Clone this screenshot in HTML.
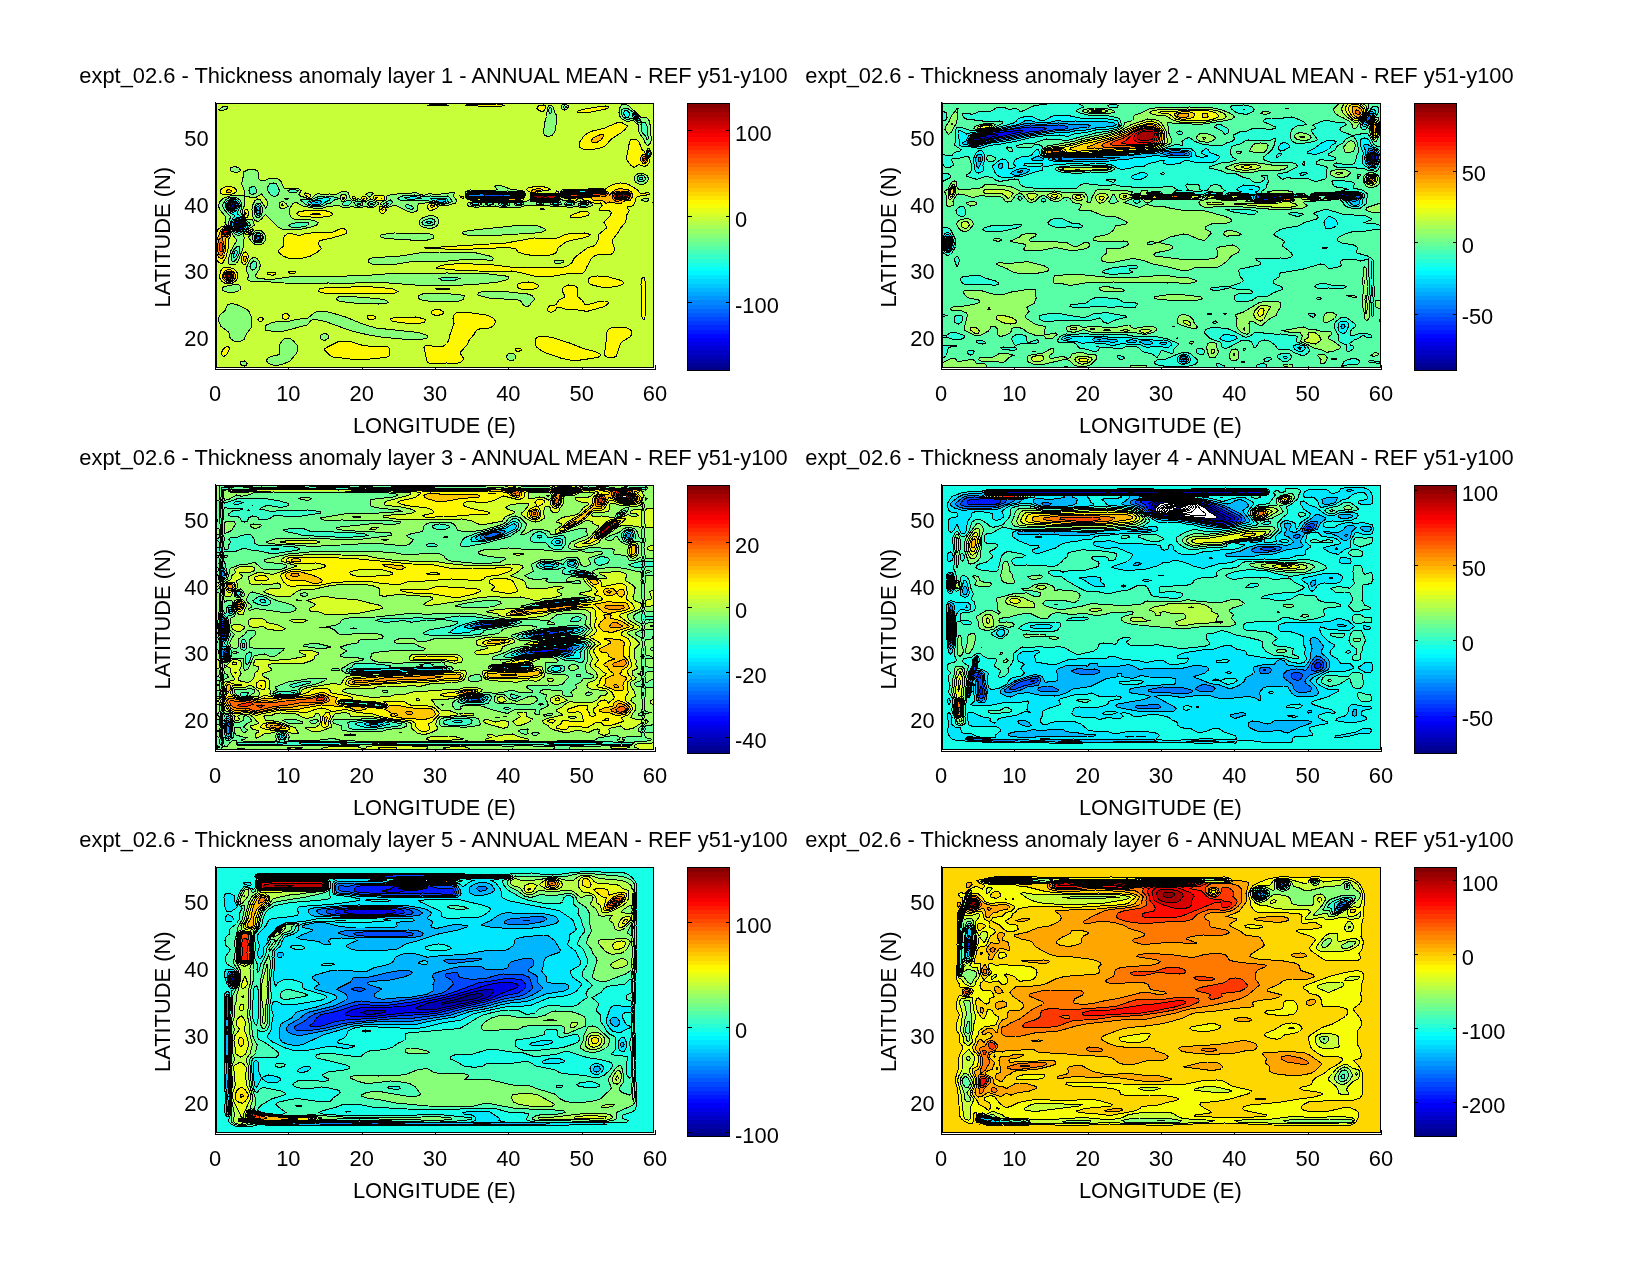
<!DOCTYPE html><html><head><meta charset="utf-8"><title>Thickness anomaly</title>
<style>html,body{margin:0;padding:0;background:#fff;overflow:hidden}svg{display:block;will-change:transform}text{font-family:"Liberation Sans",sans-serif;font-size:21.87px;fill:#000}</style></head><body>
<svg width="1650" height="1275" viewBox="0 0 1650 1275">
<defs><clipPath id="cp1"><rect x="-0.5" y="-0.5" width="438" height="265.5"/></clipPath><clipPath id="cp2"><rect x="-0.5" y="-0.5" width="438" height="266.5"/></clipPath><clipPath id="cp3"><rect x="-0.5" y="-0.5" width="439" height="265.5"/></clipPath><clipPath id="cp4"><rect x="-0.5" y="-0.5" width="439" height="266.5"/></clipPath></defs>
<rect width="1650" height="1275" fill="#fff"/>
<g shape-rendering="crispEdges">
<path d="M215.5 102V369.5H655.5" fill="none" stroke="#000" stroke-width="1"/>
<line x1="215.5" y1="369.5" x2="215.5" y2="364.5" stroke="#000"/>
<line x1="288.833" y1="369.5" x2="288.833" y2="364.5" stroke="#000"/>
<line x1="362.167" y1="369.5" x2="362.167" y2="364.5" stroke="#000"/>
<line x1="435.5" y1="369.5" x2="435.5" y2="364.5" stroke="#000"/>
<line x1="508.833" y1="369.5" x2="508.833" y2="364.5" stroke="#000"/>
<line x1="582.167" y1="369.5" x2="582.167" y2="364.5" stroke="#000"/>
<line x1="655.5" y1="369.5" x2="655.5" y2="364.5" stroke="#000"/>
</g>
<g transform="translate(216.5,103)" clip-path="url(#cp1)" stroke="#000" stroke-width="1" fill-rule="evenodd" shape-rendering="crispEdges"><rect x="0" y="0" width="437" height="264.5" fill="#000087"/><path fill="#000087" d="M0 0l437 0 0 264.5 -437 0 0 -264.5zM22.5 120.5l-0.5 2 0.5 0 0.5 0 -0.5 -2z"/><path fill="#0000c7" d="M0 0l437 0 0 264.5 -437 0 0 -264.5zM22.5 119.5l-2 1.5 0 1.5 2 1.5 2 -1.5 0 -1.5 -2 -1.5z"/><path fill="#0008ff" d="M0 0l437 0 0 264.5 -437 0 0 -264.5zM16 101l-1.5 1.5 0.5 1 1 1 1 -1 0.5 -1 -1.5 -1.5zM21.5 119l-2 2 0 1.5 1 1 2 1.5 2.5 -1.5 0.5 -1 0 -1.5 -1.5 -2 -1.5 -0.5 -1 0.5z"/><path fill="#0048ff" d="M0 0l437 0 0 264.5 -437 0 0 -264.5zM16 99.5l-1.5 0.5 -1.5 2.5 1.5 2.5 1.5 0.5 1.5 -0.5 1 -1.5 0.5 -1 -1.5 -2.5 -1.5 -0.5zM21.5 118l-2.5 1.5 -0.5 3 1.5 2 2.5 1.5 1.5 -0.5 2 -2 0.5 -1 0 -1.5 -2.5 -3 -1.5 -0.5 -1 0.5z"/><path fill="#0087ff" d="M0 0l437 0 0 264.5 -437 0 0 -264.5zM14.5 99l-2 2 -0.5 1.5 1 2.5 3 1.5 2.5 -1 1.5 -3 -1.5 -2.5 -1 -1 -1.5 -0.5 -1.5 0.5zM21.5 117l-3.5 2.5 -0.5 3 2.5 3 2.5 1.5 3.5 -2 1.5 -2.5 0 -1.5 -2.5 -3 -2.5 -1.5 -1 0.5zM267 91.5l1.5 1.5 6.5 0.5 11.5 -0.5 1 -1.5 -15 -0.5 -5.5 0.5z"/><path fill="#00c7ff" d="M0 0l437 0 0 264.5 -437 0 0 -264.5zM14.5 98l-2 1.5 -1.5 3 0 1 2 3 3 1.5 3 -1.5 2 -3 0 -1 -1 -2.5 -1.5 -1.5 -2.5 -1 -1.5 0.5zM22.5 115.5l-2.5 0.5 -1.5 1.5 -2 3.5 0 1.5 1.5 2.5 2 2 2.5 1 4 -2 2 -3.5 0 -1.5 -2 -2.5 -1.5 -1.5 -2.5 -1.5zM40 134l-0.5 1.5 1.5 1 1.5 0 0.5 -1 0 -1.5 -0.5 -0.5 -1.5 -0.5 -1 1zM41 107l0 0.5 0.5 0 -0.5 -0.5zM99.5 99.5l-1 0 1 0.5 2 -0.5 -2 0zM252.5 91l-1 0.5 0 1.5 1 0.5 12 -0.5 9 1 9.5 0 10.5 -1 2.5 -1 8 1 1.5 -0.5 0.5 -1 -2 -0.5 -8 0.5 -23.5 -1 -9.5 0.5 -10.5 0zM418.5 13l0 0.5 0.5 0 -0.5 -0.5zM419.5 14l-0.5 0.5 0.5 1 0.5 -1 -0.5 -0.5z"/><path fill="#08fff7" d="M0 0l437 0 0 264.5 -437 0 0 -264.5zM14.5 96.5l-3.5 3 -1.5 3 0.5 1 1.5 3 2 1.5 2.5 1.5 1.5 -0.5 1 -0.5 2.5 -2 1.5 -4 -1.5 -3 -2.5 -2.5 -2.5 -0.5 -1.5 0zM41 103.5l-1 1.5 -0.5 2.5 0.5 1.5 1 2 1.5 -0.5 1 -3 -0.5 -2.5 -0.5 -1 -1.5 -0.5zM98.5 98l-4 1.5 1 1.5 4 1 4 -1 1.5 -1.5 -0.5 -1 -1 -1 -2.5 0 -2.5 0.5zM220.5 97l-1 0 1.5 1.5 3.5 1 2.5 -0.5 2 -0.5 0 -1.5 -2 -0.5 -6.5 0.5zM252.5 90l-2 1.5 0.5 2 1.5 1 12 -1 12 1 19.5 -1 8 0 2 -0.5 0.5 -1.5 -1 -1 -1.5 -0.5 -51.5 0zM417 12l1 2.5 1.5 2 1.5 0.5 0.5 -1 -1.5 -2.5 -1.5 -2 -1.5 0.5zM21.5 114l-4.5 3 -1.5 2.5 -0.5 3 1.5 2.5 2 2.5 4 1.5 2.5 -0.5 2.5 -2 2.5 -4 -1.5 -3 -3.5 -4 -2.5 -1.5 -1 0zM40 132l-1.5 2 1 3 1.5 1 3 -1 0.5 -1.5 -0.5 -2.5 -1.5 -1 -2.5 0zM259 101l-0.5 0 1 0 -0.5 0zM287 101l-0.5 0 2.5 0 -1 -0.5 -1 0.5z"/><path fill="#48ffb7" d="M0 0l437 0 0 264.5 -437 0 0 -264.5zM14.5 95.5l-4.5 3 -1.5 2.5 0 2.5 2.5 4 3.5 3 2.5 1 1 1.5 -3.5 5.5 -1 2.5 0.5 1.5 2 3.5 2.5 3 4 1.5 2.5 -1 3 -2 2.5 -2.5 1 -2.5 -0.5 -1.5 -6 -7 -2.5 -2 -2 -0.5 0 -1 3 -7 0.5 -1 -1 -3 -2.5 -2.5 -2 -1.5 -2.5 -0.5 -1.5 0.5zM41 101.5l-2 2 -0.5 4 1.5 4 1 1 1.5 0 1.5 -1.5 0.5 -3.5 -0.5 -4 -1.5 -1.5 -1.5 -0.5zM110 94.5l-9 1.5 -4 1.5 -5 1 -1 1 1 1.5 3.5 1.5 4 0.5 4.5 -0.5 2.5 -1.5 2.5 -2 4 -2 0.5 -1.5 -2 -1 -1.5 0zM142 100.5l-1 0.5 1 0.5 2 -0.5 -2 -0.5zM154 101l2 0 -0.5 -0.5 -1.5 0.5zM170 100.5l-0.5 0.5 0.5 0.5 1.5 -0.5 0 -0.5 -1.5 0zM188.5 94.5l0.5 1 3.5 1 13 -1 -2.5 -1 -5 -1 -9.5 1zM211 118l-1.5 1.5 3 1 3 -1 -0.5 -1 -1 -0.5 -3 0zM215 95.5l-1 0 1.5 1.5 7.5 3 5.5 0 3 -1.5 -0.5 -2 -2.5 -1.5 -13.5 0.5zM251 90l-1 1.5 0 1.5 1 1.5 1.5 0.5 4 -0.5 8 -0.5 12 1 19.5 -1 9.5 0 1.5 -1 0 -1.5 -0.5 -1 -1 -1 -1.5 0 -51.5 0 -1.5 0.5zM323 101l-0.5 0 2.5 0 -1 -0.5 -1 0.5zM338.5 99.5l-1 0.5 -1.5 1 2.5 1 3.5 -1 -2 -1.5 -1.5 0zM366.5 87.5l-2.5 0.5 -18 1 0.5 0.5 22.5 -0.5 4 -0.5 11.5 -1 -6 -0.5 -12 0.5zM408 8l-1 2.5 1 2 1 1.5 1.5 0.5 1.5 -0.5 1.5 -2 -1 -2.5 -2 -2 -1.5 0 -1 0.5zM417 10.5l-1 0 -0.5 1.5 1.5 2.5 2.5 3 1.5 0.5 1.5 -0.5 0 -1.5 -1.5 -2.5 -1.5 -1.5 -2.5 -1.5zM423.5 74.5l-0.5 1.5 0.5 0.5 1.5 0 1 -0.5 -0.5 -1.5 -2 0zM431.5 48.5l-0.5 2 0.5 1.5 1 0 0.5 -1.5 -1.5 -2zM20 147.5l-1.5 0.5 -1 2.5 -1 2.5 1 1.5 1 -0.5 2 -2.5 0.5 -2.5 -1 -1.5zM40 131l-2.5 2 0 2.5 0.5 1.5 1 1 2 1 3 -0.5 1.5 -3 0 -2.5 -1.5 -1.5 -1.5 -1 -2.5 0.5zM257.5 99.5l-2 1.5 3.5 1 3.5 -1 -1.5 -1.5 -3.5 0zM272.5 101l1 0 0.5 0 -0.5 0 -1 0zM287 99.5l-2.5 1.5 1 1 2.5 0.5 3.5 -1.5 -2 -1.5 -2.5 0zM301.5 99.5l-2 1.5 3.5 1 2 -1 -1.5 -1.5 -2 0zM352 99.5l-1 0 -1 1.5 3.5 1 2 -1 -1 -1.5 -2.5 0zM365.5 100l-1.5 1 2.5 1 3.5 -1 -2 -1 -2.5 0z"/><path fill="#87ff78" d="M0 0l437 0 0 264.5 -437 0 0 -264.5zM14.5 94l-2.5 1 -3 2 -2.5 4 -0.5 2.5 2.5 4 5 5.5 0 2.5 -1.5 4 0.5 3 5 7.5 2.5 2 2.5 0.5 2.5 -1 7 -6.5 1.5 -2.5 0 -1.5 -1 -1.5 -4.5 -3 -3 -5 -1 -2.5 1.5 -6.5 -0.5 -3 -1.5 -2.5 -4 -2.5 -2 -0.5 -3 0zM36 83.5l-3 1.5 -0.5 2.5 1 3 2.5 1 1 -0.5 2 -0.5 1 -1.5 0 -2.5 -1.5 -2.5 -2.5 -0.5zM53 81l-1.5 2.5 -0.5 3 1 2.5 2.5 3 2.5 1.5 3 -0.5 1.5 -1.5 1 -2.5 0 -2.5 -1.5 -4 -1 -1.5 -3 -1 -4 1zM69 95.5l-0.5 0 0.5 1 1.5 0.5 1.5 -1.5 -3 0zM71.5 87.5l1 1.5 3 1 4 -0.5 1 -0.5 1 -1.5 -4.5 -1 -2.5 0 -3 1zM109 93l-8 1 -5.5 2.5 -2.5 0.5 -6.5 -1 -2.5 1 4.5 4 2.5 1.5 4.5 1 5.5 0.5 5.5 -1 3.5 -2 4 -1 4 -3 3 -0.5 0.5 -1 -0.5 -0.5 -7 -2 -5 0zM133 97l-1.5 0 -4.5 2.5 -1 1.5 1 1.5 2 0.5 3 -0.5 3 -3 0 -1 -2 -1.5zM141 98l-4 1.5 2.5 3 1.5 0.5 2.5 0 2 -0.5 1 -1.5 -0.5 -1.5 -1 -0.5 -4 -1zM153 99l-2 2 2 2 3.5 0 2 -2 0 -1.5 -2 -0.5 -2.5 -0.5 -1 0.5zM171.5 98l-4 2.5 -0.5 0.5 1 1.5 2 0.5 1.5 0 1.5 -0.5 3 -3 -0.5 -1 -1.5 -1.5 -2.5 1zM186 93l-4 1.5 -0.5 1 1.5 1.5 8.5 1 6.5 -0.5 6.5 0.5 5.5 -0.5 6.5 1.5 9.5 2.5 5 -1 4.5 -2 -0.5 -1.5 -2 -2.5 -2 -1.5 -9 1 -8 -1 -7 0.5 -9 -1.5 -12 1zM251 89l-1 1.5 -0.5 2.5 1.5 2.5 1.5 0 4 -0.5 20 0 19.5 -0.5 9.5 0 2 -1.5 0.5 -1.5 -0.5 -1 -2 -2 -14.5 -0.5 -12 0.5 -26.5 0 -1.5 0.5zM321.5 99.5l-1 0 -1 1.5 4.5 1 3.5 -1 -1 -1.5 -5 0zM333.5 4.5l-1.5 2 0 1.5 1.5 2.5 1 -0.5 1 -2 -0.5 -2.5 -1.5 -1zM336 99.5l-1.5 0 -1 1.5 4 1.5 4 0 3.5 -1.5 -1 -2 -8 0.5zM346.5 3.5l0 1 1.5 1 2 -1.5 -2 -1.5 -1.5 1zM377 86.5l-30.5 1.5 -2 1 1 1.5 1 0 28.5 -1.5 11.5 -1.5 -0.5 -1 -1 -0.5 -8 0.5zM408 5l-2.5 1.5 -0.5 3 0.5 2.5 1.5 2.5 3.5 2 2.5 -0.5 1.5 -1 1 0 5.5 4 2.5 1 1 -1.5 -1 -2.5 -4 -5 -9 -6 -2.5 0zM426.5 19.5l-1.5 0.5 -0.5 1.5 0.5 6.5 1.5 2.5 2.5 2.5 1.5 3.5 1 -0.5 0.5 -1.5 -1 -4 -0.5 -8 -1.5 -2.5 -1.5 -0.5 -1 0zM21.5 143l-1.5 1 -2.5 2.5 -2.5 5 -0.5 5.5 1.5 1.5 1.5 0 2.5 -2.5 3 -6 0.5 -5 -1 -1.5 -1 -0.5zM40 100.5l-2 3 -0.5 5.5 0.5 2.5 2 2.5 1 0.5 1.5 0 2 -1.5 1 -2.5 0.5 -5.5 -2 -4 -1.5 -1 -1.5 0 -1 0.5zM81 119.5l-6.5 1.5 -2 1.5 2 1.5 6.5 0.5 6.5 -1 3.5 -1 1.5 -1.5 -0.5 -1.5 -1.5 -0.5 -9.5 0.5zM190 101.5l-1 1 0 1 1.5 1.5 5 1.5 1.5 -1.5 -1 -1.5 -2 -1 -2.5 -1 -1.5 0zM212.5 115.5l-5.5 2 -1 1 -0.5 1 0.5 1.5 2.5 1.5 4 0.5 2.5 -0.5 3 -1.5 0.5 -2.5 -0.5 -1.5 -3 -1.5 -2.5 0zM228.5 174l-6 1.5 2.5 1.5 7.5 0 6.5 0 4 -1.5 -4 -1.5 -10.5 0zM256.5 99.5l-3 1.5 1.5 1.5 4 0.5 4 -0.5 2 -1.5 -1.5 -1.5 -2 -0.5 -2.5 0 -2.5 0.5zM272.5 99.5l-3.5 1.5 2 1 2.5 0.5 3.5 -1.5 -2.5 -1.5 -2 0zM284 99.5l-2 1.5 1 1.5 2.5 1 5.5 -0.5 1.5 -0.5 1 -1.5 -1.5 -1.5 -2.5 -0.5 -5.5 0.5zM300 99.5l-2.5 1.5 1.5 1.5 1 0 4 0 3 -1.5 -0.5 -1.5 -1 0 -2.5 -0.5 -3 0.5zM349.5 99l-1.5 2 1.5 1.5 2.5 0.5 4 -0.5 2 -1.5 -1.5 -1.5 -3 -1 -3 0 -1 0.5zM364 99.5l-2.5 1.5 1 1.5 3 1 4 -0.5 3 -2 -1.5 -1.5 -1.5 0 -5.5 0zM422.5 72.5l-2 2 0 1.5 0.5 1 1.5 1.5 1 0.5 3 -0.5 2 -1.5 0 -2.5 -1 -1.5 -2.5 -1 -2.5 0.5zM431.5 47.5l-1 1.5 0 1.5 1 2.5 1.5 0 0.5 -1 0 -3 -0.5 -1 -1.5 -0.5zM38.5 130l-2 1.5 -1 2.5 1 3 0.5 1 1.5 1.5 2.5 0.5 3 -0.5 1 -0.5 2 -3.5 0 -1.5 -1 -2.5 -3.5 -2 -2.5 0 -1.5 0.5zM36 159l-2 2 -0.5 2.5 1 2.5 1.5 1 2.5 -1 1.5 -2 0.5 -2 -0.5 -2.5 -1.5 -1 -1.5 -0.5 -1 1z"/><path fill="#c7ff38" d="M0 0l437 0 0 264.5 -437 0 0 -264.5zM6.5 3.5l-2.5 2 -1.5 1 1.5 1.5 2.5 -0.5 2.5 -1 2 -1 0.5 -1.5 -2 -1 -3 0.5zM17.5 63.5l-3.5 1.5 0 1.5 0.5 1.5 3 1 2.5 0.5 2.5 -1 1 -0.5 0 -1.5 -1 -1.5 -2.5 -1 -2.5 -0.5zM33 66l-6 3 -0.5 1.5 0 4 -1.5 6.5 2.5 5.5 0.5 6.5 5 1 5.5 0 1.5 0 4 -2.5 1 -0.5 5 6 1 2.5 0 3 -2 2.5 -5 -8 -3 -1 -1 0.5 -1.5 1 -2.5 5 -0.5 4 0.5 6.5 1 2.5 1 1.5 2 1 2.5 0 2.5 -2 4 -4.5 12 12 4 2.5 13.5 1 5 -0.5 11 -2.5 5 -1.5 1.5 -1.5 0.5 -1.5 -1.5 -1 -3 -1 -5.5 -1 -12 0 -2.5 -0.5 -2 -1.5 -2 -3 0.5 -6.5 2.5 -4 2 -1.5 2 0 6.5 3.5 13 2.5 5.5 0 6.5 -2 9.5 -1 2.5 0.5 2.5 1.5 3 0.5 6.5 -1.5 5.5 1.5 8 -1.5 4 1 2.5 0 3.5 -1 3 -2.5 0 -1.5 -8 -3.5 -5 3 -3 -1 -4 -2.5 -4 2 -2.5 -0.5 -2.5 -2.5 -0.5 -3 -1 -2 -2.5 -1 -4 0 -4 2.5 -3 0.5 -5 -0.5 -6.5 0.5 -5.5 -1 -2.5 1.5 -3 3 -1 0.5 -3 0 -7.5 -2.5 -1.5 -1.5 2 -4 -2 -1.5 -4 -0.5 -9.5 0 -1.5 -0.5 -3 -6.5 -2 -2 -2.5 -1.5 -5.5 0 -8 3 -2.5 -0.5 -1.5 -1.5 -0.5 -5.5 -1 -2.5 -4 -2 -4 0zM154 89l-3.5 1.5 -1 1 3.5 2.5 1 -0.5 2.5 -3 -1 -1.5 -1.5 0zM216.5 1.5l-2.5 0 -3 1 8 0.5 13.5 -0.5 -4 -1 -12 0zM235 89l-3.5 1.5 -5.5 0 -5.5 1.5 -8 -1.5 -4 1.5 -2.5 0 -2 -0.5 -3.5 -1.5 -2.5 -0.5 -5.5 1 -6.5 0 -10.5 1 -5 1.5 -1 4 -4.5 2.5 -1.5 1.5 5 3 3 0.5 5 -2 3 0 12 6 4 1 2.5 -0.5 3 -1.5 0.5 -1 -0.5 -4 1 -1.5 1 -0.5 12 -1 9.5 3 4 0.5 2.5 -0.5 8 -2.5 1 -1.5 0 -1.5 -3.5 -4 0 -1.5 1.5 -1 0.5 -1.5 -3.5 0zM279 83l-1 0.5 2.5 3 -1.5 1 -25.5 -0.5 -2.5 0.5 -1.5 1 -0.5 2 0 4 2 2 1.5 0 4 -1 21 0 18.5 -0.5 9.5 0 2 -0.5 1.5 -3 0 -1 -1 -1.5 -2.5 -1.5 -10.5 -1 -9.5 -3.5 -4 -0.5 -2.5 0.5zM333.5 2l-1.5 1 -1 2.5 -1 8 -1.5 5 -1.5 10.5 0 1.5 1 1.5 2 1 2 0.5 4 -1.5 2 -3 1 -2.5 1.5 -12 -0.5 -2.5 -1.5 -2 -2 -6 -2 -2 -1 0zM348 1l-2.5 1 -1 2 1 2 2.5 1 2.5 -1 1.5 -2 -0.5 -1.5 -1 -0.5 -2.5 -1zM357.5 86.5l-12 0.5 -2 2 0 1.5 3 0.5 33.5 -2 6.5 -1 1 -0.5 0 -1 -1 -1 -1.5 0 -27.5 1zM408 1l-3 1 -2 3.5 -0.5 4 1 4 2 2.5 3.5 2 3 0.5 3.5 -1.5 1.5 0.5 4.5 4 0.5 1 0 5.5 1 2.5 4 5.5 2 4.5 1.5 1.5 1 0.5 2.5 -2.5 1 -4 -1.5 -8 0 -6.5 -1 -4 -2 -2.5 -1.5 -0.5 -4 0.5 -5.5 -5.5 -6.5 -6 -2.5 -1.5 -2.5 -1zM14.5 92.5l-8 3 -3 3 -1.5 4 1 4 5.5 6.5 0.5 2.5 -0.5 4 0.5 1.5 4.5 4.5 3.5 7.5 3.5 4 -6 10.5 -3 9.5 0 2.5 1 1.5 3.5 1 2.5 -0.5 1.5 -1 2.5 -4.5 4 -11 0 -7 1.5 -2.5 -1 -2.5 0.5 -2.5 3 -3.5 5.5 -3.5 1.5 -1 0 -1.5 -0.5 -2.5 -1 -1.5 -1.5 -1 -1.5 0 -2.5 0.5 -1.5 0 -1.5 -2 -1 -3 -0.5 -4 2.5 -6.5 -0.5 -8 -5.5 -1 -8 0.5zM40 127l-5.5 4.5 -2.5 2.5 2.5 4 2.5 2.5 3 1.5 4 -0.5 2.5 -1 2 -2.5 1 -2.5 -0.5 -2.5 -1.5 -2.5 -2.5 -2.5 -2.5 -1 -2.5 0zM178 130l-12 1.5 -1 0 -1 1.5 0.5 1 4 1.5 25.5 1.5 17 0 5.5 -1.5 1 -1.5 -0.5 -1 -1 -1.5 -5 -1 -33 -0.5zM212.5 112.5l-6.5 2.5 -2.5 2 -1 2.5 0 1.5 2 2 2.5 1.5 7 1 4 -1 2.5 -2 1 -1.5 0.5 -2.5 -0.5 -3 -1 -1 -1.5 -1 -2.5 -1 -4 0zM223 149l-20 1 -22.5 3.5 -24 1 -3.5 1.5 -1.5 1 0 1 1 1.5 3 1.5 5 0.5 8 0 12 -0.5 15 -2.5 25 0.5 28 -2.5 22.5 0.5 5 0 1 -1.5 -1.5 -1.5 -2.5 -1 -13 -3 -23.5 -1 -13.5 0zM344 95.5l-0.5 1.5 -2 1.5 -5.5 0 -5.5 1.5 -6.5 -1.5 -8 0.5 -1.5 -0.5 -1 -2.5 -2.5 2 -4 0.5 -5.5 0 -5.5 1.5 -8 -1.5 -2.5 0 -5 1.5 -7 -1 -6.5 0.5 -8 -1 -6.5 1 -2 1.5 0 1.5 3 1 7 1 6.5 -1.5 6.5 0.5 5.5 -0.5 6.5 2 17.5 -0.5 6.5 -2 8 0 6.5 0.5 5.5 -1 8 2 9 -0.5 7 1 6.5 -1 6.5 1.5 3 -0.5 5 -1.5 1 -0.5 0 -1.5 -2 -1.5 -3 -0.5 -6.5 -1 -5.5 1.5 -6.5 -2.5 -5.5 0.5 -2.5 -2zM423.5 70l-2.5 1 -2.5 2 -0.5 1.5 0 2.5 1.5 2.5 3 1.5 2.5 0.5 2.5 -0.5 3.5 -2.5 0.5 -1.5 0 -2.5 -0.5 -1.5 -2 -1.5 -2.5 -1 -3 -0.5zM431.5 45.5l-1.5 2.5 0 2.5 1.5 3.5 1.5 0.5 1.5 -2.5 0 -3 -1.5 -3.5 -1.5 0zM16 182l-8.5 1.5 -1.5 1.5 0 1 0.5 1.5 2.5 1 5.5 1.5 6 -1.5 2.5 -1 1 -1.5 0 -2.5 -1.5 -1.5 -2.5 -0.5 -4 0.5zM36 155l-3 2.5 -2.5 6 -0.5 2.5 0.5 3 2 4 -1.5 2.5 0.5 1.5 2 1 3.5 1 11 -0.5 19.5 1.5 28 0.5 16 -0.5 18.5 0.5 17.5 -1 18.5 0 38.5 3 33.5 0 25 -1.5 18.5 -2 8 -2 2.5 -1.5 0 -1.5 -3 -1 -20.5 -2.5 -38.5 -0.5 -20 1 -17.5 -0.5 -24 0.5 -19.5 1.5 -36 1 -28 0 -12.5 0.5 -14 2 -10.5 0 -7 -1 -2.5 -2 4.5 -7 0.5 -2.5 0 -2.5 -1 -3 -2 -2.5 -2 -1 -2.5 0.5zM305.5 122l-53 5.5 -6 1.5 -0.5 1.5 2 1 4.5 1 16 0.5 50.5 -3 6.5 -1 3.5 -1.5 0 -1 -2.5 -1.5 -5 -2 -8 -1 -8 0zM341.5 157l-4 1 0 1.5 2.5 1 2.5 0 4 -1 0.5 -1.5 -2.5 -1 -3 0zM427.5 95.5l-2.5 1.5 4 1.5 1.5 0 1 -1 0 -2 -1 -0.5 -3 0.5zM14.5 200.5l-3.5 1.5 -2.5 5.5 -5.5 5 -1 3 0 2.5 2.5 5.5 7.5 5.5 0.5 1 0.5 4 2 2.5 3.5 2 5.5 0 3.5 -2 3 -6.5 4.5 -5.5 0.5 -1 -0.5 -9.5 -2.5 -5.5 -2 -2 -10.5 -5 -5.5 -1zM101 208.5l-3.5 1.5 -6 5 -12.5 1.5 -8.5 2.5 -9.5 -0.5 -6.5 1.5 -4.5 2 -1.5 1.5 0 2.5 1 1.5 5 0.5 13 0 23 -6 1.5 -1.5 2.5 -3 2.5 -1 2.5 0 9.5 2 24.5 9 16.5 4 14 2.5 32.5 3 10.5 -1 3 -0.5 1.5 -1.5 -1 -1.5 -2 -1 -6.5 -2 -42.5 -4.5 -12 -3.5 -18.5 -7.5 -15 -4.5 -7.5 -1.5 -5.5 0.5zM122 194l-1 0 -1 1.5 0.5 1 2 1.5 9 1.5 12 1 18.5 0.5 7 -0.5 2.5 -1 -1 -1.5 -3 -1.5 -7.5 -1 -26 -2 -12 0.5zM206 191l-4 1.5 -0.5 1.5 0.5 1.5 2 1 3 1 9.5 1 16 0 10.5 -0.5 4 -1.5 0.5 -2.5 0.5 -1.5 -7 -1 -12.5 -1 -14.5 0 -8 0.5zM265.5 188.5l-3.5 1.5 -1 1.5 1.5 1 10 2.5 29 2 2.5 1 3 4 2.5 1.5 2 0 2 -1.5 1.5 -2.5 3 -3 0 -1 -2.5 -3 -4.5 -1.5 -28 -3 -10.5 0 -7 0.5zM25 258.5l-1 0.5 0 1.5 1 2 3 0.5 2 -1 0.5 -1.5 -1.5 -2 -1 -0.5 -3 0.5zM69 235l-2.5 2 -4 5 0 2.5 1 5.5 -0.5 1 -2 1 -6.5 1.5 -3 1.5 -1 1.5 -0.5 1.5 2 2.5 2.5 1 4 1 4 -0.5 5.5 -1.5 5.5 -2.5 6 -7 1.5 -2.5 0 -2.5 -0.5 -4 -3.5 -4 -2.5 -2 -3 -1 -2.5 0zM106.5 231l-2.5 1.5 -0.5 1.5 1.5 2.5 1.5 0.5 2.5 0 2.5 -1.5 0.5 -3 -1 -1 -2 -1 -2.5 0.5zM292 250.5l-1.5 2 -0.5 1.5 0.5 1 1 1.5 2 1 2.5 0 2 -1 1 -1.5 0.5 -1 -0.5 -1.5 -1.5 -1.5 -2.5 -0.5 -3 0zM124 93l1 -1 1 -0.5 3 0.5 1 1 0 1.5 0 1 -2.5 2.5 -2.5 0 -1.5 -2.5 0.5 -2.5zM63.5 99.5l1.5 -1 2.5 0.5 2.5 2 1 1.5 0.5 1 -4 2 -2.5 0 -1 -0.5 -1.5 -1.5 0 -1 1 -3z"/><path fill="#fff700" d="M250.5 1.5l30 -0.5 5 0.5 2 1 -4.5 1 -8 0 -26.5 -1 2 -1zM322.5 2.5l4.5 -0.5 2 0.5 0.5 1.5 -1.5 3.5 -1 0.5 -3 0 -3 -1.5 -0.5 -1 0.5 -1.5 1.5 -1.5zM380.5 4l8.5 -1 3 1 -1 1.5 -4 1 -15 3 -8 0.5 -3 -0.5 0.5 -1.5 4.5 -1.5 14.5 -2.5zM400 20l4 -0.5 2 0.5 4.5 2.5 0 1.5 -1.5 2 -4 3.5 -10 6.5 -7 7.5 -5.5 2 -8 1 -8 -0.5 -3.5 -2 -0.5 -3 1 -2.5 4 -5.5 3 -2.5 5.5 -2.5 11 -2.5 13 -5.5zM414 37l1.5 -1 3 0 2 1 2 2 2.5 6 0.5 1.5 2 1.5 3 5 2.5 4 -0.5 3 -2 2.5 -3 1 -5 -2 -4 2.5 -1.5 0 -2.5 -1.5 -2.5 -3.5 -1.5 -2 -0.5 -2.5 3 -15.5 1 -2zM398.5 81l5.5 -1 5 0.5 4 1.5 7.5 4.5 3 3.5 3 0.5 5 -1 1.5 1 0 1 -12 2 -2 2 -0.5 4 -1.5 2.5 -1.5 1 -4.5 0.5 -0.5 1.5 2.5 2.5 -2.5 4 -1.5 8 -5 5.5 -2 4 -6 8 0 2.5 2 6.5 -1 3.5 -2.5 2 -2.5 0.5 -9.5 -0.5 -4 1 -3.5 3 -4.5 8 -1.5 4 -2.5 2.5 -4 0.5 -13 0.5 -15 2.5 -10.5 0.5 -6.5 -1 -14.5 -3.5 -8 -1.5 -14.5 0.5 -37.5 -1 -23.5 -2.5 2.5 -1.5 5.5 -1.5 10 -1 8 -0.5 32 1.5 16 2 22.5 1 13.5 -1 14.5 0.5 4 -0.5 4 -1.5 3.5 -3 2 -4 2.5 -2.5 10.5 -8 6.5 -2 3 -2.5 1.5 -3.5 0.5 -5.5 8 -6.5 0 -1.5 -2.5 -4 0.5 -1 5.5 -5.5 1 -2.5 0 -1.5 -1.5 -1 -2.5 -0.5 -5.5 0.5 -2.5 -0.5 0 -1 2.5 -3 0.5 -1 -0.5 -1.5 -1 -1 -5.5 0.5 -6.5 -2.5 -5 -1 -1.5 -1.5 -1.5 0 -2.5 0 -1.5 1.5 -1.5 1 -1 0 -5.5 -2 -6.5 -1.5 -1.5 -1.5 0.5 -1.5 40.5 -2.5 3.5 -1.5 0.5 -1.5 3 -2.5 6.5 -2.5zM10 83.5l3.5 0 4 1 2 2 0.5 1 -0.5 1.5 -2 1.5 -7 1.5 -3.5 -0.5 -3 -1 -0.5 -1.5 0 -1.5 1 -1 2 -1.5 3.5 -1.5zM318.5 83.5l9.5 0.5 3.5 1 2 1.5 -3 1 -9 1 -1 0.5 1 1.5 16 0 1 0 1.5 -2.5 1.5 0.5 2.5 4.5 -1.5 4 -1 1 -1.5 0 -9.5 1 -14.5 -1 -1 -1 -1 -1.5 -0.5 -6.5 -2.5 -1.5 -1 -1 1.5 -1.5 2 -0.5 5 -1zM87.5 90.5l1.5 -0.5 2.5 0.5 2 1 1 1.5 -1.5 1.5 -1.5 -0.5 -4 -2.5 0 -1zM136.5 93l1.5 0.5 1 1 -0.5 1 -1.5 0.5 -1.5 -1 0 -1.5 1 -0.5zM157.5 93l2 -1 6.5 0 1.5 1 0.5 2.5 -0.5 1.5 -1.5 0.5 -6.5 -0.5 -3 -1.5 0 -1 1 -1.5zM243.5 93l3.5 0.5 0 2 -3 -1 -0.5 -1.5zM125.5 94.5l0.5 -0.5 1.5 0 0.5 1.5 -2 1 -0.5 -1 0 -1zM145 94.5l1 -1 3 0 1 1 0.5 1 -0.5 1.5 -2.5 0.5 -2.5 -2 0 -1zM263 95.5l14.5 0.5 18.5 -0.5 8 0 2.5 0 0.5 1.5 -11 2 -8 -1 -7.5 1 -7 -0.5 -6.5 0 -6.5 -1 -5.5 0.5 -1.5 -1 3 -1 4 0.5 2.5 -1zM437 98.5l0 -0.5 0 3.5 -0.5 -2 0.5 -1zM66 101l1 1.5 -0.5 0.5 -1.5 -0.5 0 -1 1 -0.5zM212.5 101l2.5 -0.5 3 0.5 2.5 1.5 1 1 -1 1.5 -2.5 1.5 -4 1 -1.5 -0.5 -1.5 -2 0 -2.5 1.5 -1.5zM163.5 103.5l2.5 0 2.5 1.5 1 1.5 0 1 -2 2.5 -3 0 -2 -2.5 0 -2.5 1 -1.5zM324 105l3 0 0.5 1.5 -2 0.5 -1 -0.5 -0.5 -1.5zM29 106.5l1.5 -0.5 1.5 3 0 2.5 -1.5 3 -1.5 0.5 -1.5 -3.5 0 -2.5 1.5 -2.5zM89.5 107.5l20.5 0.5 3.5 1 2 1.5 0.5 1 -2 1.5 -2.5 0.5 -9 1 -16 -1 -3.5 -0.5 -2 -1.5 -0.5 -1 1.5 -1.5 7.5 -1.5zM363 109l2.5 -0.5 4 0 2 0.5 1.5 1.5 -1 1.5 -4 1.5 -8 1.5 -6 -0.5 0 -1.5 2 -1.5 7 -2.5zM5.5 123.5l2.5 -0.5 2.5 1 3 2.5 1 4 -0.5 2.5 -2.5 4 0 9 -2 8 -3 5.5 -1 1 -1.5 0 -2.5 -2 -1.5 -1.5 0 -27.5 1.5 -3 4 -3zM34 126.5l2 -0.5 0.5 0.5 0 1 -3.5 3.5 -2.5 1 -1.5 -0.5 0 -1 1 -1.5 4 -2.5zM122 126.5l3 -1 2.5 0 2.5 2 0.5 1.5 -1 1.5 -2 1 -12 3.5 -9.5 2 -3 1 -1 1.5 0 1.5 2.5 4 0 1 -3.5 3 -8 4.5 -6.5 1.5 -15 0 -5 -2 -2.5 -2 -2 -2 0 -1.5 4.5 -4 0.5 -1.5 0.5 -8 0.5 -1 2.5 -2 4 -0.5 8 2 6.5 -2 5.5 -0.5 22.5 -1 5 -2.5zM355.5 130.5l12.5 -0.5 6 1.5 -1.5 1.5 -6 2 -13 2.5 -4 1.5 -8 6 -1.5 4 -1 1 -3 1.5 -5.5 1 -13 0 -9 -1 -7 -2.5 -2 -3 -7.5 -1.5 -47.5 2 -32 -1 -4.5 -0.5 81.5 -5 28 -5 21 0.5 4 -1 6 -3 7 -1zM27 150l1 -0.5 1 -0.5 1.5 1 1.5 3 -0.5 2.5 -1 3.5 -1.5 2 -1 0.5 -1.5 -0.5 -1 -1.5 -0.5 -2.5 0.5 -4 1.5 -3zM6.5 165l3 -1 4 0.5 4 1.5 1.5 1.5 2 2.5 0.5 3 -0.5 2.5 -2 2.5 -3 2 -4 1 -4 -1 -3 -2 -1.5 -2.5 -0.5 -2.5 1.5 -5.5 2 -2.5zM54 169l3 0 2.5 1 -1 1.5 -1.5 0.5 -2.5 0 -3.5 -0.5 -0.5 -1.5 3.5 -1zM71.5 169l4 -1 4 1 -1 1 -3 0.5 -2.5 -0.5 -1.5 -1zM374.5 174l6.5 -1 9.5 0.5 12.5 3.5 2.5 1 1.5 1.5 -0.5 1.5 -2 1 -4.5 1.5 -8 1 -8 -0.5 -8 -2 -2.5 -1 -1.5 -1.5 0 -2.5 0.5 -1.5 2 -1.5zM425.5 175.5l1 -1 1 0 1.5 5 0 22.5 -0.5 12 -1 2.5 -1 -0.5 -1 -2 -0.5 -9.5 -0.5 -23.5 1 -5.5zM306 179.5l6 -0.5 5.5 1 4 2 0.5 1.5 -1.5 1.5 -3 1 -6.5 0.5 -7 -0.5 -2 -1 -1.5 -1.5 0 -1.5 1 -1 4.5 -1.5zM352 182l5.5 0.5 2 1 1.5 1.5 0.5 2.5 -0.5 5 0.5 1.5 4 3 2.5 4 1.5 0.5 2.5 0 10.5 -3 5.5 -0.5 2.5 0 1.5 1.5 -0.5 1 -1.5 1.5 -3.5 2 -14.5 4 -4 0 -6.5 -1 -11 -0.5 -9 -2.5 -1.5 1 -1.5 2.5 -1.5 1 -2.5 1 -2.5 -1 -1 -1 0 -1.5 1.5 -2.5 2 -1.5 4 0 1.5 -1 2.5 -4 5.5 -3 0 -1.5 -2 -4 -0.5 -2.5 2.5 -2.5 4 -1.5zM141 183.5l9.5 0 18 1.5 8 1 3.5 1.5 1.5 1 -3 1.5 -3 0.5 -12 0 -16 0.5 -22.5 -1 -17.5 0 -5.5 -1.5 0 -1 1 -1.5 4.5 -1 20 -0.5 13.5 -1zM219 186l7 -0.5 7.5 0.5 -7.5 1 -7 -1zM216 207.5l3 -1 4 0 3.5 2 0.5 1.5 -1.5 1.5 -2.5 0.5 -5 0 -2 -0.5 -1 -1.5 0 -1.5 1 -1zM239.5 210l3.5 -1 5.5 0 21 3 4 1.5 3.5 2 2 2.5 0 1.5 -1.5 2.5 -2.5 2 -2.5 1 -9.5 1 -2.5 1 -1.5 1.5 -1.5 3 -4.5 5 -2.5 5.5 -6 6.5 -0.5 1.5 0 1 3 4 0 1.5 -2.5 2.5 -3 1 -3.5 0.5 -8 -0.5 -12 1 -5.5 -1 -1.5 -1 -1 -2.5 -2.5 -12 1 -1.5 2.5 -0.5 12 1.5 4 -1 3 -2.5 2 -2.5 1.5 -6.5 4 -11 -1 -5 0.5 -3 2.5 -2.5zM66.5 211.5l2.5 -1 1.5 0 2 2 0 1.5 -1 1.5 -1 0.5 -3 0 -1 -0.5 -1 -1.5 1 -2.5zM151.5 212.5l2.5 -0.5 2.5 0 2.5 2 0 1.5 -2.5 1 -3.5 0 -2 -1 -0.5 -1.5 1 -1.5zM43.5 214l1.5 0 1.5 1.5 0 1 -1.5 2 -2.5 -0.5 -1 -1.5 0.5 -1 1.5 -1.5zM174 215.5l5.5 -1 19.5 -0.5 7.5 1.5 2 1 0 1.5 -1 1.5 -3 0.5 -10.5 0.5 -10.5 -1 -8 -1.5 -1.5 -1.5 0 -1zM395.5 224.5l7 -0.5 6.5 0.5 3.5 1.5 2 1.5 1 2.5 -1 2.5 -1 1.5 -7 4 -2.5 2.5 -4 12.5 -3 1.5 -2.5 0.5 -4 -1 -2 -1.5 -0.5 -1.5 1.5 -12 0.5 -9 2 -3.5 3.5 -2zM321.5 234l6.5 -0.5 8 1 18.5 6 12 5 12 3 5 2.5 0.5 1.5 -2 1.5 -4 1 -14 2 -10.5 0 -8 -1.5 -16 -5.5 -5.5 -3 -3.5 -2.5 -1.5 -2.5 0 -5.5 0.5 -1 2 -1.5zM125 238l4 0 5 0.5 11 3.5 6 1 16.5 0.5 4 0.5 2 2 -0.5 6.5 -2 1.5 -10.5 1.5 -13 1 -9.5 0 -21.5 -2.5 -3.5 -2 -5 -5 0 -1 2 -1.5 11 -5.5 4 -1zM8.5 244.5l2 -1 1.5 0 0.5 1 0 2.5 -2 4 -2.5 2 -1.5 0 -1 -1 -0.5 -2 1 -3 2.5 -2.5zM298.5 246l1.5 -0.5 3 0 1.5 0.5 0.5 1 -2 1 -3 0 -1.5 -1 0 -1z"/><path fill="#ffb700" d="M383 32l3.5 -0.5 0.5 0.5 0.5 1 -3 4 -3.5 2 -2.5 1 -2.5 -0.5 -1 -1 0 -1.5 2 -2.5 6 -2.5zM426 52l1.5 -1 1.5 1 2 4 0 2.5 -2 2 -2.5 0 -2.5 -3.5 0 -2.5 2 -2.5zM316.5 86.5l6.5 -1 3.5 1 -6.5 1.5 -1 1 1 1.5 1.5 0.5 16 0 4 -1 1 1.5 0 4 -1 2 -1.5 0 -10.5 0.5 -13.5 -0.5 -1.5 -2 0 -2.5 1 -5.5 1 -1zM399.5 86.5l4.5 -1 8 1.5 2.5 1.5 1 2 0 4 -0.5 1 -2 2.5 -4 -0.5 -2 1 -1 1 -1 0.5 -4 0.5 -8 -1.5 -2.5 1 -1.5 0 -1.5 -1.5 -2.5 -1 -8 0 -0.5 -0.5 -2 -2.5 -1.5 -0.5 -10.5 0.5 -6.5 1 -9.5 -1.5 -1.5 -1 1.5 -1.5 38.5 -2 4 -1.5 2.5 1 1.5 3 3 -3 3.5 -2.5zM10 87.5l2 -1 1.5 0.5 1.5 0.5 -0.5 1.5 -2.5 0.5 -2 -0.5 0 -1.5zM159 94.5l0.5 -0.5 1 0.5 -1 1 -0.5 -1zM147 95.5l0.5 0 0.5 0 -0.5 0.5 -0.5 -0.5zM164.5 95.5l0.5 0 -0.5 0zM263.5 97l5 -0.5 18.5 0.5 9 -1.5 8.5 1.5 -8.5 1 -8 -1 -19.5 0.5 -5 -0.5zM214 102.5l1 -0.5 2.5 0.5 0 1 -2.5 1 -1 -1 0 -1zM164.5 106.5l1.5 -1.5 1 1.5 -1 1 -1.5 -1zM29 110.5l0 -0.5 0.5 0.5 -0.5 1.5 0 -1.5zM96 110.5l7 0 1 1 -4.5 0.5 -5 -0.5 1.5 -1zM6.5 125l3 -0.5 2.5 1.5 1 1.5 0.5 3 -1 2.5 -3.5 2.5 0 1.5 0.5 8 -1.5 6.5 -1.5 3 -1 1 -1.5 0 -2 -1.5 -2 -4 0 -11.5 4 -11 2.5 -2.5zM33 127.5l0.5 0 0.5 1.5 -2 1 -1 -1 2 -1.5zM27 154l1 -1 1 0 1 1 -1 4 -1 0.5 -1 -1.5 0 -3zM9 167.5l3 -1 2.5 0.5 2.5 2 2 2.5 0.5 1.5 -1 2.5 -1 1.5 -3 2 -2.5 0.5 -1.5 0 -2.5 -2 -2 -2 -0.5 -2.5 0.5 -1.5 3 -4z"/><path fill="#ff7800" d="M427 53l0.5 0 1.5 0.5 1 2.5 0.5 1 -1.5 2 -1.5 0 -1.5 -2 0 -2.5 1 -1.5zM388.5 89l1 0 1.5 1.5 -0.5 1.5 -1.5 1 -5 0 -5.5 0.5 -8 -0.5 -14.5 1.5 -9.5 -1.5 4 -1.5 20 -0.5 14.5 -1 3.5 -1zM398.5 89l5.5 -1 5 0 3 0.5 2 2 -0.5 4 -1.5 1.5 -7 1 -4 1.5 -1.5 0 -2.5 -2 -1.5 -2 0 -1.5 1 -2.5 2 -1.5zM315.5 90.5l0.5 -1 1.5 0 4 2 16 0 2.5 -0.5 1.5 0 0.5 2 0 2.5 -0.5 1 -1.5 0.5 -12 0.5 -12 -0.5 -1 -2.5 0.5 -4zM295.5 97l0.5 0 1.5 0 -1.5 0 -0.5 0zM6.5 126.5l1.5 -1 2.5 0.5 1.5 1.5 0.5 3 -2 2.5 -4.5 1 0 1.5 1.5 6.5 0 4 -1 4.5 -1 1.5 -1.5 0.5 -1.5 -1 -1 -2.5 -0.5 -7 1.5 -5.5 3 -2.5 -0.5 -5 1.5 -2.5zM10 169l2 -1 1.5 0 3 2 1 3 -0.5 2.5 -3.5 3 -1.5 0 -2.5 -1.5 -2.5 -3 0.5 -2.5 2.5 -2.5z"/><path fill="#ff3800" d="M427 56l0.5 -1 1.5 0.5 0 1 -1.5 1 -0.5 -1.5zM401.5 89l6.5 0 4 1 0.5 0.5 0.5 1 -0.5 3 -3.5 1 -6.5 1.5 -2.5 -0.5 -2 -1 -1 -2.5 1.5 -2.5 3 -1.5zM317.5 90.5l5.5 1.5 14.5 0 2.5 -0.5 1.5 0.5 0.5 2.5 -0.5 1.5 -1.5 1 -5.5 -0.5 -6.5 0.5 -10.5 -0.5 -2 -1 -0.5 -2.5 1 -2.5 1.5 0zM381.5 90.5l7.5 -0.5 1 0.5 -1.5 1 -10 1 -8 -0.5 -5 0.5 -4 0 -0.5 0.5 -5 0.5 -6 -0.5 4.5 -1 17.5 -0.5 9.5 -1zM6.5 127.5l1.5 -1 1.5 0 1 0.5 1.5 2 -0.5 1.5 -0.5 1 -3 1 -1.5 -1 -0.5 -1 0.5 -3zM4 139.5l1.5 0.5 1 3.5 -1 4 0 1 -1.5 0 -1.5 -2 0 -1.5 0 -3 1.5 -2.5zM10 170l2 -1 1.5 0.5 1 0.5 2 3 -1 2.5 -2 1.5 -1.5 0.5 -1.5 -1 -2 -2.5 0 -1 1.5 -3z"/><path fill="#f70000" d="M399.5 90.5l4.5 -1 5 0 2 1 1 1 -0.5 1.5 -0.5 1.5 -2 0.5 -8 1 -2.5 -1.5 0 -3 1 -1zM316 91.5l1.5 -0.5 5.5 1 13 0.5 4 -0.5 1.5 1 0 1.5 -1.5 1.5 -5.5 0 -6.5 0.5 -10.5 -0.5 -1.5 -0.5 -0.5 -1 0.5 -3zM8 127.5l1.5 -0.5 1 1 0.5 1 -0.5 1.5 -1 0.5 -1.5 0 -0.5 -0.5 -0.5 -1.5 1 -1.5zM10 171.5l2 -1 1.5 0 2 2.5 -0.5 1 -1.5 2 -1.5 0 -2.5 -2 0 -1 0.5 -1.5z"/><path fill="#b70000" d="M401.5 90.5l3.5 -0.5 4 0 1.5 1.5 0 1.5 -1 1.5 -1.5 0.5 -7 0 -1.5 -0.5 0 -1.5 0 -1.5 2 -1zM317 91.5l6 1 11.5 0.5 5.5 -0.5 0.5 0.5 0.5 1.5 -1 1 -5.5 -0.5 -6.5 1 -8.5 -0.5 -3.5 -0.5 0 -2 0 -1 1 -0.5zM9 129l0.5 0 0 0.5 -0.5 -0.5zM12 171.5l1.5 0 0.5 1.5 -0.5 1.5 -1.5 0.5 -1 -1 -0.5 -1 1.5 -1.5z"/><path fill="#870000" d="M401 91.5l4 -1 3 0.5 1.5 0.5 -0.5 1.5 -1 1 -4 0.5 -3 0 -0.5 -1.5 0.5 -1.5zM316.5 93l1 -0.5 9.5 0.5 5.5 1.5 -4.5 1 -8 -0.5 -3.5 -0.5 0 -1.5zM338 94.5l2 -1 0.5 1 -0.5 0 -2 0z"/><path fill="#870000" d="M404 91.5l2 0 0.5 1.5 -2.5 0.5 -1.5 -0.5 1.5 -1.5zM324.5 94.5l2.5 0 0.5 0 -0.5 0 -2.5 0z"/></g>
<text x="215" y="400.7" text-anchor="middle">0</text>
<text x="288.333" y="400.7" text-anchor="middle">10</text>
<text x="361.667" y="400.7" text-anchor="middle">20</text>
<text x="435" y="400.7" text-anchor="middle">30</text>
<text x="508.333" y="400.7" text-anchor="middle">40</text>
<text x="581.667" y="400.7" text-anchor="middle">50</text>
<text x="655" y="400.7" text-anchor="middle">60</text>
<text x="208.7" y="345.988" text-anchor="end">20</text>
<text x="208.7" y="279.363" text-anchor="end">30</text>
<text x="208.7" y="212.738" text-anchor="end">40</text>
<text x="208.7" y="146.113" text-anchor="end">50</text>
<text x="434.3" y="433" text-anchor="middle">LONGITUDE (E)</text>
<text transform="translate(169.7,237.25) rotate(-90)" text-anchor="middle">LATITUDE (N)</text>
<text x="433.5" y="82.6" text-anchor="middle">expt_02.6 - Thickness anomaly layer 1 - ANNUAL MEAN - REF y51-y100</text>
<g shape-rendering="crispEdges">
<rect x="687.5" y="366.52" width="42.4" height="4.77" fill="#000087"/>
<rect x="687.5" y="362.35" width="42.4" height="4.77" fill="#000097"/>
<rect x="687.5" y="358.18" width="42.4" height="4.77" fill="#0000a7"/>
<rect x="687.5" y="354.00" width="42.4" height="4.77" fill="#0000b7"/>
<rect x="687.5" y="349.82" width="42.4" height="4.77" fill="#0000c7"/>
<rect x="687.5" y="345.65" width="42.4" height="4.77" fill="#0000d7"/>
<rect x="687.5" y="341.47" width="42.4" height="4.77" fill="#0000e7"/>
<rect x="687.5" y="337.30" width="42.4" height="4.77" fill="#0000f7"/>
<rect x="687.5" y="333.12" width="42.4" height="4.77" fill="#0008ff"/>
<rect x="687.5" y="328.95" width="42.4" height="4.77" fill="#0018ff"/>
<rect x="687.5" y="324.77" width="42.4" height="4.77" fill="#0028ff"/>
<rect x="687.5" y="320.60" width="42.4" height="4.77" fill="#0038ff"/>
<rect x="687.5" y="316.43" width="42.4" height="4.77" fill="#0048ff"/>
<rect x="687.5" y="312.25" width="42.4" height="4.77" fill="#0058ff"/>
<rect x="687.5" y="308.07" width="42.4" height="4.77" fill="#0068ff"/>
<rect x="687.5" y="303.90" width="42.4" height="4.77" fill="#0078ff"/>
<rect x="687.5" y="299.73" width="42.4" height="4.77" fill="#0087ff"/>
<rect x="687.5" y="295.55" width="42.4" height="4.77" fill="#0097ff"/>
<rect x="687.5" y="291.38" width="42.4" height="4.77" fill="#00a7ff"/>
<rect x="687.5" y="287.20" width="42.4" height="4.77" fill="#00b7ff"/>
<rect x="687.5" y="283.02" width="42.4" height="4.77" fill="#00c7ff"/>
<rect x="687.5" y="278.85" width="42.4" height="4.77" fill="#00d7ff"/>
<rect x="687.5" y="274.68" width="42.4" height="4.77" fill="#00e7ff"/>
<rect x="687.5" y="270.50" width="42.4" height="4.77" fill="#00f7ff"/>
<rect x="687.5" y="266.32" width="42.4" height="4.77" fill="#08fff7"/>
<rect x="687.5" y="262.15" width="42.4" height="4.77" fill="#18ffe7"/>
<rect x="687.5" y="257.98" width="42.4" height="4.77" fill="#28ffd7"/>
<rect x="687.5" y="253.80" width="42.4" height="4.77" fill="#38ffc7"/>
<rect x="687.5" y="249.62" width="42.4" height="4.77" fill="#48ffb7"/>
<rect x="687.5" y="245.45" width="42.4" height="4.77" fill="#58ffa7"/>
<rect x="687.5" y="241.28" width="42.4" height="4.77" fill="#68ff97"/>
<rect x="687.5" y="237.10" width="42.4" height="4.77" fill="#78ff87"/>
<rect x="687.5" y="232.92" width="42.4" height="4.77" fill="#87ff78"/>
<rect x="687.5" y="228.75" width="42.4" height="4.77" fill="#97ff68"/>
<rect x="687.5" y="224.57" width="42.4" height="4.77" fill="#a7ff58"/>
<rect x="687.5" y="220.40" width="42.4" height="4.77" fill="#b7ff48"/>
<rect x="687.5" y="216.22" width="42.4" height="4.77" fill="#c7ff38"/>
<rect x="687.5" y="212.05" width="42.4" height="4.77" fill="#d7ff28"/>
<rect x="687.5" y="207.88" width="42.4" height="4.77" fill="#e7ff18"/>
<rect x="687.5" y="203.70" width="42.4" height="4.77" fill="#f7ff08"/>
<rect x="687.5" y="199.53" width="42.4" height="4.77" fill="#fff700"/>
<rect x="687.5" y="195.35" width="42.4" height="4.77" fill="#ffe700"/>
<rect x="687.5" y="191.17" width="42.4" height="4.77" fill="#ffd700"/>
<rect x="687.5" y="187.00" width="42.4" height="4.77" fill="#ffc700"/>
<rect x="687.5" y="182.82" width="42.4" height="4.77" fill="#ffb700"/>
<rect x="687.5" y="178.65" width="42.4" height="4.77" fill="#ffa700"/>
<rect x="687.5" y="174.47" width="42.4" height="4.77" fill="#ff9700"/>
<rect x="687.5" y="170.30" width="42.4" height="4.77" fill="#ff8700"/>
<rect x="687.5" y="166.12" width="42.4" height="4.77" fill="#ff7800"/>
<rect x="687.5" y="161.95" width="42.4" height="4.77" fill="#ff6800"/>
<rect x="687.5" y="157.78" width="42.4" height="4.77" fill="#ff5800"/>
<rect x="687.5" y="153.60" width="42.4" height="4.77" fill="#ff4800"/>
<rect x="687.5" y="149.43" width="42.4" height="4.77" fill="#ff3800"/>
<rect x="687.5" y="145.25" width="42.4" height="4.77" fill="#ff2800"/>
<rect x="687.5" y="141.07" width="42.4" height="4.77" fill="#ff1800"/>
<rect x="687.5" y="136.90" width="42.4" height="4.77" fill="#ff0800"/>
<rect x="687.5" y="132.72" width="42.4" height="4.77" fill="#f70000"/>
<rect x="687.5" y="128.55" width="42.4" height="4.77" fill="#e70000"/>
<rect x="687.5" y="124.38" width="42.4" height="4.77" fill="#d70000"/>
<rect x="687.5" y="120.20" width="42.4" height="4.77" fill="#c70000"/>
<rect x="687.5" y="116.03" width="42.4" height="4.77" fill="#b70000"/>
<rect x="687.5" y="111.85" width="42.4" height="4.77" fill="#a70000"/>
<rect x="687.5" y="107.68" width="42.4" height="4.77" fill="#970000"/>
<rect x="687.5" y="103.50" width="42.4" height="4.77" fill="#870000"/>
<rect x="687.5" y="103.5" width="42.4" height="267.2" fill="none" stroke="#000" stroke-width="1"/>
<line x1="687.5" y1="130.5" x2="691.5" y2="130.5" stroke="#000"/>
<line x1="725.9" y1="130.5" x2="729.9" y2="130.5" stroke="#000"/>
<line x1="687.5" y1="216.5" x2="691.5" y2="216.5" stroke="#000"/>
<line x1="725.9" y1="216.5" x2="729.9" y2="216.5" stroke="#000"/>
<line x1="687.5" y1="302.5" x2="691.5" y2="302.5" stroke="#000"/>
<line x1="725.9" y1="302.5" x2="729.9" y2="302.5" stroke="#000"/>
</g>
<text x="735.1" y="140.967">100</text>
<text x="735.1" y="226.939">0</text>
<text x="735.1" y="312.91">-100</text>
<g shape-rendering="crispEdges">
<path d="M941.5 102V369.5H1381.5" fill="none" stroke="#000" stroke-width="1"/>
<line x1="941.5" y1="369.5" x2="941.5" y2="364.5" stroke="#000"/>
<line x1="1014.83" y1="369.5" x2="1014.83" y2="364.5" stroke="#000"/>
<line x1="1088.17" y1="369.5" x2="1088.17" y2="364.5" stroke="#000"/>
<line x1="1161.5" y1="369.5" x2="1161.5" y2="364.5" stroke="#000"/>
<line x1="1234.83" y1="369.5" x2="1234.83" y2="364.5" stroke="#000"/>
<line x1="1308.17" y1="369.5" x2="1308.17" y2="364.5" stroke="#000"/>
<line x1="1381.5" y1="369.5" x2="1381.5" y2="364.5" stroke="#000"/>
</g>
<g transform="translate(942.5,103)" clip-path="url(#cp3)" stroke="#000" stroke-width="1" fill-rule="evenodd" shape-rendering="crispEdges"><rect x="0" y="0" width="438" height="264.5" fill="#000087"/><path fill="#000087" d="M0 0l438 0 0 264.5 -438 0 0 -264.5zM32 37l0 0.5 2 -0.5 -0.5 0 -1.5 0zM408.5 90.5l-1.5 1 3.5 0 0.5 -1 -2.5 0z"/><path fill="#000097" d="M0 0l438 0 0 264.5 -438 0 0 -264.5zM32 35.5l-1.5 1.5 0 1.5 1.5 0.5 4.5 -2 2 -1 -2.5 -1 -4 0.5zM407.5 90.5l-2.5 1 2.5 1 4.5 -1 0 -1 -4.5 0z"/><path fill="#0000c7" d="M0 0l438 0 0 264.5 -438 0 0 -264.5zM5.5 138l-1.5 1.5 0 1.5 1.5 1 0.5 -1 0 -1.5 -0.5 -1.5zM34.5 34.5l-4 1 -1 1.5 0 1.5 1 1 3 0 5.5 -2.5 4.5 -2.5 -1 -1.5 -8 1.5zM325 94l-1.5 0.5 5 0 -2.5 -0.5 -1 0zM406 90.5l-2 1 2 1.5 1.5 1.5 1 0 -1 -1.5 5.5 -1.5 -0.5 -1 -1 -0.5 -5.5 0.5zM430 52.5l-1.5 2 0 2 1.5 0.5 1.5 -1 0 -1.5 0 -1 -1.5 -1z"/><path fill="#0000f7" d="M0 0l438 0 0 264.5 -438 0 0 -264.5zM4 137.5l-1 2 0 1.5 1 2 1.5 0.5 1 -1.5 0.5 -2.5 -0.5 -1.5 -1 -1 -1.5 0.5zM44 32l-12.5 2.5 -2 1.5 -1 2.5 2 1.5 3 0 21.5 -8 -3 -0.5 -8 0.5zM321 94.5l1 0.5 5.5 0 4 -0.5 -6.5 -1 -4 1zM404.5 90l-1 0.5 -1 1 2.5 3 2.5 0.5 2.5 -0.5 0.5 0 -1 -1.5 4.5 -1.5 -0.5 -1 -2 -0.5 -7 0zM428.5 52l-1 1 0 3 1 2 1.5 0.5 2 -1.5 0.5 -1 0 -2.5 -1 -2 -1.5 0 -1.5 0.5z"/><path fill="#0028ff" d="M0 0l438 0 0 264.5 -438 0 0 -264.5zM4 136.5l-1.5 1.5 0 3 1 2.5 2 1 1 -1 1 -1.5 0.5 -2.5 -1.5 -3 -1 -0.5 -1.5 0.5zM70.5 28l-26.5 3 -12 2.5 -3.5 2.5 -1 2.5 2 2 4 0 12 -4 27.5 -6.5 5.5 -1 2 -1 -3.5 -1 -6.5 1zM323.5 93l-5 1.5 -1 1 2 0.5 5.5 -0.5 5 0.5 4 -1.5 -2.5 -1 -8 -0.5zM388.5 91.5l4.5 0 -3 0 -1.5 0zM400.5 90.5l-0.5 0 1 1 2 1.5 0 1.5 5.5 1.5 3 -0.5 0.5 -1 -1.5 -1.5 4.5 -1.5 -1 -1 -2.5 -1 -11 1zM428.5 50.5l-2 2.5 0 3 1 2.5 1 1 1.5 0.5 1.5 -0.5 1 -2 1 -3 -0.5 -2.5 -1.5 -1.5 -1.5 -0.5 -1.5 0.5z"/><path fill="#0058ff" d="M0 0l438 0 0 264.5 -438 0 0 -264.5zM4 135.5l-2 2.5 0 3 0.5 2.5 1.5 1.5 1.5 0.5 2 -2 1 -4 -0.5 -2 -1.5 -2 -1 -0.5 -1.5 0.5zM78.5 25l-34.5 5 -12 3 -3 1.5 -2 2.5 0 1.5 0.5 1.5 2 1 4 0.5 13 -4.5 34 -6.5 7.5 -2 9 -0.5 5.5 -1.5 1.5 -1 -4 -1 -12 -0.5 -9.5 1zM242.5 90.5l-1 0 5 0 -1.5 -0.5 -2.5 0.5zM302 91.5l-0.5 0 2 0 -1.5 0zM321 93l-4 1 -1 1.5 5.5 1.5 4.5 0 5.5 -1 5.5 -1.5 -2.5 -1.5 -13.5 0zM398 90.5l-1.5 1 -6.5 0 -3 0 12.5 0.5 2 1 0.5 1.5 1.5 0.5 6.5 1.5 3.5 -1 0.5 -1 -2 -1.5 3.5 -0.5 0.5 -1 -1 -1 -3.5 -1 -13.5 1zM428.5 49l-2.5 3 -0.5 4 2 4 2.5 1 1.5 -0.5 1.5 -2 1.5 -2.5 0 -3 -2 -3 -2.5 -1 -1.5 0z"/><path fill="#0097ff" d="M0 0l438 0 0 264.5 -438 0 0 -264.5zM5.5 134l-1.5 0.5 -1.5 1 -1.5 4 0.5 2.5 1 3 1.5 1 1.5 0 1 -0.5 1.5 -1.5 1 -4.5 -1 -3.5 -1.5 -1.5 -1 -0.5zM84 22.5l-16 3.5 -25.5 3.5 -12 3 -2.5 2 -1 1.5 -1 2.5 0 1.5 3.5 1.5 4 0.5 14.5 -4 40 -7.5 10.5 -1.5 12 -2 12 -1 2 -0.5 0.5 -1.5 -3.5 -1.5 -5.5 -0.5 -19 1 -9 -1 -4 0.5zM209 90.5l-0.5 0 7 0 -2.5 -0.5 -4 0.5zM229 49l-3.5 1.5 5 1.5 5 0 6 0 2 -1.5 -2.5 -1 -5.5 -0.5 -6.5 0zM299.5 91.5l-0.5 0 4.5 0.5 2 -0.5 -3.5 -0.5 -2.5 0.5zM313 91.5l1 1.5 0.5 2.5 3.5 1.5 4 0.5 8 -0.5 9.5 -3.5 5 -0.5 -21 -0.5 -5.5 0 -5 -1zM375.5 91.5l-1.5 0 3 0 -1.5 0zM396.5 90.5l-11 1 14 1 1.5 0.5 0 1.5 1 0.5 4 1.5 4 0.5 4 -0.5 3.5 -2 0.5 -1.5 -2.5 -2.5 -3 -1 -5 -0.5 -11 1.5zM427.5 12l-1.5 1 -2 3 -0.5 1.5 1 1 1.5 -0.5 1.5 -2 1 -2.5 -1 -1.5zM428.5 47.5l-1 0.5 -1.5 2 -1 3 -0.5 3 0.5 2.5 2 2.5 1.5 1 1.5 0.5 1.5 -0.5 2 -2 1.5 -4 0.5 -3 -1.5 -2.5 -1.5 -1.5 -2.5 -1.5 -1.5 0zM116 56l1 0 2.5 0 -2.5 -0.5 -1 0.5zM237 90.5l8 0.5 3 -0.5 -3 -0.5 -8 0.5zM241 255l-1 0 -0.5 1.5 1.5 0.5 1.5 -0.5 0 -1.5 -1.5 0z"/><path fill="#00c7ff" d="M0 0l438 0 0 264.5 -438 0 0 -264.5zM5.5 133l-1.5 0 -1.5 1 -1.5 3 -0.5 2.5 0 2.5 1.5 3 2 2 1.5 0 1 0 2 -2 1 -3 0.5 -2.5 -1 -2.5 -1 -2.5 -2.5 -1.5zM81 21l-13 3.5 -17.5 3 -20 4 -2.5 1.5 -1 1.5 -2 4 -0.5 1.5 3.5 2 5.5 0.5 5 -1 9.5 -2.5 13 -2 25.5 -5 26.5 -4 12 -0.5 8 -2 12 -1.5 1.5 0 1.5 -1.5 -4 -1 -19 -0.5 -9 -1 -17.5 1.5 -12 -1 -5.5 0.5zM207.5 90l-0.5 0.5 6 0.5 3.5 -0.5 -3.5 -0.5 -5.5 0zM229 48l-7.5 1 -2.5 1.5 6 2 14.5 0.5 5.5 -0.5 1.5 -0.5 0.5 -1.5 -1.5 -1.5 -3 -0.5 -9.5 -1 -4 0.5zM293 91.5l-1 0 11.5 1 3.5 -1 -5 -0.5 -9 0.5zM311.5 91.5l-1 0 2 1.5 0.5 2.5 2.5 1.5 6.5 1 9.5 -1 5.5 -2 9.5 -2 -35 -1.5zM357 93l1 0 2.5 0 -2.5 -0.5 -1 0.5zM373 91.5l-0.5 0 3 0.5 3.5 -0.5 -3.5 -0.5 -2.5 0.5zM406 89l-18.5 2 -3 0.5 13.5 1 2 0.5 0 1.5 2 1.5 9.5 2.5 2.5 -0.5 4.5 -3.5 0.5 -1.5 -1 -1.5 -2.5 -1.5 -5.5 -1 -4 0zM427.5 10.5l-3 2.5 -2.5 4.5 0 1 1.5 1.5 2.5 -1 3 -4.5 1 -2.5 -0.5 -1.5 -1 -0.5 -1 0.5zM37.5 54.5l-1.5 0 -0.5 1.5 0.5 2 1.5 0 0 -1 0 -2.5zM78.5 67.5l-0.5 0.5 -3 1 2 0.5 2.5 -0.5 0.5 -1 -1.5 -0.5zM113 54.5l-3 1.5 3 1 4 0.5 13.5 -0.5 6.5 -0.5 15 0 13 -0.5 12 -1.5 -24 -0.5 -16 1 -17 -1 -7 0.5zM234.5 90l-1 0.5 11.5 0.5 4 -0.5 -4 -1 -10.5 0.5zM426 46l-2.5 8.5 0.5 4 1.5 2.5 2 2 2.5 0.5 1.5 -0.5 2 -2 2 -4 1 -2.5 -0.5 -2.5 -1.5 -3 -3 -2.5 -4 -1 -1.5 0.5zM156 236.5l-1 0 2 0.5 1.5 -0.5 -2.5 0zM239.5 253.5l-1.5 1.5 0 1.5 1 1.5 2 0.5 2.5 -0.5 1 -1.5 -1 -2 -1 -1 -3 0z"/><path fill="#00f7ff" d="M0 0l438 0 0 264.5 -438 0 0 -122 1 2.5 1.5 2.5 3 1 1 -0.5 2 -2 1.5 -2.5 0.5 -4 -0.5 -2.5 -1 -3 -2.5 -2 -1 -0.5 -1.5 0 -1.5 1.5 -2 2.5 -0.5 2.5 0 -138zM84 17l-8.5 4.5 -4.5 1 -41.5 8.5 -3.5 2 -2 4.5 -4 2.5 0 1 5.5 1 5 1.5 4 0 4 -0.5 9.5 -3 13 -1.5 27 -5.5 28 -3.5 9 0 7 -1.5 12 -1 9 -2 16 -1.5 4 -1 0.5 -1 -2 -1.5 -9 -1.5 -17.5 0 -12 -0.5 -10.5 0.5 -8 -1 -8 2 -8 0.5 -4 -0.5 -8 -2.5 -2.5 0zM222.5 47.5l-9.5 3 -11 0 -10.5 1.5 -6.5 0 -49 2 -17.5 -0.5 -10 1 -3 1.5 1 1 1.5 0.5 8 1.5 51.5 -1 7 -1 10.5 -0.5 9.5 -2.5 9 0 9.5 -1.5 12 1.5 12 0.5 9.5 0 2.5 -1 0.5 -1.5 -1 -3 -3.5 -1.5 -13.5 -1 -9 1zM266.5 90.5l-1 0 3 0 -1 0 -1 0zM274 90.5l1.5 1 1.5 0 0.5 -1 -3.5 0zM294 90.5l-6.5 0.5 -0.5 0.5 18 1.5 4 -0.5 1.5 0.5 0.5 2.5 2 1.5 10.5 1 9.5 -0.5 5 -2.5 10.5 -2 -3.5 -0.5 -22.5 -1 -8.5 -0.5 -5 0.5 -5.5 -1 -9.5 0zM307.5 86l-0.5 0.5 3.5 0 -1.5 -0.5 -1.5 0zM357 91.5l-2 1.5 3 0.5 4 -0.5 -2.5 -1 -2.5 -0.5zM371.5 91.5l-0.5 0 3 1 7 -1 -4 -0.5 -5.5 0.5zM403.5 89l-17.5 1.5 -3.5 1 15.5 1 1.5 0.5 0 1.5 1 1.5 6 2.5 3.5 3.5 4 0.5 2.5 -1.5 1 -4 2.5 -2.5 0.5 -1.5 -0.5 -1.5 -3.5 -1.5 -4 -1.5 -4 0 -5 0.5zM427.5 9l-3 3 -3 5.5 -0.5 2.5 1 1.5 1.5 0 2.5 -1 2.5 -3 2 -4 1 -3 -0.5 -1 -1 -1 -2.5 0.5zM36 51l-2 2 -1 3 1.5 7.5 1.5 1.5 3.5 -6.5 0.5 -2.5 -0.5 -3 -1 -1.5 -1 -0.5 -1.5 0zM57 61l-1.5 1.5 0 1.5 1.5 1.5 1.5 0 1.5 -1.5 0 -3 -1.5 -0.5 -1.5 0.5zM74.5 66.5l-5 2.5 -1 1.5 3 1.5 5.5 0 5.5 -1.5 4 -2.5 0 -1.5 -4 -1 -4 0 -4 1zM96 53l-3 1 -4 2 1 1 7 0.5 4 -0.5 0.5 -1 -5.5 -3zM124 234.5l-1.5 1 2.5 1 1.5 0 2 -1 -2 -1 -2.5 0zM152 235l-1 0.5 -1 1 1.5 1.5 3 1 9.5 -0.5 6.5 1 2 -0.5 2.5 -1 -1 -1.5 -2.5 -0.5 -6.5 0 -8 -1.5 -5 0.5zM185 237.5l-1 0.5 1 1 2.5 1 6 -1 1 -1 -5.5 -1.5 -4 1zM198.5 238l-1 0 -0.5 1 5.5 2.5 4 0.5 3 -1.5 0 -1.5 -3 -1.5 -4 0 -4 0.5zM206.5 90.5l1 0.5 4 0 6 -0.5 -4.5 -1 -6.5 1zM218.5 239l-1 1.5 2 1 3 0.5 1.5 -1.5 -0.5 -1.5 -1 0 -4 0zM233 90l-1 0.5 13 1 2.5 -0.5 2.5 -0.5 -3.5 -1 -13.5 0.5zM355.5 244.5l1.5 1.5 1 0 1 -1.5 -2 -0.5 -1.5 0.5zM399.5 221.5l-1 2 0.5 1 0.5 1 1 0 1.5 -1 0.5 -1 -0.5 -1.5 -1.5 -1 -1 0.5zM422 41l-1 1.5 2.5 6.5 -1.5 5.5 1 5.5 2 2.5 1.5 1.5 2 0.5 3 0 2.5 -2 3.5 -6.5 0 -3 -0.5 -2.5 -1.5 -2.5 -2 -1.5 -9 -5.5 -2.5 0zM239.5 252.5l-2 1.5 -1 1 0.5 3 2.5 2 3 0 1.5 -1 1.5 -1 0.5 -1.5 -1 -2.5 -2.5 -1.5 -3 0z"/><path fill="#28ffd7" d="M0 0l438 0 0 48 -8.5 -5.5 -3 -5.5 -2 -1.5 -2.5 -0.5 -3 1 -1 1 0 4 0.5 3 2.5 6.5 -1.5 4 0 4 1 2.5 1.5 1.5 5.5 3.5 4 0 1 -0.5 2 -1.5 3.5 -6.5 0 207 -438 0 0 -119 2.5 3.5 1.5 0.5 2.5 0 3.5 -3.5 1.5 -4 0 -2.5 -1.5 -5.5 -2 -3 -1.5 -1 -2.5 -0.5 -1.5 1 -2.5 4 0 -134.5zM110.5 13l-2.5 1 -4 2.5 -3 1 -4 -0.5 -8 -3.5 -8 0.5 -5 1.5 -2.5 3 -2.5 1.5 -8.5 2.5 -18.5 5 -14.5 2 -5.5 1.5 -4 -2.5 -2.5 -1 -1.5 0.5 -0.5 2.5 0 2.5 1.5 4 -0.5 4 1 1.5 2.5 1 5.5 -0.5 5 1.5 8 1 8 -3 12 -1.5 16 -3 14.5 -3.5 15 -2 6.5 0 6.5 -0.5 8 1.5 7.5 -3 11.5 -1 9 -2.5 13.5 -1 5 -1 3.5 -1 1.5 -1.5 0 -1 -1 -2.5 -1 -1.5 -9.5 -1.5 -10.5 -0.5 -12 0.5 -14.5 -3 -12 -0.5 -5.5 0.5zM231.5 45l-8 1 -10.5 3 -12 0.5 -9.5 1.5 -26.5 1.5 -33 0.5 -12 -0.5 -16 2 -3 -0.5 -2.5 -1.5 -1.5 -2 -0.5 -2.5 -0.5 -1.5 -1.5 0 -2 1.5 -3.5 4 -1 0.5 -3 1 -6.5 0.5 -5.5 2.5 -0.5 0.5 -1.5 3 0 1 1.5 1.5 0 1.5 -2 1 -4 1 -1 -1 0.5 -4 0 -1 -2.5 -3 -3.5 -1 -1.5 0.5 -2.5 1.5 -5.5 4.5 -0.5 1.5 3 6.5 3 2.5 2.5 1 4 0.5 16 -1 4 -1 8 -3 9.5 -2.5 0.5 -3 0.5 -0.5 5.5 -0.5 5.5 -1.5 24 -1 9 1 8 -1.5 5.5 0 10.5 2 2.5 1 4 2.5 4 1 7 -1 6.5 -2 8 0 5.5 -3 9 -2 4 -1.5 2.5 0 -1.5 3 3 1 4 0.5 9.5 -1 5.5 -3 1 -0.5 9.5 2.5 9.5 0.5 6.5 -0.5 4 -1 4 -4 -0.5 -1.5 -9 -3.5 -2 -3 -2 -1 -1 0.5 -2.5 2 -1 1 0 1.5 6.5 2.5 -6 1.5 -5.5 -1.5 -1 -1 -0.5 -3 -3.5 -3 -17.5 -1zM281 232l-2.5 2 -1 1.5 1 1 3.5 1.5 5.5 0.5 5 -2 2 -1 -0.5 -1.5 -2.5 -1.5 -8 -1 -2.5 0.5zM301 6.5l-0.5 0 2 0 -0.5 0 -1 0zM341 39.5l-3 1.5 -2 3 0.5 2.5 1.5 1.5 4 -1 5 -3 0 -1.5 -2 -2 -3 -1 -1 0zM354 91.5l-1 0 -0.5 1.5 5.5 0.5 5 -0.5 -3.5 -1.5 -5.5 0zM362 69l-4.5 1.5 0.5 1.5 3 0 4 -1.5 -1 -1.5 -2 0zM383.5 38l-4.5 2 -6.5 5 -7.5 4 0 1.5 8 1 6.5 -2 6.5 -3 1.5 -1.5 1.5 -2.5 4 -2.5 1 -1.5 -4 -1 -6.5 0.5zM400.5 88.5l-13 1.5 -5.5 1 -9 -0.5 -3.5 1 3.5 1.5 9 -1 13.5 0.5 2.5 0.5 0.5 0 1 3 4 2.5 3.5 4 3 1 5.5 0 2.5 -1 1.5 -1.5 0.5 -4 2.5 -4 -0.5 -1.5 -1.5 -1 -5 -2 -3 -0.5 -6.5 0 -5.5 0.5zM430 6.5l-1.5 0.5 -2.5 2.5 -5.5 8 -1 4 1 1.5 3 0 2.5 -1.5 6.5 -9.5 0.5 -2.5 0 -1.5 -1.5 -1.5 -1.5 0zM428.5 158l0 18 0.5 -2 -0.5 -16zM36 48l-3 2.5 -2 5.5 1 10.5 1.5 2.5 2.5 1 2.5 -1 2 -1 0.5 -1.5 -0.5 -4 1.5 -5.5 0 -5 -1.5 -3 -2 -2 -1 0 -1.5 1zM121 233.5l-2 2 0.5 1 1.5 1 4 0.5 7 0 6.5 2 2.5 0.5 5.5 -1.5 5.5 1 9 0.5 6.5 1.5 5.5 0 6.5 -1.5 8 1 8 -0.5 8 3 4 0 7 -1 9 1.5 3 -0.5 2.5 -2 0 -1.5 -1.5 -1.5 -2.5 -1.5 -4 -0.5 -8 0.5 -6.5 -1.5 -11 0 -9 -1.5 -7 0.5 -6.5 -1 -8 0 -9 -1 -15 0 -6.5 1 -9.5 -1.5 -4 1zM195.5 70.5l-6 2.5 -0.5 1.5 2.5 1.5 7.5 0 3.5 -1.5 2 -1.5 0.5 -1 -1 -1.5 -3 -1 -2.5 0 -3 1zM206.5 90l-1 0.5 3.5 1 6.5 -0.5 3 -0.5 -1.5 -1 -2.5 -0.5 -8 1zM231.5 90l-0.5 0.5 2 0.5 13.5 0.5 2.5 0 2.5 -1 -1 -1 -4 -0.5 -12 0.5 -3 0.5zM263.5 90l-1 0.5 1 1 1.5 0.5 6.5 -0.5 6.5 0.5 1.5 -0.5 0.5 -1 -3 -1 -13.5 0.5zM301 82l-5.5 3 -1 1.5 1 1 3.5 1.5 -13 1 -1.5 0.5 0.5 1 22.5 2 1.5 1 0 1.5 1 1 13.5 1.5 10.5 -1 1.5 0 1 -2 1.5 -0.5 13 -2 -5 -1 -18.5 -0.5 -13 -1 -1.5 -1.5 2.5 -1 1.5 -1.5 0.5 -1.5 -2 -1.5 -5.5 -1 -9 -0.5zM337 50l-3.5 3 0.5 1.5 3 -1 1.5 -1.5 0 -1.5 -0.5 -0.5 -1 0zM353 242l-2 1 0 1.5 1 1.5 2 1.5 3 1 2.5 0 2 -1.5 1 -1 0 -1.5 -1 -1.5 -2 -0.5 -4 -1 -2.5 0.5zM386 113.5l-3.5 3.5 -1 2.5 1.5 5.5 1.5 1 3 -0.5 4 -1 2.5 -2 1 -1.5 -0.5 -2.5 -2.5 -3 -3.5 -1.5 -2.5 -0.5zM399.5 218l-2.5 1.5 -1 1 -0.5 4 1 3.5 1.5 1.5 2.5 1 1.5 -0.5 1.5 -1 2.5 -5.5 0.5 -1.5 -1.5 -2.5 -1.5 -1 -4 -0.5zM428.5 182.5l0 9 1.5 1.5 0 -8 -1.5 -2.5zM241 251l-4 1.5 -2.5 2.5 0.5 3 0.5 1 1.5 1.5 2.5 1 3 -0.5 2.5 -0.5 2 -1.5 1 -2.5 -1 -2.5 -1 -1.5 -2.5 -1 -2.5 -0.5zM342 253l-1 1 0.5 1 2 0.5 1 -0.5 0 -1 -1 -1 -1.5 0zM86 60l8.5 0 5.5 1 0 1.5 -1.5 0.5 -10.5 0.5 -7 -1 1 -1.5 4 -1z"/><path fill="#58ffa7" d="M0 0l9.5 0.5 104 -0.5 -21.5 2.5 -12 5.5 -3 0 -1 -1.5 -3 -1 -6.5 1 -6 -2.5 -3.5 0 -3.5 1 -5.5 3.5 -9.5 -0.5 -8 3 -2.5 0 -7.5 -0.5 -0.5 1.5 1 2.5 3 1.5 20 2.5 6.5 0 6.5 -0.5 2.5 0.5 0.5 1.5 -2 1.5 -9 4 -11.5 2 -5.5 0.5 -5.5 -1 -9 -3 -3 0.5 -1 1.5 -1 2 0 6.5 0.5 4 -1 2.5 0.5 1.5 6 4 -1 1.5 -5.5 1.5 -2.5 3 -1.5 0.5 -8 -1.5 0 -34.5 2.5 0.5 1.5 -1.5 0.5 -1.5 -1 -2.5 0.5 -2.5 -4 -1 0 -8.5zM133.5 0l304.5 0 0 43 -4 0 -2.5 -1.5 -5.5 -10 -1.5 -1 -1 -0.5 -13.5 2.5 -9.5 -3.5 -2 -1 -1 -1.5 0.5 -1.5 4.5 -2.5 1 -1 -1 -1.5 -3 -1 -7 0 -8 -1.5 -2.5 0 -11 4 -0.5 1 2 1.5 0.5 1.5 -3.5 1 -1 1.5 5 6.5 1 1.5 0 1 -3 1.5 -12 2 -5.5 0 -4 -2 -2.5 -4 0 -2.5 2 -5.5 1 -1 4.5 -3 7 -0.5 1.5 -0.5 -2.5 -3 -9.5 -4 -2.5 -0.5 -8 1 -12 0 -6 1 -2.5 1.5 0 1 12.5 5.5 -0.5 1.5 -5 1 -4 -0.5 -12 -0.5 -2.5 0.5 -5.5 2.5 -5.5 0 -7 3.5 0 1 1 3 -2 2 -2.5 1 -3.5 1 -4.5 2.5 -2.5 0.5 -10.5 -1 -7 -1 -7 -2.5 -5 -3.5 -1 -0.5 -3 1 -4 3 0.5 2.5 -0.5 1.5 -4 -1 -2.5 0 -20 6.5 -45.5 3.5 -13 0 -20 1 -13.5 -0.5 -17 1.5 -3 -0.5 -1.5 -1 -1 -3 1.5 -5 -1.5 -1.5 -1.5 -0.5 -5 -0.5 -2.5 2.5 -3 1 -12 -1 -0.5 -1.5 0.5 0 9.5 -2.5 4 0 4 1 0.5 -1 3 -1.5 8.5 -2.5 6.5 1 6.5 -0.5 5.5 1 4 -0.5 26.5 -7 13.5 -2 6.5 -1.5 3 -1 2.5 -3 0 -2.5 -0.5 -2.5 -1 -1.5 -2.5 -1.5 -10.5 -2 -19 -0.5 -9 -2.5 -2 -1.5 1 -1.5 6 -2.5 -1 -1.5 -6.5 -2.5zM170.5 1.5l-3 0 -2.5 1 1.5 1.5 4 0 4.5 0 1 -1.5 -3 -1 -2.5 0zM234.5 29l-1 0 2 2 3 0.5 1.5 -1 -0.5 -1.5 -1 -0.5 -1.5 -0.5 -2.5 1zM274 22l-1 0.5 -1 1.5 7.5 4 2.5 3 1.5 0 2 -0.5 0.5 -4 -1 -1 -7 -4 -1 0 -3 0.5zM295.5 2.5l-6.5 0.5 -1 1 1.5 2.5 3.5 2.5 4 1.5 4 0.5 4 0 2.5 -1 3.5 -2 0.5 -1.5 -0.5 -1 -1.5 -1.5 -4.5 -1.5 -4 -0.5 -5.5 0.5zM343.5 5l-0.5 0.5 2 0 1.5 0 -3 -0.5zM430 4l-5.5 6 -6 10 -0.5 4 1.5 2 1 0.5 3 -0.5 1 -1.5 11.5 -15 0 -3 -0.5 -2 -1.5 -1.5 -1.5 0 -2.5 1zM406 34.5l2.5 -1 3 0.5 2.5 3.5 1 2.5 1 8 -0.5 2.5 -1.5 2.5 -1 5.5 -1.5 2 -3 1.5 -6.5 -0.5 -8 -1.5 -2.5 1 -0.5 1.5 3 1.5 14.5 0 5.5 1 5.5 0 6.5 2.5 5.5 0.5 2.5 0 1.5 -1 2.5 -5 0 60.5 -6.5 -2 -7 0 -2.5 -1 6.5 -2.5 0 -1.5 -1.5 -1 -3.5 -1.5 -24 -2 -16 -5 -9.5 3 -3 1.5 4 2.5 0.5 1.5 -1.5 1.5 -12 3.5 -6.5 3.5 -12 2 -5.5 1.5 -4.5 2.5 -2 2.5 1.5 1.5 6.5 3.5 2 1.5 0 1.5 -1.5 2.5 0.5 1.5 5.5 4 3 2.5 0.5 1.5 0 1.5 -1 1 -2.5 1 -2.5 0.5 -5.5 -0.5 -9 0.5 -11 -0.5 -4 0 -0.5 0.5 0.5 1.5 4 2.5 0.5 1.5 -2 1 -19 4 -1.5 1.5 1.5 5.5 3 4 0 1 -1.5 1.5 -10 3.5 -18.5 1.5 -2 0.5 -0.5 1 3 1.5 4.5 0 11 -2.5 1 -1.5 2 1.5 6 1.5 12 0.5 2 1.5 0 1.5 -3.5 1 -6.5 -0.5 -4 0.5 -3 1.5 -1 1.5 0 1.5 2 2.5 2 1 11.5 -1 3 -1 5.5 -3.5 10.5 -0.5 4.5 -3 9 -3.5 0.5 -0.5 0 -1 -1.5 -1.5 -5.5 -2 -2.5 -2 0 -1.5 1 -1 5 -3 0 -2.5 0.5 -1.5 1 0 23 -4 17 -5 4 0.5 4 4 2.5 0 9 -2 1.5 -1.5 -1 -2.5 0.5 -1.5 1.5 -1 3.5 -1 8 0 6.5 2 8 -2 0.5 18 1 5.5 -0.5 9 1.5 11 0 12 0.5 1 1 1 1 -1 0.5 -1 -1 -12 2 -11 -1.5 -9 0 -5.5 -0.5 -17 -2 -2 -3.5 -2 -10.5 -3 -0.5 -1 1 -4 -1 -1.5 -3 -1.5 -11.5 -2 -4 -2 -1 -1 0.5 -1.5 1.5 -1.5 5 -2.5 2.5 -1 5 -1.5 14.5 -1 9 -1.5 5.5 -0.5 0 138.5 -114.5 0 1 -1.5 -0.5 -1 -2 -1.5 -1 -0.5 -6.5 2 -1 1 1 1.5 -31.5 0 -1 -1.5 -6.5 -3 -1.5 0.5 1 4 -275 0 0 -10 2 -0.5 2 -1.5 1.5 -6.5 1 -1.5 1.5 -0.5 5.5 -0.5 0.5 -1.5 -3.5 0 -2.5 0.5 -8 -0.5 0 -7.5 4 -0.5 5.5 2 8 0.5 3 -1 1.5 -1.5 0 -1.5 -2.5 -1 -9 -2.5 -2.5 0.5 -4 3 -1.5 0.5 -2.5 -0.5 0 -18.5 4 -1.5 -4 -1.5 0 -62 1.5 1.5 2.5 1.5 2.5 0 1.5 -0.5 1.5 -1.5 1.5 -2.5 2 -4 0.5 -4 -1 -4 -4.5 -9 -2.5 -1.5 -5.5 -1 0 -45.5 8 -4 0.5 -1.5 -3 -2.5 -5.5 -0.5 0 -10 1 2.5 1.5 1.5 3 0.5 2.5 -0.5 2.5 -1.5 0.5 -1.5 -2 -4 0.5 -1 1 -1 7 0 8 -2 1 1.5 2 5.5 0 8 -0.5 1.5 -4.5 2.5 0 1 11 3.5 7 -2.5 2.5 -0.5 5.5 1 3.5 2.5 3 1 4 0 12 -2 2.5 0.5 1.5 0.5 1.5 4 2.5 2 2.5 1 12 1.5 37.5 0 2.5 -0.5 4 -3.5 4 -1 21.5 2.5 7.5 -1.5 5.5 1.5 12 1 13.5 0 10.5 0.5 14.5 -1 2 0 6 3.5 3.5 0.5 -6 0.5 -2.5 2.5 1 0.5 29.5 1 22.5 0 14.5 1 9.5 1 0.5 0.5 0 2.5 2 1 11 1 8 0 6.5 -1 2 -2.5 2 -0.5 10.5 -1.5 9.5 0.5 5.5 -1 -3 -2 -2.5 -0.5 -5.5 0.5 -6.5 1 -12 -0.5 -15.5 -1 -1.5 -1.5 5 -4 0.5 -2.5 1.5 -3 0 -2.5 -0.5 -4 -3 -0.5 -3 0.5 2.5 1.5 1 1.5 -4.5 3.5 -1 0.5 -4 -0.5 -3 -1 -2.5 -2.5 -6.5 -1.5 -7 -3.5 -2.5 -0.5 -8 -0.5 -5.5 -2.5 -11 -2.5 0 -1 12.5 -4.5 8 -0.5 6 -2 0 -1 -3.5 -2 -2 -3.5 0 -2.5 1 -4 2.5 -1.5 6.5 -1.5 5.5 -3.5 2.5 -0.5 20 0.5 2.5 -0.5 3 -1.5 1.5 0 0.5 1.5 -1 1.5 -1 4 -2 4 -3.5 3.5 -5.5 4.5 0 1.5 1.5 1 3.5 1.5 5.5 1.5 12.5 -1 5.5 0.5 4.5 1.5 1 1.5 0 1.5 -2 1 -7.5 4 -9.5 2 -1 1 1 1 4 3 1.5 0 4 -1.5 9 1.5 11 -0.5 6.5 2.5 4 0 7 -2 2 -1.5 -1 -5.5 1.5 -4 -1.5 -1.5 -9.5 -2.5 -0.5 -1 1 -1.5 3.5 -2 1.5 0 6.5 1.5 5.5 -1 1.5 -1 0 -1.5 -7 -2.5 0.5 -1.5 6 -3.5 1.5 -3 1.5 -1.5 5 -2.5 3 -4 2.5 -1.5zM391.5 77l-2 1.5 0.5 2.5 1.5 2 2.5 1 9.5 1.5 2 1 -3.5 0.5 -1 0.5 -8.5 1.5 -21 1 -2 0.5 -1.5 1 0 1.5 27.5 -0.5 2.5 0.5 0 4 2.5 2.5 1.5 3 4 2 5.5 1 4 0 2.5 -0.5 5.5 -4 1 -1.5 -0.5 -2.5 1 -4 -0.5 -2.5 -2.5 -2 -2.5 -1.5 -9 -2 1.5 -4 -1 -1.5 -3.5 -1 -5.5 -0.5 -6.5 -1 -4 0zM415.5 71.5l-0.5 1.5 0.5 3 0 -1.5 3 -2.5 -0.5 -1 -1.5 0 -1 0.5zM269 224.5l-5.5 2 -1.5 2 0.5 2 5 5 10 3.5 1.5 1.5 0 2.5 0.5 1 2.5 1.5 3 -0.5 4 -2 9 -5 4 -1 3 0 4 2 1 1.5 1.5 4 1.5 0 1 -1 2.5 -4.5 3 -1.5 2.5 -0.5 3 0.5 3.5 1.5 4.5 3.5 1 2 1.5 1.5 2.5 0.5 5.5 -0.5 2.5 0 5.5 3.5 6.5 2.5 3 0.5 2.5 -1 2 -1.5 1 -1.5 0 -2.5 -2 -3 -2.5 -1 -7.5 -3 -1 -1 1.5 -4 -2 -1.5 -8 -0.5 -7 -1 -5 0.5 -5.5 -1.5 -6.5 0 -7 -1 -1 0 -5.5 4 -4 1.5 -2.5 -1 -8 -4.5 -7 -3 -14.5 -2 -2.5 0.5zM271.5 218.5l-1 1 1 1.5 1.5 -0.5 1.5 -1 -0.5 -1 -1 -0.5 -1.5 0.5zM366 211l1 1.5 3 1.5 1.5 0 1 -1.5 0 -1 -1 -1 -5.5 0.5zM378 180.5l-4.5 1.5 -1 1.5 1.5 1.5 3 0.5 9 -0.5 8 1 8 -1 1.5 -1.5 -4 -1.5 -11 0 -6.5 -1.5 -4 0zM13.5 154l-1.5 1.5 0 1.5 1.5 4.5 1 2 1.5 -2 1 -4.5 -1 -2.5 -1.5 -1 -1 0.5zM17.5 103.5l-3.5 3 -0.5 1 0.5 3 2 2 1.5 0.5 4 0 1.5 -1.5 0.5 -1 -0.5 -4 -2 -3 -2.5 -0.5 -1 0.5zM30.5 172.5l-10.5 1.5 -2 1.5 -0.5 1.5 2 2.5 1.5 1.5 4.5 0.5 12 0 12 0.5 4 0 2.5 -1 -0.5 -1.5 -2.5 -1.5 -10.5 -3 -5 -2.5 -3 -0.5 -4 0.5zM70.5 122l-5.5 1 -9 -0.5 -8 0.5 -6.5 2 -1 1.5 2 1.5 4 1 14.5 -1 13 -3 3.5 -1.5 1.5 -1 -0.5 -1 -1.5 0 -6.5 0.5zM76 94l-0.5 1.5 1.5 1.5 1.5 0 1 -1.5 -1 -1.5 -1.5 -0.5 -1 0.5zM100 95.5l-1.5 1.5 0.5 1.5 2 0.5 1.5 -0.5 0.5 -1.5 -1 -1.5 -2 0zM112 115.5l-4 1.5 -1.5 1.5 -1 1 0.5 1.5 2 1.5 4 1.5 5 1 9.5 -1.5 9.5 1.5 2.5 -0.5 1.5 -1 -0.5 -1 -2.5 -1.5 -8 -1 -10.5 -5 -6.5 0.5zM124 97l-0.5 0 0.5 0.5 0 -0.5zM152 195l-4 1.5 -4 3.5 -16 2 -1 1.5 5 1 10.5 0.5 8 -1.5 12 0 5 1.5 8 -1.5 13.5 1.5 4 -1 1.5 -2 0 -1.5 -3 -1 -9 0.5 -3 -1.5 -2.5 -2 -4 -1 -16 -1 -5 0.5zM191.5 90.5l0 1 1.5 0.5 2 -0.5 1.5 -1 -2 -0.5 -3 0.5zM209 89l-4.5 1.5 3 1 5.5 0 5.5 -0.5 1 -0.5 -1 -1.5 -3 -0.5 -6.5 0.5zM226.5 228.5l-0.5 0 0.5 0zM239.5 249.5l-6.5 2.5 -9.5 4 -2.5 0.5 -5.5 0 -3.5 2.5 0 1.5 3 1.5 6 1 9.5 0 10.5 1 8 -1.5 4 -1.5 1.5 -1.5 0 -3 -6 -5.5 -5 -2 -4 0.5zM255.5 245.5l-2 1.5 0 1.5 1 1.5 4 2 2.5 -1 1 -2.5 -0.5 -1.5 -3 -2 -3 0.5zM283.5 106.5l2 1 5.5 1.5 16.5 2.5 5.5 -0.5 1 -0.5 1 -1.5 -2.5 -1.5 -8.5 -1 -16.5 -0.5 -4 0.5zM347.5 110l-1 0.5 1 1 5.5 1.5 4 0 3.5 -1.5 -1 -1 -8 -1 -4 0.5zM301 245.5l-0.5 0.5 0.5 1 1 0.5 1.5 -1.5 -2.5 -0.5zM323.5 255l-2 1.5 0.5 2 1.5 0 2.5 -0.5 2.5 -1.5 0 -1.5 -2.5 -0.5 -2.5 0.5zM338 251l-3.5 1.5 0 1.5 5 4 2.5 0.5 3.5 -0.5 2 -1.5 1 -1.5 0 -2.5 -1 -1.5 -4 -1 -5.5 1zM375.5 194l-1.5 1.5 1.5 1 1.5 0 1 0 0.5 -1 -1.5 -1.5 -1.5 0zM398 215l-4 3 -2 2.5 0.5 5.5 3.5 6.5 0 4 0.5 1.5 1.5 1.5 6.5 2.5 -1 4 1 2 3 0 1.5 -1 1.5 -1 0.5 -1.5 -0.5 -1.5 -2.5 -1 -1 -1.5 4.5 -3.5 4.5 -1.5 4.5 -3.5 4 2.5 3 0 2 -0.5 -0.5 -1.5 -1.5 -1 -7 -1.5 -5 1 -4.5 1.5 -2.5 0 -0.5 -1 0.5 -4 1 -1.5 3.5 -2.5 0 -1.5 -1 -1.5 -7.5 -5.5 -4 -0.5 -2.5 0.5zM13.5 212.5l-1.5 1.5 0.5 5.5 2 1 1.5 0.5 2.5 -1.5 2 -3 -0.5 -3 -2.5 -1.5 -4 0.5zM26.5 247l-1.5 1.5 0 1.5 1 1 2 1 2.5 -1 1 -2.5 -1 -1 -1 -0.5 -3 0zM34.5 237.5l-0.5 0.5 -0.5 1 2.5 1.5 4 0.5 3 -0.5 -0.5 -1.5 -2.5 -1.5 -2.5 -0.5 -3 0.5zM58.5 244.5l0.5 1.5 6 0.5 4 1 4 -0.5 1 -1 -1 -1.5 -1 -0.5 -4 0.5 -7 -0.5 -2.5 0.5zM73 232l-3 2 -1 1.5 2 5 2 2 8 -2.5 13.5 0 1.5 -1 0.5 -1 -2 -1.5 -6.5 2.5 -3 0 -1 -1.5 0 -3.5 -1.5 -1.5 -4 -1 -5.5 0.5zM109 210l-11.5 2.5 -1 1.5 0 1.5 1 1 2.5 1.5 6.5 0.5 10.5 -1 9.5 0.5 8 -1 13.5 0.5 9 -2.5 1.5 1 2.5 3 3 1 2.5 0 6.5 -3 11 -3 -1.5 -1.5 -5.5 -0.5 -13 -2.5 -13.5 1.5 -6.5 3 -3 0.5 -14.5 -2 -12 -2.5 -5.5 0zM191.5 97l-0.5 1.5 2 1.5 2.5 0 1.5 -0.5 0.5 -1 -0.5 -1.5 -1.5 -0.5 -4 0.5zM406 256.5l-3.5 1.5 -1.5 1 -1 3 -1 1 0.5 0.5 8 -2.5 8 0 2 -2 -0.5 -1 -1.5 -1.5 -3 -1 -2.5 0 -4 1zM427.5 257.5l-1 0.5 -0.5 1 11 1.5 0 -1.5 -1.5 -0.5 -8 -1zM90.5 248l-1 0.5 3.5 0 -1 -0.5 -1.5 0zM124 231l-3 0.5 -2.5 1.5 -1.5 1 -2.5 4 1.5 1 1 0.5 12 0 3 0.5 1 0.5 4 4.5 8 1.5 5.5 2 4 -0.5 1.5 -1 1 -2 1.5 -0.5 12 0.5 8 1 2.5 -1.5 2.5 -1 9.5 0 3 1 4 4 9.5 2.5 5 3.5 2.5 -3.5 1.5 -3 1 -0.5 9.5 3 1.5 -0.5 1 -4 4 -4 0 -1.5 -1 -0.5 -9.5 -4 -14.5 -3 -15.5 1 -10 -2 -14.5 -0.5 -9.5 0.5 -12 -0.5 -6.5 -1.5 -9.5 1.5 -9 -0.5zM191.5 162l-22 3 -8.5 2.5 -1 1.5 2 1 7 1.5 19 -1.5 2.5 -1 -3.5 -1.5 0 -1.5 6 -0.5 1.5 -0.5 0.5 -1.5 -2 -1.5 -1.5 0zM177 252.5l-1.5 0 -0.5 1.5 0.5 1 1.5 1 2.5 0.5 3 -1.5 -1.5 -1 -4 -1.5zM65 44l4 1 1 1.5 0 1.5 -2 0 -1.5 0 -2.5 -3 1 -1zM45 53l1.5 -0.5 3 0.5 3 1.5 0.5 1.5 -0.5 1 -2 1.5 -4 0.5 -1 -1 -1.5 -2 0 -1.5 1 -1.5zM361.5 58.5l0.5 0 0 1.5 0.5 1 -0.5 1 -1 0 -1 -1 1 -2.5 0.5 0zM116.5 64l16.5 -1.5 29.5 0 6.5 1 2.5 1.5 0 1.5 -2.5 1.5 -5 1.5 -16 -0.5 -12 1.5 -15 -1 -5 -1 -3 -2 0.5 -1.5 3 -1zM218 70.5l3 -1 1 1 -2.5 1.5 -1 -1 -0.5 -0.5zM163.5 77l1.5 -0.5 6.5 0 1.5 0.5 -1.5 2 -1 0.5 -7 -2.5zM245 81l10.5 0.5 1 1 0 2.5 0.5 1.5 3 1 -1.5 1 -3 0 -11 -1 1 -1 -2.5 -4 2 -1.5zM268.5 82.5l4.5 -1 5 1 1.5 3 3 2 -2 1.5 -6.5 0 -4 0 -7 -1.5 2.5 -1 3 -4zM380 145l2 -0.5 3 0.5 -3 0.5 -2 -0.5zM153 243l1.5 0 1.5 0 0 0.5 -3 -0.5z"/><path fill="#97ff68" d="M395.5 1.5l1.5 -1.5 28.5 0 1 4 -3 6.5 -7.5 11 -2 3.5 -2.5 0.5 -1.5 -1 -0.5 -3 -2.5 -3 -5 -3 -6.5 -3 -3.5 -3 -1 -3 0.5 -1 4 -4zM14 5.5l0.5 -0.5 1 0.5 -1 4 0.5 5 -1 5.5 -6 10.5 -1.5 0.5 -1 0 -3 -4.5 0.5 -2.5 3.5 -5.5 3 -6.5 3.5 -4 1 -2.5zM147 5.5l5 -0.5 6.5 0 10 1.5 3 1.5 0 1.5 -2.5 0.5 -14.5 1 -9.5 -1 -3 -0.5 -2 -1.5 1.5 -1.5 5.5 -1zM209.5 5.5l9 -1.5 12 0.5 17 -0.5 23 1 7.5 1.5 8 3 4.5 2.5 1 1.5 0 1 -2 1.5 -6 1.5 -22.5 3.5 -8 0.5 -6.5 -1 -12 0.5 -7 -1.5 -2.5 0 -0.5 0.5 1.5 4 0.5 6.5 2.5 5.5 0 2.5 -0.5 1.5 -1.5 1 -11.5 5.5 -2.5 0.5 -45.5 3.5 -11.5 0 -21.5 1 -12 0 -17.5 1.5 -4 -1 -1 -1.5 -0.5 -1.5 1.5 -3 1.5 -1.5 2.5 -1.5 25.5 -4.5 12 -3.5 25 -5.5 9.5 -3 3.5 -2.5 2 -4.5 7.5 -2 1.5 -1.5 -0.5 -2.5 1.5 -1.5 6 -2 8 -4 3 -0.5zM319 9.5l2 -1 2.5 -0.5 4 1.5 -1 1 -4.5 1 -3.5 -1 0.5 -1zM433.5 14.5l2 0 0.5 1.5 1 4 0.5 4 -1 9 -2.5 5 -1.5 0.5 -1 -0.5 -2.5 -3.5 -2 -6.5 -0.5 -2.5 3.5 -7.5 1.5 -2 2 -1.5zM37.5 21.5l9 -1.5 4 0.5 2 1 -0.5 1 -1.5 1.5 -8 2.5 -8 0.5 -3 -1.5 0.5 -1.5 1.5 -1 4 -1.5zM258 30.5l4.5 -0.5 5 1.5 3.5 1.5 1.5 1.5 0 1.5 -3.5 2.5 -2.5 0.5 -4 0 -5.5 -1 -2.5 -2 -0.5 -1.5 1.5 -2.5 2.5 -1.5zM354 30.5l4 -1 5.5 1 3 1.5 1.5 1 0.5 1.5 -1 1.5 -2.5 1 -4 0.5 -4 -0.5 -3 -1 -1.5 -1.5 -0.5 -1.5 0.5 -1 1.5 -1.5zM406 38.5l2.5 -1 3 1.5 1 2 0 3 -0.5 2.5 -1 1.5 -3.5 1.5 -3 0.5 -1 -0.5 -1.5 -1 -1 -4.5 5 -5.5zM312 41l6 -1 6.5 1 1 1.5 -1 4 -2.5 2.5 -2.5 0.5 -9.5 -0.5 -3 -1 3 -5.5 2 -1.5zM296 48l1.5 0 1.5 1 -1.5 1.5 -2.5 0 -1 -1.5 2 -1zM296.5 60l7 -0.5 12 0.5 13.5 2 12 0 3.5 0.5 0.5 1.5 -3 2 -4 1 -18.5 0 -8 2 -9.5 1 -16 -3.5 -3 -1.5 1 -1 9 -3.5 3.5 -0.5zM149.5 64l14.5 -0.5 2.5 0.5 2.5 1 -1.5 1.5 -3.5 1 -16 0 -11 1 -16 -0.5 -2.5 -0.5 -2.5 -1 0.5 -1.5 4.5 -0.5 28.5 -0.5zM394.5 66.5l5 0 4 0.5 4 2 0 1.5 -2.5 2.5 -4.5 1.5 -8 -0.5 -2 -1 -2 -1 -0.5 -1.5 0 -1.5 1 -1 5.5 -1.5zM424.5 70.5l1.5 -0.5 4 -0.5 5 2.5 2 2.5 0 5 -0.5 1.5 -2.5 2 -4 1.5 -4 0 -2.5 -1.5 -2 -3.5 -1 -3.5 1 -3 3 -2.5zM10 78.5l2 -0.5 1.5 0.5 0.5 1 0.5 4.5 1.5 2 1.5 0.5 6.5 0 13.5 -1.5 2.5 -1 2.5 -2.5 3 -0.5 22.5 2.5 10.5 5 13.5 -0.5 8 1 12 -1 13 2 16 -0.5 1.5 0.5 2 3 0.5 2.5 -0.5 3 0.5 0.5 1.5 0 1.5 0 1 -1.5 0.5 -3 3.5 -6.5 1.5 -1 2.5 -0.5 10.5 0.5 5.5 1 10.5 -0.5 7 1.5 -1.5 1 0.5 1.5 2 0.5 6 -0.5 1.5 -4 3.5 0 2.5 0.5 0.5 1 -2 1 0 0.5 1.5 1 2.5 0 25.5 0 21.5 1 2.5 0 4 2 0.5 -1.5 3.5 -0.5 18.5 -0.5 20 1.5 4 1 0 1 -2.5 2 -2.5 1 17 1 14.5 -0.5 2.5 -0.5 1.5 -3 11 -1 26.5 -1 2.5 1 0 1.5 3 0.5 1 -2 2.5 -1.5 11 -0.5 2 0.5 0 1.5 -1 1.5 -1 0.5 -14.5 1 -7 0.5 -11.5 0.5 -1.5 1 3.5 3 -0.5 1 -4.5 2 -10.5 0.5 -23 0 -38.5 -3 -25 1.5 -4 -2 -1.5 -1.5 -0.5 -1.5 0.5 -1 1.5 -1 6.5 -1 1 -1 -3.5 -0.5 -1.5 -0.5 -1.5 1.5 -2.5 0.5 -44 0 -2.5 0.5 -3 2 -2.5 1 -2.5 -1 -4 -3.5 -7 0 -1.5 0 -8.5 4 14 4.5 3 0 5 -2.5 1.5 0 5.5 1.5 10.5 0.5 8 2 9.5 1.5 24 1 19 5 6 2.5 1.5 1.5 0 1.5 -5.5 2 -13 0 -3 1 -4 2 -1 1.5 1 1.5 4.5 2.5 0.5 1.5 -5 5.5 -1 1 -3 0 -4 -1 -9 -4 -5.5 -1 -13.5 3 -11.5 5.5 11.5 2.5 2.5 1.5 0 1.5 -1.5 1 -3 1.5 -8.5 1.5 -4 1 -1.5 1.5 0.5 1.5 33 4 21.5 -1 5 -0.5 2.5 -1.5 1 -1 0.5 -3 -1.5 -4 0.5 -1 2.5 -1 13 -2 4 1.5 2.5 2.5 0.5 1.5 -1 1.5 -7 4 -4.5 5 -5 4 -4 2 -4 1 -9 -1 -8 0 -8 3 -7 0.5 -16.5 -4 -12.5 -2.5 -9.5 -3.5 -9.5 -2 -4 0.5 -17 3.5 -5.5 0 -5 -1.5 -1.5 -1 0 -1.5 2 -2.5 3.5 -3 0.5 -1 -0.5 -3 2.5 -1 6.5 1 4 -0.5 5.5 -2 2.5 -1.5 1 -1 -1 -2 -4 -1 -9.5 0.5 -15.5 0 -5.5 -1.5 0.5 -1.5 2 -1.5 9.5 -2 4.5 -1.5 3.5 -3 2.5 -4.5 10.5 -2 1 -1.5 -0.5 -1 -12.5 -5.5 -9 0 -4 -1 -5.5 -2.5 -4 -1.5 -12 -0.5 -0.5 -1 2.5 -4 -0.5 -1 -1 -0.5 -7 -1.5 -3 -4 -2.5 -1.5 -2.5 0 -5.5 4 -5 0.5 -4 -1.5 -5.5 -4 -2.5 -0.5 -3 1.5 -4 4 -4 1.5 -2.5 -0.5 -1 -0.5 -5.5 -7 -3 -1.5 -4 2.5 -4 5.5 -4 1 -2.5 -1 -2.5 -3.5 -3 -1 -10.5 0 -8 -1 -8 2 -8 -2.5 -6.5 -1 -1.5 0.5 -1 1.5 -2.5 4 -0.5 1.5 0.5 2.5 -0.5 1.5 -4 1 -3 -1 0 -1.5 1 -4 -0.5 -4 -1.5 -3.5 -1 -0.5 4 -3 3.5 -6.5 1 -1zM170.5 91.5l-4 7 0.5 1 0.5 0.5 4 0.5 2 -1 2 -1 -4 -7 -1 0zM279.5 97l-1 0 10.5 1 5.5 -1 -4.5 -1 -4 0.5 -6.5 0.5zM205 139.5l0 1.5 2.5 0.5 3.5 -0.5 3 -1.5 -5 -1 -4 1zM332 87.5l14 0.5 4 1 1 1.5 -13 0.5 -10 -0.5 -3 -1.5 7 -1.5zM28.5 98.5l3.5 0 1.5 1 0.5 1.5 -2 1.5 -4 0.5 -3.5 -2 -0.5 -1.5 4.5 -1zM435 101l3 -1 0 9 -9.5 0 -4.5 -1.5 -0.5 -1 1 -2 3 -1 7.5 -2.5zM23.5 115.5l3 0.5 2 1 1.5 1.5 1 2.5 -1.5 2.5 -3 3.5 -2.5 1.5 -2.5 0 -3 -1 -2.5 -2.5 -1 -1.5 -1 -2.5 1.5 -2.5 2 -1.5 6 -1.5zM285 127.5l4 0 5.5 1.5 3 1.5 1 1 -3 1 -9.5 0.5 -2.5 0 -2 -1.5 -0.5 -1 1 -1.5 3 -1.5zM85.5 130.5l6.5 0 2 1 -1 1.5 -5 2.5 -1.5 1.5 1 1 1.5 0.5 20 0 13.5 1 2.5 0.5 5.5 3 2.5 0.5 3 -0.5 5 -3 3 -1 1 0 1.5 1.5 0 3 -2.5 2 -11 2 -8 -0.5 -12 -2.5 -12 2.5 -16 1 -2.5 -0.5 -1.5 -1.5 2 -2.5 0 -1.5 -2 -1 -9 -1.5 -4 -1.5 9 -4 2.5 -2.5 6 -1zM52 135.5l4 0 3.5 1.5 -2.5 1 -3 0 -3.5 -1 1.5 -1.5zM79.5 159.5l4.5 -1 17 4 4.5 2.5 0.5 1 0 1.5 -2 1 -8 1.5 -21.5 0 -4 -1 -5.5 -3 -9.5 -4 -1.5 -1 2 -1.5 8 1 15.5 -1zM420.5 165l1.5 -1 1.5 1 0 1 0.5 8 1 5.5 -0.5 4 0 5 2.5 11 -0.5 16 -2 2 -1 -0.5 -1.5 -1.5 -0.5 -7 -1.5 -5 0.5 -3 -0.5 -5 1 -9.5 -1 -8 0.5 -4 0 -9zM128.5 171.5l14 0.5 25 2.5 29.5 -0.5 14 -1 14 -0.5 8 1.5 12 0.5 7.5 2.5 2 1 -3 1.5 -8 1.5 -10.5 -1.5 -8 0.5 -54.5 -1 -28 1 -14.5 2.5 -7 -1.5 -8 -0.5 -2.5 -1 0 -1.5 1 -4 0.5 -1 1 -0.5 15.5 -1zM157 185l4 -1.5 4 0 8 2 6.5 0.5 2 1.5 -0.5 1 -1.5 0.5 -6.5 -0.5 -9 0.5 -5.5 -1.5 -1.5 -1.5 0 -1zM87.5 186l5 0 0.5 1.5 -0.5 2.5 1 4 0 1.5 -2 5 -7.5 4 2 3 0.5 1 -3.5 4 -0.5 1.5 1.5 1.5 9 6 9.5 2 0.5 1 -1.5 5.5 0 1.5 1 0.5 10.5 -2 1.5 1.5 -4 3.5 -5.5 1 -1.5 -0.5 -2.5 -3.5 -9 0 -7 -2.5 -5 -4 -4 -1 -4 0 -3 1 -0.5 0.5 0 2.5 -1 1.5 -4.5 2.5 -3 0.5 -3 0 -2.5 -1.5 0 -1.5 0.5 -2.5 -0.5 -2 -2 -2 -2 -0.5 -2 0.5 -1.5 4 -2 1 -7.5 4 -4 0.5 -11 -5.5 -1 -1.5 3.5 -13.5 -1 -2.5 -5.5 -2.5 -9 0 -2 -1.5 1.5 -1.5 1.5 -0.5 8 -0.5 12 -2 4 -1 2.5 -1 0.5 -1.5 -2 -1.5 -7.5 -1 -3.5 -1.5 -3.5 -4 0 -1.5 1.5 -1 3 0 14.5 0.5 12 3.5 4 0.5 5 -0.5 8 -2.5 18.5 -3zM46.5 204.5l-1 1.5 2 0 -1 -1.5zM226.5 191.5l12 0 17 2 3 0.5 1.5 1.5 -2 1 -2.5 0.5 -16 1 -22.5 -1.5 -5.5 -1 0 -1.5 1.5 -0.5 13.5 -2zM404 192.5l7.5 0 2.5 1.5 -2.5 0.5 -7.5 -2zM329.5 198l6 0.5 2 1 0.5 1 0 4 -3 4 -1.5 4 -7.5 4 -6.5 6 -2.5 0 -5.5 -3.5 -4 -0.5 -1 2 0.5 4 0 4 -0.5 1.5 -1.5 1 -1.5 0 -2.5 -0.5 -3 -2 -2.5 -2.5 -2 -4 1 -6.5 -1.5 -3 0.5 -1 7.5 -2.5 16 -9.5 2.5 -0.5 10 -1zM432.5 198l1.5 -1 4 0 0 9 -4 -1.5 -1.5 -1.5 0 -5zM264.5 210l4.5 0 0 1.5 -4.5 0 0 -1.5zM280.5 210l1.5 0 2 0 -0.5 1 -1.5 0 -1.5 -1zM384 210l3.5 -0.5 2.5 0 3.5 2 0.5 1 -2 3 -3.5 2 -4 2 -2.5 0 -1.5 -1.5 0 -2.5 1.5 -4 2 -1.5zM237 212.5l2.5 -1 3 0 5 2 3 3 1 3 3 4 0.5 1 -2 1 -2.5 0 -8 -2 -5.5 -2 -1.5 -1 -1 -2.5 0.5 -2.5 2 -3zM437 216.5l1 -0.5 0 2.5 -1 -0.5 0 -1.5zM186 222l1.5 0 1.5 2.5 2.5 1 15 -2.5 5 1 1.5 0.5 1 1.5 -0.5 1.5 -2 1.5 -4 1.5 -5 1 -11 -2 -9 0.5 -11 -1 -10.5 1 -10.5 -0.5 -4 -1 -5.5 -2 -8 2.5 -4 0 -2.5 -0.5 -1.5 -0.5 -1 -2 0 -1.5 1.5 -1 5 -1 5.5 0 5 2 8 -1 21.5 1 5 -0.5 10.5 -2zM230 223.5l0.5 -0.5 1.5 0.5 -1.5 0 -0.5 0zM356 224.5l5 -0.5 4.5 2 8.5 1 7 2 6.5 -0.5 1 0.5 1 1 -0.5 1.5 -3.5 2.5 0 1.5 5 2.5 7 5 0.5 1.5 -1.5 1.5 -6.5 2.5 -4 0.5 -2.5 0 -4 -2 -8 -2 -5.5 -3 -7 -3 -1 -1 1.5 -4 0 -1.5 -1.5 -2.5 -1 -1 -11 0 -3.5 -0.5 -2.5 -1 13 -2 3 -1zM234 235.5l0.5 -0.5 0 0.5 -0.5 0zM247.5 239l3 -1 1 1 -2.5 2 -2 -0.5 0.5 -1.5zM268.5 239l3 0.5 2 1 0 2.5 2.5 5.5 -1 2.5 -2 3 -2.5 1 -3 -0.5 -1.5 -2 -2 -8 0.5 -1.5 1 -2.5 3 -1.5zM437.5 239l0.5 -0.5 0 1.5 -0.5 -1zM108 246l2.5 -1 0.5 1 -0.5 4 -3.5 2.5 -0.5 1.5 1 1 1.5 0.5 9.5 -2 3.5 0.5 2 1 2.5 0 1.5 -1 1.5 -3 1 -0.5 6.5 -1 3 0 6.5 2 6.5 0.5 1 0.5 0.5 1.5 -1 2.5 -4.5 4.5 -2.5 1.5 -6.5 1.5 -8 -1.5 -4 -4 -4 -2.5 -21.5 5 -4 0 -8 0 -4.5 -2 -1.5 -1 0 -3 1.5 -2.5 14.5 -2.5 7.5 -4zM289 247l4 -1 2 1 1 1.5 0.5 5.5 -1 2 -1.5 1 -2.5 1 -2.5 -0.5 -2 -2.5 0.5 -5 1.5 -3zM431.5 250l1 -0.5 2 0.5 1.5 1 -0.5 1 -4 1.5 -3 -1 3 -2.5zM56 251l2.5 -0.5 4 -0.5 10 2.5 -3.5 0.5 -3 2 -3.5 3.5 -2.5 1 -9.5 -1.5 -9 1 -3 -1 -2.5 -1.5 1 -1.5 4.5 -1 9 0 5.5 -3zM376.5 251l3 0 2.5 0.5 3 3.5 -2 4 -1.5 1.5 -3.5 0 -0.5 -1.5 1 -2.5 -3.5 -4 1.5 -1.5zM10 255l2.5 0 2 3 1.5 0.5 9.5 -1.5 5 -0.5 2 1.5 1 2 1 1 5.5 -0.5 2.5 0.5 2 2 -0.5 1.5 -44 0 0 -4 1.5 -1.5 8.5 -4zM389 255l3.5 0 1 0 0.5 1.5 -1.5 0.5 -3 -0.5 -0.5 -1.5zM299 258l3 0 0.5 1 -3 0.5 -1 -0.5 0.5 -1zM198 262l4.5 0 1.5 1 -0.5 1.5 -16 0 0 -1.5 1.5 -1 9 0zM340.5 262l5.5 -1 3 0 1 1 0.5 2.5 -3.5 0 -5.5 -1.5 -1 -1zM122 263l2 0 1.5 0 -2 1.5 -2.5 0 1 -1.5zM363.5 264.5l2.5 -0.5 2 0.5 -0.5 0 -4 0z"/><path fill="#c7ff38" d="M401 1.5l1.5 -1.5 17.5 0 3.5 3 1 2.5 -0.5 1 -2 5.5 -4 5 -2.5 2 -3 0.5 -8.5 -6 -4 -4 -1 -4 2 -4zM147 6.5l5 -0.5 5 0 4.5 0.5 3.5 1.5 -3 1.5 -2 0 -9.5 0.5 -3.5 -0.5 -2.5 -1.5 2.5 -1.5zM217 6.5l13.5 0.5 14.5 -1 22.5 0.5 6.5 1 4 1.5 3.5 1.5 1.5 1.5 0.5 1.5 -0.5 1 -2.5 1.5 -17 3 -26.5 0 -6.5 -2 -7 -4 -10.5 -1 -5 -1.5 -0.5 -1 2 -1.5 7.5 -1.5zM201.5 17.5l3.5 -1.5 6.5 0.5 4 1 3 2 3 4.5 2 4 1.5 10.5 -0.5 1.5 -9 5 -4 1.5 -44 3.5 -11.5 -0.5 -20 1.5 -12 -0.5 -8 1 -11 1 -2.5 -0.5 -1.5 -1.5 0.5 -2.5 1 -1.5 2.5 -2 15.5 -2 10 -2 12 -3.5 21.5 -4.5 13.5 -4.5 11.5 -6.5 12.5 -4zM431.5 17.5l1 -1 1.5 0 1.5 2 0.5 4 -0.5 9.5 -1 2.5 -2 1.5 -1 0 -1.5 -2 -2 -7.5 0.5 -4 3 -5zM9.5 20l0.5 0 -0.5 1.5 -0.5 0 0.5 -1.5zM43.5 21.5l4.5 0 2 1 -1.5 1.5 -6 1.5 -4 0.5 -3.5 -0.5 0.5 -1.5 2.5 -1.5 5.5 -1zM357 33l1 0 3 0 1 0 0 1.5 -4 0 -1 -1.5zM260.5 34.5l2 0 0.5 0 -0.5 1.5 -1.5 0 -0.5 -1.5zM300.5 61l4.5 0 9 1 3 0.5 1.5 1.5 -2 1 -5 1.5 -9.5 1 -8 -1.5 -1.5 -1 -0.5 -1 2 -1.5 6.5 -1.5zM121 65l35 -0.5 6.5 0 3.5 0.5 -1.5 1.5 -2 0 -25.5 1 -16 -0.5 -2.5 -0.5 2.5 -1.5zM394.5 69l5 0 0.5 1.5 -4.5 1 -2.5 -1 1.5 -1.5zM425 72l2.5 -1 2.5 0 2.5 1 1.5 1 1 1.5 0 2.5 -1 2.5 -1.5 1.5 -2.5 1 -2.5 0 -2.5 -1 -1.5 -1.5 -1 -1 -0.5 -2.5 1.5 -3 1.5 -1zM9.5 82.5l1 -1.5 1.5 0.5 1.5 6 -0.5 3 -1.5 2.5 -3.5 3.5 -1.5 -0.5 -0.5 -1.5 -0.5 -5.5 1 -2.5 3 -4zM43 86.5l6.5 -0.5 13 1 5.5 1.5 2.5 2 -0.5 1 -2 3 -1.5 0.5 -1.5 0 -2.5 -2.5 -2.5 -1.5 -17.5 -0.5 -1.5 -1.5 0 -1.5 2 -1zM87 90.5l5.5 0 2.5 1 -0.5 1.5 -2.5 2.5 -3 1.5 -2.5 -1.5 -2.5 -4 3 -1zM107.5 90.5l4.5 -1 2.5 0.5 4 1.5 1 1.5 -1.5 1.5 -2.5 1 -2.5 0.5 -2.5 0 -2.5 -1 -2.5 -2 -0.5 -1.5 2.5 -1zM179.5 90.5l4 -0.5 5.5 2.5 13.5 -0.5 17 0 5.5 1 6.5 -1 13.5 0 10.5 1 2.5 1.5 -3.5 1 -5.5 -0.5 -5.5 0.5 -30.5 0 -8 1.5 -6.5 -2 -11 -0.5 -4 1.5 -2.5 0.5 -2.5 -1 -2 -1 0 -1.5 0.5 -1.5 2.5 -1zM131.5 91.5l3 -0.5 4 0 2.5 1.5 1 2 -1 1 -2.5 2 -4 0 -2.5 -1 -2.5 -2 0 -1.5 2 -1.5zM155 91.5l3.5 -1 4 0 2.5 1.5 0.5 1 0 1.5 -4.5 5 -2.5 0.5 -1.5 0 -2 -1.5 -2 -3 0 -1 0.5 -1.5 1.5 -1.5zM263 93l22 -0.5 18.5 1 3.5 1 0 1 -1 1 -6.5 0.5 -4 -0.5 -4 -1.5 -8 1 -9.5 0 -9 -1 -1 -0.5 -1 -1.5zM386.5 93l9 0 1 0 1 1.5 -1 1 -2.5 0.5 -8 0.5 -3 -1 0 -1 0.5 -0.5 3 -1zM358.5 94.5l3 0 3.5 0.5 4 -1 5 0 2 0.5 0.5 1 -0.5 1.5 -0.5 0 -5.5 0.5 -5 -1 -4 0 -1.5 -0.5 -1 -1.5zM338.5 95.5l6.5 -0.5 5 0 2.5 2 -2.5 2 -2.5 0.5 5.5 1.5 2 1.5 -2.5 1 -3.5 0.5 -20 0 -22.5 -1.5 -4.5 -1 -10.5 -0.5 4 -0.5 41.5 -0.5 2 -0.5 -1.5 -2.5 1 -1.5zM264.5 99.5l4.5 -0.5 5 0 5 0.5 2.5 1.5 -12.5 0.5 -4 -0.5 -0.5 -1.5zM19 119.5l2.5 -1 2.5 0 2 1 0.5 1.5 0 1.5 -0.5 1 -1.5 1.5 -3 0 -2.5 -1.5 -0.5 -1 0 -1.5 0.5 -1.5zM422 178l0 -0.5 0.5 2 -0.5 0.5 0 -2zM423 192.5l0.5 -0.5 1.5 11.5 -1 6.5 -0.5 1 -1 -14.5 0.5 -4zM316.5 203.5l3 -1.5 4 0.5 4 1 0.5 1 -3 4 -3 7 -1 1 -3 1.5 -2.5 -1 -2.5 -1.5 -2 -4 1.5 -4 4 -4zM55.5 212.5l3 -0.5 2.5 0.5 8 2 3.5 2 1.5 1.5 0 1.5 -2 1 -4 0.5 -4 -0.5 -4 -1 -5.5 -3 -1 -1 0 -1.5 2 -1.5zM240.5 218l2 -1 2.5 0.5 2.5 2 0.5 1 0 1.5 -2.5 0 -3 -1.5 -2 -1 0 -1.5zM28.5 224.5l2 -0.5 3 0.5 2.5 2 1 2 -1 1.5 -1.5 0.5 -2.5 -0.5 -3.5 -2.5 -0.5 -1.5 0.5 -1.5zM129 224.5l4 0 1 0 0.5 1.5 -2.5 0.5 -3 0 -1 -0.5 1 -1.5zM147.5 226l3 -0.5 2 0.5 -2 1 -3 -1zM163 226l3.5 0 1.5 1.5 -4 0.5 -3 -0.5 2 -1.5zM201 226l5 0 2.5 1.5 -1 1 -4 1.5 -2.5 0 -4 -1.5 0 -1 4 -1.5zM301 226l1 -1 0.5 1 -0.5 1 -1 -1zM179 227.5l3.5 -1.5 4 1.5 -3 1 -4.5 -1zM366 230l3 -0.5 4 0.5 3.5 2.5 1.5 3 0.5 1 -1 1.5 -4.5 3 -4 -0.5 -5.5 -1.5 -1.5 -1 0.5 -1.5 4 -2.5 -1 -2.5 0.5 -1.5zM268.5 247l0.5 -1 1.5 0 1.5 1 0 1.5 -0.5 1 -1 1 -1.5 -0.5 -0.5 -3zM291 251l0.5 -0.5 1 0.5 -0.5 1.5 -0.5 0.5 -0.5 -0.5 0 -1.5zM94.5 252.5l5.5 0.5 1 1 0 2.5 -2 1.5 -4.5 0.5 -4 -0.5 -1.5 -1.5 0 -1.5 1 -1 4.5 -1.5zM135 254l3.5 -1 5.5 0.5 4 1 1 0.5 0.5 1.5 -1.5 2 -3 1.5 -4 1 -2.5 0 -2.5 -1 -3 -2 -0.5 -1.5 0.5 -1.5 2 -1z"/><path fill="#f7ff08" d="M405 1.5l2 -1.5 8.5 0 4 2 2 2 1.5 2.5 -0.5 3 -2 3 -2.5 3 -2.5 2 -3 0 -2.5 -1.5 -4 -4 -2 -2.5 -1 -3 0 -2.5 2 -2.5zM149 8l5.5 -1 4.5 1 -4.5 1 -5.5 -1zM235.5 8l8 -0.5 23 0.5 6 1.5 1.5 1 1.5 1.5 0.5 1.5 -1.5 1 -3.5 1.5 -6 1.5 -25.5 0 -6.5 -1.5 -2 -1.5 -3.5 -3 -1 -0.5 -8 -1 -3 -0.5 4 -1 8 0.5 8 -1zM205 18.5l4 -0.5 5.5 2 4 3 3 5 0.5 2.5 0.5 8.5 -0.5 1 -2 1 -7 4 -13.5 1.5 -32 2.5 -11.5 -0.5 -19 1 -13 -0.5 -7 2 -12 0.5 -3 -1 -0.5 -1.5 1 -1 2.5 -2 7 -1.5 10.5 -0.5 10.5 -2.5 9.5 -3 20 -4 17 -6 13.5 -6 12 -4zM431.5 18.5l1 -1 1.5 1 1 4 0 8 -1 2.5 -1.5 1.5 -1 -0.5 -1.5 -2 -1 -5.5 0 -4 2.5 -4zM41 22.5l4.5 -0.5 2 0.5 -1 1.5 -2.5 0.5 -2.5 1 -3 -0.5 -0.5 -1 3 -1.5zM302.5 62.5l4 0 3 1.5 -3 1 -3 0.5 -2 -0.5 -2.5 -1 3.5 -1.5zM132 66.5l2.5 0 3 0 -3 0 -2.5 0zM428 72l3.5 0.5 2 2 -0.5 4 -1 1 -2 1.5 -4 -0.5 -1.5 -1 -1 -2.5 0 -2.5 1 -1.5 3.5 -1zM10.5 83.5l1.5 1.5 0 4 -1.5 3 -1 1.5 -1.5 0.5 -1.5 -2.5 0 -2.5 1.5 -3 1.5 -1.5 1 -1zM110 91.5l3 0 1 0 1.5 1.5 -2 1.5 -2.5 0 -2 -1.5 1 -1.5zM133.5 93l3.5 -0.5 1 0.5 0.5 1.5 -1.5 1 -2 0 -2 -1 0.5 -1.5zM157.5 93l3.5 0 1 1.5 -1 1.5 -1 1 -1.5 0 -2 -1.5 0 -1 1 -1.5zM180.5 93l2 -1 1.5 1 -1.5 1.5 -1.5 -0.5 -0.5 -1zM189.5 93l15.5 -1 14.5 0.5 4 1 9.5 -1.5 12 0.5 4 0.5 -1.5 1.5 -4 1 -21 -0.5 -11 0.5 -6.5 0.5 -6.5 -2 -5.5 0.5 -3.5 -1.5zM265 93l1.5 0 1 0 -1 1 -1.5 -1zM275 93l13 0 2 1.5 -6.5 1 -8 0 -5 -1 4.5 -1.5zM389.5 93l6 0 1.5 1.5 -1.5 1 -9.5 0.5 -1.5 -0.5 -1 -1 2.5 -1 3.5 -0.5zM251.5 94.5l3 -0.5 1.5 0.5 -1.5 0 -3 0zM293 94.5l5 -1 8.5 1 -0.5 1.5 -1 0.5 -3 0 -5 0 -4 -2zM370 94.5l4.5 0 1.5 1 -2 1.5 -2.5 0 -2.5 0 -3 -1.5 4 -1zM339.5 95.5l9.5 -0.5 1.5 0.5 1 1.5 -2.5 1 -8 0.5 -1.5 -0.5 -1 -1 1 -1.5zM317.5 206l2 -0.5 1.5 0.5 0.5 1.5 -1 4 -2.5 2 -1 0 -1 -1 -1 -2.5 1 -2.5 1.5 -1.5zM138.5 255l4 0 3 1.5 -0.5 1.5 -1 0.5 -4 0.5 -3 -1 -0.5 -1.5 2 -1.5z"/><path fill="#ffd700" d="M409.5 1.5l3 -0.5 3 0.5 2.5 1.5 2.5 2.5 1 2.5 -0.5 2.5 -2 3 -2.5 2 -1 0.5 -3 -0.5 -2.5 -2 -3 -4 -1 -3 0.5 -2.5 1 -1.5 2 -1zM235.5 9.5l5.5 -1 6.5 0.5 4.5 1.5 0 1.5 -1.5 2.5 -7 1.5 -5 0 -4 -1.5 -2.5 -2.5 0.5 -1.5 3 -1zM260 10.5l4.5 0 1 3 -0.5 1 -4.5 0 -1 -2.5 0.5 -1.5zM431.5 20l1 -0.5 1.5 1.5 0.5 1.5 -0.5 6.5 -1.5 3.5 -1.5 -0.5 -1.5 -5.5 0.5 -4 1.5 -2.5zM202 21.5l4.5 -1.5 4 0.5 4 1.5 3.5 3.5 2 2.5 0.5 2.5 0 6.5 -1 3 -8 4 -13 1.5 -12 0.5 -19 1.5 -11.5 -0.5 -17.5 1 -4.5 0 -7 -1.5 1 -1.5 14.5 -4.5 8 -1.5 16 -4 14.5 -5.5 13.5 -6 7.5 -2zM115.5 45l4.5 0.5 2.5 1 0 1.5 -2 1 -4.5 1.5 -11 0.5 -1.5 -0.5 -0.5 -1.5 0.5 -1 1.5 -1 10.5 -2zM426.5 73l3.5 0 2 1.5 0.5 2.5 -1 2 -3 1 -1 -0.5 -2 -1 -1 -2.5 0.5 -1.5 1.5 -1.5zM9 86.5l1.5 -1 1 2 -1 2.5 -1 2 -1.5 -0.5 -0.5 -1 0.5 -2.5 1 -1.5zM191 93l3.5 0 3 0 -3 1 -3.5 -1zM199 93l6 -1 8 1 5.5 0 2 0 2 1.5 1 0 8 -2 12 0 4.5 0.5 -2 1.5 -3.5 0.5 -20 -0.5 -17.5 1 -6 -2.5zM274 94.5l3 -1 8 0 3.5 1 -5 0.5 -9.5 -0.5zM294 94.5l4 -1 8 1 -0.5 1 -2 0.5 -6.5 0 -3 -1.5zM384 94.5l3.5 -1 6.5 -0.5 1.5 0 1 1.5 -2.5 1 -6.5 0 -3 -0.5 -0.5 -0.5zM340.5 95.5l7 -0.5 2 0.5 1 1.5 -3 1 -6.5 -0.5 -1.5 -0.5 1 -1.5zM367.5 95.5l5.5 -1 2 1 -3.5 1 -4 -1z"/><path fill="#ffa700" d="M410 4l1.5 -0.5 2.5 0 2.5 1 2.5 2 1 3 -0.5 1.5 -1.5 2 -2.5 1.5 -1.5 -0.5 -2.5 -2 -2 -4 0 -2.5 0.5 -1.5zM236.5 10.5l6 -0.5 3 0.5 1 1.5 -0.5 1.5 -2.5 1 -4 0.5 -4 -1.5 -0.5 -1.5 1.5 -1.5zM432.5 21.5l0 -0.5 1 1.5 0 3 -1 4.5 -1 -0.5 -1 -4 1 -4 1 0zM201.5 22.5l5 -1 4 0.5 2.5 1 4 3 1.5 2 0.5 2.5 0 6.5 -1.5 3 -6 3 -9 1.5 -31 1.5 -7.5 0.5 -12 -1.5 -5.5 0.5 -1.5 -0.5 -0.5 -1 6 -2 4.5 -2 19.5 -6 9 -4 11 -5.5 7 -2zM111 46.5l6 -0.5 2 0.5 1 1.5 -1 1 -4.5 1 -6.5 0.5 -3 -0.5 -0.5 -1 1 -1 5.5 -1.5zM426 74.5l1.5 -1 2.5 0.5 1.5 1.5 0 1.5 -1.5 1.5 -2.5 0 -2 -1.5 0 -1 0.5 -1.5zM193.5 93l1 0 -1 0zM201 93l4 -0.5 6.5 0.5 -1.5 1.5 -5 0.5 -2 -0.5 -2 -1.5zM229.5 93l9 -0.5 9 0.5 -2.5 1.5 -2.5 0.5 -16 -0.5 3 -1.5zM276 94.5l7.5 -0.5 3.5 0.5 -3.5 0.5 -7.5 -0.5zM295 94.5l3 -0.5 7.5 0.5 -0.5 1 -1.5 0.5 -5.5 -0.5 -3 -1zM384.5 94.5l3 -1 5 0 3 0 0.5 1 -2 0.5 -6.5 0.5 -3 -1zM341.5 95.5l6 0 1 0 0.5 1.5 -4 0.5 -4.5 -0.5 1 -1.5zM368.5 95.5l3 -0.5 2.5 0.5 -2.5 0.5 -3 -0.5z"/><path fill="#ff6800" d="M413 8l1 -1 2.5 1 1 1.5 0 1 -1 1 -1 0.5 -2 -1.5 -0.5 -2.5zM200 24l6.5 -1 2.5 0 4 1.5 2.5 2 1.5 1.5 1 2.5 -1 8 -1.5 1.5 -4 2 -13 1.5 -31 1.5 -6.5 -1 -1.5 -1.5 1 -1.5 5.5 -2.5 16.5 -6 12 -6.5 5.5 -2zM110 48l6 -1 2 1 -2 1.5 -7.5 -0.5 1.5 -1zM427 76l1.5 -1.5 1.5 1.5 -0.5 1 -1 0.5 -1.5 -0.5 0 -1zM202 93l4.5 -0.5 3.5 0.5 -1 1 -2.5 0.5 -3 -0.5 -1.5 -1zM231 93l7.5 -0.5 8 0.5 -4 1.5 -7 -0.5 -2.5 0 -1.5 0 -0.5 -1zM281.5 94.5l2 0 1.5 0 -1.5 0 -2 0zM296 94.5l2 -0.5 7 0.5 -1.5 1 -5.5 0 -2 -1zM385 94.5l6.5 -1 2.5 0.5 1.5 0.5 -1.5 0.5 -6.5 0 -2.5 -0.5zM343 95.5l4.5 0 0 1.5 -5 0 0.5 -1.5zM370.5 95.5l1 0 0.5 0 -0.5 0.5 -1 -0.5z"/><path fill="#ff3800" d="M199 25.5l8.5 -1.5 4 1 2.5 1.5 1.5 2 1 2 -1 6.5 -0.5 1.5 -1.5 1.5 -3 1 -11 1.5 -28 0 -1.5 0 -2 -1.5 1.5 -1 2 -1.5 9.5 -3.5 11.5 -7 6.5 -2.5zM203 93l3.5 -0.5 2.5 0.5 -2.5 1 -3.5 -1zM234.5 93l4 -0.5 7.5 0.5 -5 1 -6.5 -1zM297 94.5l1 -0.5 6 0.5 -4.5 0.5 -2.5 -0.5zM386 94.5l4 -0.5 5 0.5 -7.5 0.5 -1.5 -0.5z"/><path fill="#ff0800" d="M198 26.5l4.5 -1 5 0 3 0.5 2.5 1 2 2 0.5 3 -1.5 5 -1 1.5 -2.5 1.5 -9.5 1.5 -18 -0.5 -4.5 -1 5.5 -3 8.5 -8 5.5 -2.5zM204 93l2.5 0 1.5 0 -1.5 0.5 -2.5 -0.5zM237 93l1.5 0 6.5 0 -4 0.5 -4 -0.5zM298 94.5l3 0 -3 0zM387 94.5l1.5 -0.5 5 0.5 -6 0 -0.5 0z"/><path fill="#d70000" d="M204.5 26.5l4.5 0 2.5 1 1.5 1.5 1 3 -2.5 5.5 -2.5 1.5 -8 1 -5.5 -0.5 -4 -2.5 -1 -1 0.5 -1.5 2.5 -4 5 -2.5 6 -1.5zM205.5 93l1 0 -1 0z"/><path fill="#a70000" d="M205.5 28l3.5 0 2.5 2 0 3 -1.5 3 -3 1 -4.5 1 -4 -0.5 -3 -1.5 -0.5 -3 0 -1 1.5 -1.5 3 -1.5 6 -1z"/></g>
<text x="941" y="400.7" text-anchor="middle">0</text>
<text x="1014.33" y="400.7" text-anchor="middle">10</text>
<text x="1087.67" y="400.7" text-anchor="middle">20</text>
<text x="1161" y="400.7" text-anchor="middle">30</text>
<text x="1234.33" y="400.7" text-anchor="middle">40</text>
<text x="1307.67" y="400.7" text-anchor="middle">50</text>
<text x="1381" y="400.7" text-anchor="middle">60</text>
<text x="934.7" y="345.988" text-anchor="end">20</text>
<text x="934.7" y="279.363" text-anchor="end">30</text>
<text x="934.7" y="212.738" text-anchor="end">40</text>
<text x="934.7" y="146.113" text-anchor="end">50</text>
<text x="1160.3" y="433" text-anchor="middle">LONGITUDE (E)</text>
<text transform="translate(895.7,237.25) rotate(-90)" text-anchor="middle">LATITUDE (N)</text>
<text x="1159.5" y="82.6" text-anchor="middle">expt_02.6 - Thickness anomaly layer 2 - ANNUAL MEAN - REF y51-y100</text>
<g shape-rendering="crispEdges">
<rect x="1414.1" y="366.52" width="42.4" height="4.77" fill="#000087"/>
<rect x="1414.1" y="362.35" width="42.4" height="4.77" fill="#000097"/>
<rect x="1414.1" y="358.18" width="42.4" height="4.77" fill="#0000a7"/>
<rect x="1414.1" y="354.00" width="42.4" height="4.77" fill="#0000b7"/>
<rect x="1414.1" y="349.82" width="42.4" height="4.77" fill="#0000c7"/>
<rect x="1414.1" y="345.65" width="42.4" height="4.77" fill="#0000d7"/>
<rect x="1414.1" y="341.47" width="42.4" height="4.77" fill="#0000e7"/>
<rect x="1414.1" y="337.30" width="42.4" height="4.77" fill="#0000f7"/>
<rect x="1414.1" y="333.12" width="42.4" height="4.77" fill="#0008ff"/>
<rect x="1414.1" y="328.95" width="42.4" height="4.77" fill="#0018ff"/>
<rect x="1414.1" y="324.77" width="42.4" height="4.77" fill="#0028ff"/>
<rect x="1414.1" y="320.60" width="42.4" height="4.77" fill="#0038ff"/>
<rect x="1414.1" y="316.43" width="42.4" height="4.77" fill="#0048ff"/>
<rect x="1414.1" y="312.25" width="42.4" height="4.77" fill="#0058ff"/>
<rect x="1414.1" y="308.07" width="42.4" height="4.77" fill="#0068ff"/>
<rect x="1414.1" y="303.90" width="42.4" height="4.77" fill="#0078ff"/>
<rect x="1414.1" y="299.73" width="42.4" height="4.77" fill="#0087ff"/>
<rect x="1414.1" y="295.55" width="42.4" height="4.77" fill="#0097ff"/>
<rect x="1414.1" y="291.38" width="42.4" height="4.77" fill="#00a7ff"/>
<rect x="1414.1" y="287.20" width="42.4" height="4.77" fill="#00b7ff"/>
<rect x="1414.1" y="283.02" width="42.4" height="4.77" fill="#00c7ff"/>
<rect x="1414.1" y="278.85" width="42.4" height="4.77" fill="#00d7ff"/>
<rect x="1414.1" y="274.68" width="42.4" height="4.77" fill="#00e7ff"/>
<rect x="1414.1" y="270.50" width="42.4" height="4.77" fill="#00f7ff"/>
<rect x="1414.1" y="266.32" width="42.4" height="4.77" fill="#08fff7"/>
<rect x="1414.1" y="262.15" width="42.4" height="4.77" fill="#18ffe7"/>
<rect x="1414.1" y="257.98" width="42.4" height="4.77" fill="#28ffd7"/>
<rect x="1414.1" y="253.80" width="42.4" height="4.77" fill="#38ffc7"/>
<rect x="1414.1" y="249.62" width="42.4" height="4.77" fill="#48ffb7"/>
<rect x="1414.1" y="245.45" width="42.4" height="4.77" fill="#58ffa7"/>
<rect x="1414.1" y="241.28" width="42.4" height="4.77" fill="#68ff97"/>
<rect x="1414.1" y="237.10" width="42.4" height="4.77" fill="#78ff87"/>
<rect x="1414.1" y="232.92" width="42.4" height="4.77" fill="#87ff78"/>
<rect x="1414.1" y="228.75" width="42.4" height="4.77" fill="#97ff68"/>
<rect x="1414.1" y="224.57" width="42.4" height="4.77" fill="#a7ff58"/>
<rect x="1414.1" y="220.40" width="42.4" height="4.77" fill="#b7ff48"/>
<rect x="1414.1" y="216.22" width="42.4" height="4.77" fill="#c7ff38"/>
<rect x="1414.1" y="212.05" width="42.4" height="4.77" fill="#d7ff28"/>
<rect x="1414.1" y="207.88" width="42.4" height="4.77" fill="#e7ff18"/>
<rect x="1414.1" y="203.70" width="42.4" height="4.77" fill="#f7ff08"/>
<rect x="1414.1" y="199.53" width="42.4" height="4.77" fill="#fff700"/>
<rect x="1414.1" y="195.35" width="42.4" height="4.77" fill="#ffe700"/>
<rect x="1414.1" y="191.17" width="42.4" height="4.77" fill="#ffd700"/>
<rect x="1414.1" y="187.00" width="42.4" height="4.77" fill="#ffc700"/>
<rect x="1414.1" y="182.82" width="42.4" height="4.77" fill="#ffb700"/>
<rect x="1414.1" y="178.65" width="42.4" height="4.77" fill="#ffa700"/>
<rect x="1414.1" y="174.47" width="42.4" height="4.77" fill="#ff9700"/>
<rect x="1414.1" y="170.30" width="42.4" height="4.77" fill="#ff8700"/>
<rect x="1414.1" y="166.12" width="42.4" height="4.77" fill="#ff7800"/>
<rect x="1414.1" y="161.95" width="42.4" height="4.77" fill="#ff6800"/>
<rect x="1414.1" y="157.78" width="42.4" height="4.77" fill="#ff5800"/>
<rect x="1414.1" y="153.60" width="42.4" height="4.77" fill="#ff4800"/>
<rect x="1414.1" y="149.43" width="42.4" height="4.77" fill="#ff3800"/>
<rect x="1414.1" y="145.25" width="42.4" height="4.77" fill="#ff2800"/>
<rect x="1414.1" y="141.07" width="42.4" height="4.77" fill="#ff1800"/>
<rect x="1414.1" y="136.90" width="42.4" height="4.77" fill="#ff0800"/>
<rect x="1414.1" y="132.72" width="42.4" height="4.77" fill="#f70000"/>
<rect x="1414.1" y="128.55" width="42.4" height="4.77" fill="#e70000"/>
<rect x="1414.1" y="124.38" width="42.4" height="4.77" fill="#d70000"/>
<rect x="1414.1" y="120.20" width="42.4" height="4.77" fill="#c70000"/>
<rect x="1414.1" y="116.03" width="42.4" height="4.77" fill="#b70000"/>
<rect x="1414.1" y="111.85" width="42.4" height="4.77" fill="#a70000"/>
<rect x="1414.1" y="107.68" width="42.4" height="4.77" fill="#970000"/>
<rect x="1414.1" y="103.50" width="42.4" height="4.77" fill="#870000"/>
<rect x="1414.1" y="103.5" width="42.4" height="267.2" fill="none" stroke="#000" stroke-width="1"/>
<line x1="1414.1" y1="171.5" x2="1418.1" y2="171.5" stroke="#000"/>
<line x1="1452.5" y1="171.5" x2="1456.5" y2="171.5" stroke="#000"/>
<line x1="1414.1" y1="242.5" x2="1418.1" y2="242.5" stroke="#000"/>
<line x1="1452.5" y1="242.5" x2="1456.5" y2="242.5" stroke="#000"/>
<line x1="1414.1" y1="314.5" x2="1418.1" y2="314.5" stroke="#000"/>
<line x1="1452.5" y1="314.5" x2="1456.5" y2="314.5" stroke="#000"/>
</g>
<text x="1461.7" y="181.422">50</text>
<text x="1461.7" y="252.904">0</text>
<text x="1461.7" y="324.386">-50</text>
<g shape-rendering="crispEdges">
<path d="M215.5 484V751.5H655.5" fill="none" stroke="#000" stroke-width="1"/>
<line x1="215.5" y1="751.5" x2="215.5" y2="746.5" stroke="#000"/>
<line x1="288.833" y1="751.5" x2="288.833" y2="746.5" stroke="#000"/>
<line x1="362.167" y1="751.5" x2="362.167" y2="746.5" stroke="#000"/>
<line x1="435.5" y1="751.5" x2="435.5" y2="746.5" stroke="#000"/>
<line x1="508.833" y1="751.5" x2="508.833" y2="746.5" stroke="#000"/>
<line x1="582.167" y1="751.5" x2="582.167" y2="746.5" stroke="#000"/>
<line x1="655.5" y1="751.5" x2="655.5" y2="746.5" stroke="#000"/>
</g>
<g transform="translate(216.5,485)" clip-path="url(#cp1)" stroke="#000" stroke-width="1" fill-rule="evenodd" shape-rendering="crispEdges"><rect x="0" y="0" width="437" height="264.5" fill="#000097"/><path fill="#0000d7" d="M0 0l437 0 0 264.5 -437 0 0 -264.5zM6.5 143.5l-1 2.5 0 1.5 0 0.5 1 1 1 -3 -1 -2.5z"/><path fill="#0008ff" d="M0 0l437 0 0 264.5 -437 0 0 -264.5zM6.5 140.5l-1 0.5 -0.5 6.5 0.5 3 1 0 1.5 -1 0.5 -2 -0.5 -5 -1.5 -2z"/><path fill="#0038ff" d="M0 0l437 0 0 264.5 -437 0 0 -264.5zM5.5 138l-1 9.5 1 4.5 2.5 -1 1 -3.5 -1 -7.5 -1.5 -2 -1 0zM9.5 168l-0.5 1 0.5 1.5 0.5 -1.5 -0.5 -1zM327 149l-0.5 0 5.5 0 0 -1 -1.5 0 -3.5 1zM333.5 147.5l-0.5 0 0.5 0zM344 163.5l-4 1 -15 0.5 -6 1 -0.5 1.5 9.5 0 8.5 -1.5 2 -0.5 9.5 0 2 -0.5 -0.5 -1.5 -5.5 0z"/><path fill="#0068ff" d="M0 0l437 0 0 264.5 -437 0 0 -264.5zM5.5 136l-1.5 11.5 1.5 6 3 -2 1 -1.5 0 -2.5 -1.5 -9.5 -1.5 -1.5 -1 -0.5zM271 138l-6.5 1.5 1 1 4 0 11 -1 4 -1.5 -5.5 0 -8 0zM327 147.5l-5.5 1.5 1 1 5 0 9.5 -1 5 -1.5 -0.5 -1 -1.5 0 -13 1zM346.5 162l-25 2.5 -6.5 1.5 -2 1.5 7 1 10.5 -0.5 9.5 -1.5 9.5 0.5 2.5 -1 1 -1 0 -1.5 -1 -1 -5.5 -0.5zM9.5 166l-1.5 1.5 -0.5 1.5 0.5 1.5 1.5 1.5 1 -1 0.5 -2 -0.5 -2 -1 -1z"/><path fill="#0097ff" d="M0 0l437 0 0 264.5 -437 0 0 -264.5zM5.5 89zM256.5 213.5l-1.5 0.5 0.5 1.5 4.5 0 3 -1.5 -2.5 -1 -4 0.5zM265.5 138l-5 1.5 -2 1.5 4.5 0.5 9.5 -0.5 10.5 -1.5 5.5 -1.5 -3 -0.5 -5 -0.5 -15 1zM277.5 47.5l-5.5 1.5 -3 1.5 -1.5 1.5 3.5 0.5 4.5 -0.5 4.5 -1.5 3 -1.5 1 -1 -2.5 -0.5 -4 0zM330.5 146l-8 1.5 -4 1.5 -2 1 5 1 10.5 -0.5 14.5 -3 3.5 -1.5 -7.5 -0.5 -12 0.5zM5.5 134l-1 4 -0.5 9.5 0 4 1.5 3.5 3 -2 1 -1.5 0.5 -2.5 -1 -11 -1 -2 -2.5 -2zM340 162l-21 2.5 -8 1.5 -2.5 1.5 1.5 1.5 5 0 12 0 14.5 -1.5 9 1 3 -1.5 2.5 -3.5 -0.5 -1.5 -3.5 -0.5 -12 0.5zM9.5 164.5l-2 1.5 -0.5 3 0.5 2.5 2 1.5 1 -0.5 1 -2.5 -0.5 -4 -1.5 -1.5zM10.5 237.5l0 2 1.5 1.5 1 -2 -0.5 -1 -0.5 -1 -1.5 0.5z"/><path fill="#00d7ff" d="M0 0l437 0 0 264.5 -437 0 0 -264.5zM5.5 85.5l-0.5 3.5 0.5 3.5 2.5 -3.5 -0.5 -1.5 -2 -2zM139.5 186l-0.5 0 8.5 0 -6.5 -0.5 -1.5 0.5zM155.5 238l-3 1 4 1 5 -1 -1 -1 -5 0zM279 46.5l-6 1.5 -7.5 2.5 -2 1.5 0 1 2 1 3 0 9 -1.5 8.5 -3.5 3 -2.5 -1 -0.5 -2.5 -0.5 -6.5 1zM338.5 117l-1 0.5 -6 1 8 0 8 -1.5 -3.5 -0.5 -5.5 0.5zM361.5 87.5l-1 0 2 1.5 4 0.5 3 -0.5 -4 -1.5 -4 0zM410.5 49l-0.5 1.5 0.5 1.5 1.5 1 1 0 1 -2.5 -0.5 -1.5 -1.5 -0.5 -1.5 0.5zM5.5 131.5l-1.5 6.5 -0.5 11 2 8 4 -4 1 -4 -1 -12 -1.5 -2.5 -2.5 -3zM269.5 137l-8 1 -8 3 1.5 1 10.5 0.5 16 -2 10.5 -2.5 -0.5 -1 -2 0 -20 0zM337.5 145l-14.5 2 -7.5 2 -2.5 1 2 1.5 2.5 0 16 -1 18 -3 4.5 -1.5 1 -1 -7.5 -0.5 -12 0.5zM9.5 163l-3 2 -1 -1.5 -0.5 5.5 0.5 2 4 3 1.5 -1 1.5 -3 -1 -5 -2 -2zM256.5 212.5l-4.5 1.5 -1.5 1.5 3 1 5.5 0 5 -1 2 -1.5 -1 -1.5 -2 -0.5 -6.5 0.5zM346.5 160.5l-22.5 2.5 -9 1.5 -7 1.5 -3 1.5 -1 1.5 4 0.5 7 0.5 26.5 -1.5 8 1.5 2.5 0 2.5 -1 3 -4 5 -3 0 -1 -1 -0.5 -15 0zM10.5 235.5l-1 2.5 1 4 -0.5 4 0.5 2.5 1.5 1 1.5 -2.5 -0.5 -4 1 -4 -1 -2.5 -1 -1 -1.5 0z"/><path fill="#08fff7" d="M0 0l437 0 0 264.5 -437 0 0 -264.5zM5.5 17l-0.5 3 0.5 3.5 0 -3.5 0 -3zM13.5 124l-0.5 1 0 1.5 1.5 0.5 1 -2 -1 -1 -1 0zM65 250l-0.5 1 0.5 1.5 1.5 -0.5 0.5 -1 -0.5 -0.5 -1.5 -0.5zM210 183.5l-9.5 0.5 -25 1.5 -34.5 -1.5 -5 1 -1 1 6 1 45.5 -1 2 -0.5 26.5 0 11.5 -0.5 -0.5 -1.5 -1.5 -0.5 -14.5 0.5zM295 39.5l-5.5 3.5 -13 3 -10.5 3 -3.5 1.5 -2.5 1.5 -1 1 1 1.5 1.5 0.5 5.5 0.5 9.5 -2 7.5 -2.5 12 -5.5 2.5 -1.5 1.5 -3 -0.5 -1 -2 -1.5 -2.5 1zM332 78.5l-2.5 0 -3 1 1 1.5 4.5 1 5 -1 0.5 -1.5 -5.5 -1zM340 55.5l-1.5 1.5 1.5 1.5 2.5 0 1.5 -1.5 -1.5 -1.5 -2.5 0zM346.5 115.5l-11 1.5 -7.5 1.5 0 0.5 1.5 0.5 12 -1 14 -3 -9 0zM353.5 76.5l-1.5 2 1 1 3 1 2 -1 0.5 -1 -1 -1.5 -1.5 -1 -2.5 0.5zM412 46.5l-2.5 1.5 -1 2.5 0.5 3 1.5 1 1.5 0.5 1.5 -0.5 1.5 -1.5 1 -2.5 -1.5 -3.5 -2.5 -0.5zM5.5 51.5l-0.5 3 0.5 3.5 0 -3.5 0 -3zM150 237.5l-2 1.5 2 1.5 4 0.5 6.5 0 6 -2 0 -1 -6 -1 -5 0 -5.5 0.5zM263 137l-11 2.5 -3 1.5 -1 1 3 1 4 0.5 14.5 -1 20 -3 5.5 -1.5 1 -1 -19.5 -1 -13.5 1zM348 143.5l-10.5 0.5 -13.5 2 -11.5 3 -3 1 0 1.5 4 1 5.5 0 14.5 -1 23 -4 5 -1.5 1.5 -1 -3 -1.5 -12 0zM357.5 87l-0.5 0.5 3 1.5 5.5 1 4 0.5 2 -1.5 -6 -2 -5.5 -0.5 -2.5 0.5zM5.5 62.5l-1 2.5 1 3 0.5 -3 -0.5 -2.5zM261.5 211.5l-9 1 -3.5 1.5 -1.5 1.5 1.5 1 2 0.5 8 0.5 6.5 -1.5 3 -2 0 -1.5 -1.5 -0.5 -5.5 -0.5zM354.5 159.5l-30.5 3 -10.5 1.5 -8 2 -5.5 3 1 1 6 0.5 33 -1.5 2.5 0.5 7 2 2.5 0 5 -1.5 2.5 -4 4.5 -2 3 -3 -0.5 -1.5 -2.5 -1 -9.5 1zM5.5 76l-1.5 13 1.5 5.5 2.5 -3 1 -2.5 -1 -2.5 -2 -3 -0.5 -7.5zM307 180.5l-8 1.5 -20 -0.5 -2 0.5 2 1 9 -1 23 0.5 1.5 -0.5 0 -1 -5.5 -0.5zM5.5 128l-2 9 -0.5 12 2 9 -0.5 12 1 3.5 1 -0.5 3 1.5 1.5 -0.5 1.5 -2.5 0 -5.5 -2 -3.5 -1 -1 -3 0 -0.5 -3.5 0.5 -1 3 -3 2 -5 -1.5 -13.5 -1 -1.5 -2.5 -2.5 -1 -3.5zM5.5 208.5l0 0.5 0 -0.5zM10.5 233.5l-2 3 1 5.5 -0.5 4 1.5 5 1.5 1 1.5 -0.5 0.5 -1.5 0 -7 1 -4 -1.5 -4 -1.5 -1.5 -1.5 0zM5.5 235l-0.5 1.5 0.5 1.5 0 -1.5 0 -1.5z"/><path fill="#38ffc7" d="M0 0l437 0 0 264.5 -437 0 0 -264.5zM5.5 14l-1.5 3.5 -0.5 2.5 2 26.5 -0.5 2.5 -1.5 4 1 7 -1.5 5 2 5.5 -1 6.5 0 6.5 -0.5 5.5 0.5 4 1.5 3.5 3.5 -5 1 -2.5 -0.5 -3 -3 -3.5 -1 -10.5 1 -7 -0.5 -4 0.5 -8 -1 -6.5 1 -26.5 -1 -6zM13.5 122l-2 1.5 0 3 2 2 1 0.5 1.5 -1.5 0.5 -2.5 -2 -3 -1 0zM18.5 17l-1.5 1.5 1.5 1 1.5 0 4.5 -1 2 -1 -4 -1 -4 0.5zM26.5 158.5l-1 2.5 1 1.5 1.5 -0.5 0 -1 0 -2.5 -1.5 0zM36 20l-0.5 0 1 0 -0.5 0zM44 2.5l-0.5 0 5 0 -2 0 -2.5 0zM54.5 64l4 0.5 4 -0.5 -4 -0.5 -4 0.5zM62.5 208.5l-0.5 0 2 0 -1.5 0zM65 248.5l-2 1.5 -0.5 1.5 1.5 2.5 2.5 0.5 2 -2 0 -1.5 -1 -1.5 -2.5 -1zM75.5 207l-0.5 0.5 2 0.5 1.5 -0.5 -3 -0.5zM82.5 258l2 1 8.5 0.5 30.5 -0.5 7 -1 -15 -0.5 -33 0.5zM101 2.5l-1.5 0 18.5 0.5 15 -0.5 -32 0zM138 183.5l-5 1.5 -0.5 1 3 1.5 5.5 0.5 74 -1.5 12 -1 2.5 -0.5 0.5 -1.5 -4 -1 -5.5 -0.5 -45 2 -37.5 -0.5zM296 36.5l-9 6 -18.5 5 -9.5 3 -4 2.5 -0.5 1.5 0.5 1.5 4 1 9.5 -0.5 12 -3 10.5 -3.5 9 -5 2 -2.5 0.5 -2.5 -1 -2 -2.5 -1.5 -3 0zM321.5 50l-1 0.5 0 1.5 1 0.5 1.5 0.5 2 -1 0 -1.5 -1 -0.5 -2.5 0zM325.5 78l-2.5 1.5 0.5 1.5 4.5 2 8 0 2.5 -0.5 3 -1.5 0 -1.5 -1.5 -0.5 -4 -1.5 -5.5 0 -5 0.5zM341.5 53l-4 1 -2 2 -0.5 1 0.5 1.5 3 2 4 0.5 2.5 -1 1 -1.5 0.5 -2.5 -1 -1.5 -1.5 -1 -2.5 -0.5zM353.5 75l-2.5 2 -0.5 1.5 0 1.5 1.5 1 2.5 1 3 0 1.5 -1 1 -1.5 0 -1 -1.5 -2.5 -2.5 -1 -2.5 0zM405 27.5l-2 1.5 1 1 1.5 -1 1.5 -1 -0.5 -0.5 -1.5 0zM412 45l-3.5 1.5 -1 1.5 -0.5 2.5 1 4 2.5 1.5 2.5 0 2.5 -1.5 1.5 -2.5 0 -3 -1 -2.5 -1.5 -1 -2.5 -0.5zM426.5 75.5l-1 4 1 3.5 1 -1.5 0.5 -2 0 -2.5 -1.5 -1.5zM5.5 104l-0.5 2.5 0.5 1.5 0 -1.5 0 -2.5zM20 107.5l0 1.5 1.5 1.5 1 -0.5 1.5 -1 0 -1.5 -1.5 -1 -1 0 -1.5 1zM44 115l-1 0.5 1 1.5 2.5 0.5 2.5 -0.5 0 -1.5 -1 -0.5 -3 -0.5 -1 0.5zM61 258l-0.5 0 0.5 1 3 0 2.5 0 3.5 -1 -5 -0.5 -4 0.5zM149 236.5l-8.5 1.5 -1.5 1 2.5 1.5 5.5 1.5 8.5 0.5 6.5 -0.5 11.5 -3 -1 -1 -6.5 -1.5 -9.5 -0.5 -7.5 0.5zM151.5 219l-1 0.5 5 0 3 0 -7 -0.5zM163.5 220.5l-1.5 0 1.5 0zM263 135.5l-5.5 1 -10.5 3 -6.5 2.5 -8 5.5 5.5 1 15 -1 1.5 -1.5 3.5 -1 31.5 -4.5 9 -2.5 2 -1 -4.5 -1 -18.5 -1 -14.5 0.5zM352 86.5l1 1 11 3 5.5 0.5 4.5 -0.5 0 -1.5 -6 -2 -12 -1.5 -4 1zM426.5 134l0 0.5 0 -0.5zM5.5 116l-0.5 7.5 -2 13.5 -1 13 2 7 0 13 1 4 0.5 1.5 1 -1 3 1 2.5 -1.5 1.5 -2.5 0 -1.5 -1 -6.5 -3.5 -4 -1 -1.5 2.5 -4 2 -5 -2 -13.5 -1 -3.5 -3 -3 -1 -4 0 -9zM240.5 235l-4 1.5 2.5 1 5.5 0 1.5 -1 -2 -1 -3.5 -0.5zM256.5 211l-6.5 1.5 -3.5 1.5 -2 1.5 0.5 1 3.5 1 4 0.5 12 -0.5 2.5 -0.5 2.5 -1.5 1.5 -1.5 0.5 -1.5 -1 -1 -3.5 -1 -10.5 0.5zM358.5 114l-22.5 2.5 -16 3 8 0.5 14.5 -1.5 18 -3 1 -0.5 2 -0.5 -5 -0.5zM426.5 243.5l-0.5 1 0.5 0.5 0.5 -0.5 -0.5 -1zM5.5 187l-1 5.5 1 3.5 0.5 -3.5 -0.5 -5.5zM353.5 142l-15 1 -15.5 2.5 -14 3.5 -3 1 -1 1.5 3.5 1.5 5 0 18.5 -1 29.5 -4 4 -1.5 1.5 -1.5 -1 -1.5 -3.5 -1 -9 -0.5zM5.5 205l-1.5 3.5 1.5 3 0.5 -3 -0.5 -3.5zM357.5 158l-34.5 3.5 -13.5 2 -11.5 4 -2.5 1.5 -1 1 3 1 6.5 0.5 34.5 -1.5 3 0.5 8 2.5 14 0 1 -1.5 -1 -4 5 -5.5 1 -1 0 -1.5 -1.5 -1.5 -2.5 -1 -8 1zM5.5 227.5l-1 2.5 0.5 2.5 -1 4 0 1.5 1.5 1.5 1 -1.5 1.5 1 0.5 3 -0.5 4 0.5 4 1 2.5 1 1 1.5 0.5 2.5 -1.5 0.5 -1.5 0 -8 1 -4 -0.5 -1 -2 -5.5 -1.5 -1 -1.5 0 -2.5 3.5 -1.5 0.5 -0.5 -3 0 -2.5 -0.5 -2.5zM296 180.5l-17 0.5 -3.5 1 1 1.5 2.5 0 12 -0.5 20 0 3 -1 0.5 -1 -3.5 -1 -15 0.5zM337.5 182l-2.5 1.5 0 1.5 2 1 4.5 0 2.5 -1 0.5 -1.5 -1 -1.5 -3.5 -0.5 -2.5 0.5zM5.5 244l-0.5 2 0 5 -0.5 5.5 0 2.5 1 0.5 0.5 -1.5 -0.5 -7 0.5 -5 -0.5 -2zM337.5 258l-6.5 1 38.5 0.5 10 -0.5 6.5 -1 -16.5 -0.5 -32 0.5z"/><path fill="#68ff97" d="M0 0l437 0 0 76.5 -8 0 -2 -3.5 -0.5 -2 -1.5 5 -12.5 3.5 2 1.5 2.5 1 6.5 0.5 1.5 0.5 1 3.5 0.5 6 0.5 -3.5 0 -2.5 2 -4.5 8 -0.5 0 50 -5.5 -0.5 -2.5 1.5 -1 -5 -1.5 -2 -1 3.5 -0.5 5 1.5 5 1 -1 1.5 -3.5 4 0.5 4 -0.5 0 130 -437 0 0 -113.5 3 4.5 0.5 14.5 2 8.5 1 -2.5 3 0.5 1 0 4.5 -5 -0.5 -6.5 -4 -7 3.5 -8 0 -1 -2 -5 0 -7 -1 -5.5 1 -1 4 -0.5 1.5 -1.5 0 -2 -1.5 -4.5 -1.5 -1.5 -1 -0.5 -1.5 0.5 -1.5 2 -1 5.5 -1.5 0 -1.5 -3 -1 -14.5 0.5 -5.5 -0.5 -5.5 1 -3.5 3 -3 1.5 -4 -2.5 -10.5 -2 -4 0 -5.5 1.5 -2.5 2.5 -0.5 7 1 7.5 -3 4 -0.5 7 2 6.5 0.5 9.5 2 4 0 6.5 0 16 -2.5 2.5 -0.5 2 -1 -2.5 -1.5 -5 -1 -19.5 -1 -9.5 0.5 -4 -0.5 -4 -2 -1 -1.5 0.5 -2.5 -1 -1.5 -3.5 -4 -1.5 0 -7 1.5 -5 2 -6.5 0.5 -1 1.5 2 2.5 -3 4 0 3 -1 1 -2.5 -1 -1 -4 1 -7 -1.5 -3 -0.5 -3.5 0.5 -11.5 1 -6 -0.5 -3.5 1 -3 6.5 1.5 7 -0.5 4.5 0.5 -4 1.5 -6 0.5 -4 3 0 1.5 2.5 1 7.5 0.5 1.5 1 1.5 3 3 1 3 -1 1 -3 4 -2 4 0.5 2 1.5 0.5 1.5 2.5 0.5 5.5 -0.5 3.5 -1.5 3 -2 3 -0.5 19.5 1.5 25 -4 -1 -1.5 -12 -1.5 -26.5 0.5 -10.5 1 -10.5 -2.5 -0.5 0 1.5 -1.5 4 -1.5 4 -0.5 11 2 5 -1 3.5 -1.5 -0.5 -1.5 -8.5 -2.5 -14.5 -2.5 -10.5 -0.5 -18.5 1 -2.5 1 -7 2.5 -2.5 0.5 -1.5 -2 -0.5 -2.5 0 -8 0.5 -1 5.5 -0.5 1.5 -1 4 -0.5 -12 -0.5 -1 0.5 0 9.5 -2 8 0.5 5.5 0.5 13 0.5 9.5 -1.5 4.5 -2.5 2 2.5 2.5 0.5 4 -0.5 1.5 -2.5 0 0 -62.5zM26.5 2.5l18.5 1.5 21.5 -0.5 53 0.5 12 0 17.5 -1 50 0 19.5 -0.5 -69.5 0 -31 -1 -50.5 1 -22.5 -0.5 -18.5 0.5zM219 39.5l-3 1.5 0 1.5 3 1.5 5.5 0.5 5.5 -0.5 2.5 -1.5 0 -1.5 -4 -1.5 -5.5 -0.5 -4 0.5zM238 131.5l-12 2 -5.5 -0.5 -8 0.5 -12 -1 -13 1.5 -6 -1 -6 0 -12 1 -4 1.5 9 2 19 -2 6.5 1.5 2.5 0 13.5 -2 9 0 7 -0.5 13 2 2 0.5 0.5 1 -2.5 1.5 -5 1.5 -21.5 4 -5 2.5 -0.5 1.5 5.5 1 25.5 1 18.5 -1 5 -0.5 2.5 -0.5 2.5 -1.5 0.5 -1.5 2.5 -1 28 -5 6 -2 2 -1 -2.5 -1.5 -33.5 -2 -13 -2 -13.5 -0.5 -5 0.5zM296 34l-6.5 5.5 -4 2 -26.5 7 -9 3.5 -3 1.5 -3.5 6.5 1 1 1 0.5 5.5 0 18.5 -3.5 24 -6.5 9.5 -6.5 2 -4 0 -2.5 -3.5 -4 -2.5 -1 -3 0.5zM319 47.5l-2 1.5 -3 4 0 1.5 0.5 1.5 3 1.5 2.5 0.5 8 -0.5 1.5 0.5 4 4.5 3 1.5 5 0.5 4 -0.5 3 -4 1 -3 -0.5 -4 -2 -2.5 -3.5 0 -11.5 2.5 -3 -4 -2 -1.5 -4 -1 -4 1zM352 74l-2.5 2 -3 3.5 -9 -3 -9.5 -0.5 -4 1 -3 1.5 -1.5 1 0 1.5 3.5 2.5 6.5 1.5 10.5 -0.5 4 -1 2.5 -1.5 1.5 0 0.5 1.5 -2 1.5 -0.5 1.5 0.5 2 1.5 0.5 17.5 2.5 7.5 -0.5 4 -0.5 -1 -1.5 -4 -2 -4 -1.5 -4.5 -0.5 -4 -1.5 2 -2 0.5 -2 -1.5 -3.5 -3 -2 -5.5 0zM364 2.5l-0.5 0 7 1.5 18.5 -1.5 -17 -0.5 -8 0.5zM408 25l-5 3 -1.5 1 -0.5 2 1.5 0.5 1.5 -0.5 3 -2 2 -2.5 0 -1.5 -1 0zM412 44l-4 1.5 -2.5 2.5 -0.5 2.5 1 4 1 1.5 3.5 1.5 5 -1.5 2.5 -1.5 1 -1.5 -0.5 -4 -0.5 -2.5 -2.5 -2 -3.5 -0.5zM413 2.5l-0.5 0 10 0.5 2.5 1 4 0 0.5 -1.5 -0.5 -0.5 -16 0.5zM426.5 94.5l-0.5 2.5 0.5 1.5 0 -1.5 0 -2.5zM426.5 144.5l-1 3 1 6.5 1 -2 1 -4.5 -1 -2 -1 -1zM5.5 182l-1 3 -1 7.5 1.5 7 0 2.5 -2 6.5 0.5 3 2 1.5 1 -4.5 -1 -8 1.5 -8 -1.5 -10.5zM20 106l-1.5 1.5 0 1.5 1.5 2 2.5 0.5 2.5 -1 0.5 -1.5 0 -1.5 -1 -1 -2 -1 -2.5 0.5zM26.5 154l-1.5 1.5 -1.5 6.5 0.5 1.5 2.5 1.5 2 0 1.5 -1.5 0.5 -4 -1.5 -4 -1 -1.5 -1.5 0zM32 167.5l-2 1.5 -1 2.5 0 6.5 1.5 1.5 1.5 -1 1 -2 2 -6.5 0.5 -1 -1 -1.5 -1.5 -0.5 -1 0.5zM42.5 111.5l-2.5 1.5 -3.5 2.5 0.5 1.5 4 2 5.5 1.5 5.5 -0.5 2 -1.5 0 -1.5 -0.5 -1.5 -3.5 -2.5 -3.5 -1.5 -4 0zM71.5 44l-4.5 1 2 1.5 10.5 2 7 2 42.5 2 16 -1 6.5 -1 -3 -1.5 -9.5 -1 -43.5 -2 -2.5 0 -5 -2 -3 -0.5 -13.5 0.5zM212.5 58.5l-3 1.5 1 1 4.5 1 5.5 -1 0 -1 -2.5 -1.5 -5.5 0zM228.5 51.5l-0.5 0.5 3 0 -1 -0.5 -1.5 0zM234 234l-6 1.5 -1.5 1 0 1.5 1.5 1 3 1 17.5 0.5 5 -1.5 1.5 -1 0.5 -2.5 -2 -1.5 -5 -0.5 -7 -0.5 -7.5 1zM260.5 210l-13.5 2.5 -5 3 -0.5 1 1.5 1.5 5.5 1 20 0 3.5 -1 2.5 -4 0 -2.5 -2 -2 -4 0 -8 0.5zM350.5 114l-20 2.5 -14.5 3 -2.5 1.5 9 0 20 -2 22.5 -3.5 4.5 -1 -1.5 -1 -2.5 -0.5 -15 1zM385 71.5l-4 1 -3 2 0 2.5 2 2.5 2.5 1 2.5 -0.5 5.5 -1.5 1.5 -1.5 1 -2.5 -1.5 -1.5 -3.5 -1 -3 -0.5zM426.5 53l-0.5 3 0.5 2 0.5 -2 -0.5 -3zM426.5 163l0 2 0 1 0 -1 0 -2zM5.5 219.5l-1 2.5 0 4 -1 4 0.5 2.5 -1 4 0 1.5 2 2.5 0 1.5 -1 4 0 5 -1 7 0.5 1 2 1.5 1 -1.5 0 -7 1.5 0 1.5 3 1 1 3 -1 3 -2.5 0.5 -1.5 -1 -8 1 -4 -3.5 -8.5 -3 -1 -2 0.5 -0.5 1 -2 -5 -0.5 -6.5zM26.5 207l-3 1.5 0 1.5 1.5 1.5 4.5 0 1.5 -1.5 0.5 -1.5 0 -1 -1 -0.5 -4 0zM86.5 196.5l-12 3 -1.5 1 2.5 1.5 3 0 15 -4 0.5 -1.5 -3.5 0 -4 0zM126 216.5l2.5 1.5 13.5 1 11.5 1.5 10 1 3 -1 -2.5 -1 -7.5 -1 -26.5 -2 -4 0zM134 143.5l6 0 -3 -0.5 -3 0.5zM350.5 141l-26.5 3 -18.5 4.5 -3.5 1.5 -1.5 1.5 2 1.5 4.5 1 17 -0.5 29.5 -3.5 9 0 4 -2 3 -3 0 -1.5 -4 -2 -5.5 -1 -9.5 0.5zM356 133l-2 2.5 0.5 1 7 0 2 -1 1 -1.5 0 -1 -3 -1.5 -3 0.5 -2.5 1zM426.5 169l-0.5 2.5 0.5 2.5 1 -2.5 -1 -2.5zM74.5 206l-13.5 1 -3 1.5 3 1.5 17.5 -1 2.5 -1.5 -0.5 -1.5 -2 -0.5 -4 0.5zM147.5 235l-14.5 2 -2 1 1 2.5 0.5 2.5 3 1 25 0 21.5 -3 2 -0.5 1 -1.5 -4.5 -1 -13 -2.5 -12 -0.5 -8 0zM138 179l-1 0.5 -1.5 2.5 -5.5 2.5 -0.5 1.5 3.5 2 6.5 0.5 75.5 -1.5 13.5 -1 4 -1 0.5 -1.5 -6 -2 -11 -0.5 0.5 -1.5 -4 -1 -10 1 4 1.5 -7 1 -11 0.5 -16 -0.5 1.5 -1 -9 -1.5 -11 -1 -16 0.5zM358.5 157l-12 1.5 -39.5 4.5 -12 4 -6.5 3 -1.5 1.5 2.5 1 4 0.5 25.5 -1.5 18.5 -0.5 2.5 0.5 8 3.5 8 0 6.5 2.5 3 0 1 -1 2 -3.5 -1 -5.5 0 -1.5 4.5 -5 0 -1.5 -1.5 -2 -4 -1.5 -8 1zM426.5 181l-0.5 5 0.5 4.5 1 -5.5 -1 -4zM62.5 248.5l-1.5 1.5 0 1 1 3 1 1 0 1.5 -8.5 1 -32 0 -1.5 0.5 0 1 1.5 0.5 37.5 0.5 65 0 30.5 -1 6.5 -1 18.5 1 22.5 0.5 102.5 0 44 1 55.5 -1.5 9.5 0.5 1.5 -0.5 0.5 -1 -1 -1 -1 0 -9.5 0.5 -9 -0.5 -26.5 -0.5 -86.5 1.5 -21.5 -0.5 -101 0.5 -45 -1.5 -42.5 0.5 -5 -0.5 0 -1.5 2 -2.5 0.5 -1.5 -1.5 -2.5 -4 -1 -2.5 1zM309.5 179.5l-13.5 0.5 -17 0.5 -3 0.5 -2 1 1 1.5 4 1 32 -1 4 -1 0.5 -0.5 0.5 -1 -2.5 -1.5 -4 0zM325.5 218l-1.5 0 -1.5 1.5 1.5 0.5 2.5 -0.5 -1 -1.5zM336 180.5l-2.5 1 -2 2 -0.5 1.5 1 1 4 1.5 5.5 0.5 5 -1.5 2 -1.5 -0.5 -3 -2.5 -2 -4 0 -5.5 0.5zM361.5 189l-1.5 1 0 1.5 1.5 0.5 2 -0.5 0.5 -1.5 -1.5 -1 -1 0zM426.5 193.5l-1 6 1 3 1 -2 0 -1 -1 -6zM288 222.5l-1 1 2.5 1 1.5 0 2.5 -1 -2.5 -1 -3 0zM295 209l-1.5 1 0.5 1.5 2 1.5 4 0 2 -0.5 1.5 -1 -8.5 -2.5zM426.5 207l-0.5 1.5 0.5 2.5 0.5 -2.5 -0.5 -1.5zM426.5 226.5l-0.5 2 0.5 2.5 1 -2.5 -1 -2zM426.5 240.5l-1.5 4 1.5 3.5 1 -1 1.5 -2.5 -1 -2.5 -1.5 -1.5zM30.5 25.5l1.5 -0.5 0.5 0.5 -0.5 0 -1.5 0zM0 68l0 -1 2.5 0.5 1.5 3 -1.5 8 1 5 -0.5 7 0.5 4 1.5 5 -1.5 5.5 1 6.5 -0.5 7 0 5 -2 20 -0.5 3.5 -1.5 2.5 0 -81.5zM6 240.5l0.5 -0.5 1 2 -1 1.5 -0.5 -1.5 0 -1.5z"/><path fill="#97ff68" d="M0 0l2.5 0 0.5 1.5 0 10.5 -0.5 3 -1 0 -1.5 0 0 -15zM6 0l0.5 0 33.5 0 -5.5 1.5 -12 0.5 -13.5 -0.5 -3 -1.5zM57.5 0l1 0 45.5 0 -15 1 -21.5 0.5 -5 0 -5 -1.5zM129.5 0l0.5 0 27.5 0 -2 1.5 -6.5 0 -19.5 -1.5zM171 0l239 0 1 1.5 -6.5 1 18 1.5 2.5 0.5 4 0.5 1.5 -1 0.5 -1.5 -2 -1.5 -3 -1 11 0 0 74 -6.5 -0.5 -1.5 -0.5 -1.5 -10.5 1.5 -8 -1 -4 0 -6.5 -1.5 -3 -1 3 -0.5 9 -1.5 0 -1 -1 -2 -5.5 -2 -2.5 -3 -1 -3.5 -0.5 -3 0.5 -2.5 1 -4 3.5 -8.5 3 -4.5 2.5 -0.5 1.5 3 1 2.5 0 2 -1 2 -2.5 1.5 -0.5 1 0.5 2.5 4 1.5 1 4 2.5 1.5 0 5 -2.5 3 -1 5 1 1.5 0.5 0.5 5 -0.5 9 -6.5 4 -3 0.5 -2.5 -0.5 -2.5 -4 -2 -1 -11 -1.5 -1 -1 1.5 -3 -2 -1 -17.5 -1.5 -5.5 0 -7.5 2.5 -9.5 -0.5 -2.5 -1 -1.5 -1 0 -1.5 2.5 -4 16 -6.5 0.5 -1.5 -1.5 -2.5 0.5 -2.5 -0.5 -0.5 -8 0.5 -24 6 -3 -0.5 -2 -3 -3 -1 -5.5 -1.5 -4 0 -4 1 -7.5 4 -4.5 0.5 1 -1.5 3 -3 2 -5 -0.5 -1.5 -5.5 -5.5 -2.5 -1 -2.5 -1 -4.5 1 -2 1 -3 4 -4 2.5 -4.5 1.5 -14.5 4 -13 2 -7 -0.5 -5.5 -1.5 -3 -5.5 -4 -2 -9.5 -0.5 -12 1 -2.5 1 -2.5 2 -1 1.5 0 2.5 -1 1.5 -11.5 2.5 -3.5 1.5 1 1.5 5 2.5 -0.5 1.5 -3.5 3.5 -4 1 -5 0 -16 -1.5 -18.5 -0.5 -15 1 -39.5 2 -16 -1.5 -13.5 -0.5 -12.5 -1 -3 -1.5 9 -3 6.5 -0.5 28 -0.5 20 1 29 0.5 32.5 -4 1 -1.5 -1.5 -1 -2.5 -0.5 -27 -1 -19 -1.5 -5.5 -1 0.5 -1.5 3 -0.5 29.5 -3 5 -0.5 17.5 1 7.5 -1 1.5 -1.5 -8.5 -1 -8.5 -0.5 -42.5 -0.5 -15 0.5 -4.5 -1 -1.5 -1.5 26 -4.5 25.5 0 29.5 -2 -2 -1 -1 -0.5 -16 -1.5 -6.5 -1 -4.5 -1 -1 -1.5 0 -2.5 -0.5 -1.5 1 -1.5 22 -2.5 4.5 -1.5 0 -1 -3.5 -1.5 -5 0 -83.5 -0.5 -32 -0.5 -20.5 1 -4.5 2 -5.5 1 -2.5 0 -4 -1 -8 4.5 -2.5 0.5 -1.5 0 -1 -3 0 -2.5 -0.5 -4 8 -1.5 32 0.5 77 0 147.5 -1 16.5 -1 -18 -0.5 -93.5 -0.5 -5 -1.5zM301.5 2.5l9.5 1.5 19.5 -0.5 6 -1 -6 -1 -23.5 0 -5.5 1zM366.5 1l-6.5 1.5 4 1.5 6.5 0.5 13.5 -0.5 14.5 -1.5 -25.5 -2 -6.5 0.5zM409 22.5l-2.5 1.5 -5.5 4 -2 2.5 0 1.5 3.5 0.5 6 -3.5 4 -5 -0.5 -1.5 -3 0zM426.5 17.5l-1 4 1 4 1 -2.5 0.5 -1.5 -0.5 -3 -1 -1zM330.5 10l-0.5 0.5 2 1 0.5 -1 -2 -0.5zM426.5 30.5zM86.5 12l4 0 4 1.5 -0.5 1 -3.5 1 -5 -1 -3 -1 4 -1.5zM0 34.5l0 -1 1 1 0 1.5 -1 0.5 0 -2zM9 37l7 -0.5 2 0.5 1 1.5 -0.5 1.5 -3 5 -2 1.5 -5.5 2 -0.5 -8.5 0.5 -2 1 -1zM34 40l3 -1 7.5 1 0 1 -2 1.5 -4 1 -3 -1 -1.5 -1.5 0 -1zM0 44l0 -1 1.5 0 1 1 0 5.5 -2.5 0 0 -5.5zM284 64l8 -1 19 1.5 12 0 18.5 2 17 0 5.5 -1 5.5 2 2.5 0.5 10.5 -2 2.5 0.5 1.5 1.5 -1.5 1 -12.5 4 -0.5 1.5 1.5 2.5 0 2.5 -3 1.5 -2.5 0.5 -2.5 -1 -1.5 -1.5 -1.5 -4.5 -1.5 -1.5 -2.5 -0.5 -9 0.5 -5.5 2.5 -16 -1 -4 0.5 -8 3.5 -1 1 0 1.5 1.5 4 0 1.5 -8 4 1 1 2.5 1.5 4 1 9.5 0 5 -1 0.5 1.5 -2 1 2.5 1.5 7 0.5 15 -0.5 3 1.5 5 0.5 2.5 -0.5 0.5 -1.5 -2 -1.5 -1 0 -9.5 1.5 -1.5 -0.5 -0.5 -2 1.5 -1.5 3 -1.5 9.5 1 16 -1 0.5 -1 -4 -3 -0.5 -1 1 -1 4 -1.5 12 -1.5 11 0.5 6.5 1 8 2 5 0 1 1.5 0 3 0.5 2.5 -0.5 2.5 1 8 -0.5 7 1.5 9 2 -9 -0.5 -5.5 1 -14 8 -0.5 0 36.5 -8 -1 -2.5 -6 -1.5 6 -6 3 -1.5 1.5 -0.5 1 0 1.5 2 2.5 6 3.5 1 3 -1 3 -6 2.5 -0.5 1.5 1.5 1 3.5 2 1.5 1 1 5 -1 11 -0.5 2.5 1 4 -0.5 10 -1.5 3 -2.5 0 1.5 1 1 -0.5 1.5 2 0 3.5 -1.5 1.5 -2.5 0.5 -2.5 1.5 -0.5 1.5 1.5 1.5 5.5 1 0.5 1.5 -0.5 5 0.5 5.5 0 10.5 -0.5 2.5 -1.5 1 -1.5 0.5 0 1.5 3 1 1.5 4 1 -2 1.5 -4 4.5 -1.5 -4.5 -1 -1 -2 0 -4 0 -6.5 1 -4 -0.5 -6.5 0.5 -1.5 8 0.5 0 37 -4 1 -4 0.5 -2.5 -3.5 -1.5 3.5 -2.5 2 -0.5 1.5 0 1.5 3 1.5 0.5 1 -0.5 3 -9.5 -0.5 -9 1.5 -1 1.5 2.5 1 -1.5 1.5 -1.5 0 -3 0 -1.5 -1.5 2.5 -1 0.5 -1.5 -2.5 -1.5 -4 -0.5 -9 1.5 -6 0.5 -3.5 2.5 -1.5 0 -7.5 0 -8 0.5 -11 0 -20 1 -47.5 0.5 -21.5 -0.5 -39.5 0.5 -70.5 -0.5 -26.5 -1 -6 -1.5 -3.5 -0.5 -11.5 1.5 -17.5 0.5 -12 0.5 -3 -1 1 -2.5 0 -1.5 -1.5 -2.5 -2 -1.5 -4 -0.5 -3.5 0.5 -1.5 1.5 -1 2.5 1 4 -1.5 1 -5.5 0.5 -25 0 -3.5 -1.5 4 -1 2 -1.5 -4 -0.5 -7 -2 -1 -1.5 -1 -3 0 -2.5 1 -1 3 0 2.5 1 1.5 3 1 1 2.5 0 1.5 -1 0 -1.5 -3.5 -2.5 3 -3 4.5 -2.5 0.5 -1 -0.5 -1 -2.5 -3 -3 -1 -2 1 0 2.5 -0.5 1.5 -1.5 1 -3.5 1.5 -3 -0.5 -2 -2 -1 -4 -1 -1.5 -2.5 -2 -4 0 -1.5 -2 0 -5.5 -1 -3.5 -2 3.5 -1 7 -1 1 -0.5 1.5 1.5 1.5 0 2.5 -2.5 0.5 0 -23.5 2.5 0.5 3 3.5 2 -6.5 -1 -5 0 -6.5 1.5 -2.5 3.5 -2 0 -1 -1 -2 -2.5 -1.5 -2 -7 0.5 -3 4 -0.5 4 -4 1.5 -0.5 9 0 1.5 0.5 0.5 2 0.5 5.5 -0.5 2.5 1 1.5 1 0.5 3 -2 4 -9.5 1 -2.5 1.5 -1 9.5 -1.5 1 0.5 4.5 2 4 0 3 -1.5 5 -4 1.5 -1 0.5 -1.5 -31.5 -0.5 -3 -0.5 0 -1.5 0 -6 6.5 -6 -1 -3 -4 -1 -4 1 -2 3 -6.5 5 0 5.5 -0.5 2.5 -1.5 1.5 -2.5 0 -3 -1.5 -1.5 -4 2.5 -5 2 -3 0 -1 -4 -4 -0.5 -4 1 -4 0 -3 0.5 -1 3 -1.5 1 -1 0.5 -3 -1 -2.5 -2 -5.5 -0.5 -4 -1 -0.5 -2.5 0 -4 2 -1.5 -5.5 0.5 -5 -1 -7 1 -2.5 3.5 -2.5 0.5 -1.5 1.5 -4 0 -4 2 -2 9.5 -3.5 8 -0.5 5 -1.5 1.5 0 6.5 6 3 1 5 0.5 11 -0.5 5.5 -2 1 -1.5 -1.5 -1.5 -5 -1 -13.5 -1 -3 -1.5 0.5 -1.5 23.5 -5.5 32 -3 22.5 1 30.5 -0.5 20 1 11 2 31.5 -1 4.5 0.5 3.5 1.5 1.5 2.5 2 1.5 4 1.5 20.5 2 16 0.5 13 -1.5 4.5 -2.5 0 -1.5 -3 -0.5 -8 -0.5 -10 -1.5 -4.5 -1.5 -1.5 -1 1 -1.5 6 -2 15.5 -0.5zM354.5 113l-26.5 3 -23.5 5 2.5 1 2.5 0 17.5 -1 41 -5 5.5 -1.5 -1 -1.5 -4.5 -1 -5.5 0 -8 1zM33 203.5l-8 1.5 -6.5 -1 -1 0.5 0 1.5 1 2 4 3.5 2.5 1 3 0 4 -1 6 -4 0.5 -1.5 -1 -1.5 -4.5 -1zM21.5 104.5l-3 1.5 -1 1.5 0 3 0.5 1 3.5 1.5 5 -1.5 1.5 -1 0 -1.5 -1 -2.5 -3 -2.5 -2.5 0.5zM34.5 107.5l-2 1.5 -2.5 5.5 1 2.5 4.5 4 -1 1.5 -2.5 1 0.5 1.5 2 0 4 -1.5 32 4.5 6 -1.5 2.5 -1.5 0.5 -1.5 -0.5 -1 -2 -1.5 -2.5 -1.5 -14.5 -4 -9.5 -4.5 -14.5 -4 -1.5 0.5zM87.5 107.5l-3.5 1.5 0.5 1.5 3 1 3.5 -1 0.5 -1.5 -2.5 -1.5 -1.5 0zM187.5 129l-28 3 -24 0.5 -8 1.5 -2.5 1.5 -1.5 2.5 -4 2 -9.5 2 -6.5 0 -1 0 7.5 0.5 4 0.5 4 2 4 4 3 0.5 5 0 17.5 -1.5 6.5 0 7.5 1 3.5 1 1.5 1.5 -0.5 1.5 -4 1 -13 0.5 -5.5 0.5 -1.5 0.5 0 1.5 -1.5 1 -9 1.5 -7.5 2.5 1.5 1.5 3 1.5 1.5 1 -6 4 0.5 1.5 4.5 1 13 0.5 5.5 1 -2 1.5 -10 2 -2.5 1 -4 3 -4 2 -0.5 1.5 4.5 3 4 1 6.5 0.5 83.5 -2.5 9.5 -1 3 -1 1 -1.5 -1.5 -1.5 -5 -1 -1.5 -1 -0.5 -0.5 0.5 -1.5 -3 -1 -34 0.5 -9.5 1 -13.5 -1 -7.5 -0.5 -4.5 -1.5 -3 -2.5 2 -3 -0.5 -1 3 -1.5 20 -2 24 0 5.5 -0.5 1 -1.5 -6.5 -2.5 -5.5 -3 -13 0.5 -4.5 -0.5 -1.5 -1 1 -1.5 3.5 -1.5 6.5 -0.5 7 0 2.5 0.5 2.5 2 1.5 0.5 4 0 5 -0.5 6 -2 7.5 -1 16 0.5 18.5 -1.5 22.5 -3.5 2.5 -1 2 -2.5 2.5 -1.5 9 -2 9.5 -1 9 0.5 4 1 -1 1.5 -3.5 1.5 -10 2 -8 2.5 -2 0.5 -0.5 1.5 8 3.5 4 0.5 14.5 -1 32 -3 10.5 0 4 -1.5 4.5 -5 0 -1.5 -4 -4 1.5 -6.5 -0.5 -2 -1.5 -1 -2.5 -1 -11 -1 -4 0 -10.5 2 -6.5 5 -3 0.5 -14.5 -1 -10.5 0.5 -13.5 -0.5 -19.5 -3 -12 -2.5 -15 -1 -21 0 -13.5 1.5 -15.5 -1.5 -8 1zM269.5 115.5l-16 2 -11 2 -3.5 1.5 8 1.5 26.5 -0.5 5 -1 6 -2.5 -0.5 -1.5 -3.5 -1.5 -11 0zM89 159.5l-1 0 -1.5 1.5 5 1 11 1.5 5.5 0 6 -1.5 -3 -1 -10 -2.5 -5.5 0 -6.5 1zM117 183.5l-1 0 -1 1.5 3 0 5 0 -1 -1.5 -5 0zM125 216l-1 0.5 1.5 1.5 2 0.5 25.5 2.5 11.5 1 1.5 0 2 -1.5 -1.5 -1 -2 -1 -8 -1 -27.5 -2 -4 0.5zM167.5 205.5l-1.5 0.5 1 1.5 1.5 0 2.5 0 0.5 -1.5 -1.5 -0.5 -2.5 0zM224.5 219l0 0.5 1.5 1 0.5 -1 -2 -0.5zM232.5 232.5l-5.5 0.5 -2.5 1 -2 2.5 0 2.5 2 2 4 0.5 10.5 0 8 1 15.5 -2 1.5 -1.5 -2 -5 -3.5 -1.5 -15.5 -1 -10.5 1zM257.5 190l-2.5 0.5 -2 1 -1.5 2.5 0 1.5 3.5 1 8 -0.5 1.5 -0.5 0 -4 -1.5 -2 -5.5 0.5zM361.5 155.5l-12 2.5 -42.5 3.5 -7 1 -5 1.5 -6.5 3.5 -11 4 -2 1.5 0 1 1 0.5 7.5 0.5 33.5 -3 14.5 0.5 5.5 0.5 2.5 1 1.5 1.5 -0.5 1.5 -3.5 0.5 -5.5 0 -3 0.5 0 8 0.5 1.5 2.5 1 6.5 1 11 0.5 2.5 1.5 0 1 -6.5 7 -5.5 1 -8 -0.5 -21 1 -1.5 1 6.5 4 0 1.5 -2.5 0.5 -10.5 -0.5 -7 -2.5 -1 0 -7 2 -5 0.5 -2.5 1 -11 -1 -21 3.5 -4.5 1.5 -5.5 3 -2.5 2.5 -0.5 1.5 0 1 3.5 4 2.5 0.5 2 -0.5 1 -1 -0.5 -1.5 3 -1.5 16 0 5 1.5 8.5 3 14.5 3.5 1 -0.5 5.5 -3 2.5 -1 16 0 2.5 0.5 0.5 1.5 -1 1.5 0 1 2 1 3 0.5 -0.5 -4 1.5 -1.5 6.5 -3 1 -1 0 -1 -1 -3 -2 -2.5 0.5 -1.5 1 -1 0 -1.5 -4.5 -1.5 -2 -1 0.5 -1.5 3 -1.5 2.5 0 9 1 5.5 0 1.5 0.5 0 2.5 1 1.5 2.5 1.5 3 0.5 4 -0.5 0.5 -1.5 -2 -2.5 1 -1.5 4 -2.5 0.5 -1.5 -1 -2.5 5 -2 2.5 -3.5 1.5 -0.5 2.5 -0.5 4 0.5 2 -1 0.5 -0.5 0 -1 -1 -1.5 -4 -1 -1.5 -1 -2 -5.5 3 -8 -1 -5 0 -3 1.5 -2.5 2 -2.5 1 -1.5 -0.5 -1.5 -3.5 -2.5 -1.5 -0.5 -3 -0.5 -5 1zM90.5 194l-19 3 -11.5 4.5 -1 0.5 0 1.5 2 1 -4 2.5 -1 1.5 1 1.5 4 0.5 18.5 -1 2 -1 1.5 -1 -0.5 -3 0.5 -1 4.5 -2 11 -2 10.5 -4 1.5 -1.5 -4 -0.5 -16 0.5zM145 234l-25.5 0 -2.5 1 -1 1.5 1 1.5 8 3 0.5 1 -0.5 2.5 1 1 8 1 30.5 0.5 6 -2.5 15.5 -1.5 4 -2 0.5 -2 -3 -1.5 -20 -3 -13.5 -1 -9 0.5zM303 179.5l-26.5 0 -3 1 -1.5 1.5 0.5 1.5 1 0.5 4 1 33.5 -1 5 -1 1 -1 0.5 -1 -1.5 -2 -2.5 -0.5 -10.5 1zM279 232.5l-1 0 5 0 -1.5 -0.5 -2.5 0.5zM288 231l-0.5 0.5 2 0 0 -0.5 -1.5 0zM304 244.5l-2 1.5 3 2.5 4.5 1 2.5 -1 -1.5 -1.5 1 -2.5 -0.5 -0.5 -7 0.5zM316 248l-1 0.5 1.5 1.5 2.5 0 1.5 0 2 -1.5 -1 -1 -5.5 0.5zM332 228.5l-2.5 1 -2.5 0.5 1 1 1.5 0 6.5 -1 -0.5 -1.5 -3.5 0zM372 207l-3 1.5 0.5 1.5 3.5 0.5 3 -2 -1 -1 -3 -0.5zM69 234l-2.5 1.5 1.5 1 3.5 1.5 11 0.5 3.5 -0.5 -0.5 -1.5 -2 -0.5 -6.5 -2 -8 0zM99.5 234l-5 1.5 -1.5 1 1.5 1.5 1 0 4 0 2 -1.5 0 -1 -0.5 -1.5 -1.5 0zM0 70.5l0 -0.5 1.5 0 1 0.5 -0.5 1.5 -2 0.5 0 -2zM8 70.5l2.5 0 0.5 1.5 -3 0.5 0 -2zM0 82.5l0 -0.5 1 0.5 1 1 -0.5 3 -1.5 1 0 -5zM429 86.5l1.5 -1.5 1 0 3 1.5 -4 1.5 -1.5 0 0 -1.5zM0 89l0 -1 1.5 2.5 0 2.5 1 1.5 1.5 5 -1.5 4 -2.5 1 0 -15.5zM0 107.5l0 -0.5 2.5 1 1 3.5 -0.5 7 0 6.5 -1 4 0 4 -1.5 5 0.5 4 -1 3 0 -37.5zM332 137l1.5 -0.5 4 1.5 0.5 0 -0.5 1.5 -4 0.5 -2.5 -0.5 0 -1.5 1 -1zM431.5 138l5.5 -0.5 0 6.5 -8 0.5 -1.5 -2.5 0.5 -1 1 -2.5 2.5 -0.5zM436.5 151.5l0.5 -0.5 0 10.5 -3 2 0.5 1.5 2.5 0 0 8 -4 -2.5 -4 -0.5 0 -6.5 -1 -5.5 1 -4 5.5 0 1 -0.5 1 -2zM0 157l0 -1.5 1.5 1.5 -1.5 1 0 -1zM0 165l0 -0.5 1.5 0.5 0.5 1 2.5 13.5 -2 10.5 -1 1.5 -1.5 0.5 0 -27zM17 166l2.5 0 2 1.5 -3 1 -1 0.5 -1.5 -1.5 1 -1.5zM429 174l0 -0.5 8 -0.5 0 10 -8 -1.5 -0.5 -4.5 0.5 -3zM356 179.5l2.5 0 2.5 1.5 1 1 -0.5 1.5 -4 2 -3 0 -1 -0.5 -1 -1.5 -0.5 -1.5 1.5 -1.5 2.5 -1zM429 187.5l1.5 -0.5 6.5 -0.5 0 7.5 -3.5 1.5 -3 2 -1.5 -0.5 0 -0.5 -0.5 -5 0.5 -4zM0 196.5l0 -1 2.5 0 1 5 -1 5 -2.5 0.5 0 -9.5zM279.5 210l1 -1 1 0 5.5 0 6.5 5.5 5.5 1.5 2.5 0 9.5 -4 4 -1 4 1 2 2 -0.5 1.5 -3 2.5 -4 1.5 -9.5 0.5 -9 -2 -11 1 -3.5 -1 -2.5 -1.5 -0.5 -2.5 1 -2.5 1 -1.5zM0.5 239l2 0 1 1.5 0.5 1.5 -1.5 3.5 -0.5 0.5 0.5 0 0.5 2.5 -0.5 4 -2.5 -1.5 0 -4 1 -1 -1 -2 0 -4.5 0.5 -0.5zM429.5 247l7.5 0 0 17.5 -84.5 0 0 -1.5 1 -1 5 -1 26.5 0 20 -1 10.5 0 3 -3.5 10.5 0 5.5 -1.5 0 -1 -5.5 -1.5 -0.5 -1.5 -0.5 -1 0 -1.5 1.5 -1.5zM17 255l3.5 0 -0.5 4 1.5 1.5 1 0 29.5 0 6.5 0.5 14.5 -0.5 20 0.5 77 -1.5 45 1 29.5 -0.5 17 1 13.5 -0.5 10.5 0.5 12 0 8 -0.5 33 1.5 -1 1.5 -1.5 1 -37.5 0 -2.5 -0.5 -1 0.5 -263 0 -8 -1 -6.5 1 -12 0 -0.5 -1.5 1 -1 2 -1 2.5 0.5 2.5 -3.5 4 -3zM0 262l0 -1.5 3 1.5 -1.5 0.5 -1.5 2 0 -2.5z"/><path fill="#d7ff28" d="M17 0l0.5 0 10 0 -2.5 1.5 -2.5 0 -5.5 -1.5zM288.5 1.5l5 -1 5.5 1 -4 1 -6.5 -1zM337 1.5l3.5 -1.5 17 0 2 1.5 -1.5 1 3.5 1.5 5 0.5 24 -0.5 12 -1 20 1.5 2.5 1 0 0.5 1.5 0.5 -0.5 1.5 1.5 2.5 -1.5 3 -1 5.5 -1.5 1.5 -6.5 1.5 -4 -1 -9 -0.5 -7 -2.5 -2.5 0 -1.5 1.5 -0.5 6 -0.5 0.5 -5.5 1.5 -9.5 0 -1.5 1.5 -0.5 1.5 2 1 8 -0.5 11 1.5 4 1 4 -1 8 -3 2.5 1.5 4 0.5 3.5 -1 -2 -1.5 -6.5 -1 0.5 -1.5 3 -2 6.5 -0.5 1.5 1 0.5 1.5 -0.5 4 0.5 5.5 -0.5 5.5 -1.5 1 -1 -0.5 -9.5 -1.5 -9 0.5 -3 1 -4 3.5 -11 7.5 -2 1.5 -1.5 3 -1.5 1 -6.5 2 -9 1.5 -5.5 0 -2 -1 0 -1 1 -1.5 2.5 -1 8 -3 3.5 -2 9 -10 0.5 -1.5 -1.5 -0.5 -4.5 -2 -0.5 -1.5 -2.5 -1 -4 -0.5 -7 4 -14.5 6.5 -6.5 2 -3 0 0 -1.5 0.5 -1.5 6.5 -5 -1 -1.5 -4.5 -1.5 0.5 -1 4.5 -3 4.5 -1.5 8 -1 3.5 -1.5 3 -2.5 2.5 -3.5 5 -3 0.5 -1.5 -1.5 -1 -5 0 -4 -1.5 -2.5 -1.5 -0.5 -1.5 1.5 -1 12 0 2.5 -1 3.5 -3 -5 -1 -7.5 0.5 -3 0.5 -5 2.5 -9.5 0.5 -1 1 -0.5 1.5 0.5 5 -4 5.5 -0.5 2.5 -1 0.5 -3 0.5 -2.5 -0.5 -1.5 -1.5 -1 -3 -1.5 -1.5 -1.5 0 -1 0 -1.5 1.5 -1 5.5 1 4 0 1 -5 3.5 -4 0.5 -4 -0.5 -6 -3.5 -4.5 -4 0.5 -1 2 -1.5 5.5 -6.5 -0.5 -2 -2.5 0 -14.5 1.5 -4.5 2 -1 1 1.5 1.5 6.5 2.5 0 1.5 -9 4 -2.5 4 -2 0.5 -18.5 3.5 -2.5 -0.5 -7.5 -3.5 -10 -2 -51.5 1 -11.5 -0.5 -16 -2.5 1 -1.5 22.5 -1.5 6 -1 2.5 -1.5 -1 -1 -3.5 -1.5 -9.5 -2 -13 -1.5 -3 -0.5 -0.5 -1.5 0.5 -1 2 -1.5 21 -5.5 2.5 -1 0 -1.5 -20 -1 -46.5 -1 -73 0 -12 0 -9.5 1 -18.5 0.5 -2.5 -1 0.5 -1 2 -1 32 0.5 75.5 0 150.5 -1 12 0 11.5 -1.5 12 2 22.5 0 4.5 -0.5 4 -1.5 -2 -1zM312 8l-0.5 4 0.5 1.5 1.5 0.5 9.5 -2 4 0.5 5 2.5 2.5 -1.5 1 -3 -1 -1.5 -0.5 -1 -2 -0.5 -20 0.5zM429 13.5l0 -1 1.5 1 -0.5 1 -1 0.5 0 -1.5zM430 24l3 -0.5 4 0.5 0 18 -6.5 0 -1.5 0 0 -1 -1 -4 0.5 -10.5 0.5 -2.5 1 0zM136 32l3.5 -0.5 5 0.5 -3.5 0.5 -5 -0.5zM155.5 42.5l2.5 0 3.5 0 -2 1.5 -5.5 0 1.5 -1.5zM164.5 54.5l4 -0.5 4 0.5 -4 1 -4 -1zM69 56l22.5 -1 9 1 3 1 -4 1.5 -8 0.5 -22.5 -1 -5 -1 5 -1zM414.5 58.5l2.5 -1 1.5 0 2 1 1.5 2.5 -0.5 8 -2 3 -2.5 1.5 -2.5 -1 -2 -2 -1.5 -2.5 1 -7 2.5 -2.5zM433.5 61l3.5 -0.5 0 5 -4.5 -0.5 -2 -1 0 -1.5 3 -1.5zM299 68l5 0 3 1 -5.5 1.5 -2.5 -0.5 -2.5 -1 2.5 -1zM75.5 70.5l23 -1 26.5 0.5 12 0.5 12 0 11.5 2.5 19 2.5 25 1 14.5 0 12 2 20 2 22.5 0.5 12 -0.5 9.5 -1.5 4 0 6.5 1.5 0.5 0.5 0.5 1.5 -4.5 4 -7.5 4 1 1 9.5 3 2 1 1.5 1.5 2 5.5 1.5 0.5 3 0.5 12 0.5 3 -0.5 3 -1 9.5 -1.5 4.5 1.5 -1.5 1 -5 1.5 0.5 1.5 4 2.5 -0.5 1.5 -2.5 1 -6 1.5 -10.5 1 -4 2 -4 -0.5 -2 -1 -11.5 -2.5 -14.5 0.5 -12 -1 -14.5 1 -17.5 3.5 -11.5 1.5 -12.5 2 -9 1 -2.5 0 -2.5 -1 0.5 -1 7.5 -4 0.5 -1.5 -2 -1 -4 -0.5 -28 -2 -12 1.5 -4 0 -2.5 -0.5 -1 -1.5 0 -1.5 1 -2.5 -0.5 -1.5 -2 -1 -4 -1.5 -5.5 -1 -20 -0.5 -12 0.5 -7.5 1 -13.5 3 -12 0 -6 2.5 -6 4.5 -5.5 1 -10.5 -1 -6.5 -2 -4 -1.5 -0.5 -1 3 -2 4 -1 6.5 0 3 -0.5 0.5 -0.5 -0.5 -2.5 -1.5 -1.5 -1.5 -0.5 -9 2 -7 -1 -8 0.5 -2.5 -0.5 -1 -0.5 -1.5 -5.5 0 -1.5 8 -3.5 5 -0.5 11 2 24.5 -8.5 -13 -4 -2.5 -1 0 -1.5 2.5 -2 4 -1.5 4 -0.5zM25 81l10 0 2.5 1.5 0.5 2.5 -1 1 -2.5 1 -11.5 0.5 0.5 1.5 2 1.5 0.5 1 -1 1.5 -4.5 2.5 -0.5 1.5 1.5 4 -0.5 1.5 -5 5 -1.5 3.5 -0.5 0.5 -2 0.5 -3 -0.5 -1 -1 0.5 -4 -1.5 -5.5 0.5 -2.5 7 -4 1 -4 3.5 -3 -1 -2.5 1 -1.5 2.5 -1 3.5 -1.5zM397 86.5l5.5 0 4.5 1 2.5 1.5 0.5 2.5 -1.5 3 0 1 7 4 3 3 0 1 -1 1.5 0 4 -1 2.5 0.5 3 2.5 2 4 1 1.5 1.5 0 2.5 -1.5 2.5 -11 5 -2 1.5 0 1 2.5 4 9.5 5.5 1 1 -1.5 1.5 -8.5 2.5 -2.5 1.5 0.5 1.5 7.5 5 4 4 -0.5 1.5 -4 4 -0.5 1.5 0.5 4 -1 4 2.5 2.5 0 1.5 -1 2.5 2 2.5 0 1.5 -5 2.5 -0.5 1.5 0 1 0.5 1.5 3.5 2.5 -0.5 1.5 -4 2.5 -1 1.5 0 1.5 1 2.5 2.5 4 1.5 4 -0.5 1.5 -3 1.5 -1 2.5 0.5 1 4 3 0.5 5 -3.5 4 -1.5 4 5 2 4 0 1.5 0.5 0 3 -8 5 -4 1 -5 0 -1.5 -1 -1.5 -1.5 -1 -0.5 -9.5 2 -2.5 1.5 1.5 2.5 -0.5 1.5 -4 1.5 -3 0 -3.5 -1.5 -0.5 -1.5 1 -1 0 -1.5 -2 -0.5 -3 0.5 -6 3 -6.5 -1.5 -4 -1 -9.5 2.5 -4 0 -12 -3 -2.5 -1.5 -2 -2.5 -4.5 -2.5 -1 -1.5 0.5 -1 4 -2 16 -3.5 -6.5 -4 0 -1.5 1.5 -0.5 4 -2 4 -3.5 4 -2 6.5 1 14.5 0.5 5.5 -2.5 4 -4.5 5 -1 1.5 -1.5 0.5 -1 -2 -2 -13 -1 -3 -1 -2 -1.5 -0.5 -1.5 1 -2.5 7 -3 2 -2.5 0.5 -1 -1 -4 -5.5 -5.5 -1 -2.5 2.5 -5.5 -2.5 -5 -0.5 -3 1.5 -2.5 4 -4 -0.5 -1.5 -5.5 -4 -4.5 -0.5 -2.5 0 -11 3 -18.5 2.5 -20 1 -7.5 -0.5 5 -2.5 26.5 -3.5 14.5 -1.5 13.5 0 3.5 -2 4 -4 0.5 -1 -2.5 -5.5 1 -8 -1 -4 -3 -2 -2.5 -1 -13.5 0.5 -19 2.5 -3.5 1.5 -2.5 1.5 -4 1 -24 2.5 -4 -0.5 -11.5 -2 -3.5 -1 -1 -1.5 -1 -0.5 -8 -1 -3 -1 11 -2 46.5 -3 48 -6 3 -1 0 -1.5 -15 -4 1.5 -1.5 7.5 -1 3 -1.5 0 -1.5 -4.5 -4.5 -3.5 -4.5 0.5 -1.5 8.5 -0.5 12 1.5 2 -1 -1 -1.5 -5.5 -2.5 -0.5 -1.5 3.5 -0.5 5.5 0.5 5 -1zM353.5 231l-1.5 0.5 0.5 1 2 1 3 0 2 -1 -1 -1.5 -5 0zM0 97l1.5 0.5 1 1.5 0 1 -1 1 -1.5 0.5 0 -4.5zM433 106.5l4 -1.5 0 15 -2.5 1 -5.5 0 -0.5 -2.5 0.5 -3 5.5 -1.5 0.5 -1 -2 -6.5zM105 111.5l4 0 12 2 18.5 1 13.5 3.5 9 2 2.5 1 1.5 1.5 -0.5 1 -2 0.5 -20 4 -24 2 -10.5 -0.5 -6.5 -2.5 -8 -0.5 -1.5 -1.5 0 -1.5 4.5 -2.5 1 -1.5 -1 -1 -7 -3 3 -1 11.5 -3zM21 114.5l3 -0.5 2.5 1 3.5 4.5 0 1.5 -2 4 -0.5 2.5 -0.5 1.5 -2 0.5 -2.5 0 -1 -1 -4 -7.5 -0.5 -1.5 0.5 -2.5 1 -1.5 2.5 -1zM79 114.5l0.5 0 0.5 0 -0.5 0 -0.5 0zM80.5 115.5l0.5 -0.5 4.5 0.5 -3 0.5 -2 -0.5zM34 134l6 -0.5 6.5 0.5 2.5 1.5 1.5 2 9.5 2 9 4 -2.5 1.5 -9.5 0 -6.5 -1 -4 -2.5 -1.5 0 -5 1 -5 -0.5 -2 -1 -1.5 -4 0.5 -1.5 2 -1.5zM77 134l9 0 4.5 1.5 -2.5 1.5 -5.5 0.5 -6.5 -0.5 -2.5 -1.5 3.5 -1.5zM17 139.5l5.5 -0.5 4 2 1.5 1 -0.5 1.5 -3.5 3 -2.5 0.5 -5.5 -3 -1 -2 0 -1 2 -1.5zM433.5 141l2 -0.5 1.5 -0.5 0 1.5 -3.5 -0.5zM268 153l7 -1 14.5 0.5 6.5 1.5 2 1.5 0.5 1.5 -1 0.5 -9.5 3.5 -2 1 -1 3 -1 1 -3.5 1.5 -13.5 2.5 -8 -1 -1 -1.5 1.5 -1.5 11.5 -2.5 -0.5 -1.5 -9 -1.5 -1 -1 -0.5 -1.5 0.5 -2.5 1 -0.5 6.5 -2zM83 166l4.5 -0.5 9 0.5 5 1.5 0.5 1.5 -4 2.5 0 1.5 -0.5 1 -2 1.5 -9 3 -4 0.5 -25.5 -0.5 -4.5 1 -1 1.5 3 2.5 0.5 1.5 -1.5 1 -7 2.5 -1 1.5 1.5 1.5 5 2.5 1 1.5 -0.5 8 1.5 2.5 -0.5 2.5 1 1.5 2.5 1 3 0.5 18.5 -1 5 -2 2.5 -4 5.5 -2 22.5 -3.5 4 -0.5 5.5 1 1.5 -1 1.5 -3 2.5 -3 2 -1 3 -0.5 86.5 -3 12 -1 10.5 -2 4 0.5 2 0.5 1 1.5 0 1 -1 4 -2 2.5 -2.5 1.5 -3 0.5 -6.5 0 -6.5 1 -13.5 0.5 -12 3 -7.5 -1 -9.5 1 -8 -0.5 -8 0 -9.5 1 -5 2 -9.5 -0.5 -17 0.5 -2 0.5 -1 1.5 2 1.5 11.5 2.5 20 3 6.5 -1.5 6.5 0 7 -2 8 0 10.5 -3 9 0.5 7 -1.5 8 0 8 -1 9 0.5 3 -0.5 6.5 -2 13 0.5 3 1 1 0.5 -0.5 1.5 -2.5 1.5 -24.5 5.5 -12 2 -8 -0.5 -3 0.5 1.5 1.5 2.5 4 5.5 4.5 8 0.5 8.5 3 -0.5 1.5 -6.5 1 -8 0 -3 1 -2 2 -2 5 2.5 4 -0.5 1.5 -6 3 -5 1.5 -5.5 0 -4 -1 -5.5 -5 0 -4 -1 -1 -2.5 -1 -31 -4.5 -6.5 -1 -17 0.5 -2.5 -0.5 -2 -3 -3.5 -1 -9.5 1 -2 1.5 -4 6.5 0.5 1.5 1 2.5 0.5 1.5 -1.5 0.5 -10.5 4 -6.5 0 -3 -0.5 -5.5 -3 3 -1 8 0 3 -2 1.5 -3.5 0 -2.5 -0.5 -3 -1 -2 -3 -0.5 -2 3 -2.5 1 -4.5 1 -4 -1 -5.5 -3 -2.5 -1 -14.5 -0.5 -5 0.5 -3 1.5 -7.5 0 -1 1.5 1.5 4 8 0.5 5.5 1 14 5 2.5 1 1 1.5 2 4 -5 0.5 -8 -3 -6 0 -8.5 2 -5.5 0 -4.5 3 -4.5 2 -1.5 -1.5 0 -2.5 1.5 -1 2 -1 0.5 -1 -6.5 -2 -2 -2 0.5 -1.5 5.5 -1 2.5 -1.5 -2.5 -2 -3 -3.5 -3.5 -2.5 -1.5 -1 -5.5 0 -3 1 -2.5 1.5 2 2.5 -1 1.5 -2 0 -1.5 -0.5 -0.5 -1 0.5 -2.5 -5 -4 -5.5 -2 -0.5 -5 -1.5 -4 0.5 -2.5 2.5 -5.5 -2 -5 0.5 -5.5 2 -1.5 7.5 -1 1 -1.5 -4 -6.5 0.5 -4 -4 -2 -2.5 1 -0.5 -1.5 0.5 -1.5 1.5 1 1 -0.5 4 -4.5 1.5 -1 4 0 3.5 1 1 1.5 0.5 2.5 0 1.5 -2 4 1.5 3.5 -0.5 1.5 -2 2.5 -0.5 1.5 1 1.5 3 1 6.5 1 2.5 -1.5 2 -2 2 -4 -0.5 -1.5 1 -1 2 -1.5 0.5 -1 0.5 -3 -1 -0.5 -4 -1.5 0 -0.5 1 -4 1.5 -1.5 5.5 0 12 1.5 17.5 -1.5 14 -2.5 0.5 -1.5 -6 -2.5 0 -1.5zM125 215l-2.5 1.5 1 1.5 4 1 36 3.5 4 0 2 -2 -2 -2 -8 -1.5 -30.5 -2 -4 0zM200.5 213.5l-1 0.5 0.5 1.5 0.5 0.5 2.5 -0.5 -0.5 -1.5 -2 -0.5zM32 200.5l-2.5 1.5 -3 1 -8 -1 -1 0.5 -2 2 0.5 4 2 1.5 7 3 4 0 5.5 -1.5 5.5 0.5 2 -0.5 1 -3 -1 -2.5 -7.5 -6 -1.5 0 -1 0.5zM202 169l37 0 2.5 1 2.5 1.5 1.5 1.5 0.5 2.5 -1 1.5 -2 0.5 -5 1 -11 -3 -29 0.5 -4 -0.5 -1.5 -1.5 1 -2.5 1.5 -1.5 3 -1 4 0zM314.5 173l6 0 2.5 1 -7 3 -13 1.5 -11 0.5 -6.5 -1 12 -3 17 -2zM0 175.5l0 -1 1.5 0 1 1 1 2.5 -0.5 4 -0.5 1 -1 0 -1.5 0.5 0 -8zM319 182l1 -1 1.5 0 2.5 0.5 1.5 0.5 2.5 8 -0.5 1.5 -4.5 3.5 -4 1.5 -3.5 -1 -3.5 -0.5 -4.5 0.5 -7.5 2 -6.5 -1 -8 0 -13 -1.5 -3 -0.5 -2 -2 -1.5 -4 0 -1 0.5 -1.5 3 -1 8 1 12 -1 22.5 0 4 -1 3 -2zM330.5 194l1.5 -1 2.5 0 2 1 0.5 1.5 -1 0.5 -2.5 0.5 -3 -1 0 -1.5zM0 199.5l2 0 -0.5 1 -1 0 -0.5 -1zM337 211.5l3 -1 2.5 0 4.5 2 3.5 3 -2 1 -6 2.5 -2.5 0.5 -2.5 -0.5 -3 -2 -0.5 -1.5 0 -1.5 0.5 -1 2.5 -1.5zM281.5 212.5l1.5 -0.5 2.5 -0.5 2 1 2.5 3 -1.5 1 -1.5 0.5 -4 0 -2 -1.5 0 -1.5 0.5 -1.5zM0 214l0 -1 2.5 0 0.5 1 1 2.5 -1.5 3 -2.5 0.5 0 -6zM434.5 215.5l2.5 -1.5 0 6 -3 -2 0.5 -2.5zM301 227.5l6 -0.5 2.5 0 0.5 4.5 6 2.5 -1 1.5 -5.5 3 -6 2 -3.5 0 -1.5 -1.5 -2 -2.5 1 -1 6.5 -4 -3 -3 0 -1zM243.5 228.5l3.5 -0.5 4 0 5.5 0.5 1 1.5 -10.5 0.5 -2.5 -0.5 -1 -1.5zM267.5 235.5l1 -1 1 -0.5 9.5 3 6.5 -1.5 2.5 0 3.5 1 1 1.5 -0.5 2.5 -1 1.5 -3 1 -2.5 0 -16 -4.5 -2.5 -2 0.5 -1zM428.5 235.5l0.5 -1 2 1 0.5 1 -1 1.5 -1.5 0 -0.5 -2.5zM182.5 247l1 0 1.5 0 -0.5 0.5 -1 0 -1 -0.5zM127.5 250l6.5 -1 5 1 -3.5 1 -8 -1zM271 250l2.5 -1 3 1 2.5 1.5 8 -1.5 9 -1 5.5 2.5 10 2.5 1 1 -9.5 0.5 -11 0 -9 1 -14.5 -1.5 1 -1 4.5 -1.5 -1.5 -0.5 -1 -1 -0.5 -1zM232 251l4.5 0 10.5 3 -11.5 1 -15 1 -8.5 -1 -2 -1 1.5 -1.5 3.5 -1 9.5 0.5 7.5 -1zM248 255l1.5 0 2 0 -2 0 -1.5 0zM435.5 258l1.5 -1 0 7.5 -5.5 -0.5 -8 0.5 -5.5 -2.5 0 -1.5 2.5 -1.5 12.5 -0.5 2.5 -0.5zM158 260.5l14.5 0 23 0.5 15.5 1 0.5 1 -2.5 1.5 -104 0 0.5 -1.5 1 0 5 -1 4 -0.5 26.5 0.5 5.5 2 2 -1 0.5 -1 8 -1.5zM71 262l11 0 4 1 -10.5 1.5 -4.5 -1.5 0 -1zM234 262l7.5 -0.5 7.5 0.5 4.5 2 3.5 0.5 -26.5 0 -4 -1.5 7.5 -1zM394 262l12.5 -1 7 1 -4.5 1.5 -10.5 0.5 -3.5 -1 -1 -1z"/><path fill="#fff700" d="M341.5 1.5l4 -1 6.5 0.5 2.5 0.5 1.5 1 4 1.5 8 1 34.5 -1 20 1 1 0.5 -0.5 1 -2.5 1.5 4 4 0.5 2.5 -1.5 3 -1 1 -5.5 1.5 -10.5 -1 -4 -1 -6.5 -2.5 -3 0 -1 1 -3 5.5 -1.5 2 -3.5 1.5 -7 0 -3 2.5 -4.5 5 -9.5 6.5 -12.5 5.5 -3.5 1 -1.5 -1 4.5 -4 3.5 -4 12 -6.5 12 -10 1.5 -2.5 0 -4.5 2.5 -3 4 -2.5 -2 -1.5 -2 -0.5 -9 -0.5 -5.5 1 -8 2.5 -9.5 1.5 -1.5 1.5 -0.5 6.5 -3 4 -3 1 -2.5 -1.5 -2.5 -3.5 0 -1 3.5 -7 -1 -2.5 -5.5 -1.5 -20 0 -3 1.5 0.5 2.5 -0.5 1.5 -1.5 1.5 -2 0.5 -5 0 -12 -3 -9.5 4.5 -8 2 -5 0.5 -11 -2 -5.5 1.5 -1.5 1 0 1.5 2 1.5 3.5 1 9.5 2.5 8.5 1.5 3.5 1.5 -2 1 -12.5 0.5 -18.5 1.5 -13.5 0 -12 1.5 -7 -0.5 -2 -1.5 10.5 -2.5 0.5 -1.5 -1 -1 -2.5 -1.5 -5 -1.5 -12 -1 -8.5 -1.5 -5 -1.5 -1.5 -1 2 -1.5 15.5 -3.5 5.5 -4.5 -1.5 -0.5 -5 -1 -22.5 -0.5 -40.5 -0.5 140 -1 12 0 9 -1 13.5 1.5 21 -0.5 6.5 -0.5 3.5 -1.5 1 -1zM272.5 8l-1 0 3.5 0.5 4.5 -0.5 -7 0zM13.5 5.5l1 -0.5 26 0.5 -6 0.5 -20 0.5 -1 -1zM321 14.5l4.5 0 2.5 1.5 0 1.5 -1 1 -5.5 3 2.5 4 0.5 5 -1.5 2.5 -1.5 1 -2.5 1 -3 -0.5 -2.5 -1 -2 -1.5 -0.5 -1.5 0 -2.5 2.5 -4 4 -2 2 -0.5 0.5 -1.5 -1.5 -2.5 0.5 -1 2 -2zM404.5 33l3.5 0 0.5 0 0 1.5 -2.5 2.5 -17 13 -13 7.5 -5.5 1.5 -3.5 -0.5 6 -3 7.5 -9 10 -10 4 -2 6.5 -0.5 3.5 -1zM414.5 60l2.5 -1 1.5 0 1 1.5 1 2 -1 6.5 -1 1.5 -1.5 1 -1.5 0 -1 -1 -1.5 -2.5 0.5 -5.5 1 -2.5zM72 73l3.5 -1 4 0 9.5 0.5 33 0.5 20 1 53.5 5 19.5 0.5 17.5 3.5 6.5 0.5 17.5 -0.5 22.5 0 12 -0.5 2.5 0 2 1 -0.5 1.5 -1.5 1 -3.5 1.5 -7 2.5 -13 1.5 -2 1.5 -1 1.5 -4 1 -12 -0.5 -16 -1 -33 2.5 -9.5 0 -8 2.5 -5 0.5 -13.5 -1 -13 -2 -5.5 -0.5 -30.5 1.5 -14.5 3 -15 -0.5 -12 1.5 -4 -1 -4 -3 -3.5 -6 0 -1 1 -1.5 5 -2.5 4.5 -1.5 5 -0.5 9.5 1 4 0 14.5 -3 1.5 -1.5 -1.5 -1.5 -8 -1.5 -18.5 0.5 -6.5 -1 -4.5 -1.5 0 -1.5 2 -1.5zM142 85l-8 1.5 -1 1 1 1.5 3 1.5 8 1.5 29 -2 2.5 -1 -1 -1.5 -3 -1 -10.5 -2.5 -6.5 0 -13.5 1zM215 87.5l-5 1.5 8 1 5 -1 -3 -1.5 -5 0zM43.5 90.5l3 0 2.5 0.5 2.5 2 0.5 1.5 -3 1 -6.5 0 -2.5 0 -2 -1 -0.5 -1.5 1.5 -1.5 4.5 -1zM281.5 93l9.5 1 5 1.5 5 9.5 0 1.5 -5 1.5 -5 0.5 -14.5 -2.5 -1.5 -1 2.5 -2.5 0 -1.5 -4 -2.5 -1 -1.5 0 -1.5 4 -1.5 5 -1zM371.5 93l5.5 0 4.5 1.5 2 1 1 1.5 0.5 4 1.5 0.5 16 -3 2.5 0 3 1 1.5 1.5 0 2.5 1.5 4 -1 5.5 0.5 1.5 5 4 2.5 4 0 1 -1.5 1.5 -12 4 -1.5 1.5 0.5 1 7 5.5 6.5 4 0.5 1 -2 1.5 -8 2.5 -2 1.5 -1 1.5 0.5 1 7 4 2 4 0 1.5 -1.5 5.5 1 4 -1 2.5 2 5.5 0.5 4 -0.5 1 -3 3 -0.5 1 0.5 2.5 0.5 1.5 3 2.5 0 1.5 -3.5 2.5 -0.5 1.5 -0.5 4 1.5 5.5 -3 4 0 2.5 0 1.5 1 1 5 4 1 3 0 1 -4.5 5.5 -6.5 2.5 0.5 1.5 1.5 1.5 -0.5 1 -10.5 3.5 -7 1 -1.5 -0.5 -2.5 -2.5 -2.5 -1 -4 1 -4 2.5 -2.5 1.5 -6.5 0 -12 -1 -2 1 0 1 -1.5 1.5 -5 0 -5 -1.5 -0.5 -1 1.5 -1.5 3 -1 1.5 -3 1 -1 3 0 6.5 1 11 0 0 -1 -2 -7 -1.5 -1 -2 -1 -7 1.5 -2.5 -0.5 -1.5 -1.5 1.5 -2 12 -4 5.5 0 1.5 0.5 0.5 1.5 -1 2.5 2 3 0.5 2.5 1.5 1 2.5 0.5 2.5 -1.5 -0.5 -1.5 -2 -1 -0.5 -1.5 1 -2.5 4 -3 -0.5 -1 0.5 -1.5 2.5 -2 4 -1 1.5 0.5 1.5 1 1 2 1 -1 0.5 -1 3.5 -2.5 1 -1.5 -2.5 -5 -2.5 -2 -2.5 -1.5 -9 -2 -1 -1.5 2 -1.5 0.5 -1 0.5 -2.5 1.5 -3 1.5 -1 2.5 -1.5 0.5 -1.5 -3 -1.5 -3.5 -3.5 -4 -2.5 -0.5 -1.5 3 -4 0 -1.5 -4 -6.5 -0.5 -2.5 2.5 -3 4 -2.5 0 -1.5 -6.5 -4 -2.5 -1 -1 -1.5 4.5 -2.5 2 -3 0 -1 -2.5 -4 2.5 -8 -1.5 -4 0.5 -2.5 -0.5 -1.5 -2.5 -2 -2 -0.5 -3.5 -0.5 -37 4.5 -9.5 2 -9.5 0.5 -10.5 2 -12 -0.5 -2.5 0 0 -1.5 6.5 -3.5 5.5 -1 22.5 -2 35 -4 17 -1.5 8 -1.5 2 -1 -1 -2 -2.5 -1.5 -3 -0.5 -2 -1.5 2.5 -1.5 0.5 -1 0 -1.5 -2 -2.5 -4 -2.5 -2.5 -2.5 -2 -3 1.5 -1.5zM389 234l-2.5 1.5 1.5 0.5 4 -0.5 0 -2 -3 0.5zM12.5 97l2 0 3 0.5 1.5 2 0.5 1.5 -1 2.5 -2.5 2.5 -2.5 1.5 -1.5 0 -1.5 -1.5 -2.5 -5 0 -1.5 1.5 -1 3 -1.5zM216.5 102.5l4 -1 4 0 13.5 1 21 1 4.5 1.5 0.5 1.5 -6.5 2.5 -13 3 -5.5 0.5 -5 -0.5 -20 -3.5 -13.5 0 -8 -1 -6.5 -1 -2.5 -1.5 2.5 -1 2.5 0 18.5 1 4 -0.5 5.5 -2zM21.5 115.5l3.5 0.5 1.5 1 1.5 2.5 0 1.5 -1.5 3 -2.5 2.5 -2.5 -0.5 -1.5 -1.5 -2 -3.5 0 -1.5 0.5 -2 1.5 -1 1.5 -1zM353 153l7.5 0 1 1 -8 2 -20 2.5 -14.5 1 -1.5 -0.5 -0.5 -1 16.5 -3 19.5 -2zM277.5 154l10.5 0 3 0 2.5 1.5 -1.5 1.5 -5 1.5 -8 1.5 -9.5 0 -1.5 -0.5 -2 -1.5 1 -1 2.5 -1.5 8 -1.5zM199 171.5l11 -0.5 26.5 0.5 4 1 1 1.5 -0.5 1.5 -3 0.5 -11 -1.5 -26.5 0.5 -3.5 -1 0 -1 2 -1.5zM309 174l8 0 -1.5 1.5 -7.5 1.5 -6.5 1 -7 0 1 -1 4.5 -1.5 9 -1.5zM17 177l3 1 -0.5 1.5 -1 0.5 -2.5 -0.5 -0.5 -1.5 1.5 -1zM317 185l4.5 -1.5 2.5 1 1.5 3 0 1 -0.5 1.5 -3.5 2 -8 1 -28 1 -13 -0.5 -3 -1 -1.5 -2.5 0.5 -1.5 1 -1 1.5 -0.5 17 -1 24 0 5 -1zM18 187.5l0.5 -0.5 1 0.5 -0.5 1 -1 -1zM239.5 187.5l3.5 0 3 1 1 1.5 -0.5 2.5 -2 2 -4 1 -8 -0.5 -29.5 3 -9 -0.5 -28 1.5 -28 2.5 -4 0 -2.5 -1 -2 -1 -0.5 -1.5 1 -2.5 1.5 -1.5 5.5 -1.5 30.5 -2 72 -3zM43.5 195.5l3 -0.5 1.5 0.5 1 2 0.5 2 -0.5 2.5 -1 2 -1.5 0.5 -4 -1 -2.5 -1.5 -0.5 -1.5 0 -1 0.5 -1.5 3.5 -2.5zM10.5 198l3 -0.5 4 1.5 7 0.5 0.5 1 -3 0 -3.5 -0.5 -1 0 -1.5 1 -1 2.5 -1 5 2 2 9 3.5 3 0 6.5 -1.5 6.5 1 5.5 -2.5 2.5 -0.5 9.5 2 21 -1.5 12 -3.5 3.5 -3 2 -0.5 4 -0.5 6.5 -0.5 4 1 1.5 0.5 1.5 3 2.5 1 13 2 6 2 0 1.5 -10 0 -4 1.5 -1 1 1 1.5 4 1.5 38.5 4 4 -1 2.5 -2 -1 -2 -2.5 -2 18.5 0 2.5 0.5 3.5 2.5 4 1 15 0.5 4 0.5 4 2 4 5 -1 1.5 -4 4 -3 3.5 -3.5 1.5 2 4 -0.5 1.5 -2 1.5 -4 0.5 -2.5 -0.5 -2.5 -1.5 -2.5 -2.5 -1 -4 -2 -1.5 -2.5 -1 -17.5 -1.5 -12 -2.5 -8 -2.5 -15.5 -1.5 -11 -3 -4 0.5 -6.5 1 -5.5 0 -2.5 -1.5 -6.5 -1.5 -6.5 1.5 -7 2.5 -2.5 0.5 -26.5 -2 -16 3 -6.5 2 -9.5 -3 -12 1.5 -2.5 -1 -5 -3.5 -4.5 -8 1 -2.5 2.5 -4 0.5 -1.5 -2 -4 -0.5 -2.5 1 -2.5 1.5 -1.5zM248 204.5l4.5 -0.5 5 0 3.5 0.5 0.5 1.5 -2.5 1.5 -5.5 1.5 -13 2 -13.5 0 -3.5 -1 3 -1.5 12.5 -1.5 9 -2.5zM338.5 214l3 -1.5 2 1.5 -1 1.5 -2.5 0 -1 0 -0.5 -1.5zM0 215.5l1.5 0 0 1 -1.5 0 0 -1zM111.5 227.5l1.5 0.5 1 3.5 -2 5 0 4 -3 2 -2.5 -0.5 -1.5 -1.5 0 -1.5 1.5 -7.5 2.5 -3.5 2.5 -0.5zM331.5 235.5l3 -1 3 0.5 1 0.5 -0.5 1 -2 1.5 -2.5 -0.5 -2.5 -1 0.5 -1zM50 238l6 -0.5 6.5 1 6.5 2 3 1.5 1.5 1 -0.5 1.5 -1.5 0.5 -14.5 0.5 -9 -1.5 -2.5 -1 -1.5 -1 1 -1.5 1.5 -1.5 3.5 -1zM162.5 262l16 0 2 1 -1.5 1.5 -15.5 0 -1.5 -1.5 0.5 -1z"/><path fill="#ffc700" d="M342.5 2.5l3 -1 5 0 13.5 4 -9.5 3 -7.5 1 -1.5 0.5 -1 0.5 -0.5 1.5 -0.5 6.5 -2 2 -3 1 -1 -0.5 -2 -2.5 0 -2.5 2.5 -5.5 -0.5 -2.5 -3 -1.5 -2.5 -1 -20 0 -4 0 -2 1 -1 1.5 0 2.5 -1 1 -2.5 1 -5.5 -1 -2.5 -1.5 -2.5 -2 -7 -1.5 -11.5 -0.5 -38.5 1 -13.5 -0.5 -6.5 0.5 -13 -1.5 75.5 -0.5 19.5 -1 13.5 1.5 21 -0.5 5.5 -0.5 6.5 -2zM382.5 5.5l20 -1.5 20 1 0 0.5 -4 1 -0.5 1.5 4.5 4 0.5 2.5 -0.5 1.5 -3 2 -4 1 -3.5 0 -7 -1 -12 -5.5 -1 0.5 -4 7.5 -2 2 -2 1 -7 0 -5 4.5 -3.5 4 -9 6.5 -6 3 -5.5 1.5 -0.5 -0.5 4.5 -4.5 10.5 -6 13.5 -10.5 1.5 -3 0.5 -5 2 -2.5 2.5 -1.5 2.5 -0.5 7 1 1 -2 -2.5 -1.5 -8 -1zM208.5 9.5l5.5 -1.5 9 1 30.5 0 8 1 1.5 0.5 0 1.5 -4 0.5 -14.5 1 -13.5 2.5 -8 0.5 -4.5 -0.5 -8.5 -2.5 -2 -1.5 -0.5 -1.5 1 -1zM314.5 25.5l1.5 -1 3 -0.5 2.5 1 1.5 3 0 2.5 -1 1.5 -3 1.5 -3 -0.5 -1.5 -1 -1.5 -3 0.5 -2.5 1 -1zM394.5 36l2.5 -1 5.5 0 1.5 1 -3.5 4 -10 8.5 -9.5 5 -2.5 0.5 -1 -1 2 -4 3 -4 6.5 -6 5.5 -3zM415.5 61l1.5 -0.5 1.5 0.5 0.5 1.5 -0.5 5.5 -1.5 1.5 -1.5 0 -1 -1.5 0 -4 1 -3zM75 74.5l3.5 -1 2.5 0 3 1 0.5 1.5 -3.5 0.5 -4 0 -2 -0.5 0 -1.5zM166 79.5l6.5 0 9.5 1 4 0.5 2.5 1.5 -2.5 1.5 -6.5 0 -11.5 -3 -2 -1.5zM75.5 86.5l7 0 14.5 4 6.5 3 2.5 2 -1 1.5 -2.5 1 -3 0.5 -4 -0.5 -8 -2.5 -10.5 0 -4 -0.5 -2.5 -1.5 -1.5 -2 0 -1 0.5 -1.5 2 -1.5 4 -1zM372.5 94.5l2 -0.5 4 0.5 2 1 1 1.5 0 1.5 -1.5 1 -3 0 -3 -2.5 -1.5 -2.5zM12 98.5l2.5 -0.5 1.5 0.5 1.5 1 0.5 1.5 -1 2.5 -2.5 2 -2.5 -0.5 -2 -2.5 0 -3 2 -1zM389.5 103.5l3.5 -0.5 3 0 1 1 3 3 4 -3 1 0 1.5 0.5 1.5 2 0 2.5 -1.5 2 -1.5 1 -2.5 -1 -2.5 -3 -5.5 3 -4 -0.5 -2.5 -1.5 -1 -2.5 0.5 -1.5 2 -1.5zM21 117l3 -0.5 2 2 1 1 -0.5 3 -2.5 2 -2.5 0 -1.5 -1.5 -1 -2 0.5 -2.5 1.5 -1.5zM389.5 117l3.5 -0.5 5.5 1 9.5 0 2.5 1 2.5 4 -0.5 1 -3.5 2 -12.5 2 -4.5 1.5 -2.5 -1.5 -3 -0.5 -8 -7 -2 -0.5 13 -2.5zM353 119.5l11 -0.5 10.5 0.5 -25 4.5 -33.5 3.5 -13 2 -7 0 -2.5 -0.5 2.5 -2 5.5 -1.5 25.5 -2.5 26 -3.5zM387 130.5l2 -1 4 -0.5 1.5 1.5 -1 2.5 10.5 2.5 8.5 5.5 0 1 -15.5 5 -5 0 -5.5 -1 -2.5 -2.5 -2 -2.5 0.5 -1.5 1.5 -2.5 5 -4 -2 -2.5zM389.5 153l2.5 0 4 1 8 1 2.5 1 1.5 2 -1.5 8 0.5 4 0.5 1.5 4 4 0.5 4 -1.5 2.5 -5 3 -1 2.5 -1 1 1 1.5 3.5 1.5 2 1 0 1.5 -3 4 -0.5 2.5 0.5 4 -1.5 1.5 -7 -0.5 -11 -5 1.5 -2.5 0 -2.5 0 -1.5 2 -1.5 6 -2.5 0 -1.5 -3.5 -2.5 -2.5 -4 -2.5 -1 -1.5 -1.5 5 -3.5 6 -2 -6 -2.5 -0.5 -2.5 -1 -1 -5.5 -1 -1.5 -1 -1 -1 1 -1.5 10.5 -5.5 0 -1 -1 -1 -5.5 -2 2 -1zM343 154l11.5 -0.5 5 0.5 -6 2 -11 1.5 -13 1 -8 -0.5 6.5 -1.5 15 -2.5zM276.5 155.5l7.5 -0.5 5 0.5 -1 1.5 -6.5 1.5 -6.5 0 -4 -0.5 0.5 -1 5 -1.5zM318.5 186l3 -0.5 1 0.5 1 1.5 0 1 -2 1.5 -8 1.5 -24 1 -17 -0.5 -1.5 -0.5 -0.5 -1.5 0.5 -1 1.5 -0.5 15.5 -1 24 -0.5 6.5 -1zM196.5 190l44 -1 3.5 1 0.5 1.5 -1.5 1.5 -2.5 1 -9.5 -0.5 -10.5 1.5 -40 2 -42.5 3 -4 -0.5 -2 -1.5 0 -1.5 1 -1 4 -1.5 30.5 -2.5 29 -1.5zM10 200.5l2 -1 1.5 0.5 0.5 0.5 -0.5 4.5 -1.5 2 -1.5 -1 -1 -2.5 0.5 -3zM44 200.5l1 0 0 0.5 -1 -0.5zM246.5 206l4.5 -1 4 -0.5 2.5 0.5 1.5 1 -2 1.5 -6 1.5 -6.5 0.5 -4 -1 6 -2.5zM100.5 208.5l4.5 -1 2.5 0 5.5 3 7.5 2 -1.5 4 0.5 1.5 2.5 2 5 0.5 -1 1 -2.5 0 -18.5 -1.5 -8 1.5 -9.5 1.5 -6.5 1.5 -18.5 -0.5 -24 4.5 -9.5 -2 -9 1 -2.5 -0.5 -4.5 -2.5 -5 -8 0 -1.5 4 -3.5 1.5 -0.5 10.5 3.5 4 0.5 6.5 -1.5 6.5 1.5 7 -2 8 1 9.5 -1.5 13 -0.5 16 -2 6 -1.5zM399 216.5l3.5 -1 5.5 2 2.5 2 2.5 2.5 1 1.5 0 1 -5 4.5 -6.5 1.5 -2.5 0 -8 -3 -7 -0.5 -2.5 -1 0.5 -1.5 1 0 5 -2 7 -1 1 -1 0.5 -2.5 1.5 -1.5zM173 220.5l1 -0.5 1.5 0 9 1 7 1.5 9 1 14.5 0.5 2.5 2 1.5 2.5 -0.5 1.5 -2 2 -6.5 2 -3 0.5 -4 0 -6.5 -1 -8 0 -7 -1 -2 -0.5 -4 -0.5 -1.5 -1.5 1.5 -1.5 -7 -4 4.5 -4zM178 228.5l-1 0 1.5 1.5 2.5 0 -1 -1.5 -2 0zM128 222l3.5 -0.5 9.5 0 4 0.5 5 1.5 -1.5 1 -6.5 1 -4 -0.5 -5 -2.5 -5 -0.5zM108.5 232.5l1.5 -1 1 1 -2 6.5 -1 -1 0 -2.5 0.5 -3zM51.5 239l4.5 -0.5 5 0.5 5 1.5 2.5 1.5 1 1 -8.5 1.5 -6.5 -1 -4.5 -1.5 -0.5 -1.5 2 -1.5z"/><path fill="#ff9700" d="M346 2.5l3.5 0 4 0.5 8 2.5 -4 1.5 -4 1.5 -9 1 -1.5 1 -0.5 5.5 -0.5 2.5 -2 1.5 -1.5 0 -1 -0.5 -1 -2 3 -7 0 -1 -0.5 -1.5 -4 -2.5 11 -3zM285 5.5l11 -1 9.5 1 -2.5 2.5 0 2 -3 1 -4 -1 -2 -2 -3 -1.5 -6 -1zM392.5 5.5l10 -1 13.5 1 -0.5 1 0.5 1.5 5 4 0 2.5 -1.5 2 -4 1.5 -6.5 0 -5 -1.5 -4.5 -2 -3.5 -2.5 -1 -1.5 0.5 -2.5 -1 -1.5 -2 -1zM383 10.5l2 0 3 0.5 1 2 0.5 1.5 -2 4 -2.5 2.5 -2.5 1 -2.5 -0.5 -1.5 -1.5 0.5 -5.5 1.5 -2.5 2.5 -1.5zM315.5 26.5l2 -1 2.5 0.5 1.5 2 -0.5 2.5 -2 1.5 -3 -0.5 -1.5 -2.5 0 -1 1 -1.5zM358.5 36l2 0 -3 2.5 -2.5 1.5 -3 0 1.5 -1.5 5 -2.5zM397.5 36l3 0 1 1 -2 3 -5 4.5 -9.5 6.5 -4 1 -1 0 0 -1.5 1.5 -2.5 5 -5.5 5.5 -4.5 2.5 -1.5 3 -0.5zM75 89l2 -0.5 2.5 0 2.5 0.5 1 1.5 -3.5 1 -2.5 0 -2.5 -1 0.5 -1.5zM12 99.5l2.5 0 1.5 1 0.5 2 -1 1 -2 0.5 -1.5 -0.5 -1 -2.5 1 -1.5zM390.5 106.5l1.5 -1 1 0 1.5 1 -0.5 1 -1 0.5 -2 -0.5 -0.5 -1zM21 118.5l1.5 -1 2 1 1 1 0 1.5 -0.5 1.5 -2.5 1 -1 -0.5 -1.5 -2 0 -1.5 1 -1zM347 121l10.5 -0.5 3 0.5 -20.5 3.5 -6.5 0 -3 -1 6 -1 10.5 -1.5zM389 121l3 -0.5 13 0 2 0.5 1 1.5 -1 1 -2 0.5 -12 0.5 -3.5 -1 -1.5 -1 1 -1.5zM303 126.5l5 -0.5 4 0.5 -4 1 -5 1 -3 0 -1.5 -1 4.5 -1zM395.5 138l3 -0.5 2.5 0.5 5 3 -1.5 1 -3.5 0.5 -6.5 0 -1 -0.5 -0.5 -1 2.5 -3zM346.5 154l7 0 3.5 0 -4 1.5 -9 1.5 -18 1 3.5 -1.5 17 -2.5zM404.5 175.5l2 -1 1.5 0 1 1 1 2.5 -1 2.5 -2.5 1 -6.5 0 -3 -0.5 -1 -1.5 1.5 -1.5 7 -2.5zM284 190l4 -0.5 11 -0.5 1.5 1 -11 0.5 -5.5 -0.5zM197 191.5l14 -1 15 1 -3 1 -12 1.5 -30.5 1 -10.5 1 -12 0 -9 1.5 -11 0.5 -1.5 0 -0.5 -1.5 2 -0.5 8 -1 12 0 9.5 -2 29.5 -1.5zM398.5 199.5l1.5 0 1 1 1 1.5 -1 0.5 -1 0 -2 -0.5 -1 -1.5 1.5 -1zM249.5 206l4 -0.5 2.5 0.5 -1.5 1.5 -3.5 0.5 -4 0 -1 -0.5 3.5 -1.5zM102 210l3 -0.5 4 1 2.5 2 1 1.5 0.5 1.5 -1.5 1 -4 1.5 -6.5 0.5 -8 1.5 -9.5 0.5 -9 2 -14.5 0.5 -20 4.5 -11 -2.5 -9 0.5 -2.5 -0.5 -3 -1.5 -4.5 -7 0.5 -1 1.5 -1.5 2.5 -1 9.5 2.5 4 0 6.5 -1 6.5 2 7 -1 6.5 1 10.5 -2.5 29.5 -2 7.5 -2zM401 219.5l1.5 -1 1.5 0 4 1.5 2.5 2 1 1.5 0 1 -2.5 2.5 -4 1.5 -5 -0.5 -5 -2 -0.5 -1.5 5 -2.5 1.5 -2.5zM190.5 226l3.5 0 2 1.5 -0.5 1.5 -4 0.5 -1.5 -1 -1 -1 1.5 -1.5zM54 240.5l3 -0.5 3 0 2.5 0.5 3 1.5 -2.5 1 -4 0 -4.5 -1 -0.5 -1.5z"/><path fill="#ff6800" d="M341 4l4.5 -1 5 0 9.5 2.5 -5.5 2 -13 1.5 -5 -3.5 4.5 -1.5zM290.5 5.5l5.5 -1 7 1 -3 3 -1 0.5 -8.5 -3.5zM396 5.5l8 -0.5 8 0.5 2.5 2.5 5 4 0.5 1.5 -0.5 1 -2.5 2 -2.5 1 -5.5 -0.5 -5 -1 -4 -2 -2.5 -2 -1 -1.5 0.5 -2.5 -1 -2.5zM383 12l2 -0.5 1.5 0.5 1 1.5 0.5 1 -1 3 -2 1.5 -2.5 1 -1.5 -0.5 -0.5 -1 0 -2.5 0.5 -2.5 2 -1.5zM340 13.5l0 -0.5 1.5 1 0 3 -1.5 1.5 -1.5 0 -0.5 -1 0 -1.5 2 -2.5zM317 28l2 -0.5 0 1.5 -1.5 0.5 -0.5 -0.5 0 -1zM395 37l2 -0.5 3 0.5 -1.5 3 -7.5 6.5 -6 3.5 -2.5 1 -1 -0.5 0 -1.5 1 -1 3 -4 5 -4 4.5 -3zM21 119.5l1.5 -0.5 1.5 0.5 0.5 1.5 -2 1 -1 -1 -0.5 -1.5zM338 155.5l11.5 -1 1.5 1 -12.5 1.5 -7.5 0 7 -1.5zM406.5 178zM249.5 207.5l1.5 -0.5 0.5 0.5 -0.5 0 -1.5 0zM101.5 211.5l3.5 -1 2.5 1 1.5 1 1 1.5 -0.5 1.5 -3 1.5 -24 1 -13.5 2.5 -12 1 -17 4.5 -2 0 -5 -2 -11.5 -0.5 -4 -1 -3 -2 -1.5 -4 1.5 -1 5.5 1 4 0.5 9 -1.5 8 2.5 7 -0.5 8 0.5 8 -1.5 30.5 -3 7 -2zM403 222l2 -0.5 2.5 0.5 2 1.5 0 1 -1.5 1.5 -3 1 -2.5 0 -2.5 -1 -0.5 -1.5 3.5 -2.5z"/><path fill="#ff2800" d="M342.5 4l4 -0.5 4 0 8 2 -5 2 -11 0.5 -2.5 -1 -2 -1.5 4.5 -1.5zM293.5 5.5l4 -0.5 3 0.5 -1.5 1 -1.5 0.5 -4 -1.5zM399 5.5l10 0 8 5 1.5 3 -0.5 1 -2.5 1.5 -3.5 0.5 -5.5 -0.5 -4 -1.5 -2 -1 -2.5 -3 0 -1 1 -4zM383 13.5l2 -0.5 1.5 1.5 -1.5 2.5 -1 1 -1.5 -0.5 -0.5 -1.5 0 -1.5 1 -1zM393.5 38.5l3.5 -1 1.5 1 -2 2.5 -6 5.5 -5.5 2.5 -1.5 0 0 -1 1.5 -3 4.5 -4 4 -2.5zM341 155.5l4.5 0 2.5 0 -5.5 0.5 -1.5 -0.5zM335 157l2.5 -0.5 1 0.5 -2.5 0 -1 0zM101.5 212.5l3.5 -0.5 2 0.5 1 1.5 -1.5 1.5 -4 0 -2 0 -0.5 -1.5 1.5 -1.5zM29.5 218l3.5 -1 2.5 1 1 1.5 -8.5 2.5 -4 -0.5 -3 -1 1 -1 7.5 -1.5zM40 220.5l5 -0.5 2.5 0.5 -2.5 1.5 -2.5 0 -2.5 -1.5z"/><path fill="#f70000" d="M344 4l6.5 -0.5 7 2 -4 1.5 -8 0.5 -4 -0.5 -2.5 -1.5 5 -1.5zM401.5 6.5l1 -0.5 2.5 0 4 1 6.5 3.5 1.5 1.5 0 1.5 -1.5 1.5 -2.5 1 -4 0 -4.5 -1.5 -2.5 -1 -2.5 -3 0 -1 2 -3zM396 38.5l0.5 1.5 -3.5 4 -4 2.5 -2.5 1.5 -1.5 0 0 -1.5 1 -1.5 3 -2.5 4 -3 3 -1zM104.5 214l0.5 0 -0.5 0z"/><path fill="#c70000" d="M346 4l4.5 0 6 1.5 -3 1 -5.5 0.5 -5.5 0 -2.5 -1.5 6 -1.5zM402.5 8l2.5 -1 5.5 1.5 4 2 1 1.5 0.5 1.5 -1.5 1 -2.5 1 -4 -0.5 -3 -0.5 -2.5 -1.5 -2 -2.5 0.5 -1 1.5 -1.5zM391.5 41l1.5 -0.5 1.5 0.5 -4 4 -3.5 1.5 0 -1.5 4.5 -4z"/><path fill="#970000" d="M341 5.5l8.5 -1.5 6 1.5 -3.5 1 -4 0.5 -4 -0.5 -3 -1zM402.5 9.5l2.5 -1 4 0 4 2 1 1.5 0.5 1.5 -3.5 1 -4.5 -0.5 -4 -2 -0.5 -1.5 0.5 -1z"/><path fill="#870000" d="M342.5 5.5l7 -1 4.5 1 -3.5 1 -2.5 0 -4 -0.5 -1.5 -0.5zM404.5 9.5l3.5 -0.5 2.5 1 2 2 0 1.5 -3.5 0.5 -2.5 -0.5 -2.5 -1.5 -0.5 -1.5 1 -1z"/><path fill="#ffffff" d="M344 5.5l5.5 -0.5 3.5 0.5 -5 0.5 -4 -0.5zM405.5 10.5l3.5 0 1.5 1.5 -1.5 0.5 -1 0 -2 -0.5 -0.5 -1.5z"/><path fill="#ffffff" d="M345.5 5.5l4 -0.5 2 0.5 -3.5 0 -2.5 0z"/></g>
<text x="215" y="782.7" text-anchor="middle">0</text>
<text x="288.333" y="782.7" text-anchor="middle">10</text>
<text x="361.667" y="782.7" text-anchor="middle">20</text>
<text x="435" y="782.7" text-anchor="middle">30</text>
<text x="508.333" y="782.7" text-anchor="middle">40</text>
<text x="581.667" y="782.7" text-anchor="middle">50</text>
<text x="655" y="782.7" text-anchor="middle">60</text>
<text x="208.7" y="727.987" text-anchor="end">20</text>
<text x="208.7" y="661.362" text-anchor="end">30</text>
<text x="208.7" y="594.737" text-anchor="end">40</text>
<text x="208.7" y="528.112" text-anchor="end">50</text>
<text x="434.3" y="815" text-anchor="middle">LONGITUDE (E)</text>
<text transform="translate(169.7,619.25) rotate(-90)" text-anchor="middle">LATITUDE (N)</text>
<text x="433.5" y="464.6" text-anchor="middle">expt_02.6 - Thickness anomaly layer 3 - ANNUAL MEAN - REF y51-y100</text>
<g shape-rendering="crispEdges">
<rect x="687.5" y="749.31" width="42.4" height="4.79" fill="#000087"/>
<rect x="687.5" y="745.12" width="42.4" height="4.79" fill="#000097"/>
<rect x="687.5" y="740.94" width="42.4" height="4.79" fill="#0000a7"/>
<rect x="687.5" y="736.75" width="42.4" height="4.79" fill="#0000b7"/>
<rect x="687.5" y="732.56" width="42.4" height="4.79" fill="#0000c7"/>
<rect x="687.5" y="728.38" width="42.4" height="4.79" fill="#0000d7"/>
<rect x="687.5" y="724.19" width="42.4" height="4.79" fill="#0000e7"/>
<rect x="687.5" y="720.00" width="42.4" height="4.79" fill="#0000f7"/>
<rect x="687.5" y="715.81" width="42.4" height="4.79" fill="#0008ff"/>
<rect x="687.5" y="711.62" width="42.4" height="4.79" fill="#0018ff"/>
<rect x="687.5" y="707.44" width="42.4" height="4.79" fill="#0028ff"/>
<rect x="687.5" y="703.25" width="42.4" height="4.79" fill="#0038ff"/>
<rect x="687.5" y="699.06" width="42.4" height="4.79" fill="#0048ff"/>
<rect x="687.5" y="694.88" width="42.4" height="4.79" fill="#0058ff"/>
<rect x="687.5" y="690.69" width="42.4" height="4.79" fill="#0068ff"/>
<rect x="687.5" y="686.50" width="42.4" height="4.79" fill="#0078ff"/>
<rect x="687.5" y="682.31" width="42.4" height="4.79" fill="#0087ff"/>
<rect x="687.5" y="678.12" width="42.4" height="4.79" fill="#0097ff"/>
<rect x="687.5" y="673.94" width="42.4" height="4.79" fill="#00a7ff"/>
<rect x="687.5" y="669.75" width="42.4" height="4.79" fill="#00b7ff"/>
<rect x="687.5" y="665.56" width="42.4" height="4.79" fill="#00c7ff"/>
<rect x="687.5" y="661.38" width="42.4" height="4.79" fill="#00d7ff"/>
<rect x="687.5" y="657.19" width="42.4" height="4.79" fill="#00e7ff"/>
<rect x="687.5" y="653.00" width="42.4" height="4.79" fill="#00f7ff"/>
<rect x="687.5" y="648.81" width="42.4" height="4.79" fill="#08fff7"/>
<rect x="687.5" y="644.62" width="42.4" height="4.79" fill="#18ffe7"/>
<rect x="687.5" y="640.44" width="42.4" height="4.79" fill="#28ffd7"/>
<rect x="687.5" y="636.25" width="42.4" height="4.79" fill="#38ffc7"/>
<rect x="687.5" y="632.06" width="42.4" height="4.79" fill="#48ffb7"/>
<rect x="687.5" y="627.88" width="42.4" height="4.79" fill="#58ffa7"/>
<rect x="687.5" y="623.69" width="42.4" height="4.79" fill="#68ff97"/>
<rect x="687.5" y="619.50" width="42.4" height="4.79" fill="#78ff87"/>
<rect x="687.5" y="615.31" width="42.4" height="4.79" fill="#87ff78"/>
<rect x="687.5" y="611.12" width="42.4" height="4.79" fill="#97ff68"/>
<rect x="687.5" y="606.94" width="42.4" height="4.79" fill="#a7ff58"/>
<rect x="687.5" y="602.75" width="42.4" height="4.79" fill="#b7ff48"/>
<rect x="687.5" y="598.56" width="42.4" height="4.79" fill="#c7ff38"/>
<rect x="687.5" y="594.38" width="42.4" height="4.79" fill="#d7ff28"/>
<rect x="687.5" y="590.19" width="42.4" height="4.79" fill="#e7ff18"/>
<rect x="687.5" y="586.00" width="42.4" height="4.79" fill="#f7ff08"/>
<rect x="687.5" y="581.81" width="42.4" height="4.79" fill="#fff700"/>
<rect x="687.5" y="577.62" width="42.4" height="4.79" fill="#ffe700"/>
<rect x="687.5" y="573.44" width="42.4" height="4.79" fill="#ffd700"/>
<rect x="687.5" y="569.25" width="42.4" height="4.79" fill="#ffc700"/>
<rect x="687.5" y="565.06" width="42.4" height="4.79" fill="#ffb700"/>
<rect x="687.5" y="560.88" width="42.4" height="4.79" fill="#ffa700"/>
<rect x="687.5" y="556.69" width="42.4" height="4.79" fill="#ff9700"/>
<rect x="687.5" y="552.50" width="42.4" height="4.79" fill="#ff8700"/>
<rect x="687.5" y="548.31" width="42.4" height="4.79" fill="#ff7800"/>
<rect x="687.5" y="544.12" width="42.4" height="4.79" fill="#ff6800"/>
<rect x="687.5" y="539.94" width="42.4" height="4.79" fill="#ff5800"/>
<rect x="687.5" y="535.75" width="42.4" height="4.79" fill="#ff4800"/>
<rect x="687.5" y="531.56" width="42.4" height="4.79" fill="#ff3800"/>
<rect x="687.5" y="527.38" width="42.4" height="4.79" fill="#ff2800"/>
<rect x="687.5" y="523.19" width="42.4" height="4.79" fill="#ff1800"/>
<rect x="687.5" y="519.00" width="42.4" height="4.79" fill="#ff0800"/>
<rect x="687.5" y="514.81" width="42.4" height="4.79" fill="#f70000"/>
<rect x="687.5" y="510.62" width="42.4" height="4.79" fill="#e70000"/>
<rect x="687.5" y="506.44" width="42.4" height="4.79" fill="#d70000"/>
<rect x="687.5" y="502.25" width="42.4" height="4.79" fill="#c70000"/>
<rect x="687.5" y="498.06" width="42.4" height="4.79" fill="#b70000"/>
<rect x="687.5" y="493.88" width="42.4" height="4.79" fill="#a70000"/>
<rect x="687.5" y="489.69" width="42.4" height="4.79" fill="#970000"/>
<rect x="687.5" y="485.50" width="42.4" height="4.79" fill="#870000"/>
<rect x="687.5" y="485.5" width="42.4" height="268" fill="none" stroke="#000" stroke-width="1"/>
<line x1="687.5" y1="542.5" x2="691.5" y2="542.5" stroke="#000"/>
<line x1="725.9" y1="542.5" x2="729.9" y2="542.5" stroke="#000"/>
<line x1="687.5" y1="607.5" x2="691.5" y2="607.5" stroke="#000"/>
<line x1="725.9" y1="607.5" x2="729.9" y2="607.5" stroke="#000"/>
<line x1="687.5" y1="672.5" x2="691.5" y2="672.5" stroke="#000"/>
<line x1="725.9" y1="672.5" x2="729.9" y2="672.5" stroke="#000"/>
<line x1="687.5" y1="737.5" x2="691.5" y2="737.5" stroke="#000"/>
<line x1="725.9" y1="737.5" x2="729.9" y2="737.5" stroke="#000"/>
</g>
<text x="735.1" y="552.648">20</text>
<text x="735.1" y="617.618">0</text>
<text x="735.1" y="682.588">-20</text>
<text x="735.1" y="747.558">-40</text>
<g shape-rendering="crispEdges">
<path d="M941.5 484V751.5H1381.5" fill="none" stroke="#000" stroke-width="1"/>
<line x1="941.5" y1="751.5" x2="941.5" y2="746.5" stroke="#000"/>
<line x1="1014.83" y1="751.5" x2="1014.83" y2="746.5" stroke="#000"/>
<line x1="1088.17" y1="751.5" x2="1088.17" y2="746.5" stroke="#000"/>
<line x1="1161.5" y1="751.5" x2="1161.5" y2="746.5" stroke="#000"/>
<line x1="1234.83" y1="751.5" x2="1234.83" y2="746.5" stroke="#000"/>
<line x1="1308.17" y1="751.5" x2="1308.17" y2="746.5" stroke="#000"/>
<line x1="1381.5" y1="751.5" x2="1381.5" y2="746.5" stroke="#000"/>
</g>
<g transform="translate(942.5,485)" clip-path="url(#cp3)" stroke="#000" stroke-width="1" fill-rule="evenodd" shape-rendering="crispEdges"><rect x="0" y="0" width="438" height="264.5" fill="#000087"/><path fill="#ffffff" d="M0 0l438 0 0 264.5 -438 0 0 -264.5zM234.5 22.5l-3.5 1.5 0.5 0.5 3 0 3 -0.5 2 -1.5 -2.5 -0.5 -2.5 0.5z"/><path fill="#ffffff" d="M0 0l438 0 0 264.5 -438 0 0 -264.5zM234.5 21l-4.5 1.5 -2.5 1.5 -0.5 1.5 3.5 0.5 5 -0.5 5.5 -1.5 2 -1.5 0 -1 -2 -0.5 -6.5 0z"/><path fill="#ffffff" d="M0 0l438 0 0 264.5 -438 0 0 -264.5zM238.5 20l-5.5 0.5 -4 1.5 -4 2 -1 1.5 2.5 1 1 0 8 0 8 -2.5 2.5 -1.5 0.5 -1 -3.5 -1.5 -4.5 0z"/><path fill="#ffffff" d="M0 0l438 0 0 264.5 -438 0 0 -264.5zM234.5 20l-9.5 2.5 -2.5 1.5 -1 1.5 1 1 4 1 10.5 -0.5 5.5 -1.5 4 -1.5 2 -1.5 0.5 -1 -1.5 -1.5 -4 -0.5 -9 0.5z"/><path fill="#ffffff" d="M0 0l438 0 0 264.5 -438 0 0 -264.5zM239.5 18.5l-6.5 1 -7.5 2 -4.5 1.5 -2 2.5 0.5 1 4 1.5 12 0 9.5 -2 4 -1.5 2 -2 0 -1 -1 -1.5 -1 -0.5 -4 -1 -5.5 0z"/><path fill="#ffffff" d="M0 0l438 0 0 264.5 -438 0 0 -264.5zM234.5 18.5l-7 1 -6.5 2 -3.5 2.5 -0.5 1.5 0.5 1 2.5 1.5 5 0.5 17.5 0 6.5 -1.5 2.5 -2 2 -2.5 0 -1 -1 -1.5 -3 -1.5 -7 -0.5 -8 0.5z"/><path fill="#ffffff" d="M0 0l438 0 0 264.5 -438 0 0 -264.5zM8 138.5l-0.5 5 0.5 3 0.5 -3 -0.5 -5zM229 18.5l-6.5 1 -4 1.5 -3.5 3 0 1.5 0.5 1 1.5 1.5 5.5 1 21 0.5 12 1.5 7 -0.5 1 -1.5 -5 -4 -4 -5 -2 -1.5 -5 -1 -5 0 -13.5 1z"/><path fill="#000087" d="M0 0l438 0 0 264.5 -438 0 0 -264.5zM8 135l-0.5 8.5 0.5 5.5 1 -3 0.5 -2.5 -1.5 -8.5zM231.5 17l-10.5 1 -4 1 -3.5 3.5 -0.5 3 0.5 1 3.5 2 5.5 1 16 1 17 2 13.5 1 4.5 -0.5 1 -1 -1.5 -1.5 -5.5 -3 -3.5 -3.5 -9.5 -5.5 -4 -1 -4 -0.5 -15 0z"/><path fill="#0000b7" d="M0 0l438 0 0 264.5 -438 0 0 -264.5zM8 95l-1.5 2 0.5 1.5 1 0.5 0.5 -2 -0.5 -2zM48 7.5l-1 0.5 2.5 0.5 16.5 -0.5 -18 -0.5zM193 6.5l-7 1.5 15 0.5 39 -0.5 -7 -1 -10.5 0.5 -13.5 -1 -16 0zM262.5 6.5l-1.5 0 -2 1.5 5.5 0 -1 -1 -1 -0.5zM8 132.5l-1 4.5 0 6.5 0 4 1 3.5 1.5 -2.5 0 -5 0 -8 -1.5 -3zM217 17l-2.5 1 -1.5 1 -2 5 1 2.5 1 1 4 2 21.5 1.5 37 5 4 -0.5 3 -1 0 -1.5 -1.5 -1 -10 -5.5 -5.5 -4 -12 -5 -4.5 -1 -10.5 0 -21.5 0.5z"/><path fill="#0000e7" d="M0 0l438 0 0 264.5 -438 0 0 -264.5zM8 94l-1.5 0.5 0 2.5 0 3 1.5 0.5 1 -3.5 0 -1.5 -1 -1.5zM49.5 6.5l-1.5 0 -2 1.5 2 1 20 -0.5 98.5 -0.5 36 1 87.5 -1 3 -0.5 1 0.5 7 0 3 0 0 -1.5 -104.5 -0.5 -93 1 -57 -0.5zM318 6.5l1.5 1 1.5 -1 -1.5 0 -1.5 0zM8 130.5l-1.5 5 0 8 0 5 1.5 4 1.5 -1.5 0.5 -7.5 -0.5 -9.5 0 -1.5 -1.5 -2zM215.5 16l-4.5 1.5 -1 1 -1 4 0.5 3 0.5 1 3 2.5 2.5 1 5.5 1 16 1 39.5 5 7 -0.5 2.5 -0.5 1.5 -1.5 0 -1.5 -2 -1 -11.5 -6 -6.5 -4 -12 -5 -9 -1 -31 0z"/><path fill="#0018ff" d="M0 0l438 0 0 264.5 -438 0 0 -264.5zM8 93l-1.5 0.5 -0.5 3.5 0.5 4 1.5 0.5 1.5 -2.5 0 -2 0 -2.5 -1.5 -1.5zM30.5 185.5l-0.5 3 0.5 1 0.5 -2 -0.5 -2zM46.5 6.5l-1.5 1.5 1.5 1.5 1.5 0 21 -1 55 0.5 42.5 -0.5 34.5 1 118.5 -1 2.5 -0.5 0.5 -1.5 -3 -0.5 -121 0 -152 0.5zM8 129l-1.5 4 -0.5 10.5 0.5 7.5 1.5 3.5 1.5 -1.5 0 -1.5 1 -8 -0.5 -10.5 -0.5 -2.5 -1.5 -1.5zM210.5 16l-3.5 1.5 -0.5 1 0.5 5.5 3 4 2 1 3.5 1.5 20 2 41.5 6 5 -0.5 5.5 -1 3 -1 1.5 -1.5 0 -1.5 -1.5 -1 -6 -3 -14.5 -7.5 -14.5 -5 -6.5 -0.5 -38.5 0z"/><path fill="#0048ff" d="M0 0l438 0 0 264.5 -438 0 0 -264.5zM6.5 92.5l-0.5 2 -0.5 4 1 3.5 1.5 0.5 1.5 -2 0.5 -5 -0.5 -2.5 -1.5 -1 -1.5 0.5zM28 14.5l-3 1.5 -0.5 1.5 0 1 4 1.5 23.5 -0.5 4 -1 2 -1 0 -1.5 -1 -1.5 -11.5 -1 -17.5 1zM46.5 6.5l-1 0 -1.5 1.5 1 1.5 24 -0.5 55 0.5 42.5 -0.5 45 1 66.5 -1 43 -0.5 2 -0.5 0.5 -1.5 -2.5 -0.5 -58.5 -0.5 -216 1zM367.5 41l-2.5 1.5 -0.5 1.5 2 0 2 -1.5 -1 -1.5zM374 178l-1.5 1.5 -0.5 2.5 1.5 1.5 2 0 2.5 -1.5 0.5 -1 0 -1.5 -1.5 -2 -3 0.5zM8 127l-1.5 4.5 -0.5 12 0.5 8 1.5 4.5 1.5 -1.5 0.5 -1.5 1 -9.5 -1 -12 -0.5 -3.5 -1.5 -1zM30.5 184l-1.5 4.5 0.5 4.5 1.5 -3 1 -2.5 -0.5 -2.5 -1 -1zM33.5 175l-0.5 0.5 0.5 1.5 0 -1.5 0 -0.5zM36 189l-1 1 0 1.5 1 1 1.5 0.5 0 -3 -1.5 -1zM38.5 201.5l-1 2.5 -0.5 2 0.5 2 1 2 1.5 -1 0.5 -3 -0.5 -2.5 -1.5 -2zM90.5 195l-1 0.5 -0.5 0.5 -1.5 0.5 3 0 1.5 -1 -1.5 -0.5zM199.5 16l-1 0 -0.5 1.5 4.5 2 4.5 7 3.5 3 5 2 20 1.5 42.5 6.5 5.5 -0.5 6.5 -1 4.5 -2 1 -1.5 0 -1.5 -1.5 -1.5 -8 -3.5 -7 -4 -8.5 -4 -13 -4 -6 -0.5 -52 0.5z"/><path fill="#0078ff" d="M0 0l438 0 0 264.5 -438 0 0 -264.5zM6.5 91.5l-1 3 -0.5 4 1 4 0.5 0.5 1.5 0.5 1.5 -1.5 0.5 -2.5 0.5 -5 -1 -2.5 -1.5 -1 -1.5 0.5zM24 13l-3 1.5 -3 4 0.5 1.5 1.5 0.5 5.5 1.5 17 -0.5 11 -0.5 6.5 -2.5 2.5 -1 1 -1.5 0 -1.5 -13 -1 -18.5 -1.5 -8 1zM153 5.5l-105 0.5 -3.5 0.5 -1.5 1.5 0.5 1.5 3 0 22.5 -0.5 56 1 42.5 -1 43 1.5 67.5 -1.5 43 0 3 -1 0 -1.5 -3 -1 -168 0zM329 62.5l-8 0 -3.5 1.5 2.5 1 5 0.5 4.5 -0.5 3.5 -1 -1.5 -1 -2.5 -0.5zM351.5 187.5l-2 1 -0.5 1.5 0 2.5 1.5 1.5 2.5 1 2.5 0.5 2.5 -1.5 1.5 -1.5 0.5 -2.5 -1 -1.5 -3.5 -1.5 -4 0.5zM370 38.5l-2.5 0.5 -2.5 1.5 -2 2 -1 1.5 0 1 3 0.5 4.5 -1.5 1.5 -1.5 1 -2.5 -0.5 -1 -1.5 -0.5zM374 175l-2.5 2 -2.5 4 0 2.5 0 1.5 2.5 1 2.5 0 4 -1 2 -1.5 1.5 -2.5 -0.5 -3 -1.5 -2 -2.5 -1.5 -3 0.5zM8 124.5l-1.5 3 -0.5 3 -0.5 14.5 0.5 8 2 5.5 1.5 -1.5 0.5 -3 1 -9 -0.5 -14.5 -1 -4.5 -1.5 -1.5zM25.5 253.5l-0.5 0.5 0.5 0.5 6.5 -0.5 -6.5 -0.5zM26.5 202.5l-0.5 5 0.5 1 0.5 -4 -0.5 -2zM28 197l0 3.5 0 1 0 -2 0 -2.5zM33.5 173.5l-1.5 3.5 -0.5 5 -3 5.5 0 5 0 1.5 1 1 2.5 -4.5 1.5 1 1.5 2.5 1 4 -0.5 8 0.5 2.5 1 4 1.5 1.5 1.5 -0.5 0.5 -1 1.5 -4 0 -2.5 -2.5 -9.5 0 -6.5 -1 -1.5 -2.5 -1 -2.5 0.5 -1 -2 0 -5 2 -5.5 -0.5 -1.5 -0.5 -0.5zM88 194l-9.5 2.5 -3 1.5 -7 4 -1 1.5 -0.5 1 3.5 0.5 10.5 -4 11 -2.5 2.5 -1.5 1 -1.5 -0.5 -1.5 -2 -1 -5 1zM194.5 15.5l-1 0.5 -0.5 1.5 0.5 1 7.5 3.5 4 4.5 4 3 4 2 4 1 18.5 1.5 42.5 6.5 7 -0.5 6.5 -1 5 -2 2 -1 0.5 -1.5 0 -1.5 -2.5 -2.5 -7.5 -3.5 -7.5 -4.5 -10 -3.5 -12 -3.5 -5 -0.5 -56 0.5 -4 0zM322 184.5l-1 0.5 1 0.5 1.5 -0.5 -1.5 -0.5z"/><path fill="#00b7ff" d="M0 0l438 0 0 264.5 -438 0 0 -264.5zM6.5 90l-1.5 4.5 0 5 1 4 0.5 1 1.5 0 1.5 -1 0.5 -2.5 1 -6.5 -1.5 -4 -1.5 -0.5 -1.5 0zM26.5 10.5l-4 1 -3.5 2 -5 4 -1 1 0.5 1.5 4 2.5 5 1 28 -0.5 5.5 -1 13 -4.5 2.5 -1.5 1 -1.5 -28.5 -2 -9.5 -2 -8 0zM109 5.5l-61 0 -4.5 1 -1.5 1.5 0 1.5 4.5 0.5 24 -0.5 53.5 1 45 -1 29.5 1.5 79.5 -1.5 43 0 2.5 -0.5 1.5 -1 0 -1.5 -1.5 -1 -2.5 -0.5 -136 -0.5 -76 1zM353 50l-1.5 0.5 -0.5 1.5 1.5 1 1.5 0.5 3 -1.5 0.5 -1.5 -0.5 -1 -4 0.5zM371.5 36l-5.5 1.5 -2.5 2 -3.5 4.5 -0.5 2.5 1.5 1 4 -0.5 4.5 -2 3.5 -2 1 -2 1 -4 -1 -1 -2.5 0zM403.5 49l-1.5 1.5 1.5 1.5 1.5 -1.5 -0.5 -1.5 -1 0zM8 120l-2.5 10.5 -0.5 15.5 1 9.5 0.5 3 1.5 2.5 1.5 -1 0.5 -2 1 -6.5 0.5 -6.5 -0.5 -16 -1.5 -8 -1.5 -1zM33.5 172.5l-2 3 -0.5 5.5 -3 6.5 -0.5 9 -2.5 12 0.5 1.5 1 0 0.5 -1.5 2 -10.5 1.5 -4 1.5 -1.5 1.5 1.5 1 2.5 0 5.5 0 4 1 6.5 1 3 2 1 2.5 -1 1 -1.5 1.5 -5.5 0 -2.5 -2.5 -10.5 -0.5 -7 -2 -1.5 -5 -1.5 -0.5 -3.5 2 -8 -0.5 -1 -1 -0.5zM86.5 192.5l-8 2.5 -5.5 2 -9 6.5 -1.5 1 -0.5 1.5 1.5 1.5 3 0 10.5 -2 7.5 -3.5 10 -1.5 1.5 -0.5 2 -3.5 0 -2.5 -1 -1.5 -1 -0.5 -4 -0.5 -5.5 1zM98.5 202l-2.5 1 -1 1.5 2 1.5 4 0.5 11 0.5 3.5 -1 0 -1.5 -1 -0.5 -6.5 -3 -3 0 -6.5 1zM100 18l-1 0.5 1.5 1.5 2 0.5 5.5 -0.5 1 -1.5 -5 -1 -4 0.5zM122.5 255l-6.5 1.5 23 0 -3.5 -1.5 -13 0zM132 184.5l-3 1.5 2 1.5 7.5 2 14.5 -0.5 4 -1.5 0.5 -1.5 -2 -1 -3.5 -1 -8 0.5 -8 -1 -4 1zM191.5 14.5l-3 1.5 -1 1.5 0 1 9.5 3.5 2.5 1.5 5.5 4.5 4 3 4 1.5 4 1 17.5 1 18 2.5 20.5 4 5 0.5 9.5 -0.5 5.5 -1 7.5 -3 2 -1 0.5 -1.5 -1.5 -2.5 -3.5 -3 -12 -6.5 -5 -2 -18.5 -5 -7 -0.5 -14.5 0.5 -32 0 -13.5 -1 -4 0zM318 61l-5 1.5 -3 1.5 -1 1 1 1.5 1.5 0.5 14.5 0 8 -1 3 -1 1.5 -1 0 -1.5 -4.5 -1.5 -16 0zM374 171l-1 0.5 -3 3.5 -2 3 -3 5.5 -1.5 1.5 -2.5 0 -7 -1 -5 0.5 -5 1.5 -2.5 2.5 -0.5 3 1 2 8 6 1.5 4.5 2 2 3.5 1.5 4 0 4 -0.5 3 -1 1 -1.5 -0.5 -2.5 -5.5 -4 -0.5 -1.5 1 -2.5 4 -4 10.5 -3.5 3.5 -1.5 2 -2 0.5 -3.5 -0.5 -2.5 -1.5 -2 -4 -3 -4 -1zM25.5 252.5l-1 1.5 1 1 25 1 6.5 0.5 13.5 0 5 -1.5 -31.5 -0.5 -18.5 -2zM219.5 202l-12 2.5 -1 0 -1 1.5 3.5 1 8 0 22.5 2 4.5 -0.5 5 -1 1 -1.5 -2.5 -1.5 -8 -2 -20 -0.5zM257 200.5l-4 3 0.5 1 3 1.5 7 1 7 -1 1.5 -1.5 0.5 -1 -1.5 -1.5 -3.5 -1.5 -6.5 -1 -4 1zM321 182l-3 1 -1.5 2 0.5 1.5 1 1.5 3 1 4 -0.5 2.5 -1 1 -1.5 0.5 -1 -1 -1.5 -2 -1 -2.5 -0.5 -2.5 0zM210.5 219l-7 1.5 -8 0 -1.5 0 -1.5 1.5 2.5 1.5 4.5 0.5 15 -0.5 1.5 0 2 -1.5 -1 -1.5 -2.5 -1.5 -4 0z"/><path fill="#00e7ff" d="M0 0l438 0 0 264.5 -438 0 0 -264.5zM6.5 89l-1 1.5 -1 2.5 0 6.5 1 4.5 1 2 1.5 0 1.5 -1 0.5 -1.5 1.5 -9 -1 -4 -2.5 -2 -1.5 0.5zM48 5l-4 0.5 -4 2.5 -14.5 1 -5.5 1 -4 2 -5.5 4 -2.5 2.5 0 1.5 1.5 1.5 2.5 1.5 6.5 2 5.5 0 26.5 -0.5 5.5 -0.5 9 -4 11.5 -2.5 4 -3 -34 -2 -4 -0.5 -2.5 -1.5 1.5 -0.5 33 -0.5 18.5 1 27.5 0 1.5 1.5 -3.5 1 -10.5 1.5 -13.5 -1 -3.5 1 -0.5 1.5 0.5 1.5 1.5 1 6.5 3 5 0.5 18.5 -0.5 8 -1.5 3 -1.5 0 -1 1.5 -3 -1 -1 -4 -1.5 -0.5 -1.5 38 -0.5 19 0.5 1 1.5 -5 4.5 -3.5 2 2 1.5 10.5 1.5 4 1.5 12 8 5.5 3 5.5 1 17 1 17.5 2.5 8 2 12 2 6.5 0.5 12 -1.5 15 -4.5 0.5 -1 0 -1.5 -5.5 -6.5 -1 -2.5 5 -4 0.5 -1.5 -2 -2.5 -3 -2 -4 -1 -4 1 -5.5 3 -2.5 0.5 -5.5 -1 -18.5 -4 -18.5 1 -31 0 -9 0 -6.5 -1.5 1 -1.5 10.5 -1 70.5 -1 43 0 4 -1 1 -1 0 -1.5 -1 -1.5 -4 -0.5 -136 0 -137 0.5zM373 30l-3.5 3 -7.5 5 -4.5 7 -3.5 2 -4 0 -2 -0.5 -1.5 -1.5 2 -4 0 -1 -1 -1.5 -2.5 -0.5 -3 1 -0.5 1 0 1 3 4 -3 4 0.5 1.5 4 1.5 4.5 4 0.5 1 -3.5 2.5 -4 1 -9.5 -1.5 -8 0.5 -10.5 0 -10.5 3 -7 3.5 -9 2 -5.5 1 -0.5 1.5 2 1 2.5 0.5 25.5 -1 6.5 -2 8 0.5 5.5 -1 10.5 -3.5 15 -2.5 2 -1.5 0 -1 -2.5 -3 0 -1 4 -7 13 -5 1 -1.5 2 -4.5 4.5 -3.5 1 -1.5 -2 -1 -4.5 -2 -3 -0.5 -1 0.5zM388.5 12l-7.5 1.5 -1.5 1 1 4 1.5 1 2.5 0 5.5 -1 2.5 -1 2.5 -4 -0.5 -1.5 -6 0zM398 29l-2 1.5 -0.5 1.5 2.5 1 8 0 3.5 -1 0.5 -1.5 -5.5 -1.5 -6.5 0zM404.5 5l-0.5 0.5 2 1 5 -1 -3.5 -1 -3 0.5zM420.5 41l-2.5 1.5 0.5 1.5 3.5 2.5 5.5 -0.5 1 -1.5 0 -2 -1 -1 -7 -0.5zM8 117.5l-1.5 1 -0.5 2.5 -1 13 -0.5 12 1.5 15 0.5 1.5 1.5 1.5 1.5 -1 1 -2 1 -8 0.5 -8 -0.5 -20 1 -4 -2 -2.5 -2.5 -1zM21.5 102l-1.5 3 0 2.5 1.5 2 1 0 1.5 -0.5 1 -1.5 0 -2.5 -1 -2.5 -1.5 -1 -1 0.5zM33.5 172l-2 2 -1.5 8 -2.5 5.5 -0.5 8 -2 10.5 -0.5 4 1 1.5 1 -0.5 1 -1 1 -4 2 -10.5 1.5 -1.5 1.5 4 -0.5 8 1.5 9.5 1.5 2 4 0.5 2.5 -1 1 -1.5 1.5 -9.5 -2.5 -10.5 -0.5 -7 -2.5 -2.5 -2 -1 -3 0 -1 -1.5 2 -9.5 -1 -2.5 -1 0.5zM58.5 147.5zM76 46.5l-1.5 1.5 1.5 1 5 1 16 -1 29.5 1.5 18.5 0 7.5 -1.5 2 -1 17.5 0 -17.5 0 -30.5 -1.5 -12 0.5 -31 -1 -5 0.5zM195.5 45l-11 1.5 6 0.5 12.5 -0.5 6 -1.5 -4 -1 -9.5 1zM267.5 72.5l-1 0.5 3 0 -0.5 -0.5 -1.5 0zM311.5 55.5l-4.5 1.5 7 0.5 5 -1.5 -2 -0.5 -5.5 0zM370 95.5l-1 1 -1 2 1 2.5 1 0.5 2.5 -2 1 -2.5 -0.5 -2 -3 0.5zM404.5 41l-2 1.5 -2 2.5 -4 2 -8 0.5 -1.5 -1 -3.5 -0.5 -2 0.5 2 1.5 5 0.5 7 3 5 3.5 3 0.5 2.5 -1 1.5 -1.5 2 -6.5 4 -4 -2 -1.5 -3 -0.5 -4 0.5zM24 121.5l-0.5 1 1 0 -0.5 -1zM25.5 251.5l-2.5 2.5 2.5 1.5 31.5 2 41.5 -1 28 1 88 -1 -2.5 -1.5 -8.5 -0.5 -21 0 -11 0.5 -41 -1 -28 1 -16 0 -38.5 -1 -22.5 -2.5zM193 78l-2 1.5 0.5 1 3 0 3 -1 1 -1 -3 -1 -2.5 0.5zM370 152.5l-2 1.5 -0.5 1.5 2 8 -1.5 5.5 -0.5 5 -2.5 4.5 -3 3 -4 0.5 -13 -2 -3.5 -4.5 -3.5 -1 -3 1 -3.5 4 -9.5 0 -7 1.5 -3.5 1 -0.5 1.5 1 4 -1 1 -7.5 4 -2 4 -4.5 3.5 -3 1.5 -4 1.5 -5 0 -8 -3 -9.5 -1.5 -12 -5 -3.5 -1 -0.5 -1 11 -3.5 3.5 -3 0 -1.5 -1.5 -1.5 -5 -1 -8 -0.5 -10.5 2.5 -13.5 0 -10.5 1 -10.5 -1 -9.5 1.5 -6.5 -3.5 -4 -1.5 -15 2.5 -5 -0.5 -11.5 -0.5 -0.5 -3 -2.5 0 -4.5 0 -2 3 -1.5 0 -8 -1 -11 0 -8.5 3.5 -2 1.5 -1 1 0.5 1.5 1.5 1 -0.5 3 0.5 2.5 -0.5 1.5 -3 1 -7 0.5 -2.5 0 -2.5 -5.5 -3 -1 -5 -1 -5.5 1.5 -14.5 5 -13 8.5 -1.5 1.5 0 1.5 2.5 2 5 2 3 0.5 6.5 -3 10.5 -1.5 11 2.5 16 1 4 -0.5 6.5 -2 8 -4.5 17.5 -2.5 16 -8 7.5 -1 4.5 -1 -1 -1.5 0.5 -1.5 1.5 0 2 0 0.5 1.5 -0.5 1.5 8.5 1.5 4 0 5.5 -2 2.5 -0.5 7 1.5 21.5 0.5 5 1.5 0.5 4 -2 1.5 -25 1 -17.5 3 -2 1 0 1.5 0.5 1.5 1.5 0.5 13.5 2 5.5 1.5 -1.5 1 -5.5 2 -25.5 4.5 -2 1.5 1 1.5 1 0.5 21.5 4 30.5 0 4 -0.5 1.5 -1.5 0.5 -1 -2 -2 -19 -10 6 -1.5 10.5 1 10.5 1.5 6.5 -1 12.5 -1.5 6.5 0 12 3.5 6.5 -0.5 8 0 13.5 -1.5 6.5 1 5.5 3 1 -0.5 0.5 -1 -1.5 -5.5 0 -1 4 -5 5 -1 15 -0.5 2.5 0 2 1 3.5 6 4 3 5 1 12 -0.5 4.5 -1.5 1 -1.5 0 -2.5 -2 -4 -5.5 -5.5 -0.5 -1 3 -3 14.5 -7.5 1.5 -1.5 0.5 -2.5 0 -4 -1.5 -3 -7 -6.5 0 -1.5 3 -4 -0.5 -1 -5.5 -7 -2.5 -1.5 -3 0zM387.5 92l-1 1 2 0.5 2 -0.5 -2 -1 -1 0zM392.5 63.5l0 0.5 1.5 0.5 1.5 -0.5 -1.5 -1 -1.5 0.5zM412.5 224l-1 0.5 -1.5 3 0 2.5 1.5 1 1 0 1.5 -1 0.5 -1.5 -0.5 -4 -1.5 -0.5zM77 235l-1.5 1.5 0.5 1.5 4 2.5 5 1 1.5 0 2 -1 -1.5 -2.5 -2 -1.5 -4 -1.5 -4 0zM106.5 244.5l-6.5 1.5 -9.5 -1.5 -8 2 -10.5 0.5 -6 1.5 -0.5 1.5 3.5 1.5 5.5 0.5 18.5 0 9.5 -1 29.5 1 13 -1 6.5 0 2 -1 -9.5 -0.5 -8 -1.5 -10 -1 -3.5 -1 -1.5 -1.5 -2.5 -0.5 -12 0.5zM183.5 251l-1 0 2.5 1 6 -1 -7.5 0zM194.5 251l-1.5 0 5.5 0.5 4.5 -0.5 -8.5 0zM259.5 255l-16 1.5 20 0.5 12.5 -0.5 -8.5 -1.5 -8 0zM285 256.5l-1 0 8 0 -0.5 -0.5 -6.5 0.5zM293 228.5l-5 1.5 0.5 1.5 3 1.5 2.5 0 9 -3 0 -1.5 -3.5 -1 -6.5 1zM359.5 235l-6.5 1 -19 -0.5 -2.5 0.5 -4 2.5 -2.5 0.5 -3 -0.5 -6.5 -2 -5.5 -0.5 -4 1.5 -0.5 0.5 0 1 1 3 1.5 1 6 3 11 1 10.5 -2 2.5 0.5 4 2 3 0.5 2.5 -1 2.5 -1.5 7.5 -3.5 8.5 -3 2.5 -1 0 -1.5 -3.5 -1 -5.5 -0.5zM366 225.5l-0.5 0.5 -0.5 1.5 1 0.5 3 -0.5 0 -1.5 -3 -0.5zM395.5 139.5l-0.5 0 0.5 1.5 2.5 0.5 6 -0.5 -4.5 -2 -4 0.5z"/><path fill="#18ffe7" d="M0 0l438 0 0 264.5 -438 0 0 -264.5zM174.5 4l-125 0.5 -4 0 -5.5 1.5 -5.5 0 -14.5 1.5 -9.5 3.5 -1.5 1 -3.5 5.5 -0.5 4 1.5 4 1 1 2 1 5 0.5 1 1 -1 2.5 -1 0.5 -4 0 -3 2.5 -0.5 5.5 0 4 0.5 2 1.5 1 1.5 0 2.5 -2.5 1.5 -3.5 1 -2 2.5 6 1.5 3 1.5 0.5 2.5 -0.5 1.5 -3 0.5 -5 1 -4 3 -4 1 -4 2.5 -1 6.5 -0.5 9 1.5 2.5 1 0 4 1 1.5 3.5 1 4 -1.5 2.5 -2 0 -2 -1.5 -3.5 1 -1 3.5 -3 5 -2 8 -1.5 8 -0.5 4 0.5 9.5 3.5 4 0.5 17.5 -0.5 24 -1 7.5 -1.5 -0.5 -1.5 -2.5 -1 -2 -4 -2 -1.5 2 -1.5 21 0 9.5 0 2 1.5 -4.5 1.5 -12 0 -3 1 3.5 3 0.5 1 2 1.5 23.5 2.5 5.5 1 14.5 10 5.5 3 2.5 1 8 -0.5 10 0 8.5 2 8 1 8 2.5 14.5 2 16 -1.5 17.5 -3.5 2.5 -1 1 -1.5 -0.5 -1 -4 -5.5 -1.5 -2.5 1 -2.5 4.5 -5.5 0.5 -1.5 -0.5 -1 -2 -1.5 -6.5 -3.5 -2.5 -0.5 -9.5 1.5 -8 2.5 -4 0 -15.5 -4 -4 1.5 -8 1 -11 0.5 -30.5 0 -5.5 -0.5 -4.5 -1 1.5 -1.5 2 -0.5 9 -0.5 36 0 15 1 5.5 -1.5 7.5 0 46.5 0 3 -0.5 1 -0.5 1 -3 0 -1 -1 -1 -4 -1 -14.5 0.5 -24 -1 -34.5 1 -37.5 0 -25 -0.5 -12 0.5zM403.5 2.5l-4 1 -1.5 0.5 -1.5 2.5 -5 2 -3.5 -0.5 -2 -2.5 -2.5 -1 -9.5 0.5 -8 -0.5 -2.5 1.5 -1.5 1 -1.5 2.5 0 1 1.5 1.5 1.5 0.5 5.5 -0.5 2.5 0.5 3.5 3.5 2 5.5 1 0.5 3 0 11.5 -2.5 7 -4.5 6 -1.5 4.5 -4 5.5 -2 4 -0.5 2.5 1 1.5 1.5 1.5 2.5 0 1.5 -1.5 1 -7 1.5 -0.5 1.5 0.5 1 3 1 5 -0.5 4 0 1 -0.5 1 -2.5 -0.5 -4 -1 -4 -3 -3.5 -4 -1.5 -18.5 -0.5zM6.5 67.5l-1.5 1.5 -0.5 3 1 4 1 0.5 3 -1 1 -2.5 0.5 -1 -0.5 -1.5 -1 -2.5 -1.5 -1 -1.5 0.5zM21.5 95.5l-4 12 0 1.5 1 1.5 3 1.5 1 0.5 3 -1.5 1 -1.5 0.5 -2 -3 -11 -1.5 -1.5 -1 0.5zM57 144.5l-2 1.5 -1 1.5 0 1.5 2 2 2.5 0.5 1.5 -0.5 2 -2 0.5 -3 -1.5 -1 -1 -0.5 -3 0zM203.5 42.5l-9 1.5 -41.5 2.5 -74.5 -1.5 -4 0.5 -3 1 -1.5 1.5 -0.5 1 1 3 6 4 3 1 7 3 9.5 1 0.5 1.5 -6 2 -1 0.5 0 1.5 2.5 1.5 4 0.5 17 -5.5 5.5 -3.5 5.5 -2 12 -1.5 6.5 -2 6.5 0.5 3 -2.5 4 -1 17 -1.5 8 -1 10.5 0 13.5 -1 8 -1 2.5 -1.5 -0.5 -2.5 -2 -1 -5.5 0 -4 1zM361 16l-3 0.5 -0.5 1 0 1 2.5 3 1 2.5 6 4 1 1 -1.5 3 -7.5 5 -1.5 1.5 -1.5 4 -2 1.5 -1 -1.5 0.5 -2.5 -0.5 -1.5 -3 -1.5 -5 -1.5 -3 0.5 -2 1 -1.5 1.5 -0.5 1.5 1 4 0 1 -0.5 1.5 -6 5.5 0 1 1.5 3 -5 1.5 -4 0.5 -3 -1 0.5 -1 -0.5 -1.5 -2.5 -0.5 -5.5 0.5 -16.5 2.5 -4.5 1.5 9 1.5 -4 2.5 -5 1.5 -12 0.5 -10.5 1.5 -7 0 -12 3.5 -5 0.5 -7 -0.5 -4 -1.5 -5 -4 0 -3 -1.5 -1.5 -2 0.5 -1.5 1 0 3 -3 1 -1.5 0 -2 -1 -1 -3 -5 -1.5 -9.5 0 -8 -1.5 -16 1 -9 -2.5 -4 -1 -8 1.5 -6.5 -0.5 -1 2 0.5 1.5 1.5 1 11 2.5 9 -1 2.5 0.5 14 6 0.5 1.5 -1.5 2.5 -3.5 3.5 -13.5 4.5 -2 1.5 3.5 1 7 1.5 7.5 0.5 16 -1.5 11 -3 6.5 -3.5 6.5 -0.5 4 -2 1.5 0 12.5 3.5 5 2.5 10.5 2.5 14.5 -4.5 13.5 -1.5 6.5 -3 26.5 -0.5 9.5 0.5 12 -1 4.5 -0.5 5 -2 9 -1 1.5 -1 -0.5 -2.5 0.5 -1.5 4 -2.5 0.5 -1.5 -5 -4 -0.5 -1 1.5 -3 0 -2.5 1 -1.5 2.5 -1 5.5 -1 2.5 0.5 4 4 10.5 1 4 1.5 2.5 2 1 1 0 1.5 -1 0.5 -15.5 3.5 0.5 1.5 6 3.5 6.5 1.5 2.5 0 5 -4 6 -2.5 0.5 -1.5 -0.5 -4 0.5 -1 4.5 -8 3 -0.5 6.5 2.5 6.5 -1 1.5 -1 1 -4 -1 -4 -1.5 -0.5 -8 -2 -8 1 -5 -1 -3 0 -8 2 -4 2.5 -2.5 1 -5.5 -0.5 -3.5 -1 -0.5 -1.5 0.5 -1.5 2.5 -1.5 2.5 -0.5 4 -0.5 6.5 1 4.5 -1 7.5 -0.5 5.5 -2.5 1.5 -2.5 -0.5 -1.5 -2.5 -1 -14.5 -0.5 -8 3.5 -4 -0.5 -3.5 -1.5 -9 -6.5 -7 -2.5 -4.5 -3.5 -1 -0.5zM6.5 87l-1 1 -1.5 2.5 -0.5 4 0 5 1.5 7 1.5 1.5 1.5 0.5 1.5 -0.5 1 -1.5 2 -13.5 -2 -4.5 -1 -1 -3 -0.5zM94.5 139.5l-6.5 1.5 -0.5 1 4.5 1.5 12 0.5 3.5 -0.5 2 -1.5 0 -1 -3.5 -1.5 -11.5 0zM148 91.5l-11 1.5 4 1.5 7 5 3.5 1.5 7 1 3.5 -1 -0.5 -1.5 -3 -2.5 -0.5 -1.5 0.5 -1 -0.5 -1.5 -5 -1.5 -5 0zM201 94l-0.5 1.5 2 1 2.5 0 3 -1 -4.5 -1.5 -2.5 0zM379.5 89l-18.5 4 -1 0 -1 1.5 1 1 5 3.5 2.5 6 1.5 1 1 0 1.5 -1 4 -5 2.5 -1.5 4 -0.5 6.5 0.5 4 0 5 -1.5 1.5 -1.5 0.5 -1 0.5 -3 -1 -1 -3 -1.5 -6 -0.5 -10.5 0.5zM398 73l-1 1.5 -0.5 1.5 0.5 1 2.5 1.5 6.5 0.5 1.5 -0.5 1 -1.5 0 -1 -1 -2.5 -7 -1 -2.5 0.5zM422 140.5l-1 0.5 -0.5 1 1.5 2 4 0.5 2 -1 -0.5 -1.5 -5.5 -1.5zM8 115.5l-2.5 1.5 -1 2.5 -0.5 28 1 14.5 1.5 5.5 1.5 1.5 1.5 -1.5 2 -6.5 1.5 -13.5 -0.5 -9.5 1 -7.5 1.5 -3 2.5 -2.5 2.5 -0.5 5.5 1 2.5 -1.5 0.5 -1.5 -1 -3 -2 -2 -3 -0.5 -5 0.5 -5.5 -0.5 -4 -1.5zM394 134l-6.5 2.5 -13.5 1 -24 0 -8 0.5 -5 1.5 -1.5 1.5 0 2.5 1.5 2 1 1 11 0.5 8 2.5 4 2 0.5 2.5 -0.5 5.5 2 4 -1 5.5 2 4 0 1 -2 3 -3 1 -5 0 -4 -0.5 -4 -1.5 -4 -2.5 -2.5 -0.5 -9.5 1 -25 -4 -1 -1 0 -1.5 -1.5 -1.5 -8.5 -2 -5 -3 -3 -0.5 -5 0.5 -9.5 3 -11.5 1 -16.5 2.5 -4 1 -5 2.5 0 2 4 1 6.5 -1 1 1 -1.5 3 -2 1 -1.5 0.5 -9.5 1 -5 -0.5 -7 -4 -5 0.5 -11 2 -8 -2 -14.5 -1 -10.5 -3.5 -3 0 -3.5 2.5 -3 0.5 -14.5 -1 -17.5 1.5 -4 0.5 -10.5 4 -6.5 0.5 -12 -2 -2.5 -0.5 -1.5 -5.5 1 -2 3.5 -2 0 -1.5 -2 -0.5 -6.5 1 -5.5 -0.5 -2.5 0.5 -3.5 2.5 -1 1 -1 3 1.5 3.5 4 1.5 1.5 1.5 -2.5 2.5 -0.5 1.5 3 4 0 1 -0.5 1 -3.5 2 -7 1 -2.5 1.5 -1.5 1.5 -2.5 4 -3 1.5 -5 2.5 -6.5 1 -1.5 -0.5 -1.5 -1 -2 -6.5 0 -4 1.5 -4 -1 -1 -5 -3 -5.5 -1 0 -3.5 2.5 -4.5 0 -1.5 -1 -2.5 -1.5 -1 -1 0.5 -2 2 -2 2.5 0 6 -3.5 6 0.5 7 -2.5 13 0.5 4 1 1 1 0 2.5 -4 0.5 -2 1 -0.5 0 -7.5 1 1 0 1 -1 5.5 1.5 5.5 0.5 2.5 -1 2.5 -3 3 1 0.5 2.5 0.5 17.5 -0.5 13 -2.5 12 0.5 10.5 -2 1 0.5 -1.5 8 0.5 1.5 3 1.5 -5.5 -1 -9.5 4 -13 2 -4 1.5 -2 2.5 -2 1.5 -4 -1.5 -0.5 -1 0.5 -1.5 -2 -1.5 -6 -0.5 -10.5 -5 -3 0 -1 1 -1 2 0 2.5 2 7.5 1 0.5 3 1 7 0 9 -0.5 8 1 2.5 1.5 1 1 0 1.5 -5 4 0 2.5 -3.5 0.5 -10 -0.5 -6 -1.5 -4 -2 -9.5 -1 -1 -1 -1 -4 -5.5 -1 -3.5 -3 -0.5 -1 1 -5.5 -1.5 -3.5 -1.5 -1.5 -1 1 -0.5 1.5 0 2.5 1.5 6.5 -1.5 5.5 0.5 3.5 1 2.5 3 3.5 4 1.5 43.5 2.5 40 -0.5 28 1.5 24 -1.5 58.5 0 16 -0.5 41.5 1.5 12 -1 14.5 0.5 1.5 0 2.5 -3 2.5 0.5 9.5 0 18.5 2.5 19 -0.5 4 -0.5 1 -0.5 0 -2.5 1 -1.5 2 -1 13 -0.5 4 -1 0 -1.5 -3.5 -4 0 -1.5 2 -1 5.5 -1.5 8.5 -1.5 2.5 -1 -0.5 -1.5 -3.5 -1 -5.5 -3 0 -1 1 -1.5 7 -2.5 2.5 0 5.5 1 1 -1 -3.5 -3 -8 -1.5 -10.5 -3.5 -1.5 -1.5 1 -1.5 2.5 -1 5.5 -1.5 8 -2.5 10 -5.5 0 -1.5 -0.5 0 -9.5 0 -6.5 -3 -3.5 -2 -2.5 -3 0 -1 1.5 -1.5 4.5 -4 6.5 -3 5.5 -1 9 0.5 5.5 -1 4.5 -2 0.5 -1.5 -3.5 -3.5 -1.5 0 -5.5 0.5 -2.5 -1 -3 -4 -6.5 -4 -1 -2.5 1 -2.5 3.5 -4 -0.5 -1.5 -5.5 -3 -6.5 -6.5 -1.5 -2.5 -1 -4 1 -1.5 3 0.5 2 1 3 1 18.5 1 3 -0.5 4 -3 0 -1 -5.5 -5 -8 -2.5 -4 0.5zM422 178l-4 3 -2.5 1 0.5 1.5 2 1 4 2.5 2.5 0.5 4 -0.5 1.5 -2 0.5 -3 -0.5 -2.5 -1 -1.5 -1.5 -0.5 -5.5 0.5zM6.5 213.5l-1 0.5 -0.5 1.5 0.5 2.5 1 2 1 -2 0.5 -1.5 -1.5 -3zM408.5 220l-2 2 -0.5 4 -1.5 3 -2.5 2 -6.5 2 -1.5 1 -0.5 1.5 3.5 1 13 1.5 12 -2.5 2.5 -1.5 -0.5 -1.5 -5 -2.5 -0.5 -1.5 0 -1 2 -2 7 -1.5 1 -0.5 0 -1.5 -2.5 -0.5 -6.5 -0.5 -7 -1.5 -4 0.5zM404.5 166l-1.5 1.5 3 1 1.5 -1 0 -1.5 -1.5 -0.5 -1.5 0.5zM419.5 244l-5.5 3 -18.5 3.5 -2.5 0.5 -0.5 1.5 4 0.5 5.5 -1.5 5.5 -0.5 10.5 -2.5 9.5 -0.5 1 -1.5 0 -2 -1 -1 -5.5 0 -2.5 0.5zM43 10.5l13 -1 18.5 0 16.5 1 1.5 1.5 -7.5 1 -28 0 -11.5 -1 -1 0 -1.5 -1.5zM92.5 52l3.5 -0.5 3.5 0.5 -3.5 0.5 -3.5 -0.5zM339.5 54.5l4.5 0 2 1.5 -0.5 1 -2 1 -2.5 -0.5 -2 -0.5 -2 -1 2.5 -1.5zM274 175.5l11 -1 1.5 1 -1.5 1.5 -7 1 -4.5 -1 0.5 -1.5zM284 187.5l2 -1 3 1 -1.5 1 -1.5 0 -2 -1zM282 194l4 -0.5 5.5 0 2 0.5 1 1.5 -1 1 -2 1.5 -5.5 1.5 -4 -1 -3.5 -2 -0.5 -0.5 -1 -0.5 -4 0.5 -2.5 -0.5 1 -1 1.5 -0.5 5 1.5 4 -1.5zM177.5 196.5l21 -1 2.5 1 -2 1.5 -4.5 1.5 -4 0 -10 0 -4 -1.5 1 -1.5zM327.5 206l2.5 0 1 1.5 -1.5 1 -2 0 -1 -1 1 -1.5zM146.5 208.5l2.5 -0.5 1.5 0.5 6.5 3 17.5 -0.5 2.5 0.5 2 1 -1.5 1.5 -9.5 1.5 -1.5 1 -1.5 3 -3 1 -5 1.5 -8 0.5 -12 -0.5 -4 0.5 -1.5 1 -1.5 4 -0.5 1 1 1.5 3 1.5 5 0.5 12 0 6.5 2.5 8 -2 9.5 1 4 -0.5 2 -1.5 -1 -1.5 -1.5 -1.5 3 -1 5.5 1 4 2.5 4 1 13 -2.5 7 0 9 2 3 1 4 3 3 1 1 1 1 3 3 2 2.5 0.5 5.5 0 2.5 1 5.5 3 2.5 0.5 6.5 -1 7 -3 6.5 0.5 4.5 3 11.5 4 1.5 3 -0.5 0.5 -1 -0.5 -13.5 1 -13 -1.5 -28 1.5 -19 0 -6 -1 3 -3 0 -1 -1 -1 -2.5 -1 -6.5 -1 -12 -0.5 -9.5 0 -9.5 2 -4 0 -6.5 -2 -8 0.5 -10.5 -1.5 -1.5 -1 -6.5 -5.5 -5.5 -2 -12 -0.5 -9 0.5 -3 0.5 -3.5 1.5 -3 0.5 -2.5 -0.5 -2.5 -2.5 0 -1 1.5 -3 0.5 -1 0 -4 1 -1.5 5 -2.5 12.5 -4 -1.5 -4 1 -1.5 15.5 -4.5 9.5 0.5 4 -1.5zM351 219.5l6 -0.5 2.5 1.5 -1 1.5 -3 1.5 -6.5 -1 -4 0.5 -1.5 -1 1.5 -1.5 6 -1zM243 220.5l2 0 4 1.5 -1 1.5 -1.5 1 -3 1 -2 -1 -0.5 -1 0 -1.5 2 -1.5zM253.5 222l2 -0.5 1 0.5 -1 0 -2 0zM164.5 226l6 0 4 1.5 -1.5 1 -5.5 1 -3.5 0.5 -3 -0.5 -0.5 -1 0.5 -1 3.5 -1.5zM345 230l3.5 0 5.5 1.5 -1 0.5 -3 0 -4 -0.5 -1 -1.5zM97.5 254l5 -1 4.5 1 -4.5 0 -5 0z"/><path fill="#48ffb7" d="M342.5 4l5 -1 5.5 0 4 1.5 1 1 0 1 -1.5 3 -1 4 -5.5 5 -5.5 3 -0.5 1 1 3 0 3 -1.5 1.5 -3 2 -2 2.5 -4 4 0 1.5 1.5 4 0 1 -8.5 8.5 -6.5 -0.5 -8 1 -27 4.5 -2 1.5 0 1 -3 1 -14.5 0.5 -16 2.5 -4 -0.5 -5.5 -2.5 -5 -3.5 -2 -2.5 -0.5 -3 1 -1 8 -4.5 8 -3 2.5 0 9.5 2 13 0 16 -2 9.5 -2 8.5 -1.5 4.5 -1 1.5 -1.5 -4 -4 -3 -4 -1 -2.5 1 -2.5 5.5 -5 4 -1 5.5 -0.5 3 -0.5 6 -8 0 -1 -1.5 -1.5 1 -1.5 2 -1 1.5 0 1.5 1.5 1 0.5 3 -0.5 1.5 -0.5 0 -2.5zM322 37l-2.5 1.5 2.5 1 3 0 3 -1 0.5 -1.5 -2.5 -1 -4 1zM45.5 10.5l10.5 -0.5 18.5 0 12.5 0.5 1 1.5 -8 1 -23 0 -11 -1 -0.5 -1.5zM309 10.5l7 0 2.5 1.5 -3 1 -4 0 -3 -1 0.5 -1.5zM202.5 12l10.5 -1 29.5 0 12.5 1 0 1.5 -7.5 1 -18.5 0.5 -21.5 -0.5 -7 -1 2 -1.5zM277.5 12l0.5 0 2 0 -2 0 -0.5 0zM401.5 17.5l3 -0.5 4 1 5 3.5 2.5 2.5 -2.5 1.5 -6 1 -11 -1 -5 3 -3 0.5 -2.5 -0.5 -3 -2 -0.5 -1 1 -1.5 4 -1.5 8 -1.5 6 -3.5zM73.5 21.5l5 -1 9.5 0.5 8 2 6.5 1 17.5 -0.5 42.5 -2 25 2 5.5 1 5.5 3 6 4.5 2 2.5 0.5 1.5 -0.5 1 -5.5 4 -5.5 1.5 -41 3 -32 -1 -10.5 0.5 -20 -1 -23 0 -6.5 -1.5 -2.5 -0.5 -10.5 6 -5.5 1 -2 1.5 -0.5 1.5 0 2.5 1 2.5 1.5 1 2.5 0.5 6 0 2.5 1.5 0.5 1 -3.5 3 -5 2.5 0.5 1.5 2.5 2.5 0 1.5 -1 1 -5 4 -5.5 1.5 -3 1 -1.5 1.5 -0.5 1.5 1 1 4 1.5 5.5 0 5.5 2 4.5 -0.5 1.5 -1.5 0.5 -1.5 2.5 -10.5 1 -2.5 2.5 -2.5 3 -1.5 4 0.5 10.5 2 3 1.5 -2 1.5 -7.5 0.5 -2.5 1.5 -1.5 2 0.5 1 1 2 1.5 1 2.5 0.5 9.5 -0.5 6.5 0.5 8 -0.5 9.5 1.5 5 -0.5 3 -1.5 3 -2.5 2 -2.5 3.5 -2.5 0.5 -3 1.5 -1.5 4 -1 10.5 -2 7 1.5 8 -0.5 14.5 2 1.5 0.5 2 1 0 1.5 -1.5 4 -3 1.5 -3 -0.5 -1 -2.5 -3 -1.5 -8 -0.5 -4.5 1 -1 1 1.5 1.5 5.5 2.5 0.5 1.5 -0.5 2.5 -3 1.5 -5.5 1 -5 2 -12 -0.5 -9.5 2 -1 0 -4 -2 -4 0 -6.5 1.5 0 1 2.5 2 2.5 1.5 6.5 0 1.5 0.5 5.5 4 12 7 5 2.5 4 1.5 12 0.5 7 1.5 3.5 0 8 -2 10.5 -1.5 8 -4 7 -0.5 2 0.5 2 1.5 4 8 2.5 1 20 2 4 -0.5 3 -1 1.5 -1.5 0.5 -1.5 -3.5 -1.5 -10.5 -1.5 -2.5 0.5 -3 1 -3.5 0 -1 -1 0 -4 2 -1 12 -0.5 8 -1 6.5 0 2.5 -0.5 2.5 -1 1.5 -3 3 -1.5 6.5 -1.5 8 0 4.5 -1 1 -1 -0.5 -3 1 -1 4.5 -2.5 4 -1 6.5 0 3 -0.5 2.5 -1 4 -3.5 2.5 -1 8 -1 25.5 0 29.5 -1.5 9 2 7 3 2 1.5 1 1.5 -0.5 1 -2.5 1.5 -9.5 2.5 -24 4 -14.5 -3 -8 -2.5 -17.5 -1.5 -14.5 2 -7.5 2.5 -2 1.5 0.5 1 2.5 1.5 5 1.5 12 -2 14.5 0.5 7 -0.5 6.5 2 2.5 0 12 -1.5 1.5 0.5 4 3.5 8.5 4 1.5 1.5 -0.5 1 -7 3.5 -21 1.5 -9.5 2 -3.5 1 -1.5 1.5 7.5 0.5 7 2 10.5 -0.5 4.5 -0.5 6 -4 3 -1 4 0.5 6.5 1 4 -0.5 2.5 1 1 3 3 1.5 5.5 1.5 9 0 5.5 2 0.5 1.5 -4.5 1 -8 0.5 -3.5 1 -1.5 1.5 1 5.5 -1.5 1 -10.5 3 -10.5 1 -8.5 -1.5 -6 -1.5 -3 0 -2.5 0.5 -4 2.5 -4 1.5 -16 -0.5 -12 1.5 -2 1.5 -1 2.5 0 1.5 3 1.5 10.5 1 8 0.5 4 1 3 1.5 5.5 4 0 1 -4 3 -0.5 1 1 1.5 3 1.5 8 0.5 8.5 2 0 1.5 -1 2.5 0 1.5 6 2.5 0.5 1.5 -2 0.5 -5 -0.5 -8 -2 -11 -1 -7 -4 -3.5 -5 1 -3 -0.5 -1 -2 -1.5 -12 -3 -13 -2.5 -5.5 -2.5 -8 -2 -8 2.5 -7 1 -1 1 0 3 3.5 5 -0.5 1.5 -1.5 1 -4 1 -20 2 -4 0 -10.5 -2.5 -5.5 0 -6.5 -1.5 -9.5 1.5 -5.5 -1 -12 0 -3 -2 -0.5 -1 3.5 -3 0 -1 -2.5 -1 -2.5 0 -5 2 -2 1.5 -1 2.5 -1.5 1 -2.5 0 -9.5 -1 -4 1 -1 0.5 -0.5 2.5 -0.5 1.5 -4.5 3 -6.5 1 -7 2 -4 -0.5 -10.5 -6 -4 -1 -2.5 -0.5 -9.5 1.5 -9.5 -1.5 -8 1 -9 -0.5 -3 1.5 -6.5 5.5 0 6.5 -1 2.5 -4 5.5 0.5 4 -3.5 3.5 -4 1.5 -1.5 0 -1 -1 1.5 -4 0.5 -1.5 -0.5 -1 -4.5 -3 -1.5 -1 2 -4 0.5 -1.5 -0.5 -1.5 -9 -1 -3 -1.5 -4 -3 -4 0.5 -4 3 -7 1.5 -1.5 0.5 -1 1.5 0.5 1.5 1 1 4.5 3 -2 6.5 0 1 1.5 4 0 3 -2 13 0 3 1 2.5 -1.5 6.5 0 4 -0.5 7 0.5 5 0 1.5 -1.5 1.5 -3 1 -2.5 0 -2.5 -1.5 -0.5 -1 -0.5 -4 -3.5 -9.5 1.5 -5 -0.5 -5.5 -0.5 -1.5 -3.5 -5 1.5 -7 -1.5 -5 0 -3 0.5 -2.5 1.5 -1.5 0 -1 -2.5 -2.5 -0.5 -4 0.5 -1.5 1 -1 5.5 -1.5 2 -1.5 -1.5 -4 -0.5 -5.5 1 -5 0.5 -8.5 1 -7.5 -0.5 -5.5 0.5 -2.5 3 -0.5 4 3 2.5 0.5 4 -0.5 1 -1.5 -0.5 -1 -3 -1.5 -7 0 -1 -2.5 0.5 -4 2 -1.5 5.5 0 4 -1 2.5 -1.5 1 -1.5 0 -1 -1 -5.5 -3 -2.5 0 -1.5 2 -4 -3 -6.5 -1 -7 -3 -4 -2.5 -1 -1.5 0 -1.5 1.5 -0.5 2.5 1 5 -1.5 4 -1.5 2 -1.5 0.5 -1 0 -1.5 -1.5 0 -5 2 -6.5 -1 -5.5 -2 -4 1.5 -11.5 -1.5 -7 -1 -12 2.5 -5 1 -1 1 -1 4 5 1.5 0.5 1.5 0 2.5 -1.5 2.5 -3.5 3 -9.5 1.5 -1 2.5 -1.5 2.5 0 2.5 0.5 6 3.5 2.5 2.5 2.5 1 2.5 0 6.5 -1.5 2.5 -1.5 6 -7 1 -3 0 -3.5 0.5 -1.5 2 -1.5 3 -1zM38.5 162l0 0.5 0.5 -0.5 -0.5 0zM56 143.5l-6.5 4 -1 1.5 1.5 1 6 3.5 2.5 0.5 2.5 -1.5 4 -3.5 1.5 -3 -1 -1 -4.5 -2 -2.5 -0.5 -2.5 1zM113 119l-0.5 0.5 3 0 -1 -0.5 -1.5 0zM129 133l-3.5 1 -1.5 1.5 17 0 4.5 -1.5 0 -1 -4.5 -1 -12 1zM310 98l-3.5 1.5 -3.5 3 2 0.5 6.5 -1 4 -1 0.5 -1.5 -2 -1.5 -4 0zM335.5 126.5l-0.5 1 2 0 -1.5 -1zM18.5 69l-0.5 4 0.5 2 1.5 1.5 1.5 -2.5 0 -3.5 -1.5 -2 -1.5 0.5zM58.5 167.5l-0.5 0 -0.5 1.5 2 0 0.5 -1.5 -1.5 0zM113 137l-26.5 0.5 -5.5 2 -3.5 2.5 -1 1.5 2.5 1.5 13 1.5 14.5 0.5 4 -0.5 4.5 -1.5 2.5 -3 0 -4 -1.5 -1 -3 0zM356.5 28l3 -1 2 1 1.5 1 -0.5 1.5 -1.5 1 -3 0.5 -1.5 -1.5 -0.5 -1.5 0.5 -1zM203.5 49l8.5 0 8.5 4 0.5 1.5 -4 1.5 -9.5 0 -4 -1 -7.5 -3 0 -1.5 7.5 -1.5zM180.5 50.5l5 0 2 1.5 -5 1.5 -3.5 -0.5 -0.5 -1 2 -1.5zM412.5 53l1.5 -0.5 2.5 -0.5 5.5 1.5 6.5 -1.5 1.5 1 0 3 -1.5 2.5 -10.5 3.5 -4 -1.5 -3 -2 -0.5 -2.5 2 -3zM370.5 54.5l2.5 0 5 2 8 -2 4 1.5 0 1 -4 1 -8 -0.5 -5 0.5 -4.5 -1 -0.5 -1 2.5 -1.5zM409 65l2.5 -1 1 0 5.5 1.5 1.5 1 1 2.5 -0.5 1.5 -2 1 -5.5 0.5 -2.5 -0.5 -3.5 -2.5 -1 -1 3.5 -3zM411.5 81l2.5 -1 2.5 0 1.5 0 1.5 2.5 0.5 4 2 2.5 1.5 0 4 -1.5 1 0 1 1.5 1 5.5 -2 4 -2.5 0.5 -4 0 -1.5 1 -0.5 2.5 -0.5 13 2.5 4.5 5.5 2.5 0.5 1 -0.5 0.5 -5.5 0 -4 2 -6.5 0.5 -5.5 -5.5 3 -4 1 -2.5 -0.5 -3 -2 -3.5 -1.5 -1 -4 0 -6.5 1 -3 -1 -4 -3.5 2.5 -1 5.5 -1 9.5 1.5 1.5 0 3.5 -3.5 1 -1 -1.5 -4 0.5 -4 -0.5 -4 1 -5.5zM217 90.5l1.5 -0.5 1.5 0.5 -1.5 0.5 -1.5 -0.5zM179 101l0.5 -0.5 1.5 -0.5 2 1 -2 1 -2 -1zM411 130.5l1.5 -1 4 -0.5 1.5 0.5 4 3 1.5 0 4 -0.5 1 0.5 1 1.5 -0.5 3 -1.5 0.5 -5.5 -0.5 -4 1.5 -5.5 -0.5 -1.5 -1 -1.5 -3 0.5 -2 1 -1.5zM410.5 146l6 -0.5 2.5 0.5 1 1.5 3 8 -2.5 5.5 -1 5.5 -2 3.5 0.5 4 -1.5 1 -4 0.5 -1 0 -1.5 -1.5 -0.5 -1 0.5 -1.5 1.5 -1.5 2.5 -1 0.5 -1.5 -0.5 -3.5 -6 -4.5 -1.5 -4 1.5 -6.5 2.5 -3zM388 149l3.5 -1 6.5 0.5 4 0.5 0.5 1 -2 2 -4 0.5 -6.5 -1 -2.5 -1.5 0.5 -1zM410 187.5l2.5 -0.5 4 0.5 2.5 1 1 1.5 1 9.5 -1.5 2.5 -1.5 1 -5.5 0 -2 -1 -1.5 -2.5 -1 -4 -0.5 -1.5 -1.5 -0.5 -4.5 3 -5 3 -6.5 1.5 -4 0 -4 -1.5 -2.5 -1.5 -0.5 -1.5 0 -1 1.5 -3 1.5 -1 2.5 -1.5 4 0 11 1.5 6.5 0 4 -4zM414.5 208.5l2 -1 1.5 0 4 1.5 5.5 0.5 1 1.5 0 4.5 -2 1 -7.5 0 -2.5 -2.5 -2 -4 0 -1.5zM136 214l8 0 3.5 1.5 -2.5 1.5 -5 0 -6 -1.5 2 -1.5zM61 223.5l1.5 -1 2.5 0 3.5 2 0.5 1.5 -2.5 1.5 -8 0.5 -5 1 -4 -0.5 -4 -1 0 -1.5 2.5 -0.5 9 0 4 -2z"/><path fill="#87ff78" d="M342.5 9.5l6.5 -1 1 0.5 1.5 2 0 2.5 -1.5 2.5 -2.5 2 -2.5 1 -7 1.5 -1 0.5 3 4.5 0.5 1 -1 1.5 -9.5 5 -12 3 -4 -1 -3 -3 -1.5 -3 0 -2.5 3.5 -3.5 2.5 -1.5 2.5 -0.5 8 0 9 -1 -1.5 -4 1 -2.5 3.5 -3 4.5 -1zM47 10.5l10 -0.5 17.5 0 10 0.5 1 1.5 -9.5 1 -19 0 -9.5 -1 -0.5 -1.5zM204.5 12l12.5 -1 26.5 0 8.5 1 1 1.5 -8.5 1 -15.5 0.5 -20 -0.5 -7 -1 2.5 -1.5zM402 21.5l2.5 -1 3 0.5 2 1.5 -0.5 1.5 -3 1 -4 -1 -1 -1.5 1 -1zM76 24l12 -1 12 2 18.5 0 13 -1 32.5 -1 22.5 1.5 5 1 5.5 2.5 5 4 1.5 2.5 -1 2 -2.5 2 -5.5 2.5 -28 2.5 -16 0.5 -72 -1.5 -6.5 -1.5 -1.5 -1 -1.5 -3 0.5 -1 2.5 -5.5 1 -4 1 -1 2 -1.5zM387 25.5l3 -1 1.5 1 -3 1 -1.5 -1zM33 40l1.5 -1.5 3 0.5 1 1 2 2.5 0.5 2.5 -2 7 0.5 9 -1.5 5.5 -0.5 6.5 -2.5 3 -3 2 -4 1 -1.5 -0.5 -0.5 -1.5 -3.5 -10.5 -0.5 -9.5 1.5 -4 9.5 -13zM312.5 42.5l5.5 -1 11 0 2.5 1 1 1.5 0 1 -5 5.5 -2.5 1.5 -39 5.5 -8 3.5 -9 -0.5 -13.5 1.5 -5 0 -7 -2.5 -3 -2.5 -1 -1 0.5 -1.5 2.5 -2.5 9 -3.5 9.5 0.5 6.5 0 13.5 -1.5 21 -3.5 10.5 -1.5zM14.5 49l1.5 1 1 2 1 4 -0.5 9 -1.5 7 0 7 -1.5 3.5 -1 -5.5 0.5 -5 -1.5 -7 -0.5 -10.5 1 -4 1.5 -1.5zM64 76l2 2.5 0.5 2.5 1 5.5 2 2.5 1 4 1.5 2.5 0 2 -1.5 1 -2.5 0.5 -4 -1 -3 -1 -1.5 -1.5 -1.5 -5 1.5 -5.5 0.5 -5 1 -2.5 1.5 -1.5 1.5 0zM342 77l7 0 14.5 1 6 1.5 2 1.5 0 1.5 -3.5 2.5 -4.5 2 -5.5 0.5 -9 0 -13.5 -1 -22.5 -4 -4.5 -1.5 -1.5 -1.5 1.5 -1 4.5 -0.5 9 -1 11 0.5 9 -0.5zM31.5 90.5l4 1 1 1.5 1 2.5 3.5 1.5 7 1 1 0.5 0 1 -1.5 1.5 -3.5 1 -9 -1 -1.5 -0.5 -1 -1 0.5 -1 1 -3 -3.5 -4 1 -1zM91 90.5l6 -0.5 1.5 0.5 1.5 1 -1.5 1.5 -6.5 1.5 -2 0 -3.5 -1.5 -1 -1.5 5.5 -1zM14.5 95.5l1.5 0.5 1 1 0.5 2.5 -0.5 3 -2.5 1.5 -1.5 -0.5 -0.5 -2.5 1 -4 1 -1.5zM92.5 99.5l6 -1 6.5 0.5 5 2 1.5 1.5 0.5 2.5 1 0.5 4 -1 5.5 1 6.5 0 5.5 1.5 2.5 2 0.5 1.5 -1.5 4 -0.5 1 -2.5 1.5 -2.5 0.5 -6.5 -1.5 -17.5 -1 -4 1 -2 2.5 0.5 1 3 2 13 3 7 -0.5 16 -3 9 -2.5 12 1 6.5 0 5.5 1 5.5 -0.5 9 0.5 5.5 -1.5 5.5 0 2 -0.5 2 -2 2.5 -0.5 29.5 0.5 5 -0.5 5.5 -1.5 8 1.5 6.5 0.5 9.5 1 11.5 -0.5 7 -2 6.5 -0.5 3 0.5 5 3.5 -1 1 -11 3.5 -3.5 2 0.5 1.5 3.5 2.5 0 1.5 -1.5 2.5 0.5 1 3.5 4 -0.5 1.5 -1 0.5 -4 1.5 -30.5 0.5 -17.5 2 -49 -4.5 -8 -2 -3 -2 -1 -1.5 0.5 -1 2 -1.5 9 -2.5 1 -1.5 -2 -1 -2.5 0 -7 1.5 -9 -1 -8 2.5 -4 0.5 -8 0 -8 -1.5 -8 0.5 -9.5 0 -10.5 -1.5 -5 1.5 -2 1.5 -2.5 3 -2.5 0.5 -5.5 -1 -8 -4 -6.5 -0.5 -10.5 2 -5.5 2 -6.5 0.5 -3 1 -0.5 1.5 0.5 1.5 1.5 1 5.5 -1 4 0.5 2 0.5 1.5 1.5 -0.5 1.5 -3 1 -3.5 0 -6 -2 -1.5 0 -6.5 4.5 -6.5 1 -4 -1 -2.5 -1 -1 -1.5 -0.5 -5 -2 -4 0 -1.5 1.5 -1 8.5 -5 2.5 -0.5 4 1 5.5 3 1 -0.5 0.5 -1 -2.5 -2.5 0 -1.5 0.5 -4 -1.5 -4 0.5 -2.5 13.5 -3.5 4 -1 6.5 0.5 5.5 -1.5 5 3 4 1 3 0 2 -1 0.5 -1.5 -1 -1.5 -9.5 -2 -5.5 0.5 -3.5 -2.5 2 -0.5 5.5 0 6 -3.5zM341 119.5l2.5 -0.5 4 0 2.5 0.5 1 1.5 -2 1.5 -4 0 -4.5 -1.5 0.5 -1.5zM359 130.5l3 -1.5 1.5 0 2.5 1.5 -0.5 1 -3.5 1 -3.5 -1 0.5 -1zM28 149l2.5 -1 1.5 1 1.5 4 -3 10 -2.5 4 -1.5 1.5 -1 0.5 -2.5 -1.5 0 -2.5 2 -8 -0.5 -4 1.5 -3 2 -1zM97 149l3 0 3 1 1 1.5 1.5 0 -8.5 0.5 -6.5 -0.5 -5.5 1 -2.5 -0.5 -2 -2 3.5 -1 6.5 1 6.5 -1zM17 150l0.5 0 1 1.5 0.5 8 2 6.5 -1 3 -1.5 1.5 -1 1 -2 -1.5 -1 -5 0.5 -4 0.5 -8 0.5 -2 1 -1zM106.5 151.5l5.5 0 4 1.5 -1 1 -4.5 0.5 -3.5 -1.5 -0.5 -1.5zM411 154l1.5 -1 4 0 1.5 1 0 1.5 -1.5 1 -4 0.5 -1 -1 -0.5 -2zM335 165l3 -1 3 0 2 1 1 1 -2 1.5 -5 0.5 -2 -0.5 -1 -1.5 1 -1zM64 174l1.5 1.5 -1.5 1.5 -1.5 0.5 -1.5 -0.5 0.5 -1.5 2.5 -1.5zM13 182l1.5 -0.5 3 -0.5 2.5 1 1.5 1.5 0.5 1.5 0.5 5 2 5.5 -2 10.5 0 9.5 -1 5 -0.5 12 0.5 4 -1 1.5 -2 1 -1 0 -2.5 -1 -0.5 -1.5 -0.5 -2.5 -1.5 -2.5 -1.5 -5.5 0.5 -6.5 0 -5.5 -2.5 -8 1 -5.5 0 -6.5 2 -5.5 0 -5 1 -1.5zM385.5 195.5l0.5 -1 1.5 0 1.5 1 -1.5 1.5 -1.5 -0.5 -0.5 -1z"/><path fill="#b7ff48" d="M48.5 10.5l10 -0.5 16 0 8 0.5 0.5 1.5 -8.5 1 -17.5 -0.5 -8.5 -0.5 0 -1.5zM341.5 10.5l4.5 0 3 1.5 0 1.5 -1 2.5 -3 2 -3 0.5 -2.5 0 -2.5 -1 -1 -1.5 0.5 -2.5 1.5 -1.5 3.5 -1.5zM206 12l13.5 -0.5 24 0 6.5 0.5 1.5 1.5 -9 1 -13.5 0.5 -17.5 -0.5 -8.5 -1 3 -1.5zM316.5 22.5l3 -0.5 12 1 2.5 1 1.5 1.5 -0.5 1 -13 7.5 -2.5 1 -2.5 0 -3 -1 -1 -1.5 -1.5 -2 -0.5 -2.5 1 -2.5 2 -2 2.5 -1zM85 25.5l13.5 0.5 20 0 17.5 -1 33 -0.5 21.5 2 6 2.5 3.5 3 0.5 1 0 1.5 -2 2 -3.5 2 -3.5 1 -26.5 2.5 -26.5 0.5 -17.5 -1 -38 -0.5 -6.5 -1 -1.5 -1.5 -1 -2.5 3.5 -8 2.5 -2 5 -0.5zM33 44l1.5 -0.5 1.5 0 1 1.5 1 13.5 -1 5.5 -3.5 8 -1.5 1.5 -2.5 0.5 -1.5 -1 -1.5 -2 -2 -4.5 -0.5 -9.5 2 -4 4.5 -7 2.5 -2zM315.5 44l10 0 2 1 0 1.5 -1.5 2.5 -4 2 -34.5 5.5 -9.5 3 -10.5 -0.5 -14.5 1.5 -4 -0.5 -2.5 -1.5 -2 -1.5 -0.5 -1 0.5 -1.5 2 -1.5 5 -1.5 15 -0.5 18.5 -2.5 17 -3 13.5 -1.5zM14 53l0.5 -1 1.5 2 0 2 0 9 -1.5 3 -1 -4 0 -8 0.5 -3zM338.5 78.5l9 -0.5 12 1.5 4.5 1.5 0.5 1.5 -1 1 -2.5 1 -15 1 -10.5 -1 -12 -2 -5 -1.5 0 -1.5 5 -0.5 15 -0.5zM13.5 98.5l1 -1 1.5 0.5 0.5 1.5 -0.5 2 -1.5 1 -1 -0.5 -0.5 -1 0.5 -2.5zM95 101l3.5 -0.5 2.5 0 1.5 0.5 1.5 1.5 -3 1.5 -4 0 -1.5 -0.5 -2 -1 1.5 -1.5zM67.5 111.5l5.5 -0.5 8.5 2 3.5 2 5.5 2 1.5 2 0.5 3.5 -6 0.5 -12 -1 -9.5 -3 -2 -2 0 -1.5 2 -2.5 2.5 -1.5zM244 118.5l14.5 0.5 3 0.5 3 1.5 4 2.5 0.5 3 6 2.5 1 1.5 -0.5 1 -2 2.5 0.5 2.5 6 0.5 -2 1 -5 -1 -6.5 1 -12 0.5 -12 2 -5.5 0 -3 -1 -0.5 -1.5 -1 -1 9 -3 2 -1 -1 -3 -1.5 -1.5 -2.5 -0.5 -11 0 -6.5 -1.5 -3.5 1 0.5 3 -3.5 0 -1.5 0 -0.5 -3 -1 -0.5 -4.5 -2 1 -1.5 5 -2 8 -1 4 -1.5 19 -0.5zM149 123.5l7 0 2 0 1 1.5 -5.5 1.5 -4.5 0 -2 -1.5 2 -1.5zM42 130.5l2 -1 2.5 -0.5 3 2 1 3 1 5.5 -0.5 1.5 -2 1 -3.5 1 -2.5 -1 -1.5 -1 -2 -7 0 -1 2.5 -2.5zM189 133l4 -1 2.5 0 4.5 1 3.5 2 4.5 0.5 -11 1.5 -5.5 -0.5 -3.5 -1 -0.5 -1.5 1.5 -1zM17 183.5l1.5 0 1.5 1.5 2.5 10.5 -1.5 10.5 -0.5 5.5 0.5 4 -0.5 14.5 -1.5 4 0.5 1.5 -1 1.5 -2 -0.5 0 -2.5 -2 -1 -2 -3 -0.5 -5.5 0.5 -5 0 -7 -1.5 -6.5 1.5 -12 1.5 -5.5 0.5 -2.5 0 -1 2.5 -1.5z"/><path fill="#e7ff18" d="M50 10.5l8.5 -0.5 16 0 6.5 0.5 0.5 1.5 -9.5 0.5 -16 0 -6 -0.5 0 -1.5zM208 12l13 -0.5 21.5 0 5.5 0.5 2 1.5 -7.5 1 -13.5 0 -17.5 0 -7 -1 3.5 -1.5zM340.5 12l3 -0.5 2.5 0.5 1.5 1.5 -0.5 1 -1 1.5 -2 1.5 -2 0 -2.5 -0.5 -1.5 -1 -0.5 -1.5 1 -1 2 -1.5zM315.5 24l2.5 -1 4 0.5 7 2 0.5 1 -7.5 6 -2.5 1.5 -2.5 0 -3 -1.5 -2 -3.5 0.5 -2.5 3 -2.5zM129 26.5l36 -1 21.5 1.5 4 0.5 3.5 1.5 3 3 0.5 1 -0.5 1.5 -2.5 2 -5.5 2 -25 2 -24 0.5 -55 -1.5 -4.5 -1 -1.5 -1.5 -1 -1 1 -3 2.5 -4 1.5 -1 2 -0.5 35 -0.5 9 -0.5zM306 46.5l13.5 -0.5 3 0.5 0.5 1.5 -1 1 -2.5 1.5 -6 1.5 -8 1 -8.5 1 -19 3.5 -10.5 0 -13 1 -4 -1 -1.5 -1.5 1.5 -1.5 2.5 -0.5 14.5 -1 38.5 -6.5zM32 48l1.5 -1 1 1 0.5 1 1.5 5.5 0 4 -1 4 -2 5 -3 2.5 -1 0 -1.5 -1 -1.5 -2.5 -1 -8 2 -5.5 4.5 -5zM335 79.5l10 -0.5 5 0.5 6.5 1.5 0.5 1.5 -7 1.5 -10.5 -0.5 -7.5 -1 -2.5 -1.5 5.5 -1.5zM68 114.5l2.5 -1.5 4 0.5 2 1 1 1 0 1.5 -3 1.5 -4 -0.5 -2.5 -1 -1 -1.5 1 -1zM246 122.5l3 -0.5 2 0.5 -2 0 -3 0zM45 133l1.5 1 0.5 1.5 -0.5 2.5 -1 0.5 -1.5 -1.5 -0.5 -1.5 0 -1.5 1.5 -1zM17 186l0.5 0 1 1.5 -0.5 1 2 4 0.5 3 -2 16 2 4 -1 14.5 -1 2 -1 1 -1.5 -0.5 -2 -1 -0.5 -1.5 -0.5 -4 0.5 -10.5 0.5 -4 -1 -5.5 1 -10.5 0.5 -3 2.5 -4 0 -2.5z"/><path fill="#ffe700" d="M51 10.5l23.5 0 5 0 0 1.5 -9 0.5 -14.5 0 -4.5 -0.5 -0.5 -1.5zM210 12l31 -0.5 5.5 0.5 2.5 1.5 -8 1 -12 0 -16 0 -7.5 -1 4.5 -1.5zM340 13.5l3.5 -1 2 1 0 1 -2 2 -2.5 0 -1 -0.5 -1 -1.5 1 -1zM315 25.5l3 -1.5 3 0 3 1.5 1.5 1 -0.5 1.5 -2 2.5 -1.5 1.5 -2 1 -2.5 0 -2 -1 -2 -3 0.5 -2.5 1.5 -1zM132.5 28l32.5 -1 20 1 5.5 1 3.5 3 0 1 -2.5 3 -4 1 -23.5 2 -25.5 1 -44.5 -1.5 -8.5 -1.5 -2 -1 -0.5 -1.5 2 -4 2.5 -1.5 1.5 0 43.5 -1zM302 49l8 -1 3.5 1 -2 1.5 -5.5 1 -4 0 -3 -1 3 -1.5zM30.5 52l1.5 -1 1.5 0 1 2 0.5 3 -1 6.5 -2 3.5 -1.5 0.5 -1 0 -1.5 -1.5 -1 -5 1 -4.5 2.5 -3.5zM338.5 81l6.5 -0.5 4.5 0.5 -2 1 -2.5 0 -6.5 -1zM17 194l1 1.5 0 2.5 -2 9 -0.5 -2.5 0.5 -8 1 -2.5zM16 212.5l2.5 1 1.5 2 -1 14.5 -1.5 2 -1.5 0 -1.5 -1 -0.5 -1 -0.5 -2.5 0.5 -12 0.5 -2 1.5 -1z"/><path fill="#ffb700" d="M52.5 10.5l22 0 3.5 0 0 1.5 -9 0.5 -13 -0.5 -3.5 0 0 -1.5zM212 12l29 -0.5 3.5 0.5 3 1.5 -6.5 0.5 -12 0.5 -14.5 -0.5 -8 -0.5 5.5 -1.5zM342 14.5l1 0 -1 0.5 0 -0.5zM317 25.5l4 0 1.5 1 0.5 1.5 -1.5 2.5 -3.5 1.5 -1 0 -2 -1.5 -1 -2.5 1 -1.5 2 -1zM142.5 29l21.5 0 9 1 9.5 -0.5 5.5 1 2 1.5 0 1 -2.5 1.5 -8 1 -14.5 2.5 -25 1 -43 -2 -5.5 -1 -2 -1.5 0 -1.5 1.5 -1 9 -1.5 16 -1 26.5 -0.5zM30.5 54.5l1.5 -0.5 1 0.5 0.5 2.5 -1 4 -0.5 1.5 -1.5 0.5 -1 -0.5 -1 -2.5 0.5 -3 1.5 -2.5zM15.5 214l2 -0.5 1.5 2 -1 14.5 -0.5 1 -1.5 0.5 -1.5 -1.5 0 -1.5 0 -13 1 -1.5z"/><path fill="#ff7800" d="M54 10.5l20.5 0 1.5 0 0.5 1.5 -20.5 0 -1.5 0 -0.5 -1.5zM214.5 12l26.5 0 5.5 1.5 -7 0.5 -10.5 0.5 -13.5 -0.5 -7.5 -0.5 6.5 -1.5zM316.5 26.5l1.5 -0.5 2.5 0.5 0.5 1.5 0 1 -2 1.5 -2 0 -1 -1.5 -0.5 -1 1 -1.5zM149.5 30.5l15.5 1 7 1.5 -1 1.5 -4.5 1.5 -21.5 1.5 -33 -1 -11 -2 0.5 -1.5 2.5 -0.5 12 -1.5 33.5 -0.5zM15.5 215.5l0.5 -1 1.5 0 1 1 0 1 -1 13.5 -1.5 0.5 -0.5 -0.5 -0.5 -4 0.5 -10.5z"/><path fill="#ff4800" d="M56 10.5l18.5 0 0 1.5 -18 0 -0.5 -1.5zM218 12l20.5 0 7 1.5 -16.5 0.5 -13.5 0 -6.5 -0.5 9 -1.5zM118 33l32.5 -1 6.5 1 0.5 1.5 -7 1.5 -12 0.5 -21 -2 0.5 -1.5zM17 215.5l0.5 0 0 3.5 -1 -2.5 0.5 -1zM16 223.5l0 -1 1.5 0 0 3.5 -1.5 2 0 -4.5z"/><path fill="#ff1800" d="M59.5 10.5l7 0 5.5 0 -0.5 1.5 -5 0 -6 0 -1 -1.5zM228.5 12l10 0.5 5.5 1 -15 0.5 -18.5 -0.5 6.5 -1 11.5 -0.5z"/><path fill="#e70000" d="M212 13.5l7.5 -1 11 -0.5 12 1.5 -13.5 0.5 -17 -0.5z"/><path fill="#b70000" d="M213.5 13.5l15.5 -1 12 1 -12 0 -15.5 0z"/><path fill="#870000" d="M215.5 13.5l13.5 -1 10 1 -10 0 -13.5 0z"/><path fill="#870000" d="M218.5 13.5l10.5 -0.5 7.5 0.5 -7.5 0 -10.5 0z"/><path fill="#ffffff" d="M224.5 13.5l4.5 0 3 0 -3 0 -4.5 0z"/></g>
<text x="941" y="782.7" text-anchor="middle">0</text>
<text x="1014.33" y="782.7" text-anchor="middle">10</text>
<text x="1087.67" y="782.7" text-anchor="middle">20</text>
<text x="1161" y="782.7" text-anchor="middle">30</text>
<text x="1234.33" y="782.7" text-anchor="middle">40</text>
<text x="1307.67" y="782.7" text-anchor="middle">50</text>
<text x="1381" y="782.7" text-anchor="middle">60</text>
<text x="934.7" y="727.987" text-anchor="end">20</text>
<text x="934.7" y="661.362" text-anchor="end">30</text>
<text x="934.7" y="594.737" text-anchor="end">40</text>
<text x="934.7" y="528.112" text-anchor="end">50</text>
<text x="1160.3" y="815" text-anchor="middle">LONGITUDE (E)</text>
<text transform="translate(895.7,619.25) rotate(-90)" text-anchor="middle">LATITUDE (N)</text>
<text x="1159.5" y="464.6" text-anchor="middle">expt_02.6 - Thickness anomaly layer 4 - ANNUAL MEAN - REF y51-y100</text>
<g shape-rendering="crispEdges">
<rect x="1414.1" y="749.31" width="42.4" height="4.79" fill="#000087"/>
<rect x="1414.1" y="745.12" width="42.4" height="4.79" fill="#000097"/>
<rect x="1414.1" y="740.94" width="42.4" height="4.79" fill="#0000a7"/>
<rect x="1414.1" y="736.75" width="42.4" height="4.79" fill="#0000b7"/>
<rect x="1414.1" y="732.56" width="42.4" height="4.79" fill="#0000c7"/>
<rect x="1414.1" y="728.38" width="42.4" height="4.79" fill="#0000d7"/>
<rect x="1414.1" y="724.19" width="42.4" height="4.79" fill="#0000e7"/>
<rect x="1414.1" y="720.00" width="42.4" height="4.79" fill="#0000f7"/>
<rect x="1414.1" y="715.81" width="42.4" height="4.79" fill="#0008ff"/>
<rect x="1414.1" y="711.62" width="42.4" height="4.79" fill="#0018ff"/>
<rect x="1414.1" y="707.44" width="42.4" height="4.79" fill="#0028ff"/>
<rect x="1414.1" y="703.25" width="42.4" height="4.79" fill="#0038ff"/>
<rect x="1414.1" y="699.06" width="42.4" height="4.79" fill="#0048ff"/>
<rect x="1414.1" y="694.88" width="42.4" height="4.79" fill="#0058ff"/>
<rect x="1414.1" y="690.69" width="42.4" height="4.79" fill="#0068ff"/>
<rect x="1414.1" y="686.50" width="42.4" height="4.79" fill="#0078ff"/>
<rect x="1414.1" y="682.31" width="42.4" height="4.79" fill="#0087ff"/>
<rect x="1414.1" y="678.12" width="42.4" height="4.79" fill="#0097ff"/>
<rect x="1414.1" y="673.94" width="42.4" height="4.79" fill="#00a7ff"/>
<rect x="1414.1" y="669.75" width="42.4" height="4.79" fill="#00b7ff"/>
<rect x="1414.1" y="665.56" width="42.4" height="4.79" fill="#00c7ff"/>
<rect x="1414.1" y="661.38" width="42.4" height="4.79" fill="#00d7ff"/>
<rect x="1414.1" y="657.19" width="42.4" height="4.79" fill="#00e7ff"/>
<rect x="1414.1" y="653.00" width="42.4" height="4.79" fill="#00f7ff"/>
<rect x="1414.1" y="648.81" width="42.4" height="4.79" fill="#08fff7"/>
<rect x="1414.1" y="644.62" width="42.4" height="4.79" fill="#18ffe7"/>
<rect x="1414.1" y="640.44" width="42.4" height="4.79" fill="#28ffd7"/>
<rect x="1414.1" y="636.25" width="42.4" height="4.79" fill="#38ffc7"/>
<rect x="1414.1" y="632.06" width="42.4" height="4.79" fill="#48ffb7"/>
<rect x="1414.1" y="627.88" width="42.4" height="4.79" fill="#58ffa7"/>
<rect x="1414.1" y="623.69" width="42.4" height="4.79" fill="#68ff97"/>
<rect x="1414.1" y="619.50" width="42.4" height="4.79" fill="#78ff87"/>
<rect x="1414.1" y="615.31" width="42.4" height="4.79" fill="#87ff78"/>
<rect x="1414.1" y="611.12" width="42.4" height="4.79" fill="#97ff68"/>
<rect x="1414.1" y="606.94" width="42.4" height="4.79" fill="#a7ff58"/>
<rect x="1414.1" y="602.75" width="42.4" height="4.79" fill="#b7ff48"/>
<rect x="1414.1" y="598.56" width="42.4" height="4.79" fill="#c7ff38"/>
<rect x="1414.1" y="594.38" width="42.4" height="4.79" fill="#d7ff28"/>
<rect x="1414.1" y="590.19" width="42.4" height="4.79" fill="#e7ff18"/>
<rect x="1414.1" y="586.00" width="42.4" height="4.79" fill="#f7ff08"/>
<rect x="1414.1" y="581.81" width="42.4" height="4.79" fill="#fff700"/>
<rect x="1414.1" y="577.62" width="42.4" height="4.79" fill="#ffe700"/>
<rect x="1414.1" y="573.44" width="42.4" height="4.79" fill="#ffd700"/>
<rect x="1414.1" y="569.25" width="42.4" height="4.79" fill="#ffc700"/>
<rect x="1414.1" y="565.06" width="42.4" height="4.79" fill="#ffb700"/>
<rect x="1414.1" y="560.88" width="42.4" height="4.79" fill="#ffa700"/>
<rect x="1414.1" y="556.69" width="42.4" height="4.79" fill="#ff9700"/>
<rect x="1414.1" y="552.50" width="42.4" height="4.79" fill="#ff8700"/>
<rect x="1414.1" y="548.31" width="42.4" height="4.79" fill="#ff7800"/>
<rect x="1414.1" y="544.12" width="42.4" height="4.79" fill="#ff6800"/>
<rect x="1414.1" y="539.94" width="42.4" height="4.79" fill="#ff5800"/>
<rect x="1414.1" y="535.75" width="42.4" height="4.79" fill="#ff4800"/>
<rect x="1414.1" y="531.56" width="42.4" height="4.79" fill="#ff3800"/>
<rect x="1414.1" y="527.38" width="42.4" height="4.79" fill="#ff2800"/>
<rect x="1414.1" y="523.19" width="42.4" height="4.79" fill="#ff1800"/>
<rect x="1414.1" y="519.00" width="42.4" height="4.79" fill="#ff0800"/>
<rect x="1414.1" y="514.81" width="42.4" height="4.79" fill="#f70000"/>
<rect x="1414.1" y="510.62" width="42.4" height="4.79" fill="#e70000"/>
<rect x="1414.1" y="506.44" width="42.4" height="4.79" fill="#d70000"/>
<rect x="1414.1" y="502.25" width="42.4" height="4.79" fill="#c70000"/>
<rect x="1414.1" y="498.06" width="42.4" height="4.79" fill="#b70000"/>
<rect x="1414.1" y="493.88" width="42.4" height="4.79" fill="#a70000"/>
<rect x="1414.1" y="489.69" width="42.4" height="4.79" fill="#970000"/>
<rect x="1414.1" y="485.50" width="42.4" height="4.79" fill="#870000"/>
<rect x="1414.1" y="485.5" width="42.4" height="268" fill="none" stroke="#000" stroke-width="1"/>
<line x1="1414.1" y1="490.5" x2="1418.1" y2="490.5" stroke="#000"/>
<line x1="1452.5" y1="490.5" x2="1456.5" y2="490.5" stroke="#000"/>
<line x1="1414.1" y1="565.5" x2="1418.1" y2="565.5" stroke="#000"/>
<line x1="1452.5" y1="565.5" x2="1456.5" y2="565.5" stroke="#000"/>
<line x1="1414.1" y1="640.5" x2="1418.1" y2="640.5" stroke="#000"/>
<line x1="1452.5" y1="640.5" x2="1456.5" y2="640.5" stroke="#000"/>
<line x1="1414.1" y1="716.5" x2="1418.1" y2="716.5" stroke="#000"/>
<line x1="1452.5" y1="716.5" x2="1456.5" y2="716.5" stroke="#000"/>
</g>
<text x="1461.7" y="500.766">100</text>
<text x="1461.7" y="576.004">50</text>
<text x="1461.7" y="651.243">0</text>
<text x="1461.7" y="726.482">-50</text>
<g shape-rendering="crispEdges">
<path d="M215.5 866V1134.5H655.5" fill="none" stroke="#000" stroke-width="1"/>
<line x1="215.5" y1="1134.5" x2="215.5" y2="1129.5" stroke="#000"/>
<line x1="288.833" y1="1134.5" x2="288.833" y2="1129.5" stroke="#000"/>
<line x1="362.167" y1="1134.5" x2="362.167" y2="1129.5" stroke="#000"/>
<line x1="435.5" y1="1134.5" x2="435.5" y2="1129.5" stroke="#000"/>
<line x1="508.833" y1="1134.5" x2="508.833" y2="1129.5" stroke="#000"/>
<line x1="582.167" y1="1134.5" x2="582.167" y2="1129.5" stroke="#000"/>
<line x1="655.5" y1="1134.5" x2="655.5" y2="1129.5" stroke="#000"/>
</g>
<g transform="translate(216.5,867)" clip-path="url(#cp2)" stroke="#000" stroke-width="1" fill-rule="evenodd" shape-rendering="crispEdges"><rect x="0" y="0" width="437" height="265.5" fill="#000087"/><path fill="#ffffff" d="M0 0l437 0 0 265.5 -437 0 0 -265.5zM194 20l-1 0 4 0 -1.5 0 -1.5 0z"/><path fill="#ffffff" d="M0 0l437 0 0 265.5 -437 0 0 -265.5zM191.5 20l4 0.5 3.5 -0.5 -3.5 -0.5 -4 0.5z"/><path fill="#ffffff" d="M0 0l437 0 0 265.5 -437 0 0 -265.5zM190 20l5.5 1 5 -1 -5 -1 -5.5 1z"/><path fill="#ffffff" d="M0 0l437 0 0 265.5 -437 0 0 -265.5zM188.5 20l3 1 4 0 6 -1 -6 -1 -7 1z"/><path fill="#ffffff" d="M0 0l437 0 0 265.5 -437 0 0 -265.5zM194 18.5l-6.5 1.5 4 1 4 0.5 3.5 -0.5 4 -1 -4 -1 -5 -0.5z"/><path fill="#ffffff" d="M0 0l437 0 0 265.5 -437 0 0 -265.5zM191.5 18.5l-5.5 1.5 4 1.5 5.5 0 5 -0.5 3.5 -1 -5 -1.5 -7.5 0z"/><path fill="#000087" d="M0 0l437 0 0 265.5 -437 0 0 -265.5zM188.5 18.5l-4 1.5 4 1.5 7 0.5 6.5 -0.5 3.5 -1.5 -3.5 -1.5 -3 0 -10.5 0z"/><path fill="#0000b7" d="M0 0l437 0 0 265.5 -437 0 0 -265.5zM187.5 18.5l-4.5 1.5 2 1.5 2.5 0.5 6.5 0.5 8 -0.5 4.5 -2 -3 -1.5 -4.5 -0.5 -11.5 0.5zM261.5 126.5l-8.5 1.5 -15 5 -9 2 -4 1 0 1.5 32.5 -5.5 4.5 -1.5 3 -1 1 -1.5 -1.5 -1 -3 -0.5z"/><path fill="#0000e7" d="M0 0l437 0 0 265.5 -437 0 0 -265.5zM16 110l-1 2 1 2.5 1.5 -0.5 0.5 -2 -0.5 -1.5 -1.5 -0.5zM49 9.5l49.5 0 -31 -0.5 -18.5 0.5zM149 144l-4 1.5 4 1.5 9 0 9.5 -1.5 1.5 -1.5 -11 -0.5 -9 0.5zM184.5 18.5l-3.5 1.5 1 1.5 2.5 0.5 9.5 0.5 9 -0.5 3.5 -0.5 2 -1.5 -3 -1.5 -6.5 -0.5 -7.5 0 -7 0.5zM269.5 122.5l-13 2.5 -20 5.5 -24.5 5.5 -8 3 -3 1 -1.5 1.5 2.5 1 2.5 0.5 13.5 -0.5 46.5 -10 8 -3 3.5 -3 1.5 -2.5 -1.5 -1.5 -6.5 0z"/><path fill="#0018ff" d="M0 0l437 0 0 265.5 -437 0 0 -265.5zM16 108.5l-1.5 1 -0.5 2.5 0.5 2.5 1.5 1 1.5 0 0.5 -1 0.5 -2.5 -1 -2.5 -1.5 -1zM42.5 9.5l38.5 0.5 87.5 -0.5 -101 -1 -25 1zM182 9.5l-0.5 0 40.5 0 -19 -0.5 -21 0.5zM280.5 116l-8 1.5 -40.5 12 -25.5 5.5 -11 3 -9.5 1.5 -9.5 0.5 -31.5 0.5 -10 2.5 -5 2.5 -1 1.5 0.5 1 5.5 1.5 18 0 7.5 -0.5 27 -3 19.5 -0.5 12 -1 52 -12 18.5 -8 9 -3 2.5 -1.5 0.5 -1.5 -1.5 -1.5 -5 -1.5 -7 0 -7.5 0.5zM133 42.5l-5 1.5 0.5 1.5 5 1 3.5 0.5 31.5 0 8 -1 2 -0.5 0 -1.5 -4 -1.5 -6 0 -35.5 0zM182 18.5l-5 1.5 -3 2 -8 2 6 1.5 9 0 6.5 -1.5 11.5 -0.5 8 -1.5 2.5 -0.5 1.5 -1.5 -4 -1.5 -8 -1 -9 0 -8 1z"/><path fill="#0048ff" d="M0 0l437 0 0 265.5 -437 0 0 -265.5zM16 107.5l-1.5 0.5 -1 1.5 -0.5 2.5 0.5 2.5 1 1.5 1.5 1 1.5 -0.5 1 -1.5 1 -3 -1 -3 -1 -1 -1.5 -0.5zM42.5 9l-1 0.5 2.5 0.5 16 0 114 0 32 0.5 69 -1 -198 -1 -34.5 0.5zM287 112l-25.5 4 -25 9.5 -8 2.5 -33 7 -23 3 -10.5 0.5 -17 -1 -7 1 -18.5 6 -12 2.5 -3.5 1 -4 3 -2.5 4 -4.5 4 4 0.5 8 -0.5 14.5 -4.5 9.5 -1.5 31.5 -2 25.5 -2.5 22.5 -1 13.5 -1.5 23 -6 23.5 -5 21 -6.5 12 -2.5 5.5 -3.5 2.5 -2.5 -0.5 -2.5 -1 -2 -2 -2 -2 -1 -10.5 -1 -6.5 0.5zM137 41.5l-16 1 -2.5 1.5 0 1.5 2.5 1 5 1 17.5 0.5 34.5 -0.5 8.5 -1 1.5 -1 -1 -1.5 -2.5 -1.5 -9 -1 -38.5 0zM190 17.5l-16 1 -30.5 0.5 -4 1 -2 2.5 0 1.5 4.5 1.5 32 1.5 32 -1 28 1.5 2.5 -0.5 1.5 -1.5 -1.5 -3.5 -1.5 -1 -14.5 0 -14.5 -3.5 -16 0z"/><path fill="#0078ff" d="M0 0l437 0 0 265.5 -437 0 0 -265.5zM16 106.5l-1.5 0.5 -1 1 -1 4 1 4 1 1.5 1.5 0.5 1.5 -0.5 1 -1 1.5 -4.5 -1.5 -4 -2.5 -1.5zM52 8l-8 0 -3.5 1.5 3.5 1 162 0.5 34.5 -0.5 28 0 17 -0.5 6 -0.5 -84.5 -1.5 -155 0zM308 53.5l-0.5 0 0.5 0.5 5.5 -0.5 -5.5 0zM44 256l-0.5 0 19 0 -12 0 -6.5 0zM121 41.5l-9.5 1 -2 1.5 0.5 1.5 1.5 1 7.5 1.5 23 1 44 -0.5 8 -1 2 -1 0.5 -1 -1.5 -1.5 -2.5 -1.5 -7 -1 -7.5 -1 -38.5 0 -18.5 1zM139.5 17.5l-8 2 -8.5 -1 -1 1 0 3 2 1.5 7.5 0.5 10.5 2.5 33.5 1.5 29 -0.5 30.5 1 3.5 -1 1 -1.5 0.5 -1 -1 -3.5 -1 -2 -4 -1.5 -12 0 -25.5 -1.5 -57 0.5zM135.5 121.5l-0.5 1 6 1.5 4.5 0 3.5 -1.5 -1.5 -1 -4 -1 -4 0 -4 1zM139.5 65.5l-2.5 1 2.5 1.5 12.5 1.5 37 0 7 -1.5 0.5 -1.5 -2.5 -1 -9.5 -1 -31.5 0 -13.5 1zM238 105.5l-7.5 1 -2 1.5 0.5 1.5 4 2.5 3 2.5 0.5 1.5 0 1.5 -5 5 -4.5 3 -3.5 1 -18 4 -33 5 -10.5 0.5 -17 -2 -7 1 -20 6.5 -11.5 3 -8.5 2.5 -4.5 2.5 -4.5 4 -10 5.5 -1 1 0 1.5 1.5 1.5 3 0.5 10.5 0 14.5 -2 17.5 -4.5 8 -1.5 50.5 -4.5 14.5 0 26.5 -3.5 8 -1.5 14.5 -4.5 18.5 -3.5 24 -6.5 14.5 -2.5 5.5 -2.5 3.5 -2.5 3 -2.5 0 -1.5 -3 -9.5 -2 -1 -4 -1.5 -7 -0.5 -13 -0.5 -5.5 1 -13 3.5 -8 0.5 -8 0 -8.5 -1.5 -2 -1 -0.5 -3 -1 -1 -2.5 0zM135.5 256l10.5 0.5 9.5 -0.5 -9.5 0 -10.5 0z"/><path fill="#00b7ff" d="M0 0l437 0 0 265.5 -437 0 0 -265.5zM10.5 129.5l-0.5 4 0.5 19 1.5 -3.5 0.5 -15.5 -0.5 -3.5 -1.5 -0.5zM16 105.5l-1.5 0 -1.5 1 -1.5 4 1 5.5 2 2.5 1.5 0.5 1.5 -0.5 1.5 -1 1 -3 0.5 -2.5 -1 -4 -1 -1.5 -2.5 -1zM34.5 255l5.5 0.5 2.5 1 4 0 22.5 0 7.5 -0.5 -34 -0.5 -2.5 -1 -5.5 0.5zM42.5 8l-2.5 1.5 1 1 3 0.5 224.5 0 21 -0.5 3.5 -1 -2 -1 -4 0 -80 -1 -140.5 0 -24 0.5zM319 49.5l-25.5 2.5 -4 1.5 -2 1 0 1.5 4 1.5 3.5 0.5 14.5 -0.5 14.5 -2.5 5 -1.5 1 -1.5 -1 -1.5 -2 -0.5 -8 -0.5zM10.5 159.5l-0.5 4.5 0.5 3.5 1.5 -4.5 -1.5 -3.5zM138 16l-5 0.5 -9.5 -0.5 -2.5 0.5 -2 2 0.5 5.5 1 1.5 1.5 0.5 9.5 0.5 10.5 1.5 33.5 1.5 30.5 -0.5 29 1 4 -1 2 -1 1 -1.5 0 -2.5 -2 -4 -1.5 -1.5 -3.5 -1 -66.5 -1.5 -30.5 0zM261.5 20l-1.5 1.5 0.5 0.5 0 0.5 2.5 1.5 2.5 0 3 -0.5 1.5 -1 0.5 -1 -1 -1.5 -2.5 -1 -2.5 0 -3 1zM305.5 92l-10 2.5 -2 1.5 -1.5 1.5 -0.5 2.5 -0.5 0.5 -1 1 -4.5 1 -13 0.5 -3 -0.5 -4 -2.5 -2.5 -0.5 -13.5 -0.5 -11.5 1.5 -16 4.5 -4.5 1.5 -1 1.5 -0.5 1.5 2 4 -1.5 4 1 4 -0.5 1 -0.5 1.5 -5.5 3 -4.5 1 -11 2 -11 0.5 -16 1.5 -4 0 -4 -1 -2.5 -1.5 -0.5 -1.5 1 -1.5 6 -4 0 -1 -12.5 -4 -1.5 -1.5 3.5 -1.5 20 -1.5 13.5 -3 5 -2 2.5 -1.5 0.5 -1 -2 -1.5 -6 -0.5 -7 0.5 -9 1.5 -18.5 4.5 -16 0.5 -1 1.5 -1 2.5 -14 7 -0.5 1 8 4 1.5 1.5 1 2.5 -0.5 1.5 -1.5 1.5 -12 5.5 -24 6 -4.5 2 -6 5 -10 5.5 -2 2.5 -0.5 3 1.5 2 4 2 4 1 7 0 22.5 -4.5 9 -2 12 -3.5 9.5 -1.5 18.5 -1.5 40 -1 34.5 -5.5 18.5 -5.5 17.5 -3.5 17 -4.5 8 -1.5 11.5 -1.5 5 -1.5 6 -2.5 9 -5.5 1 -1 -0.5 -1.5 -4 -4 -0.5 -1.5 0 -4 -0.5 -1 -1.5 -1.5 -7.5 -4 0 -1.5 5.5 -4 0.5 -2.5 -0.5 -2.5 -1.5 -1.5 -2 -0.5 -8 0.5zM10.5 188l-0.5 4 0.5 4 1 -4 -1 -4zM126 40l-18 1.5 -6.5 1 -1.5 1.5 2 2.5 4.5 1.5 25 1.5 58.5 0.5 10.5 -1.5 2.5 -0.5 2.5 -1.5 0 -1 -4.5 -3 -6 -1 -9 -1.5 -17.5 -0.5 -42.5 0.5zM231 92l-3.5 1.5 0.5 1 3.5 1.5 5 0.5 25 -3 3.5 -1.5 -2 -0.5 -2.5 -0.5 -11 1 -18.5 0zM101 256l-1 0 2.5 1 45 0.5 41.5 -1.5 -41.5 -0.5 -46.5 0.5zM257.5 256l-1 0 18 0 -9 0 -8 0zM10.5 213l0 4.5 0 3.5 0.5 -3.5 -0.5 -4.5zM127.5 64l-5.5 1.5 0.5 1 6.5 2 8 1.5 12 0.5 46.5 0 8 -1 2.5 -1.5 0.5 -1.5 -1 -1 -3.5 -1.5 -9.5 -1 -49 0.5 -16 0.5zM10.5 239l0 4 0 1.5 1 -1.5 -1 -4z"/><path fill="#00e7ff" d="M0 0l437 0 0 265.5 -437 0 0 -265.5zM14.5 104l-2.5 1 -1 1.5 -0.5 4 0.5 4 1 3 2.5 2.5 1.5 0 2.5 -1 1.5 -2 1 -3.5 0 -3 -0.5 -2.5 -2 -2.5 -1 -1 -3 -0.5zM26.5 253.5l-0.5 0 5 0 -3 0 -1.5 0zM33 254.5l-0.5 0.5 11.5 2 38.5 1 71.5 0 57 -0.5 102.5 0 14 0 5.5 -1.5 -64.5 -0.5 -57.5 0.5 -66 -1 -42.5 0.5 -7 1 -51.5 -1.5 -5.5 -0.5 -5.5 0zM41 7.5l-2 2 1.5 1 2 0.5 64 0 15.5 0.5 100 -0.5 47.5 1 21.5 -1 1.5 -0.5 1.5 -1 -2 -1 -2.5 -0.5 -79.5 -1 -145 0 -21 0 -3 0.5zM378.5 199.5l-1.5 2 0 1.5 0.5 1 2.5 1 2.5 -1 1 -1 0 -1.5 -0.5 -1.5 -2 -1 -2.5 0.5zM396 150.5l-2.5 3 0.5 2.5 3 3 3 0.5 1 -0.5 1.5 -1.5 0.5 -1.5 -0.5 -2.5 -2.5 -3 -1.5 -0.5 -2.5 0.5zM405 175l-1 2.5 0.5 1.5 0.5 1 1.5 -0.5 1 -2 -0.5 -1.5 -0.5 -1 -1.5 0zM10.5 127l-1 2.5 -0.5 2.5 0 15 0.5 9 -0.5 7 0.5 9 -0.5 20 1 8 -0.5 7 -0.5 10.5 1.5 13.5 -1 12 0 2.5 1 2 1.5 -0.5 0.5 -4 -0.5 -8.5 -1.5 -3.5 1.5 -6 0.5 -7.5 -0.5 -10.5 -0.5 -7 1 -6.5 -0.5 -21.5 0.5 -8 -0.5 -8 1 -24 -1 -5 -1.5 0zM62.5 85l-1.5 1.5 0 3 1.5 1.5 1.5 -0.5 2 -1 1 -1.5 0 -1.5 -2 -1.5 -2.5 0zM122 14.5l-2.5 1 -2 2 0 6.5 0.5 2 1.5 0.5 2.5 1 11 0.5 9 1.5 37.5 1 27.5 0 28 0.5 6.5 -1 2.5 -2 0.5 -1.5 -1 -4 -2 -3.5 -2 -1.5 -3 -0.5 -48 -0.5 -22.5 -1.5 -44 -0.5zM261.5 16l-4.5 1.5 -3.5 2.5 -0.5 1.5 -0.5 2.5 1.5 2.5 5 2 6.5 0 8 -2 4 -2.5 0 -2.5 -2 -3 -2 -1.5 -5 -1.5 -7 0.5zM285.5 46.5l-4 2 -8 5.5 -8.5 3.5 0.5 1 8 1.5 12 1 30.5 0 11 -1.5 9 -2 4 -1.5 1.5 -1.5 0.5 -1 -2 -3 -2.5 -1.5 -5.5 -1.5 -6.5 -1 -8 -0.5 -14.5 1 -11 -1.5 -6.5 1zM129 38.5l-32 2.5 -5.5 1.5 0 1.5 1.5 2.5 1.5 1.5 5 1.5 30.5 1 38.5 0.5 28 1 1 1.5 -1 0.5 -10.5 0.5 -6.5 1.5 1.5 2.5 -0.5 0.5 -2 1 -6 0.5 -23.5 0.5 -9.5 0 -16 -1.5 -14 -3.5 -7 -0.5 -5 0.5 -7.5 1.5 -4 1 0.5 2 9 2 0 1.5 -10.5 4 -4.5 2.5 3 1.5 18.5 2.5 5.5 3 2.5 0.5 3.5 -0.5 0 -1.5 -1 -1.5 -0.5 -1 2 -1.5 3 -0.5 8 -0.5 13.5 1 2 1.5 -9 4 -1.5 1 0.5 1.5 5 2.5 8 1.5 28 -1 9 -1 4 -2 5.5 -3.5 10.5 -2.5 21.5 -7 21.5 -4.5 7 -2.5 0.5 -1.5 -5.5 -0.5 -6.5 -0.5 -6.5 1 -10.5 2.5 -4 0 -3 -1 -0.5 -1.5 1.5 -2.5 0 -1.5 -4.5 -2.5 -0.5 -1.5 3 -2.5 1 -1.5 -0.5 -1 -4 -3 -8.5 -2 -9.5 -1.5 -13 -0.5 -37.5 -0.5 -13 0.5zM327 68l-20 2 -7 1.5 -2 2 -0.5 4 -0.5 1 -5 3.5 -2.5 1 -17 0 -24 4.5 -22.5 1 -13.5 1.5 -2.5 0 -12 -3.5 -9.5 0 -4 1 -4 2 -1.5 1 -2.5 4 -2.5 2 -5.5 2 -10.5 2 -8 4 -6.5 0.5 -14.5 -2 -8 0 -8 1 -14 4 -2.5 1.5 -0.5 1 0.5 1.5 5.5 4 0.5 1.5 -4 2.5 -0.5 1.5 1.5 1 14.5 4 4 1.5 2 1.5 0 1 -0.5 1.5 -5.5 3 -14 5 -16.5 4 -4 1.5 -4.5 5.5 -7.5 4 -3.5 2.5 -1.5 6.5 1 8 2 3 5 2 8 1.5 5 -0.5 3 -0.5 20 -9.5 30.5 -9 14.5 -1.5 36 0.5 11.5 -0.5 17.5 -4 21.5 -3.5 15.5 -5.5 17.5 -3 14.5 -4 8 -1.5 16 -1.5 6.5 -2 13.5 -5.5 18.5 -3 4 -2.5 0.5 -1.5 -0.5 -1.5 -2.5 -1.5 -13.5 -0.5 -5.5 -1.5 -1 -1.5 0 -4 -4.5 -5.5 1.5 -4 0.5 -5.5 2.5 -4 4 -2 9 -3 1 -1.5 0 -1.5 -5.5 -9 -6 -4.5 -2.5 -1 -2.5 0zM203.5 94.5l5 -1 2.5 1 0.5 1.5 -1.5 1.5 -4.5 0 -3.5 -1.5 1.5 -1.5z"/><path fill="#18ffe7" d="M0 0l437 0 0 265.5 -437 0 0 -265.5zM9.5 26.5l-1.5 1.5 -0.5 2.5 1 9.5 1 3 1 1.5 3 0.5 5 -3 2 -2 0 -1.5 -2.5 -4 0.5 -4 -1 -2 -4 -2 -4 0zM26.5 16l2 1.5 4 1 1.5 0 1 -1 -1 -1.5 -2 -0.5 -3 0 -2.5 0.5zM56 6.5l-15 0.5 -2 1 -1 1.5 1 1 2 1 65.5 -0.5 10.5 1 2.5 1.5 -2.5 1.5 -1.5 2.5 0 7.5 1.5 2 4 1.5 12 1 10 2.5 -0.5 1.5 -9.5 1.5 -19.5 2.5 -23 1.5 -7 0.5 -3 2 0 1 1.5 3 0 1 -1 1.5 -5.5 1.5 -19.5 2 -3 1 -1 1 -2.5 5 -8.5 9.5 0 4 2 6.5 0 1.5 -2 5.5 0 2.5 1.5 3 1.5 0.5 1 -1 1.5 -2.5 1 -8 4.5 -5 -1 -3 1.5 -2.5 8.5 -9.5 8 -4 17.5 -1.5 16 -3 58 0.5 6 0 7.5 1.5 -25 2 -23 0 -23.5 -1.5 -11 1.5 -5 1 -4 2 -0.5 1.5 0 2.5 -1 2 -4 2.5 -7.5 2.5 -2 1.5 -2 3.5 -1 4 -6 5.5 -0.5 1.5 -0.5 5 1 7 -1 6.5 -0.5 8 1.5 5.5 0 2.5 2.5 -4 5.5 -3 4 -0.5 6.5 0.5 5.5 1.5 3 1.5 0.5 1.5 0 2.5 1 1.5 2 1 18.5 5.5 2.5 1.5 0 1 -1 1 -4 1.5 -26.5 4.5 -9.5 0.5 -4 -1 -5 -3 -1.5 0 -1.5 0.5 -1 2 -1 3.5 0.5 4 1.5 4 -1.5 7 -0.5 6.5 -1 2.5 -2.5 4 -0.5 1.5 0.5 1.5 1 1 3.5 3 6.5 3 6.5 3 8 2.5 6.5 0.5 9.5 -1 18.5 -3.5 5.5 0 12 2 4 -0.5 3 -1 2 -1 -14.5 -2.5 -1.5 -0.5 -1 -1 1 -1.5 5.5 -2.5 2 -1.5 2 -5.5 2 -1 4.5 -2 5.5 -1 6.5 -0.5 44 2 6.5 0 9 -1.5 16 -4 19 -3 12 -6 5.5 -1.5 29 -6 17 -0.5 7 -1 17 -7 16 -2 6.5 -2 5.5 -3 4.5 -5.5 0.5 -1 -0.5 -1.5 -8 -5.5 -3 -5 0 -1.5 9 -5 2 -3 -0.5 -2.5 -2.5 -4 -2.5 -5.5 -5.5 -4 -1.5 -1.5 -1 -1 1.5 -4 0 -5.5 6 -4 1 -1.5 0 -1 -3 -8 -2 -2 -12 -8 -37 -7 -14 -3 -4.5 -2 -2 -2 0 -4 -1.5 -4 -4 -5.5 -4.5 -2.5 7.5 -1.5 9.5 -0.5 2 -1 1 -1 -1.5 -1.5 -5.5 -0.5 -79.5 -1 -33 0.5 -48 -0.5 -71.5 0zM352 32l0.5 0 -0.5 0zM376 197.5l-1.5 1.5 -1 2.5 0.5 2.5 2 2.5 2.5 1 2.5 0 3 -1 2 -2.5 1 -2.5 0 -1.5 -2 -2 -4 -1.5 -2.5 0 -2.5 1zM397 138.5l-2.5 2 -1.5 2.5 -3 9 -0.5 3 3.5 6 3 3 5 1.5 4 -0.5 5.5 -3 2.5 -1 1 -1 -1 -1 -2.5 -1 -1.5 -1.5 -3.5 -7 0 -1.5 2.5 -2 6.5 -1 0 -5 -14.5 -1.5 -3 0zM12 47.5l-1.5 0.5 -1.5 2.5 0 3 1.5 1.5 4 -0.5 1.5 -1 1 -1.5 -1 -2 -4 -2.5zM38.5 194l-1.5 2 0 15 1.5 8 1.5 1 1 -1 4 -8 -3 -7 0 -8 -0.5 -1 -1.5 -1.5 -1.5 0.5zM52 208l-4.5 1.5 -2 1.5 0.5 1 4 3 6 0.5 5.5 -0.5 2 -1.5 0.5 -1.5 -1 -1 -3 -1.5 -8 -1.5zM86.5 200l-3.5 1.5 -1.5 1.5 -0.5 1 2.5 1.5 3 0 4.5 -1.5 3 -2.5 -0.5 -1.5 -2 -0.5 -5 0.5zM129 244l-0.5 0 1.5 1 4.5 -1 -5.5 0zM256.5 244l-10.5 1.5 1.5 1.5 7.5 1 3 1.5 1 1.5 0 2.5 -4 1.5 -44 0.5 -67.5 -1.5 -41 1 -8 1 -50.5 -1.5 -20 -1.5 -0.5 0.5 5.5 0.5 11 3 8 1 22.5 0.5 245.5 0 73.5 -1 -2.5 -1.5 -99 -1 -6 -1.5 1 -1.5 -0.5 -1 -9 -6 -5 -1 -12 0zM325.5 173.5l-10.5 2.5 -2 1.5 4 1.5 7 -0.5 7 -1 4 -1.5 1 -1 -1 -1.5 -1.5 -0.5 -8 0.5zM405 170l-2.5 3.5 -1 2.5 0 3 1 3 1.5 2 2.5 0.5 1.5 -0.5 1.5 -2.5 0.5 -5.5 -1 -3 -1 -2 -1.5 -1 -1.5 0zM10.5 102.5l-1 0 -1.5 3 0.5 5 1.5 5.5 3.5 5 1 0.5 3 -0.5 2 -2.5 1.5 -2.5 1 -4 -1 -4 -1 -2.5 -2.5 -2.5 -3 -1 -4 0.5zM332 192l-4.5 1.5 -2 1.5 1 1 1.5 0.5 6.5 0.5 9.5 -1 3.5 -1 0 -1.5 -3.5 -1.5 -5.5 -0.5 -6.5 0.5zM10.5 124.5l-2 2 -0.5 4 0.5 25.5 -0.5 8 0.5 8 -0.5 21.5 0.5 6.5 -0.5 17.5 1 13.5 -1 13 1 4 1.5 2 1.5 -0.5 0.5 -1.5 1 -4 -1 -14.5 0.5 -12 -0.5 -16 1 -9.5 -0.5 -20 0.5 -8 -0.5 -8 1 -24 -1.5 -6.5 -0.5 -1 -1.5 0zM170.5 12l55.5 -0.5 24 0.5 7 1.5 -5.5 2.5 -4.5 3.5 -1.5 -0.5 -2.5 -2 -4 -1 -21 0.5 -32 -0.5 -9.5 -1 -9 -1.5 -16 0 5 -1 14 -0.5zM151 32l15.5 0 8 1.5 -4.5 1 -5.5 0.5 -15 -1.5 1.5 -1.5zM202.5 33.5l10 -1 32 0.5 23 5.5 5 2 1 1 0.5 1 -1 1.5 -6 4.5 -4 1.5 -13.5 0.5 -11.5 1 -7 0 -3 -1 -2.5 -1 -0.5 -4 -1.5 -1.5 -20.5 -9.5 -0.5 -1zM217 77.5l5 -0.5 5 0.5 4 1.5 2.5 1 1 1.5 -2 1 -1.5 0.5 -9 1 -8 -0.5 -5.5 -2 0 -1.5 1.5 -0.5 7 -2zM75.5 78.5l4 -0.5 5.5 0.5 2.5 1.5 0 1.5 -2.5 1 -5.5 0 -3 -1 -2.5 -1.5 1.5 -1.5zM109 96l6.5 0 2.5 1.5 -5 1 -8 0 0 -1 4 -1.5z"/><path fill="#48ffb7" d="M356 5.5l16 -1 36 1.5 4 1.5 3.5 3 3.5 4 1 3 0.5 16 -1 9 1 7 -1 9 0.5 16 -0.5 8 1 15 -2 17 1 17.5 -1 5 -0.5 6 0.5 9 -0.5 9.5 1.5 14.5 -1 17.5 0 10.5 1 11 1 20 -1 5 -1 3 -3 2 -9 3 -1 1.5 0 1.5 1 0.5 5 2 -0.5 1.5 -20.5 0.5 -72 -0.5 -7.5 -1.5 -1 -1.5 2 -4 0 -1 -4 -1 -17 -1 -10.5 -3 -5.5 -1 -6.5 0 -37.5 1.5 -41 -0.5 -34.5 -2 -12 -2.5 -8 -0.5 -10.5 1 -5 2 -14.5 4 -3 1.5 3.5 1.5 13 1 10 0.5 50.5 0 42.5 -1 30.5 3 2.5 0.5 0.5 1 -7 1.5 -24.5 1.5 -17 0 -63.5 -2 -41 1 -4 1.5 -4 0 -50.5 -1 -20 -2.5 -1.5 0 0 1.5 1.5 0.5 5 0.5 11.5 3 -0.5 1 -3 0.5 -10.5 1 -8 -1 -4 -2 -2 -2 -0.5 -1.5 1.5 -4 1 -4 -1.5 -16 1 -12 -0.5 -17.5 1 -8 -1 -20 1 -9 -0.5 -7 0.5 -9 0 -21.5 0.5 -1.5 3.5 -2.5 2 -3 1.5 -4 0.5 -4 -1 -4 -1.5 -3 -2.5 -2.5 -6.5 -3.5 -2 -3 0 -2.5 0 -2.5 4 -5.5 0.5 -1.5 -0.5 -1 -3.5 -3 -1 -5 1 -3.5 4 -3.5 -0.5 -4 1 -1 6 -5 3 -4.5 0.5 -6.5 2 -4 -0.5 -1.5 -3.5 -2.5 -1.5 -3 3 -9 4 -5.5 3.5 -0.5 5.5 2.5 1 0.5 1.5 -1 0.5 -8 1.5 -1.5 3.5 -0.5 62.5 0 4.5 0.5 2 1.5 0.5 1 0 7 -0.5 5 1 4 -2.5 1.5 -11 1.5 -26 2 -16 3 -6.5 4 -3 3 -2.5 6.5 -1 5.5 -1 2.5 -6 6.5 -0.5 4 1 8 -0.5 5.5 -0.5 5.5 0.5 2.5 2.5 5.5 -0.5 5 0.5 2.5 1.5 -1 1.5 -6.5 4 -7 1.5 -4 0.5 -5 3.5 -5.5 0.5 -1.5 -1.5 -2.5 0 -1.5 10 -10 5.5 -3 7.5 -1.5 7 0 -1 1.5 -2.5 2.5 -0.5 2.5 -1 1.5 -3 2 -7 2 -4 5.5 -2.5 5 -5 5.5 -0.5 5.5 0.5 8 -1.5 13 -0.5 9.5 1 9.5 -2 10.5 0 9.5 -0.5 9.5 -2 4 -2.5 1.5 -3 0.5 -4 -2 -0.5 1 0 5.5 1.5 2.5 9.5 5.5 8.5 6.5 1.5 1.5 0.5 1.5 0 1 -2 2 -3 1 -14.5 -1 -4 0.5 -2.5 1.5 -1 3 1 21 1 5.5 1.5 3 1.5 1 1 -0.5 3 -3.5 2.5 -1 18 3.5 3.5 1.5 1.5 1.5 -2 1 -12.5 4 -10 6 -2.5 2.5 -1.5 2.5 1 1 3 1.5 11 1.5 10.5 0 3 -1.5 -7.5 -5.5 -2.5 -2.5 1 -1.5 2 -1 9 -2 9.5 -1.5 21.5 3 10.5 0 2 -1 1.5 -2.5 6 -4 1 -1.5 -0.5 -1.5 -2 -1 -11 -2.5 -5 -0.5 -10.5 1.5 -5.5 0.5 -8 -1.5 -3.5 -1.5 -1 -1.5 1 -1.5 1 -0.5 2.5 -1.5 4 -1 9.5 0 12 1.5 3.5 -0.5 2 -0.5 0 -1.5 -5 -2.5 -1 -1.5 1.5 -1 4 -2 16 -2 5.5 -1.5 0.5 -1.5 -2 -1 -3.5 -1.5 -27.5 -6.5 -1.5 -1.5 1 -1.5 1 -0.5 4 -1 6.5 -0.5 26.5 3.5 6.5 0 4.5 -4 4 -1.5 15.5 -1.5 7 -2 6.5 -4.5 6 -2.5 1.5 -1.5 -1 -4 0.5 -1 2.5 -1 51.5 -4.5 4 -2 14.5 -9 5 -2.5 9.5 -2.5 8 -1.5 8 -1 5.5 0 5.5 1 6 3 4.5 0 4 -0.5 1.5 -1 2.5 -2.5 2 -1.5 8.5 -3 5.5 -0.5 12 2 8 -1 4 -1.5 4 -3.5 5.5 -3.5 -1.5 -4 0.5 -1 1.5 -3 3 -2.5 1 -1.5 -2 -2.5 -6.5 -5.5 -1 -1 0 -3 0.5 -2.5 4.5 -6.5 0.5 -4 -4.5 -11 -4.5 -4 -1.5 -1 0 -1.5 3 -6.5 3.5 -4 0.5 -3 -2 -5 -1.5 -5.5 -3 -5.5 0.5 -4 0 -1 -4.5 -4 -0.5 -1.5 0 -4 -0.5 -1.5 -2 -1.5 -4 -0.5 -1.5 1 -1.5 1 -1.5 4 -0.5 1 -3 1 -4 0.5 -10.5 -0.5 -17 -3.5 -6.5 -2.5 -12.5 -7 -4.5 -5 -1.5 -4 0 -1 9 -3 1 -1 -0.5 -1.5 -0.5 -1 -1.5 -0.5 1.5 0 20 -0.5 13 1.5 14.5 0 13.5 -2zM413 112.5l-5 5 -12.5 1 -5.5 1.5 -2.5 1.5 -3 4 -9 5 4.5 4 1.5 1.5 0 3 -2 4 0.5 1 4 4 0.5 7 3 4 2.5 5 3 3 5 2.5 1 1.5 -0.5 12 -1.5 2 -2.5 2 3 1 13.5 1.5 0.5 1.5 -1.5 4 -0.5 8 1 5 1.5 2 1 1 1.5 -0.5 1 -6.5 -1 -20 -1 -5 -0.5 -4 1.5 -3.5 1 -10 -0.5 -10.5 1 -9.5 -1.5 -7.5 -4 -1.5 -1 -2 0 -1 1 -1.5 4 -2 0 -12.5 0 -1 -1.5 0zM40 118.5l-2 1.5 -1.5 4 0.5 5.5 -1 6.5 0.5 4 -1 7 1.5 7 1.5 3 1.5 1.5 1 -3 1.5 -10 -1 -15 0 -8 -0.5 -2 -1 -2zM171.5 220l-1 0 2 1.5 4 0.5 4 0.5 3.5 -1 -1 -1.5 -5 -1 -4 0 -2.5 1zM271 182.5l-16 5 -12 0 -5 0.5 -3.5 1.5 -1 1.5 0.5 1 7.5 3.5 5.5 3.5 8 1 5.5 0 4 -0.5 2.5 -0.5 3.5 -3 2 0 18.5 1 17 -2.5 4 0 7.5 4.5 18 3.5 5.5 3 3.5 1 21.5 2 10.5 2.5 4 -0.5 5.5 -2.5 5.5 -5 2.5 -4 0 -1.5 -1 -1.5 -2 -1 -9 -2.5 -13.5 -2 -18.5 -6 -4 0 -7 2.5 -7 1 -14 1.5 -4 -0.5 -9 -3 -12 -1 -16 -2.5 -8 0zM330.5 162.5l-2 1.5 -0.5 3 -1.5 1 -9 2.5 -17.5 2.5 -1.5 2 0 2.5 0.5 1.5 2.5 2 5.5 2.5 9 0.5 30.5 -3.5 12 -4 3 -1.5 1 -1.5 0 -3.5 -1 -2 -1.5 -0.5 -2.5 0 -9.5 2.5 -4 0.5 -2 -1 -1 -1.5 0 -4 -1 -1 -4 -0.5 -5.5 0zM340 218.5l-0.5 0.5 0.5 1 2.5 0.5 3.5 -0.5 0.5 -1 -6.5 -0.5zM369.5 215l-6.5 1 -2.5 1.5 1.5 1.5 5 1 5 1 6.5 -0.5 5 -1.5 -0.5 -1.5 -4.5 -2 -4 -1 -5 0.5zM182.5 12l42 -0.5 13.5 0.5 7.5 1.5 -1 1 -3 0.5 -25 1 -32 -0.5 -8 -1 -2.5 -1 8.5 -1.5zM233 38.5l6 0 9 1.5 3 1.5 -5.5 1 -7.5 -0.5 -4 -0.5 -3 -1.5 2 -1.5zM118.5 53.5l5 0 5.5 0 -5.5 0 -5 0zM69.5 122.5l3.5 0 4 1 11 3 3 1.5 -3 1.5 -15 2.5 -4 0 -2.5 0 -2 -1.5 -1 -1 0 -1.5 1.5 -3 2.5 -1.5 2 -1zM146 164l3 -1 5 1 -5 1 -3 -1zM61 196l3 0 2.5 0.5 2 1 -0.5 1.5 -3 1 -4 0 -2 -1 0 -1.5 2 -1.5z"/><path fill="#87ff78" d="M363 6.5l10 0 33.5 3 4 1.5 4 2 2.5 2.5 1 2 1 14.5 -0.5 10.5 0.5 8 -1 8 1 39 -1.5 17 0.5 17.5 -1 9.5 -1.5 -11 0.5 -8 0 -8 -1.5 -11 -5.5 3.5 -18.5 7 -4 0.5 -4 -0.5 -4 -1.5 -2.5 -2 0 -2 4.5 -15 -1 -3 -3 -4 -2 -5 -3.5 -4 -1 -1.5 1.5 -5.5 3.5 -6.5 -2 -8 0 -9.5 -2 -4 -2 -2.5 -7.5 -5 -2 -4.5 -2 -2.5 -3 -1.5 -4 0 -12 2 -5 0 -9.5 -1 -8 2.5 -4 0 -4 -1 -6.5 -5 -8 -4 -1.5 -1.5 -1.5 -2.5 0.5 -2.5 5 -2.5 3 -2 8 1 9 -0.5 9.5 0.5 10.5 -1 10.5 1 16.5 -3.5zM372 30.5l0 0.5 0 -0.5zM414.5 58.5l-2.5 4 -1 3 0.5 1 3 2 0 -10zM43.5 12l64 0 4 1.5 0.5 8 -0.5 2.5 -2.5 1.5 -21.5 5 -14.5 2 -16 3 -10 8.5 -3 8 -1 6.5 -1.5 3 -4 4 -0.5 4 0.5 9 -0.5 8 0.5 8 -1 8 0 12 -2.5 9.5 0 16 -1 7 2 9 0.5 7 1 6.5 1 2.5 3 5.5 0 1.5 -1.5 6.5 -0.5 1.5 -4.5 4 -1 2.5 1 8 0 8 1 9.5 4.5 14.5 -0.5 4 -1.5 4 0.5 1.5 4.5 2.5 2.5 1 20 1.5 25.5 0 5 -0.5 7 1 39.5 2.5 49.5 -0.5 27.5 -1 15.5 1.5 1 1 -12.5 1.5 -9 0 -20 -1 -25.5 0 -17 -1.5 -12 0 -37 2 -3.5 2 -4.5 0.5 -50.5 -1.5 -21.5 -2.5 -0.5 2 0.5 0.5 11.5 2 1.5 1.5 -9 1 -6.5 -0.5 -2.5 -1 -2.5 -2 -0.5 -3 1 -6.5 -1.5 -16 1 -12 -1 -17.5 1.5 -8 -1 -6.5 0 -14.5 1 -8 -1 -7 1.5 -9 -0.5 -7 1 -12 5 -9.5 2 -8 -1.5 -6.5 -5 -8 2 -13.5 -1.5 -6.5 2 -6.5 2 -9.5 4.5 -8 1 -6.5 1.5 -4 -0.5 -2.5 -5 -1.5 -1 -1.5 -0.5 -1.5 3 -8 3.5 -5 1 -1 3 0.5 2 1.5 2 3 2.5 -1 1 -2 1 -9 3 -1.5zM189.5 12l35 0 9.5 0.5 6.5 1 -1.5 1 -5 1 -19 0.5 -29 -0.5 -7 -1 -2 -1 5 -1 7.5 -0.5zM71 57.5l4.5 -0.5 2.5 0.5 -3 2.5 0 2.5 -2 1.5 -5.5 2 -1 0.5 -6.5 7.5 -3 -1.5 -2.5 0.5 -1 -1 1.5 -2.5 8 -8 4.5 -3 3.5 -1zM58 74.5l0.5 -0.5 0.5 2 -1 2.5 -5 5.5 -0.5 -1.5 1 -2.5 4.5 -5.5zM51.5 89.5l0.5 -1 1 2 1 5.5 -2 24 0.5 9.5 -1.5 12 0 8 -0.5 7.5 -1.5 3.5 -1 1 -1.5 0 -1.5 -1.5 -1 -3 0.5 -13 -1 -13.5 0 -14.5 4 -18.5 4 -8zM339 144l14.5 0.5 5 1 3.5 1.5 5.5 2.5 1 1.5 1 2.5 -0.5 5.5 -15.5 6.5 -4 1.5 -1.5 -0.5 -0.5 -1 0.5 -4 -0.5 -1.5 -2 -1 -4 -0.5 -16 -0.5 -12 0.5 -6.5 1 -6 3.5 -14 -0.5 -14.5 1.5 -5.5 -0.5 -2 -2 0 -2.5 3.5 -4 6.5 -4 8 -2.5 6.5 -0.5 12 2.5 12 0.5 8 -1 6.5 -1.5 6.5 -3.5 4.5 -1zM417 144l0 -0.5 0.5 7.5 -0.5 9 1 16 -0.5 27 1 21 0 11 -1.5 2.5 -2.5 1.5 -14.5 6.5 -0.5 1.5 0.5 4 -0.5 1 -2.5 1.5 -8 1 -69 -1 -4 -1 0 -1.5 3 -2 4 -1 18.5 -1 7.5 -1.5 -1.5 -1.5 -9 -1 -39.5 -1.5 -26.5 -5 -5.5 0 -9.5 2.5 -12 0.5 -34.5 -0.5 -31.5 -3 -15 -3 -14 -2 -5 -1.5 -0.5 -1.5 2 -1 3 -1.5 6.5 -1 9.5 0.5 20 3.5 6.5 1 8 -0.5 2.5 -1 1 -1 -5 -7 -1.5 -1 -3.5 -2 -5.5 -1.5 -8 -1 -6.5 -0.5 -17.5 2 -6.5 0.5 -8 -2 -6 -2.5 -2 -1 0 -1.5 5.5 -1 22.5 0.5 20 -0.5 8.5 -1.5 10 -4 9.5 -1.5 2.5 1 4 2.5 4 1 21 0 7 1 3 1 0 1.5 -1.5 1.5 -1 1 0.5 0 23 0.5 23.5 5.5 17.5 1 6.5 2.5 18 5.5 6 5 4 2 6.5 1.5 9.5 0 10.5 -1 8 -2 2.5 -1.5 4 -4 4 -3.5 1.5 -2 0 -1.5 -2.5 -6.5 0.5 -2.5 4.5 -7 3 -3.5 2.5 -2 1.5 0 1 1.5 1 3 1.5 9 -0.5 3 -3.5 5 -0.5 3 1 1 1.5 1.5 7.5 2.5 1.5 -0.5 2 -23.5 -1 -28 1.5 -16 -1 -9 1 -7zM371.5 160l4.5 -1 2.5 0.5 2.5 1 11 10.5 1 1 0 3 -1.5 4 -2.5 2.5 -6.5 3 -6.5 1 -6.5 -1 -5 -3 -1 -1.5 3 -6 1 -6 4 -8zM190.5 181.5l3.5 -0.5 5 0 11.5 3 2.5 1.5 -4.5 1.5 -16 -0.5 -3 -1 -1 -1.5 0 -1 2 -1.5zM79 239l3.5 -0.5 3 0.5 -3 0.5 -3.5 -0.5z"/><path fill="#b7ff48" d="M365.5 8l7.5 0 9.5 3.5 17.5 1.5 6.5 1 4 1.5 3 2 1 1 1 3 1.5 1.5 1 3.5 0.5 7 -0.5 9 0 8 -0.5 9.5 0.5 37.5 -1 14 -2 -14 1 -13.5 -1 -9.5 1 -6.5 0.5 -8 -1 -3.5 -1 -1.5 -5.5 5.5 -2.5 2 -4 1 -3.5 -1 -1 -1 -1 -5 -4 -3 0 -1.5 3.5 -4 -3.5 0 -6.5 1.5 -2.5 -0.5 -1.5 -0.5 -2.5 -6 -6 -5 0 -1.5 2 -2.5 0.5 -3 -0.5 -1 -2.5 -1.5 -3 0 -5 2.5 -1.5 0 -6.5 -5.5 -3 -1.5 -4 -0.5 -14.5 2 -12 -1.5 -2.5 0.5 -5.5 3.5 -4 0.5 -4 -1.5 -5 -6 -5.5 -1.5 -2.5 -1.5 -1.5 -1.5 0 -1.5 0.5 -1 5 -2 6.5 2 2.5 0.5 16 -1.5 10.5 -2.5 5.5 0.5 8 2.5 6.5 0.5 3 -0.5 4.5 -3.5 3.5 -1.5zM413 38.5l-6 4 -1.5 1.5 -0.5 1.5 9.5 1.5 1 -3 0 -2.5 -1 -3.5 -1.5 0.5zM54.5 12l53 0 3 1.5 0.5 1 0 7 -1 2 -2.5 1 -15.5 1 -11 2 -8 0.5 -16 3.5 -1 1 -3.5 5 -5 4 -2.5 2.5 -2 6.5 -1 7 -1 2.5 -4.5 4 0 29.5 -0.5 2.5 -2 2.5 -0.5 3 0.5 14.5 -2.5 8 0.5 5.5 -0.5 6.5 0.5 4 -1.5 7 2 9 0 8 3.5 13.5 -2.5 9.5 -4 5 0 1.5 3 6.5 -0.5 8 1 9.5 3 12 0 4 -2 6.5 0.5 1.5 4 2.5 6.5 3 20 1.5 25.5 0.5 6.5 -0.5 2.5 0.5 3 1.5 3 0.5 -3 0 -4.5 4 -3.5 0 -50.5 -1 -21.5 -3 -1 1 0 1.5 1 1 9 1.5 -3.5 1.5 -5.5 0 -4 -1.5 -1 -1 -0.5 -1.5 1 -6.5 -3.5 -17.5 1.5 -12 -1 -17.5 1 -3 2 -3.5 0 -1.5 -2 -6.5 -0.5 -14.5 0.5 -3 2 -5 -2 -7 2.5 -9 -0.5 -7 1.5 -5 0 -5.5 2.5 -7 2.5 -12 -1 -8 -4 -8 0.5 -21 1.5 -8 1 -1.5 3 -1.5 -1 -4 3.5 -6.5 1.5 -6.5 3 -11 3 -5 5.5 -4 -0.5 -5.5 0 -5.5 0.5 -1 3 -1 10.5 -0.5zM213 12l17 0.5 7.5 1 -1.5 1 -3.5 0.5 -18.5 1 -26.5 -0.5 -7 -1 -1.5 -1 9.5 -1.5 24.5 0zM29 22.5l1.5 -0.5 1.5 0.5 0.5 1.5 -1 5.5 -5.5 6.5 -1 0.5 -1 0 -0.5 -2 1.5 -5 4 -7zM66.5 60l1 -0.5 1.5 0.5 -0.5 1.5 -2 2.5 -4 3.5 -5.5 2.5 -0.5 -0.5 3.5 -4 4 -4 2.5 -1.5zM398.5 72l8 -1 2.5 0.5 3 1 1.5 2 0 1.5 -3 6 -2.5 2.5 -4 2 -5.5 0.5 -4 0 -2.5 -1 -3 -1.5 -7.5 -8.5 0 -1.5 1 -1 1.5 -1 9 0 5.5 -0.5zM403.5 92l3 -0.5 2.5 1 2 2 0 3 -3 2 -5.5 1.5 -5.5 0 -1.5 -1 -1.5 -1.5 0.5 -1 1 -1.5 8 -4zM50.5 97.5l0.5 0 0.5 1 -1 21.5 0.5 9.5 -2.5 13.5 0.5 6.5 -0.5 5.5 -0.5 1.5 -1.5 -0.5 -0.5 -1 1 -11 -2 -13.5 0 -13 5.5 -20zM417 125.5l0.5 5 -0.5 4.5 -0.5 -4.5 0.5 -5zM327 153.5l7.5 -1 6 1 -7 0.5 -6.5 -0.5zM355 156l2.5 -0.5 2.5 0 1 0.5 0 1.5 -3 2.5 -3.5 1 -1 -1 0 -1 1.5 -3zM375.5 165.5l3 -0.5 4 1 3 2 2.5 3 0.5 2.5 -0.5 2.5 -3 4 -2.5 1.5 -4 1 -4 0 -3 -1 -2 -2 -0.5 -3.5 1.5 -6.5 2 -2.5 3 -1.5zM417 171l0 -1 0.5 6 -0.5 13.5 -0.5 -12 0.5 -6.5zM400.5 204l2 -0.5 1.5 1.5 1 3 0 3 -1.5 4 -2.5 2 -1 0 -3 -1 -1 -2 -0.5 -2 2.5 -5 2.5 -3zM417 211l0 -1 1 18 -1 6 -1 -2 0 -2.5 1 -18.5zM301.5 227l12 -0.5 8 1.5 13 7 3.5 2.5 -2 1.5 -1.5 0 -11.5 0.5 -11 -0.5 -10.5 -2 -4.5 -2 -1 -1.5 -1 -2.5 0 -1.5 1 -1.5 5.5 -1zM390.5 237.5l4 -0.5 3 0.5 -1 1.5 -4 1 -7.5 0 0.5 -1 5 -1.5zM363.5 247l11 -1 14.5 0.5 5 1.5 1.5 1.5 0 1.5 -2 1 -3 1 -17.5 0 -47.5 -0.5 -3 -0.5 -0.5 -1 3.5 -1 12 0 26 -3z"/><path fill="#e7ff18" d="M368 9.5l2.5 0 2.5 0.5 2.5 2 2 2.5 2.5 1.5 19 1.5 4 1 3 3 4.5 1.5 1.5 1 0.5 2.5 -0.5 4 -1 4 -4.5 4 -12 6 -5.5 1.5 -3 -0.5 -1 -1.5 -1 -5.5 -4 -3 -0.5 -5 -2 -2.5 -4.5 -2 -6.5 -1 -1.5 -1 -2.5 -3.5 -0.5 -3 0.5 -4 2.5 -3 3 -1zM330.5 12l5.5 -1 4.5 1 4 2.5 1.5 3 0 1 -1 1.5 -3.5 2 -5.5 1 -5.5 -0.5 -6.5 -4 -1 -1 1.5 -1.5 6 -4zM42 13.5l3 -1 20 -0.5 41.5 0.5 3 1 1 2.5 0 4 -1 2.5 -3 1.5 -61.5 1.5 -2.5 -1.5 -1 -1.5 -0.5 -1 0 -6.5 1 -1.5zM181 13.5l9 -1 22.5 -0.5 14.5 0.5 8.5 1 -1 1 -3.5 0.5 -17 0.5 -26.5 0 -5 -1 -1.5 -1zM310.5 17.5l3 -1 2.5 0 3 1 1.5 1 -3.5 5.5 -2 1.5 -3 0.5 -2 -0.5 -1.5 -1.5 -1 -2.5 1 -3 2 -1zM42 26.5l3 -1 3 0 1 1 3.5 3 1 2.5 -0.5 1.5 -1 2.5 -8 6.5 -2.5 8 -1.5 8.5 -1.5 2 -3.5 1.5 -1 1.5 1 1.5 0.5 2.5 0.5 9.5 -0.5 17 -2.5 2.5 -5 2.5 -5.5 -2.5 -1 -1.5 -1 -2 0.5 -11 0 -6.5 1 -9.5 0.5 -1 1.5 -1 6.5 -2 -2.5 -1 -1 -1.5 0 -2.5 3 -5.5 1 -6.5 3 -9.5 3.5 -5.5 4.5 -4zM416.5 26.5l0.5 0 0.5 5.5 -0.5 10.5 0.5 8 -0.5 5 -2.5 -3.5 0 -1.5 2.5 -6.5 0 -2.5 -1.5 -8 0 -4 1 -3zM28 28l0.5 0 -0.5 1.5 -0.5 0 0.5 -1.5zM410 49.5l3 0 1.5 1 -1 3 -5.5 5.5 -3 1.5 -2.5 -0.5 -0.5 -1.5 0 -1 2 -4.5 2.5 -2.5 3.5 -1zM63.5 62.5l1.5 -0.5 0.5 0.5 -3 3 -0.5 0 1.5 -3zM417 72l0 -1 0 8.5 -0.5 -5 0.5 -2.5zM401 74.5l4 -0.5 3 0.5 1 1.5 0 1.5 -1.5 2.5 -2.5 1.5 -4 1 -2.5 0 -1.5 -1 -1 -3 0.5 -1 1 -1.5 3.5 -1.5zM417 92l0 -1 0 10.5 -0.5 -4 0.5 -5.5zM28 109.5l1 0.5 2 6 -0.5 2 -1.5 2 -2.5 2 -1.5 -1.5 0 -3 3 -8zM25.5 129.5l1 -0.5 0 2 0 -0.5 -1 -1zM25 137.5l1.5 0 1 2.5 -1 3 -1.5 0.5 -1.5 -0.5 -0.5 -3 1 -2 1 -0.5zM23.5 149.5l1.5 -0.5 1.5 1.5 2 3 0.5 4 -1.5 5.5 2.5 5 2 8 0 3 -3 8 -2.5 2 -2.5 1 -2.5 -1.5 -2 -1.5 -2 -13.5 1 -5 4 -5.5 0 -1.5 -3 -4 0 -2.5 2 -3.5 2 -2zM375.5 168l4.5 0 2.5 1 2 2 1 1 -0.5 3 -1.5 2.5 -2.5 2 -2.5 0.5 -2.5 0 -2.5 -1 -1 -1.5 -0.5 -2.5 0 -3 1.5 -2.5 2 -1.5zM22 196l2 -0.5 2.5 1 3 3.5 0.5 3 -1 5 1 9.5 3 7 1 3.5 0 4 -7 15 0 2.5 -0.5 1 -3 -1 0 -2.5 -6 -12 -1.5 -4 0 -4 3 -9.5 -1 -5.5 0.5 -5 -1.5 -4 0 -3 1.5 -2 3.5 -2zM400 209.5l1 -0.5 1 2 -1 1.5 -1 0.5 -1 -1 1 -2.5zM31.5 243l1.5 -0.5 11 4.5 2.5 0.5 20 1.5 24 1 5 -1 3 0.5 2 1.5 -2 2.5 -3 1.5 -53 -1.5 -13 -2.5 -1 -1.5 0 -1.5 0.5 -0.5 1 -3.5 1.5 -1zM359.5 249.5l13.5 -1 16.5 1 -0.5 1.5 -1 0 -18.5 0.5 -12 -0.5 2 -1.5zM24.5 256l0.5 0 1 0 -1 0 -0.5 0z"/><path fill="#ffe700" d="M334 12l4.5 0.5 3.5 2 1 3 -2 2.5 -2.5 1.5 -4 0 -4 -1 -2 -2 0 -2.5 0.5 -1.5 1.5 -1.5 3.5 -1zM367 12l2.5 -0.5 1 0 2.5 2 1.5 4 -1 2.5 -3 0.5 -2.5 -1 -1.5 -1 -1 -2.5 0 -1.5 1.5 -2.5zM43 13.5l22 -1 41.5 0 2 1 1 1 0.5 5.5 -1 2.5 -2.5 1 -61.5 0.5 -2.5 -1 -1 -1.5 0.5 -7 1 -1zM182.5 13.5l9 -1 21 -0.5 13.5 0.5 7.5 1 -1 1 -2.5 0.5 -17.5 0.5 -24 -0.5 -5 -0.5 -1 -1zM312 21.5l1.5 -0.5 0.5 0.5 0 1 -2 0.5 -0.5 -0.5 0.5 -1zM380.5 21.5l6 0 4 1 1 1.5 1 4 0.5 0 9.5 -2.5 5.5 0 1.5 1 0.5 1.5 -0.5 2.5 -2 4 -6.5 5 -6.5 3.5 -5.5 1 -2 -1.5 0 -1 3 -11 -1 -0.5 -2.5 0 -2.5 -1.5 -5.5 -4.5 -1 -1.5 3 -1zM42.5 28l4 -0.5 2.5 1 2.5 2 0 3 -1.5 2.5 -6 5 -1.5 1.5 -3 8 -0.5 7 -1.5 2.5 -3 1.5 -2.5 0 -2.5 -1.5 -1 -2.5 3.5 -7 1 -5 2.5 -8 4 -7 3 -2.5zM417 32l0 -1.5 0 4.5 0 -1.5 0 -1.5zM417 49.5l0 -0.5 0 2 0 -0.5 0 -1zM407 53.5l2 -1 1.5 0 0.5 1 -2 2 -2.5 1.5 -0.5 -1 1 -2.5zM23.5 65.5l3 -1 5.5 0 1 0.5 1.5 1.5 1 11 -0.5 16 -0.5 1.5 -2.5 1.5 -4 0.5 -4 -0.5 -1.5 -1 -1 -2 0.5 -19 0.5 -8 1 -1zM23 171l1 -0.5 1 0 1.5 1.5 1 3 -0.5 2.5 -2 1.5 -1.5 0 -1.5 -3 0 -2.5 1 -2.5zM376.5 171l2 -1 1.5 0.5 2 1.5 -0.5 3 -1 1 -2 1 -2.5 -1 -1 -2.5 0 -1.5 1.5 -1zM22.5 221.5l1.5 -1 2.5 0.5 2.5 2 2.5 4 0 2.5 -1 2.5 -1.5 2 -2.5 2 -1.5 0 -2.5 -0.5 -2.5 -2 -1.5 -2.5 0.5 -4 1 -3 2.5 -2.5zM31.5 244l1.5 -0.5 1.5 0 9.5 4 8 1 14.5 1.5 22.5 0.5 6.5 -1 3.5 1.5 0 1 -1.5 1.5 -2 0.5 -51.5 -0.5 -12 -2.5 -1.5 -1.5 -0.5 -1.5 1.5 -4z"/><path fill="#ffb700" d="M44.5 13.5l20.5 -0.5 41.5 0 1.5 0.5 1 1 0.5 5.5 -0.5 1.5 -1.5 1 -2.5 0.5 -60 0.5 -2.5 -1.5 -0.5 -2 0.5 -5.5 2 -1zM184 13.5l8.5 -1 20 0 12 0 7.5 1 -1 1 -2.5 0.5 -16 0.5 -24 -0.5 -3.5 -0.5 -1 -1zM333 13.5l4.5 -0.5 2.5 1.5 1 1.5 0 1.5 -1 1 -1.5 1.5 -2.5 0.5 -4 -1 -1.5 -2 0 -1.5 0.5 -1.5 2 -1zM401.5 28l3.5 -1 2.5 1 0 2.5 -2 4 -4.5 3.5 -5 3 -4 1.5 -1.5 0 -1.5 -1 0 -1.5 1 -2.5 3 -4 4 -3.5 4.5 -2zM43 29.5l2 -1 3 0.5 1.5 1.5 0.5 3 -1 1.5 -6.5 5 -2.5 2.5 -3 8 0.5 5.5 -0.5 2.5 -2.5 2 -2.5 -0.5 -1.5 -1.5 0 -1 4.5 -7 0.5 -5 1.5 -7 3.5 -6.5 2.5 -2.5zM25.5 65.5l6.5 0 2 1 0.5 1.5 0 9.5 0 16 -1 1 -1.5 1.5 -7 0 -2 -1.5 -1 -1 0.5 -17.5 0.5 -8 1 -2 1.5 -0.5zM24 228l1 -0.5 1.5 0.5 0 1.5 -1.5 0.5 -1 0 0 -2zM33 244l1.5 0 8 3.5 4 1 35 3.5 -16.5 1 -22.5 0 -10.5 -3 -1 -2 0.5 -2.5 1.5 -1.5zM92 251l2.5 -1 3.5 1 0 1 -1 1 -2.5 0.5 -3 -1.5 0.5 -1z"/><path fill="#ff7800" d="M52.5 13.5l54 -0.5 2 1.5 0.5 5.5 -1.5 2 -2.5 0.5 -58.5 0.5 -2.5 -0.5 -1.5 -1 0 -5.5 0.5 -1.5 2 -1 7.5 0zM185 13.5l9 -1 17 0 12 0 8 1 -1 1 -1.5 0.5 -16 0.5 -22.5 -0.5 -3.5 -0.5 -1.5 -1zM333 14.5l1.5 -0.5 3 0.5 1.5 1.5 0 1.5 -1.5 1.5 -4 -0.5 -1 -1 -0.5 -1.5 1 -1.5zM402 29.5l3 0 1 1 -2 4 -3 3 -5 2.5 -3 1 -1 -0.5 -1 -0.5 0.5 -2.5 3 -4 4 -2.5 3.5 -1.5zM44 30.5l1 -0.5 2.5 0.5 1 1.5 0 1.5 -2 1.5 -4 1.5 -0.5 -0.5 0 -1.5 2 -4zM34 57.5l0.5 0 -0.5 0zM24.5 66.5l2 -0.5 4 0 2 0.5 1 1.5 0.5 9.5 -0.5 16 -1.5 1.5 -7 0.5 -1 -1 -1 -1 0 -17.5 1.5 -9.5zM32 245.5l1 -1 1.5 0 9.5 4.5 3.5 0.5 3 1.5 -2.5 1 -4 0.5 -11 -2 -1 -1 -0.5 -1.5 0.5 -2.5zM94 251l2 0 0 1 -2 0 0 -1z"/><path fill="#ff4800" d="M186.5 13.5l9 -1 15.5 0 18.5 1 -1 1 -1.5 0.5 -16 0.5 -21 -0.5 -2.5 -0.5 -1 -1zM44 14.5l4 -0.5 17 -0.5 40 0 1.5 0 1.5 1 0.5 5.5 -1 1.5 -2.5 0.5 -60 0.5 -1.5 -1 -0.5 -1.5 0 -4 1 -1.5zM335 16l1 0 0.5 0 -0.5 0.5 -1 -0.5zM398.5 32l4 -1 1 1 -1 2.5 -3.5 3 -3 1.5 -3 -0.5 1 -2.5 4.5 -4zM26.5 66.5l3.5 0 2 1.5 1 9.5 -0.5 8 0 8 -2 1 -4.5 0 -2 -1 0 -17.5 1 -8 1.5 -1.5zM33 245.5l1.5 -0.5 2 0.5 4.5 2.5 2 1.5 0.5 1.5 -5 0 -5.5 -1 -1 -2 1 -2.5z"/><path fill="#ff1800" d="M187.5 13.5l8 -0.5 15.5 -0.5 17 1 -1 1 -16 0.5 -19.5 0 -2.5 -0.5 -1.5 -1zM45.5 14.5l19.5 -0.5 40 0 2 0.5 0.5 1.5 0.5 4 -1.5 1.5 -1.5 0 -60 0.5 -1 -1 -0.5 -2.5 0.5 -2.5 1.5 -1.5zM399 33.5l2 0 -0.5 1 -1.5 1.5 -2 1 -1 -1 1 -1.5 2 -1zM26.5 72l1.5 -1 1 0 1.5 1.5 1 3.5 0 2.5 -1 7 0.5 8 -0.5 0 -2.5 0.5 -3 -0.5 1 -9.5 -1 -8 1.5 -4zM34 245.5l3.5 1.5 1.5 1 0 1.5 -3 0.5 -3 -1 -0.5 -1 0.5 -1 1 -1.5z"/><path fill="#e70000" d="M189 13.5l22 -1 16 1 -1.5 1 -14.5 0.5 -19.5 -0.5 -1 0 -1.5 -1zM60.5 14.5l30 0.5 14.5 0 1.5 0 0 1 0.5 4 -0.5 1 -1.5 0 -52 0.5 -7 0 -1.5 -1.5 0.5 -4 15.5 -1.5zM34 247l0.5 -0.5 1 0.5 0.5 1 -1.5 0.5 -1 -0.5 0.5 -1z"/><path fill="#b70000" d="M190.5 13.5l20.5 -0.5 14.5 0.5 -1.5 1 -13 0.5 -19 -0.5 -1.5 -1zM58.5 16l14.5 0 20 1 12 -0.5 1.5 2 -0.5 1.5 -1 0 -48 1 -6.5 -0.5 -4 -0.5 0.5 -1.5 2 -1 9.5 -1.5z"/><path fill="#870000" d="M192 13.5l19 -0.5 13 0.5 -1.5 1 -11.5 0.5 -17.5 -0.5 -1.5 -1zM58.5 18.5l10.5 -0.5 8.5 0.5 -5.5 1.5 -9.5 0 -3 0 -1 -1.5z"/><path fill="#870000" d="M193.5 13.5l16.5 -0.5 12.5 0.5 -2 1 -9.5 0.5 -15 -0.5 -2.5 -1z"/><path fill="#ffffff" d="M195.5 13.5l14.5 -0.5 10.5 0.5 -3 1 -6.5 0.5 -12 -0.5 -3.5 -1z"/><path fill="#ffffff" d="M198.5 13.5l11.5 -0.5 7.5 0.5 -3.5 0.5 -4 0.5 -7 -0.5 -4.5 -0.5z"/></g>
<text x="215" y="1165.7" text-anchor="middle">0</text>
<text x="288.333" y="1165.7" text-anchor="middle">10</text>
<text x="361.667" y="1165.7" text-anchor="middle">20</text>
<text x="435" y="1165.7" text-anchor="middle">30</text>
<text x="508.333" y="1165.7" text-anchor="middle">40</text>
<text x="581.667" y="1165.7" text-anchor="middle">50</text>
<text x="655" y="1165.7" text-anchor="middle">60</text>
<text x="208.7" y="1110.86" text-anchor="end">20</text>
<text x="208.7" y="1043.99" text-anchor="end">30</text>
<text x="208.7" y="977.112" text-anchor="end">40</text>
<text x="208.7" y="910.237" text-anchor="end">50</text>
<text x="434.3" y="1198" text-anchor="middle">LONGITUDE (E)</text>
<text transform="translate(169.7,1001.75) rotate(-90)" text-anchor="middle">LATITUDE (N)</text>
<text x="433.5" y="846.6" text-anchor="middle">expt_02.6 - Thickness anomaly layer 5 - ANNUAL MEAN - REF y51-y100</text>
<g shape-rendering="crispEdges">
<rect x="687.5" y="1132.30" width="42.4" height="4.80" fill="#000087"/>
<rect x="687.5" y="1128.09" width="42.4" height="4.80" fill="#000097"/>
<rect x="687.5" y="1123.89" width="42.4" height="4.80" fill="#0000a7"/>
<rect x="687.5" y="1119.69" width="42.4" height="4.80" fill="#0000b7"/>
<rect x="687.5" y="1115.48" width="42.4" height="4.80" fill="#0000c7"/>
<rect x="687.5" y="1111.28" width="42.4" height="4.80" fill="#0000d7"/>
<rect x="687.5" y="1107.08" width="42.4" height="4.80" fill="#0000e7"/>
<rect x="687.5" y="1102.88" width="42.4" height="4.80" fill="#0000f7"/>
<rect x="687.5" y="1098.67" width="42.4" height="4.80" fill="#0008ff"/>
<rect x="687.5" y="1094.47" width="42.4" height="4.80" fill="#0018ff"/>
<rect x="687.5" y="1090.27" width="42.4" height="4.80" fill="#0028ff"/>
<rect x="687.5" y="1086.06" width="42.4" height="4.80" fill="#0038ff"/>
<rect x="687.5" y="1081.86" width="42.4" height="4.80" fill="#0048ff"/>
<rect x="687.5" y="1077.66" width="42.4" height="4.80" fill="#0058ff"/>
<rect x="687.5" y="1073.45" width="42.4" height="4.80" fill="#0068ff"/>
<rect x="687.5" y="1069.25" width="42.4" height="4.80" fill="#0078ff"/>
<rect x="687.5" y="1065.05" width="42.4" height="4.80" fill="#0087ff"/>
<rect x="687.5" y="1060.84" width="42.4" height="4.80" fill="#0097ff"/>
<rect x="687.5" y="1056.64" width="42.4" height="4.80" fill="#00a7ff"/>
<rect x="687.5" y="1052.44" width="42.4" height="4.80" fill="#00b7ff"/>
<rect x="687.5" y="1048.23" width="42.4" height="4.80" fill="#00c7ff"/>
<rect x="687.5" y="1044.03" width="42.4" height="4.80" fill="#00d7ff"/>
<rect x="687.5" y="1039.83" width="42.4" height="4.80" fill="#00e7ff"/>
<rect x="687.5" y="1035.62" width="42.4" height="4.80" fill="#00f7ff"/>
<rect x="687.5" y="1031.42" width="42.4" height="4.80" fill="#08fff7"/>
<rect x="687.5" y="1027.22" width="42.4" height="4.80" fill="#18ffe7"/>
<rect x="687.5" y="1023.02" width="42.4" height="4.80" fill="#28ffd7"/>
<rect x="687.5" y="1018.81" width="42.4" height="4.80" fill="#38ffc7"/>
<rect x="687.5" y="1014.61" width="42.4" height="4.80" fill="#48ffb7"/>
<rect x="687.5" y="1010.41" width="42.4" height="4.80" fill="#58ffa7"/>
<rect x="687.5" y="1006.20" width="42.4" height="4.80" fill="#68ff97"/>
<rect x="687.5" y="1002.00" width="42.4" height="4.80" fill="#78ff87"/>
<rect x="687.5" y="997.80" width="42.4" height="4.80" fill="#87ff78"/>
<rect x="687.5" y="993.59" width="42.4" height="4.80" fill="#97ff68"/>
<rect x="687.5" y="989.39" width="42.4" height="4.80" fill="#a7ff58"/>
<rect x="687.5" y="985.19" width="42.4" height="4.80" fill="#b7ff48"/>
<rect x="687.5" y="980.98" width="42.4" height="4.80" fill="#c7ff38"/>
<rect x="687.5" y="976.78" width="42.4" height="4.80" fill="#d7ff28"/>
<rect x="687.5" y="972.58" width="42.4" height="4.80" fill="#e7ff18"/>
<rect x="687.5" y="968.38" width="42.4" height="4.80" fill="#f7ff08"/>
<rect x="687.5" y="964.17" width="42.4" height="4.80" fill="#fff700"/>
<rect x="687.5" y="959.97" width="42.4" height="4.80" fill="#ffe700"/>
<rect x="687.5" y="955.77" width="42.4" height="4.80" fill="#ffd700"/>
<rect x="687.5" y="951.56" width="42.4" height="4.80" fill="#ffc700"/>
<rect x="687.5" y="947.36" width="42.4" height="4.80" fill="#ffb700"/>
<rect x="687.5" y="943.16" width="42.4" height="4.80" fill="#ffa700"/>
<rect x="687.5" y="938.95" width="42.4" height="4.80" fill="#ff9700"/>
<rect x="687.5" y="934.75" width="42.4" height="4.80" fill="#ff8700"/>
<rect x="687.5" y="930.55" width="42.4" height="4.80" fill="#ff7800"/>
<rect x="687.5" y="926.34" width="42.4" height="4.80" fill="#ff6800"/>
<rect x="687.5" y="922.14" width="42.4" height="4.80" fill="#ff5800"/>
<rect x="687.5" y="917.94" width="42.4" height="4.80" fill="#ff4800"/>
<rect x="687.5" y="913.73" width="42.4" height="4.80" fill="#ff3800"/>
<rect x="687.5" y="909.53" width="42.4" height="4.80" fill="#ff2800"/>
<rect x="687.5" y="905.33" width="42.4" height="4.80" fill="#ff1800"/>
<rect x="687.5" y="901.12" width="42.4" height="4.80" fill="#ff0800"/>
<rect x="687.5" y="896.92" width="42.4" height="4.80" fill="#f70000"/>
<rect x="687.5" y="892.72" width="42.4" height="4.80" fill="#e70000"/>
<rect x="687.5" y="888.52" width="42.4" height="4.80" fill="#d70000"/>
<rect x="687.5" y="884.31" width="42.4" height="4.80" fill="#c70000"/>
<rect x="687.5" y="880.11" width="42.4" height="4.80" fill="#b70000"/>
<rect x="687.5" y="875.91" width="42.4" height="4.80" fill="#a70000"/>
<rect x="687.5" y="871.70" width="42.4" height="4.80" fill="#970000"/>
<rect x="687.5" y="867.50" width="42.4" height="4.80" fill="#870000"/>
<rect x="687.5" y="867.5" width="42.4" height="269" fill="none" stroke="#000" stroke-width="1"/>
<line x1="687.5" y1="922.5" x2="691.5" y2="922.5" stroke="#000"/>
<line x1="725.9" y1="922.5" x2="729.9" y2="922.5" stroke="#000"/>
<line x1="687.5" y1="1027.5" x2="691.5" y2="1027.5" stroke="#000"/>
<line x1="725.9" y1="1027.5" x2="729.9" y2="1027.5" stroke="#000"/>
<line x1="687.5" y1="1132.5" x2="691.5" y2="1132.5" stroke="#000"/>
<line x1="725.9" y1="1132.5" x2="729.9" y2="1132.5" stroke="#000"/>
</g>
<text x="735.1" y="932.546">100</text>
<text x="735.1" y="1037.62">0</text>
<text x="735.1" y="1142.7">-100</text>
<g shape-rendering="crispEdges">
<path d="M941.5 866V1134.5H1381.5" fill="none" stroke="#000" stroke-width="1"/>
<line x1="941.5" y1="1134.5" x2="941.5" y2="1129.5" stroke="#000"/>
<line x1="1014.83" y1="1134.5" x2="1014.83" y2="1129.5" stroke="#000"/>
<line x1="1088.17" y1="1134.5" x2="1088.17" y2="1129.5" stroke="#000"/>
<line x1="1161.5" y1="1134.5" x2="1161.5" y2="1129.5" stroke="#000"/>
<line x1="1234.83" y1="1134.5" x2="1234.83" y2="1129.5" stroke="#000"/>
<line x1="1308.17" y1="1134.5" x2="1308.17" y2="1129.5" stroke="#000"/>
<line x1="1381.5" y1="1134.5" x2="1381.5" y2="1129.5" stroke="#000"/>
</g>
<g transform="translate(942.5,867)" clip-path="url(#cp4)" stroke="#000" stroke-width="1" fill-rule="evenodd" shape-rendering="crispEdges"><rect x="0" y="0" width="438" height="265.5" fill="#000087"/><path fill="#ffffff" d="M0 0l438 0 0 265.5 -438 0 0 -265.5zM227.5 13.5l-0.5 0 11 0 -3.5 0 -7 0z"/><path fill="#ffffff" d="M0 0l438 0 0 265.5 -438 0 0 -265.5zM217 13.5l-0.5 0 25 0 -7 -0.5 -17.5 0.5z"/><path fill="#000087" d="M0 0l438 0 0 265.5 -438 0 0 -265.5zM214.5 13.5l-1 0 30.5 0 -9.5 -0.5 -20 0.5z"/><path fill="#000087" d="M0 0l438 0 0 265.5 -438 0 0 -265.5zM211.5 13.5l23 0 11 0 -11 -1 -23 1z"/><path fill="#0000c7" d="M0 0l438 0 0 265.5 -438 0 0 -265.5zM210.5 13l-1 0.5 26 0.5 12 -0.5 -13 -1 -17.5 0 -6.5 0.5z"/><path fill="#0000f7" d="M0 0l438 0 0 265.5 -438 0 0 -265.5zM61 13.5l-4.5 1 13 0 -2.5 -1 -6 0zM209 13l-1 0.5 27.5 0.5 13.5 -0.5 -13.5 -1.5 -18.5 0.5 -8 0.5z"/><path fill="#0028ff" d="M0 0l438 0 0 265.5 -438 0 0 -265.5zM53.5 13.5l-2 1 12.5 0.5 9 -0.5 -1 -1 -18.5 0zM207.5 13l-0.5 0.5 28.5 0.5 14.5 -0.5 -6.5 -1 -8 -0.5 -20 0 -8 1z"/><path fill="#0058ff" d="M0 0l438 0 0 265.5 -438 0 0 -265.5zM25.5 76l-0.5 2.5 0.5 1 1 0.5 1.5 -2.5 -0.5 -1.5 -1 -1.5 -1 1.5zM52 13l-1.5 0.5 -0.5 1 14 1 11.5 -1 -0.5 -1 -3 -0.5 -20 0zM215.5 12l-6.5 0.5 -3.5 1 10 0.5 21.5 0 14.5 -0.5 -8.5 -1.5 -27.5 0z"/><path fill="#0087ff" d="M0 0l438 0 0 265.5 -438 0 0 -265.5zM26.5 72.5l-1 1.5 -1.5 3.5 0.5 2.5 1 1.5 1 0 1.5 -1.5 0.5 -2.5 -0.5 -3.5 -1.5 -1.5zM49.5 13.5l-1 1 5 1 13 0 11.5 -1 -0.5 -1 -7 -0.5 -16 0 -5 0.5zM211.5 12l-7 1.5 10 0.5 22.5 0.5 16 -1 -9.5 -1.5 -32 0zM317 26.5l1 1.5 1 -1.5 -1 -0.5 -1 0.5zM339.5 17l-0.5 0.5 0.5 0.5 1.5 0 0.5 -0.5 -0.5 -1 -1.5 0.5zM399.5 37.5l-2 1 -1 2 1.5 0 1.5 -0.5 2 -2.5 -1 -0.5 -1 0.5z"/><path fill="#00c7ff" d="M0 0l438 0 0 265.5 -438 0 0 -265.5zM26.5 68l-3 9.5 0.5 4 1.5 2 1 -0.5 1.5 -1.5 1.5 -4 -1.5 -7.5 -1.5 -2zM44 252zM46.5 253l-1 0.5 4 0 -1.5 -0.5 -1.5 0zM49.5 13l-1.5 0.5 -0.5 1 4.5 1 10.5 0.5 16 -1 1.5 -0.5 0 -1 -13.5 -1 -17 0.5zM209 12l-6 1.5 11.5 0.5 22.5 0.5 10.5 -0.5 7 -0.5 -5.5 -1.5 -5.5 -0.5 -34.5 0.5zM317 25l-1.5 0.5 -0.5 1 0.5 2 2.5 1 3 -1.5 0 -1.5 -0.5 -1 -2.5 -1 -1 0.5zM338 16l-0.5 1.5 0.5 1.5 3 0.5 1.5 -1 0.5 -1 -1 -1.5 -2.5 -0.5 -1.5 0.5zM399.5 35.5l-3 2.5 -1.5 2 -0.5 1.5 0.5 1 1.5 0 3 -1.5 3 -2.5 1.5 -2.5 -0.5 -1.5 -4 1z"/><path fill="#00f7ff" d="M0 0l438 0 0 265.5 -438 0 0 -265.5zM26.5 60.5l-1.5 2 -0.5 8 -1.5 7 0 2.5 1.5 5.5 0 4 1 0.5 1 -1 0.5 -3.5 2.5 -5.5 0.5 -2.5 -1.5 -15 -0.5 -1 -1.5 -1zM36 250.5l0 1 2 0.5 10 3 5 0 0.5 -1.5 -7 -2 -10.5 -1zM48 13l-1 0.5 -0.5 1 4 1 12 0.5 16 -1 3.5 -0.5 0.5 -1 -16 -1.5 -13 0.5 -5.5 0.5zM206.5 12l-4.5 1.5 11 1 25.5 0 10.5 -0.5 7.5 -0.5 -5 -1.5 -8 -0.5 -37 0.5zM317 23.5l-3 2 -0.5 1 0.5 2 3 2 2.5 0 2 -1 1 -1.5 0 -1.5 -0.5 -1 -2.5 -2 -2.5 0zM339.5 14.5l-2.5 1.5 -0.5 2.5 1.5 1.5 1.5 0.5 2.5 -0.5 2 -1.5 0 -1 -0.5 -1.5 -1.5 -1.5 -2.5 0zM402 33.5l-3.5 1 -3 3 -2.5 4 -0.5 1 1 1.5 2 0 3 -1.5 6 -5 1.5 -3 -1 -1 -3 0z"/><path fill="#28ffd7" d="M0 0l438 0 0 265.5 -438 0 0 -265.5zM17.5 101l-0.5 3 0.5 2 1 -2 -1 -3zM18.5 48.5l-0.5 5 0.5 7.5 0.5 -7.5 -0.5 -5zM26.5 58.5l-1 1 -1.5 3 -1 9.5 -1 5.5 0 2.5 1.5 5.5 -0.5 4 1 2 1.5 0.5 1 -0.5 1.5 -2 0.5 -5.5 2.5 -6.5 -1.5 -15 -1.5 -3.5 -1.5 -0.5zM36 249.5l-1 1.5 0.5 1 9.5 3 5.5 0.5 6.5 -0.5 0 -1.5 -2.5 -0.5 -8 -2 -10.5 -1.5zM64 12l-14.5 0.5 -3.5 1 -0.5 1 5 1.5 18.5 0 15.5 -1.5 1 -1 -8.5 -1 -13 -0.5zM203.5 12l-2.5 1.5 12 1 25.5 0 12 0 7.5 -1 -4 -1.5 -9 -0.5 -29.5 0 -12 0.5zM318 22.5l-4 1.5 -1.5 2.5 1 3 1.5 1 2 1 2.5 0 1.5 -1 2 -1 1 -3 -0.5 -1 -1.5 -1.5 -4 -1.5zM337 14.5l-1.5 1.5 0 2.5 1 1.5 1.5 1 1.5 0.5 2.5 0 2 -1.5 1 -1.5 0 -2.5 -1.5 -1.5 -4 -1 -2.5 1zM402 32l-4 1 -5.5 3 -1 1.5 0 7 1 1 4 -1 4 -2.5 5 -4.5 2 -3 0.5 -1 -0.5 -1 -1.5 -1 -4 0.5zM18.5 63.5l-1 14 1 5 0.5 -5 -0.5 -14z"/><path fill="#58ffa7" d="M0 0l438 0 0 265.5 -438 0 0 -265.5zM20 42l-2 4.5 -1 5.5 0 34.5 -0.5 17.5 1 3.5 1 -0.5 0.5 -1.5 -0.5 -8 1 -7 -0.5 -5 1 -6 1.5 1 0.5 3.5 0.5 6.5 1.5 2.5 1.5 0.5 1 -0.5 1.5 -2.5 1.5 -6.5 2 -6.5 0 -9.5 -1 -5.5 -1.5 -4 -1 -1.5 -1.5 -0.5 -1 0.5 -2 3 -2 16 -1.5 -0.5 -1 -29 1 -2.5 0 -2zM25.5 28l-0.5 1.5 0.5 0 0 -1.5zM36 249l-1.5 1.5 0 1.5 12 3.5 5.5 0.5 17 -1 -3 -1.5 -7.5 -0.5 -10.5 -2.5 -12 -1.5zM52 12l-7 1.5 -1 1 2.5 1.5 3 0 19.5 0.5 19 -2 1.5 -1 -15 -1.5 -22.5 0zM202.5 12l-1.5 0 -1.5 1.5 12 1 28 0 12 0 9 -1 -4 -1.5 -10 -0.5 -32 0 -12 0.5zM315.5 22l-2.5 2 -1.5 2.5 0.5 3 1 1 4 2 2.5 0 2.5 -1 2.5 -2 1 -3 -0.5 -1 -1.5 -2 -4 -2 -4 0.5zM338 13l-2.5 1.5 -1 1.5 0 2.5 0.5 1.5 3 2.5 3 0 2.5 -0.5 2 -2 0.5 -1.5 0 -2.5 -1 -1.5 -2.5 -1 -4.5 -0.5zM373 13l-1.5 0.5 -0.5 1 0.5 0.5 1.5 0.5 0.5 -1 -0.5 -1.5zM400.5 30.5l-10.5 4 -4 3.5 -1 2 3.5 1.5 1.5 4.5 1.5 0.5 1 0 7 -3 7.5 -6 2.5 -4 0.5 -1.5 -1.5 -1.5 -8 0zM403.5 18l0 2 1 0.5 1 -2 -1 -1 -1 0.5zM399.5 208l-1 1.5 0.5 1.5 1.5 0.5 1.5 -0.5 0.5 -1.5 -0.5 -2.5 -1.5 0 -1 1z"/><path fill="#87ff78" d="M0 0l438 0 0 265.5 -438 0 0 -265.5zM21.5 38l-4 8 -1 4.5 0 36 -0.5 17.5 0.5 2.5 1 2.5 1 -0.5 1 -2 0 -9 0.5 -4.5 1.5 -1.5 1 2 3 1 1 -0.5 1.5 -1 1 -2.5 1.5 -6.5 2 -6.5 0 -11 -2.5 -9 -2 -3 -2.5 -0.5 -1.5 1.5 -1.5 4.5 -1 5.5 -0.5 -1.5 -1 -17.5 1.5 -5 0 -3.5zM22.5 34.5l0 0.5 0 -0.5zM26.5 26l-1 1 -1.5 2.5 -0.5 2.5 0 1.5 0.5 0 3 -5.5 -0.5 -2zM36 248l-1.5 1.5 -0.5 1.5 0.5 2 13.5 3.5 4 0 30.5 -1.5 2.5 0.5 1 -0.5 -1 -1.5 -2.5 1 -1.5 0 -5 -1 -16 -1.5 -10.5 -2 -13.5 -2zM49.5 12l-6 1.5 -1 1 2.5 1.5 3 0.5 21 0 24.5 -2 8.5 -1 -27.5 -2 -25 0.5zM199.5 12l-1 0 0 1.5 16 1 34.5 0 14.5 -1 -3 -1.5 -13 -1 -36 0 -12 1zM315.5 21l-2.5 1.5 -1.5 1.5 -1 2.5 0.5 3 3 3 4 1 3 -0.5 4 -2.5 2 -2.5 0 -2.5 -0.5 -1.5 -3 -2 -4 -1.5 -4 0.5zM337 13l-3 1.5 -0.5 1.5 0 2.5 1 3 2.5 2 2.5 1 2.5 -0.5 3.5 -1.5 1 -1 1 -3 0 -2.5 -1 -1.5 -2 -1 -2.5 -1 -5 0.5zM370 13l-0.5 1.5 2 2 2.5 0 1.5 -2 -0.5 -1 -1 -0.5 -2.5 -0.5 -1.5 0.5zM404.5 16l-1 0 -1.5 1.5 -0.5 2.5 0.5 1.5 1.5 1 1 0.5 2.5 -1.5 0.5 -3 -1.5 -2 -1.5 -0.5zM408.5 28l-9 0.5 -12 4 -3 3 -4 7 0.5 1 1 0 4 0 1 0.5 1 2.5 1.5 1.5 3 -0.5 4 -1.5 7 -4.5 4.5 -4 3.5 -4 1.5 -3 0 -1 -1.5 -1.5 -3 0zM21.5 210.5l-1.5 1.5 -0.5 1.5 0.5 2.5 2.5 4 1.5 0.5 1.5 0 1 -1.5 1 -1.5 0 -2.5 -0.5 -1.5 -1.5 -2.5 -1.5 -1 -1.5 -0.5 -1 1zM25.5 154.5l-3 8.5 1 2.5 2 1 1 -0.5 1 -3 -0.5 -8 -0.5 -1 -1 0.5zM214.5 253.5l4 0.5 4 -0.5 -4 0 -4 0zM381 171.5l0 1 1 -0.5 -1 -0.5zM402 203l-2.5 0.5 -1.5 1.5 -2.5 4.5 0 2.5 2.5 2.5 2.5 0 3 -1 1 -1.5 1.5 -2.5 -0.5 -4 -1 -1.5 -2.5 -1z"/><path fill="#c7ff38" d="M0 0l438 0 0 265.5 -438 0 0 -265.5zM26.5 24.5l-2 2 -1 3 -1.5 5 -5.5 12 0 40 -1 19 0.5 2.5 1.5 2 2.5 -0.5 1.5 0.5 4 5.5 2.5 1.5 1.5 -1 2 -4 2 -2.5 1 -1.5 -0.5 -1.5 -0.5 -1.5 -1.5 -1 -5.5 -1.5 -2.5 0.5 -2.5 1.5 -1.5 -6 0 -2.5 1.5 -1.5 2.5 1.5 1.5 0 1 -0.5 2.5 -2 1 -3 1.5 -6.5 2.5 -8 -0.5 -8 -3 -14.5 -1 -1.5 -3 -0.5 -2.5 0 -1.5 1 -1 -0.5 -1 -4 0 -1.5 2.5 -10.5 5 -9.5 0 -1 -1.5 -1zM36 247.5l-1.5 1.5 -0.5 2 0 1 0.5 1.5 13.5 3.5 37 -0.5 2 -1.5 -0.5 -1.5 -1.5 -1 -4 0.5 -23.5 -2 -4 -1.5 -3 -2 -6.5 1 -8 -1zM48 11.5l-6.5 2 -1 1 2.5 1.5 3.5 1 22.5 0 35 -2 6 -1.5 0 -1.5 -3.5 0 -40 -1 -13 0 -5.5 0.5zM136 29.5l-16 1 8 1 22.5 0 26.5 -1 -6.5 -1 -34.5 0zM197 12l-1 0 1 1.5 16 1 36 0.5 20 -1.5 13 0.5 2.5 -0.5 -1 -1.5 -1.5 0 -10.5 0 -22.5 -1 -40 0 -12 1zM338 12l-4 1 -1.5 1.5 -1 3 0 5.5 -1.5 0.5 -5 -3 -4 -1 -4 0 -4 1.5 -2 1.5 -1.5 3 0 2.5 1 2.5 3.5 3.5 3 1 2.5 0 4 -1.5 8 -6.5 2.5 0 11.5 2.5 2.5 2.5 1 4 2 1.5 3 0.5 15 0.5 2 -1 -0.5 -5.5 0 -1.5 1 -1 2.5 -2 4 -0.5 2.5 1 1.5 1.5 0.5 1 0 3 -3 5 -8.5 9.5 3 0.5 9.5 -2.5 1.5 0.5 1 3 2.5 0.5 5.5 -1.5 6.5 -3.5 13.5 -10.5 2.5 -2.5 1.5 -2.5 -0.5 -3 -1 -1.5 -5 -3.5 -3.5 -5.5 -3.5 -1.5 -2.5 0.5 -4 3.5 -17 1.5 -16 4 -3 -0.5 -5 -2.5 -5.5 -1.5 -3 -5 -2.5 -1.5 -4 -1 -4 0zM370 12l-1.5 1.5 -0.5 1 1 2 2.5 2 2.5 0 1.5 -1 1 -1.5 0 -2.5 -2.5 -1.5 -4 0zM22.5 133l-1.5 2 2 5 1 8 -2 5.5 0 4 -1.5 6.5 3 5.5 1 4 1 1 1.5 -1 0 -4 2 -5.5 0.5 -13 -1.5 -7 -0.5 -9 -1 -2 -4 0zM125 253.5l-5.5 1.5 20.5 0.5 7.5 -0.5 0.5 -1.5 -9.5 -0.5 -13.5 0.5zM197 251l-8 0.5 -9.5 2 2.5 1.5 4.5 0 32 1 19 -1 1.5 -1.5 -15.5 -2.5 -26.5 0zM384.5 72l-3.5 2.5 -2 3 0 1 1 1.5 2 0.5 2.5 -1 3.5 -3.5 1 -2.5 -0.5 -1.5 -1 -1 -3 1zM406 59l-0.5 1 0.5 1 1.5 -0.5 0 -1.5 -1.5 0zM414 205.5l-1 1.5 1 1 1 -1 -1 -1.5zM21.5 206.5l-3.5 4.5 -0.5 4 4 10.5 0.5 4 0.5 3 1.5 2 1.5 0.5 2.5 -1.5 0.5 -1.5 -0.5 -1 -3 -4 -0.5 -1.5 4 -5.5 1 -2.5 0.5 -2.5 -2 -4 -2.5 -3.5 -3 -1.5 -1 0.5zM25.5 189l-1.5 1.5 0 1.5 1.5 1.5 1 0.5 1 -2 0 -1 -1 -1.5 -1 -0.5zM379.5 169l-2.5 2 0 1 1 2.5 3 1.5 2.5 0 1 -1 1.5 -1.5 0.5 -2.5 -1.5 -1.5 -1.5 -0.5 -4 0zM387.5 252l-34.5 0.5 -12 1 2.5 1.5 53 1 11 -0.5 2 -0.5 0.5 -1.5 -1.5 -1 -4 -0.5 -17 0zM406 74.5l-5.5 3 -1.5 1 0 1.5 1.5 1.5 5.5 -0.5 5 -2.5 2 -2.5 -0.5 -1.5 -1 -0.5 -3 0 -2.5 0.5zM402 200l-2.5 1 -3 2 -3.5 5 -1 3 0 1 2 3 4 2.5 2.5 0 3 -1 3.5 -3 2.5 -4 0 -2.5 -2 -4 -3 -2.5 -2.5 -0.5z"/><path fill="#f7ff08" d="M0 0l438 0 0 265.5 -438 0 0 -265.5zM26.5 23.5l-3.5 4.5 -2.5 8 -4.5 10.5 -0.5 7 0.5 9 -0.5 15 0 9 -0.5 20 1 4 2.5 1.5 4.5 5.5 3.5 1.5 4 1 2 -1.5 1 -4 3 -4 0.5 -2.5 -2.5 -7.5 -1 -0.5 -4 0 -2 -1.5 2.5 -5 3 -11 3 -6.5 0 -4.5 1.5 -1 4 5 1 -1 2 -4 0 -5 -0.5 -1.5 -2.5 0 -2.5 1.5 -1.5 2.5 -1.5 0 -1.5 -2.5 -1.5 -4 0 -5.5 0.5 -2 3.5 -4.5 0 -1.5 -1 -1.5 -1.5 0 -6.5 2.5 -5.5 -0.5 -1 -2 2 -10.5 5.5 -10.5 0 -1.5 -1 -1 -1.5 0.5zM46.5 11.5l-7.5 2 -0.5 1 1.5 1.5 5.5 1 27.5 0 31 -1.5 14.5 -3 7.5 -0.5 -15.5 -0.5 -42.5 -1 -16 0.5 -5.5 0.5zM193 12l-0.5 0 3 1.5 4 0.5 15 1 67.5 0 2 -0.5 2.5 -1 -0.5 -1.5 -4 -1 -73 0 -10.5 0 -5.5 1zM334 12l-3 1.5 -3.5 4.5 -10.5 0 -4 1.5 -3 2.5 -2 3.5 0 2.5 1.5 4 3.5 4 4 2 8 1 8 2.5 12 1 17 0 4 0.5 1.5 1 0 1.5 -4 4.5 -0.5 2 2 1 13 -2.5 2.5 0 3 2 4 0.5 12 -3 2.5 0 5.5 2.5 1 0 7 -1 1 -0.5 1.5 -2 0 -4 -4 3 -2.5 1 -5.5 0 -1.5 -2.5 0 -1 1 -3 3 -2 4 -1 4 1.5 1.5 -2 1.5 -5.5 0.5 -5.5 -1 -4 -3.5 -6 -4.5 -3.5 -5 -1.5 -2.5 -0.5 -22.5 2.5 -5.5 -3.5 -4 -0.5 -3.5 1 -1.5 1.5 -1 2.5 -0.5 0.5 -1.5 0.5 -10.5 -3 -8 -2.5 -5.5 -0.5 -5.5 1zM26.5 130.5l-8 1.5 -1 1.5 -0.5 2.5 3.5 12 -2 5.5 0 5.5 -0.5 4 0 1 2.5 5.5 0 4 0.5 1.5 4.5 4 1 -0.5 3.5 -3.5 -1 -5.5 1.5 -5.5 0 -4.5 2 -6 0.5 -4 0 -1.5 -2 -5 -1 -12.5 -0.5 0 -3 0zM46.5 20l-1 0.5 -2 2 0 1.5 0.5 2 1.5 0 1 -0.5 2.5 -3 0.5 -1 -1.5 -1.5 -1.5 0zM52 107.5l-3.5 3 0 1.5 2 0 2 -1.5 1 -1 0.5 -1.5 -0.5 -1 -1.5 0.5zM62.5 31.5l0 0.5 0.5 0 -0.5 -0.5zM70.5 31.5l-0.5 0.5 0.5 0.5 0.5 -0.5 -0.5 -0.5zM80 25.5l-1.5 1 5 4 8.5 4 7.5 1.5 17.5 1.5 19 0 27 -1.5 20.5 -3.5 4 -2 -1 -1 -9.5 -1.5 -24 -0.5 -45 0.5 -19 -1 -9 -1.5zM199.5 220l-3 1.5 3.5 1.5 6.5 0.5 6.5 -0.5 4 -1.5 -5 -1.5 -12.5 0zM261 220l-7.5 1.5 -2 1.5 7 1 19.5 2 7 -0.5 4 -1.5 -2 -1 -15.5 -3.5 -5 -0.5 -5.5 1zM349 160l-1.5 0.5 -1 1 2.5 0.5 2.5 -0.5 -1 -1.5 -1.5 0zM387.5 66.5l-3 1 -2.5 2 -6.5 8 -1.5 2.5 0 1.5 1 1 3 2 4 0.5 20 -1 5.5 -1 5 -2.5 3 -2 2 -2.5 -1 -2.5 -2.5 -1.5 -2.5 -0.5 -4 0.5 -9.5 2.5 -2.5 -0.5 -1 -2 0 -5.5 -3 -0.5 -4 0.5zM406 54l-3 3.5 -1 4 0.5 1 1 1.5 1 0.5 3 0.5 1.5 -1 1.5 -1.5 0.5 -4 -2.5 -3.5 -1 -1 -1.5 0zM26.5 182.5l-1 0.5 -5 5 -0.5 3 -0.5 12 -3.5 6.5 -1 4 3.5 13.5 1 8 0 5 1.5 5.5 0 4 1.5 2.5 3 1 1 0 1 -1 0.5 -12 3 -6.5 -0.5 -2.5 -3 -4 0 -1.5 3 -5.5 1 -5 -0.5 -3 -4 -6.5 -0.5 -2.5 4 -5.5 2 -6.5 -0.5 -1.5 -5.5 -7zM50.5 244l-6 3 -2.5 0 -2 -1 -4 0.5 -2 3 0 4 0.5 1 9.5 2.5 6.5 1 9.5 -1 25 0.5 3 -1.5 49 1 28 -1.5 24 1 34.5 0.5 43.5 -2 5.5 -1.5 -26 -1.5 -7.5 -1 -3.5 -1.5 -4 -2.5 -2.5 -1 -6.5 -0.5 -11 -0.5 -8 0 -13.5 2 -5 1 -6 3 -10 1.5 -6.5 0 -21.5 -2 -33 2 -20 0 -3 -1 -18.5 -0.5 -5.5 -1.5 -1 -2 -3 -0.5 -6.5 -3zM96 236l-7 1.5 -3 1.5 -4 2.5 0.5 1.5 6 1 8.5 0 39.5 -5 3.5 -1.5 -19 -0.5 -17 -1 -8 0zM350 249.5l-20 2.5 -22.5 0.5 -15 1 3 1.5 29.5 1 71.5 1 8 0 4 -0.5 2.5 -1.5 0.5 -1.5 0 -1.5 -1.5 -1 -6.5 -1 -8 -0.5 -22.5 1 -23 -1zM383.5 116l-6 1.5 -2 1 -0.5 1.5 1 1.5 3 1 5.5 2.5 3 0 11.5 -5 2 -1.5 0 -1 -0.5 -1.5 -1 -1 -1.5 0 -14.5 1zM410 109l-5 1.5 -2 1.5 -1 1.5 2.5 0.5 5.5 -0.5 5.5 -1.5 1.5 -1.5 -0.5 -1 -1 -0.5 -5.5 0zM378 167l-3 1 -1.5 1.5 -1 2.5 1.5 5.5 3 2.5 4 1.5 6.5 0.5 6.5 -1.5 2 -0.5 1 -1 -1.5 -4 0 -5.5 -2 -1.5 -7.5 -2 -4 0 -4 1zM399.5 198.5l-5.5 3 -4 5 -4 4.5 -0.5 1 1 1.5 6.5 5.5 2 2.5 1.5 5 3 1 4 0 3 -0.5 -0.5 -1.5 -2 -2.5 1 -3 5 -5 5.5 -3 1.5 -2.5 0.5 -2.5 -0.5 -3 -1.5 -1.5 -5 -1 -6 -4 -2.5 0 -2.5 1zM376.5 30.5l1.5 0 1 1.5 0 1.5 -1 1 -1 0.5 -2 -1.5 0 -1.5 1.5 -1.5zM329.5 33.5l2 -1 2 1 -0.5 1.5 -4 1.5 -1 -0.5 0 -1.5 1.5 -1zM21 97.5l1 0 1 1 -1.5 1 -0.5 -2z"/><path fill="#ffd700" d="M0 0l438 0 0 265.5 -438 0 0 -265.5zM48 10.5l-13.5 3 2.5 2.5 4 1.5 1 1 -0.5 1.5 -1.5 2 -1.5 -0.5 -4 -2 -2.5 0.5 -5.5 2.5 -4 4 -1 0 -3 -1 -2 1 -0.5 1.5 1.5 2 2.5 1 0.5 2.5 -0.5 2.5 -4.5 9.5 -1 6.5 0.5 10.5 -0.5 15 0.5 9 -0.5 11.5 -1 6 0 5.5 1 3.5 2.5 4.5 0.5 2.5 5 0 3 0.5 4 1.5 1.5 2 -1 2.5 -2 2 -2.5 1.5 -3 0 -5 -1.5 -1.5 1 -1 2.5 -1 4 0.5 7 2.5 5 -2.5 7 -0.5 8 0.5 1 3 4 -0.5 7 3 4 0.5 2.5 -3.5 6.5 -1 4 -0.5 4 0 7 -2 6.5 -0.5 5.5 2 6.5 2.5 28 1.5 2.5 2.5 2 5 2.5 3 0 1 -1.5 0 -1.5 0 -5.5 1.5 -2 1.5 -0.5 1 1.5 -1.5 6.5 1 1.5 11.5 3.5 4 0.5 11.5 -1 24 0.5 3 -1 49 1 29.5 -1.5 54.5 1.5 29.5 -1.5 31.5 -1 47 2 73 0.5 6.5 -0.5 3 -1.5 2 -1.5 2 -4 1 -4 -0.5 -1.5 -3 -2.5 -4.5 -2 -6.5 -0.5 -17.5 4 -10.5 0.5 -6.5 -0.5 -5.5 -1 -3.5 -2 0 -1.5 3.5 -3 4 -2 22.5 -1.5 16 0 5.5 0 6.5 -2 1.5 -1 1.5 -2.5 0 -13 0.5 -5.5 0 -4 -3.5 -6 -5 -6 6.5 -2.5 1 -3 -1 -5 -3 -5.5 0 -6.5 -0.5 -4 0.5 -3 3.5 -5 0.5 -3 -0.5 -2.5 -0.5 -2 -7 -8.5 0 -1.5 5.5 -4 1.5 -2 1 -2 0 -3 -1 -4 1.5 -5 -0.5 -4 2 -5.5 0 -2.5 -0.5 -3 -1 -1.5 -4 -1.5 -8 1 -17.5 4 -25 9 -4.5 2.5 0.5 1.5 4 2.5 2 2.5 7 1.5 3 1.5 2 4 0.5 4 0.5 1.5 2 0.5 15.5 0.5 6 1.5 2 1.5 -0.5 4 -2 2.5 -13 7.5 -10.5 3.5 -11.5 7.5 -1.5 1.5 -0.5 2.5 2 8 2.5 3 6.5 4.5 5 2.5 10.5 -0.5 4 0.5 2.5 1 1.5 1 -0.5 1.5 -5 4 -7.5 4 -4.5 4 -10 5.5 -2.5 2.5 -1 2.5 -1 1.5 -3.5 1.5 -5.5 1 -2 1.5 3 1.5 17.5 2.5 2 1.5 -1.5 1 -7 2 -14.5 2 -21.5 3.5 -28 2.5 -5.5 1.5 -1 0.5 -1 1.5 1.5 1.5 3.5 1 19.5 4 -1.5 1.5 -35.5 1.5 -18.5 -1 -16.5 -0.5 -0.5 -1.5 1 0 12 -1.5 4 -1 -1.5 -1.5 -4 -2 -5 -3 -1 -1.5 0.5 -1.5 19 -2 9 -1.5 19 -5.5 3 -1.5 1 -1.5 -2.5 -1 -17.5 -4 -7 -4.5 -3 -1 -5 -0.5 -13 0.5 -17.5 3.5 -10.5 0.5 -54.5 -0.5 -14.5 -1 -29.5 -1 -10.5 1 -0.5 1.5 5.5 1.5 32 1.5 10.5 1.5 4 1.5 1.5 0.5 1 3 3.5 1 6 0.5 20 -0.5 11 0 14.5 2.5 3.5 1.5 -3 1.5 -7 1.5 -11 3 -16 1.5 -1 0.5 -0.5 1.5 -6 2.5 -24.5 4.5 -12.5 -1.5 -19 -1.5 -2 -1.5 8.5 -2.5 26.5 -2.5 1 -1.5 -13 -4 -6.5 -1 -9.5 0 -20 1.5 -21 -1.5 -8 0 -16 3 -8 4 -4 1 -3 -1 -4 -3.5 -5 -6.5 -4 -1 -5.5 2 -1 1.5 1 1.5 4 2 1.5 2 0.5 2.5 -2 3 -1 0 -4 -3 -4 -2 -1 -0.5 -2 -4 -4 -5.5 -1 -2.5 2.5 -5.5 1 -5 0 -3 -3.5 -6.5 0 -2.5 1 -1.5 3 -1.5 1.5 -1 1.5 -8 -0.5 -2 -1.5 -2 -3.5 -3 -1 -4 2.5 -4 1 -5 2 -3 1 -4 6 -4.5 9.5 -1 1.5 -1 2.5 -5.5 0 -1 -0.5 -1.5 -3.5 -2 -2.5 -4 -3 -1.5 -1.5 1 -2 6.5 -1.5 2 -1.5 0 -1.5 -1.5 -3 -4.5 -1 -2.5 -1.5 -8 0.5 -1.5 1 -2 1.5 -0.5 5.5 5 2.5 1 2 -1 1.5 -1 -1 -1 0 -2.5 4 -1 1 -1 -1 -3 -2.5 -3 -6.5 -0.5 -1.5 0 -1.5 -1.5 -1 -3 0.5 -2.5 3.5 -2.5 5 2 9.5 -1.5 4 4 2.5 -0.5 2 -1.5 0.5 -1.5 -0.5 -4 -2.5 -2.5 2 -1 8 2.5 2.5 3 2.5 1.5 3 0 7.5 -0.5 3.5 -1.5 1.5 -1.5 1.5 -2.5 0.5 -2.5 -1 -3 -1.5 -1 -4 -2 -11 -1 -5 0.5 -9.5 -1.5 -5.5 0 -2.5 1.5 -1 -0.5 -3 -1.5 -2.5 -0.5 -1.5 0.5 -0.5 1.5 0.5 3 2 2.5 0 2.5 -7 6.5 -3 -5 -1 -4 1 -6.5 -1 -1.5 -5.5 0 -0.5 -1.5 0.5 -2.5 1.5 -4 1 -4.5 1.5 -2.5 1.5 -1 4 -0.5 2.5 -1.5 4 -9.5 2.5 -1 2 -2 0 -1.5 -1 -1.5 -4.5 -2.5 -0.5 -1.5 0 -1 0.5 -3 -4.5 -2 -1 -1.5 -1.5 -5.5 -1 -1.5 -3 0 -8 2.5 -4 -0.5 -1.5 -1.5 1 -7 2 -4 4 -6.5 1 -1 5.5 1 4 3.5 2.5 4 3.5 1.5 4.5 0.5 6.5 -1.5 3 0 6.5 1.5 4.5 2 1 1.5 -0.5 1.5 -2.5 2.5 -5.5 1.5 -3.5 3.5 -1.5 0.5 -8 1 -2 3 1.5 1 7 3.5 4 4 3 2 8 0 3.5 -1.5 0 -1 -0.5 -3 -3 -1 -5.5 -0.5 -3.5 -2.5 0.5 -1 5 -3 2 -4 2.5 -1.5 2 -2.5 2 -1 11 -2 6.5 -0.5 25.5 1 20 0 34.5 -2 7 -0.5 4.5 -1.5 7 -5.5 -0.5 -1 -3 -1.5 -10 -1 -23.5 -1 -27 0.5 -18.5 -1 -9.5 -1.5 -16 -4 -6.5 -0.5 -3.5 -1 3 -1 24.5 -1 20 -3.5 10.5 -0.5 52 -0.5 5.5 0.5 9 1.5 8 1 74.5 0.5 5 -1 1.5 -1 0 -1.5 -2.5 -1.5 -4 -0.5 -95.5 1 -17.5 -1 -49 0.5 -52 -1 -13.5 0 -6.5 1zM333 10.5l-7.5 1.5 -11.5 4.5 -4 2.5 -1.5 2.5 -2 4 -0.5 2.5 2 6.5 0 4 3.5 4.5 2.5 2 4 0.5 23 0 16 1.5 2 1 0.5 1.5 -1 4 0 1 1 1.5 2.5 0.5 9.5 -1.5 2.5 1 4.5 2.5 1 1.5 -4.5 1.5 -9 1 -9.5 0 -2.5 1.5 2 1.5 11.5 3.5 3.5 1.5 1.5 1.5 0 1.5 -0.5 1 -4.5 5.5 -0.5 1.5 2 2.5 12 8.5 3.5 1 12 -0.5 15 1 4 -0.5 2 -1.5 0.5 -2 -1.5 -3.5 3 -4 1 -5 0 -4 -2 -4 1 -5.5 -1 -4 2.5 -9.5 1 -22.5 -0.5 -2.5 -1.5 -4 -3.5 -5.5 -5 -3.5 -4 -1.5 -4 -0.5 -22.5 0 -8 -1 -9.5 1 -12 0 -10.5 -1 -8 1zM52 188l-1 1.5 1 0.5 1 -0.5 -1 -1.5zM53.5 201l0 1.5 1 0.5 0.5 -1.5 -0.5 -1 -1 0.5zM80 208l-5 1.5 -1.5 1.5 0.5 1 2 0.5 9 0.5 9.5 -0.5 6 -1.5 1.5 -1.5 0 -1.5 -3.5 -1 -6.5 0 -7 0 -5 1zM38.5 85l-1 1 0 1.5 1 0 1 -1 0 -1 -1 -0.5zM58.5 85l-1.5 1 -1 2 0 1.5 0.5 1 0.5 0.5 3 0 3.5 -1.5 0.5 -1.5 -1.5 -2 -1.5 -1 -2.5 0zM201 166.5l-20 3 -4 1.5 -0.5 1 2 2 5 1 7 0.5 8 -0.5 4.5 -1.5 2 -1.5 2.5 -4 0 -1 -1 -0.5 -5.5 0zM262.5 157.5l-12 2 -2 0.5 -1 1.5 2 1.5 5 1 8 0.5 5 -0.5 5.5 -1 3.5 -1.5 2 -1.5 -0.5 -1 -5 -2 -5.5 -0.5 -5 1zM269 23.5l-0.5 2 1.5 1 2 0 1.5 -1 -0.5 -1.5 -1.5 -1 -1 0 -1.5 0.5zM307.5 57.5l-5.5 1 1 1.5 6 1.5 6.5 0 4.5 -1.5 -1 -1.5 -1 0 -10.5 -1zM345 133l-3 1.5 -1.5 1.5 0 4 -1 1.5 -2.5 1 -13 1.5 -2 1.5 3 1.5 8 1 13 0 5.5 -1 1.5 -1.5 2.5 -4 -0.5 -2.5 -1.5 -3 -2 -2 -2.5 -1 -4 0zM349 156l-5.5 0.5 -4 1.5 -8 5 -8 3 -1 1 -0.5 1 1.5 1.5 5.5 2 4 0.5 2.5 0 3 -1 3.5 -3 11 -2 4 -1.5 1.5 -1.5 1 -1.5 -0.5 -1.5 -2 -2 -4 -1.5 -4 -0.5zM50 25.5l3.5 -1.5 2.5 0.5 1.5 2 0 3 -1.5 1 -1.5 0.5 -2.5 0 -2.5 -0.5 -1.5 -1 0 -1.5 2 -2.5zM408.5 42.5l3 -0.5 1 0.5 0.5 1.5 -1.5 1.5 -3 0 -1 -1.5 1 -1.5zM36 56l2.5 0 3 1.5 1.5 1 -0.5 1.5 -4 3 -1 0.5 -1.5 0 -1.5 -3.5 0.5 -2.5 1 -1.5zM37 128l0.5 0 -0.5 0zM54 241.5l0.5 -1 2 1 -0.5 0.5 -2 -0.5z"/><path fill="#ffa700" d="M125.5 13.5l14.5 -1 43.5 0 23 2.5 75.5 1 5.5 -0.5 4 -2.5 12.5 1.5 2 1.5 0 1.5 -2.5 9 1 5.5 -0.5 2.5 -7 9.5 -4 2 -9 3.5 10.5 2.5 -1 1.5 -4.5 2.5 -2 1.5 0.5 1 2 1.5 8 4 6 4.5 12 1 2.5 1.5 3 5 0.5 1.5 0 1 -1.5 1.5 -10.5 6.5 -1.5 1.5 -0.5 1.5 1.5 1 6.5 1.5 25.5 2 11 2 3.5 1.5 1 1 1.5 4.5 2 1 9 3 2 1 0.5 1.5 -1 1 -5 1.5 -15.5 0 -9 1.5 -5 4 -9.5 4 -2 1 0 1.5 1.5 0.5 12 3 1.5 0.5 -1.5 1.5 -8 2.5 -14 1.5 -5 1.5 -1.5 1 2 3 -3 1 -21 2 -17 2.5 -16 1 -5.5 1.5 -9.5 4.5 -18.5 5 -21.5 3 -13 1 -7 1.5 -15.5 5.5 -4 2 -1 1.5 0 1 1.5 1.5 4.5 2.5 9.5 3.5 6.5 0.5 20 0 11 1.5 1 2.5 9.5 3 2.5 2 0.5 0.5 -0.5 1.5 -1.5 1 -2.5 1.5 -16 0 -14 4 -7.5 0.5 -7 -2 -7 -5 -5.5 -1.5 -24 -1 -16 -1.5 -25.5 -1.5 -2 0 -4.5 -2.5 -4 -0.5 -9.5 0.5 -6.5 1 -8 -0.5 -4 1.5 -4 -1 -1.5 0 -5 2 -2.5 2 0 1.5 0.5 1.5 4 4 0 2.5 -2 5 -4 1 -2.5 2 0 1.5 7 4 0.5 1 0.5 4 1 1 4 2.5 4 0 4 2 9 -5 4 -0.5 5.5 0 9.5 3 2 1 -0.5 1.5 -6.5 2.5 -12.5 2 -5.5 2 -1 0 -4 -1.5 -1.5 0.5 -4 2.5 -13 -4 -5.5 3.5 -4 1 -2.5 -2 -1 -2.5 1 -4 1 -8 -0.5 -2.5 -2 -5.5 0.5 -1.5 3.5 -2 1.5 -3 0.5 -8 -1 -4 -3.5 -4 -0.5 -3 3 -6.5 1.5 -1 1 0 3 3 2.5 -3 4 -1.5 1.5 -1.5 0 -1.5 -0.5 -1 -2.5 -1.5 -1 0 -4 2.5 -1.5 -0.5 -0.5 -2 2 -2 3.5 -2 4.5 -0.5 2 2 2 2.5 1 0 2.5 -9 3 -3.5 4.5 -2 0.5 -4.5 1.5 -2.5 1.5 -0.5 8 0.5 2.5 -1.5 2.5 -2.5 0 -2.5 -1 -1.5 -9.5 -6.5 -3 -4 1 -1.5 4.5 -4 1.5 -0.5 8 0.5 16 -2 5.5 -1.5 9 -4.5 7 -2 12 -1.5 20 -1 3 -1 2 -1 0.5 -1.5 -1.5 -2.5 0 -1.5 2.5 -2.5 -0.5 -1.5 -2 -1.5 -5.5 -2 -8 -1 -12 -1.5 -14.5 -0.5 -5.5 -1 -7.5 -3 -9.5 -5.5 -1.5 -1.5 -1.5 -2.5 -1.5 -1.5 -2.5 -1 -6.5 -1 -7.5 -3 -1 -1.5 13.5 -3 11 -4.5 10.5 -1.5 6.5 -2.5 4.5 -3 1.5 -3 -1.5 -2.5 -5 -4 14 -1 22.5 -0.5 36 -3.5 5.5 -1.5 2.5 -1.5 4 -5.5 -0.5 -1 -3.5 -2 -5.5 -1.5 -8 -1.5 -26.5 -1.5 -22.5 1.5 -13.5 0 -8 -1.5 -2.5 -1 -2 -2 0 -2.5 3 -1.5 18 -2.5zM267.5 22.5l-0.5 1.5 0 1.5 2 2 2.5 0.5 1.5 -0.5 1.5 -1 0.5 -1 0 -1.5 -1 -1.5 -1 -0.5 -2.5 -0.5 -3 1zM90.5 173.5l-1 0 1 1 2.5 0.5 7.5 -1.5 -4.5 -0.5 -5.5 0.5zM129 64l-1.5 2.5 -8.5 4 -4 3 -1 1 0 1.5 3 2 5.5 1 6.5 0 7 -1.5 2.5 -1.5 0.5 -1.5 0 -2.5 1 -1.5 1 -1.5 5 -2.5 0 -1 -5 -1.5 -8 -0.5 -4 0.5zM24.5 16l1 -0.5 1 0 2.5 0.5 0.5 1.5 -2.5 2.5 -1.5 0.5 -1.5 -0.5 0 -2 0.5 -2zM29 29.5l1.5 -1 4 0.5 7 7 2.5 1 5.5 1.5 4 0 2.5 -0.5 2.5 -1 2.5 0 5 1.5 1 1.5 -1 1.5 -2 1 -7 1 -2.5 2 -4 0.5 -1 1 -3 3.5 -1.5 0 -2 -1 -0.5 -5.5 -1 -2 -1.5 -0.5 -10.5 3.5 -3 0 -2.5 -1.5 -0.5 -2 0.5 -4 2.5 -5.5 2.5 -2.5zM15 36l2.5 -1 1 1 -2.5 4.5 -1.5 -1.5 0.5 -3zM330 49.5l9.5 0 5 1 1.5 1.5 -0.5 1.5 -3 1 -7 1 -20.5 -2 -3.5 -1.5 5.5 -1.5 13 -1zM78.5 52l4 -0.5 4.5 0.5 -2 1.5 -5 1 -4 0 -2 -1 4.5 -1.5zM57 65.5l1.5 -0.5 3.5 1.5 0.5 1.5 -2.5 2.5 -0.5 1.5 0.5 1.5 4.5 1 1.5 1.5 1 6.5 -0.5 1 -6.5 -2 -3 0 -5 6.5 -2 4 -2 0.5 -2.5 -0.5 1.5 -4 -3 -4 0 -2.5 4 -5.5 1.5 -0.5 4 1.5 3 -1 0.5 -1.5 -2.5 -5 0 -1.5 2.5 -2.5zM351 86.5l7 -0.5 4 0.5 1.5 1.5 0 1.5 -1.5 0.5 -6.5 0.5 -5.5 -1 -1 -1.5 2 -1.5zM79 93.5l22 -0.5 5 0.5 1 1 -2 1.5 -5 0.5 -19 -2 -2 -1zM41.5 98.5l1 -1 4 6.5 0 1.5 -1 2 -3 1.5 -1 -0.5 -1.5 -1.5 -1 -3 0.5 -2.5 2 -3zM52.5 120l2 -0.5 1.5 0.5 3 2.5 1.5 3 -3.5 1 -2.5 -0.5 -1 -0.5 -1.5 -3 0 -1 0.5 -1.5zM20.5 122.5l2 -1 3 0 2 1 1 1.5 0 1.5 -2 2.5 -1 1 -3 0 -2 -1 -1 -1.5 0 -1 1 -3zM365 133.5l4 -1 2.5 0 1.5 1 0 1.5 -0.5 1 -2.5 2 -4 0.5 -1.5 -1 -1 -1.5 0 -1 1.5 -1.5zM55.5 135l4.5 -1 2.5 1 1.5 1 0 3 -2 1 -6 2 -1.5 0 -1 -1 -1 -2 1 -3 2 -1zM38 141.5l0.5 -1 1.5 0.5 0.5 0.5 0.5 2.5 -1 2 -1.5 -0.5 -0.5 -1.5 0 -2.5zM295 151l6 -0.5 4 0.5 3.5 1 0.5 1.5 -4 1 -6 0.5 -6.5 -1.5 -1 -1.5 3.5 -1zM292 175l9 -1.5 6.5 1 5.5 2 1.5 2.5 0 1 -1.5 2.5 -3 1 -8 0.5 -12 2.5 -13 0.5 -14.5 0 -17.5 -1.5 -6 -1.5 -3 -2.5 2.5 -1.5 4 -0.5 33 -2 16.5 -2.5zM324.5 185.5l21.5 -1 15 1 6 2.5 11.5 8 0.5 1.5 -6.5 6.5 -3.5 2 -4 1 -5.5 1 -12 0.5 -13.5 -1.5 -5 -1.5 -2 -1.5 -0.5 -1 1 -3 -1 -1 -3.5 -3 0 -1 1 -3 -0.5 -1 -3.5 -4 1 -1.5 3.5 0zM70 188l4.5 -1 6.5 1 -2 1.5 -4.5 1.5 -6.5 0.5 -1.5 2 0.5 1.5 1 0.5 8 -1 8 0 22.5 -1 5.5 0.5 1 1 0.5 1 -1 1.5 -4.5 1.5 -12 3 -23 2 -3.5 1.5 -1.5 1.5 -4 1.5 -4 5.5 -3 0 -3.5 -2 -1 -1 1 -3 1 -1.5 3.5 -1 0.5 -1.5 -2 -10.5 0.5 -2.5 1.5 -1.5 6.5 0.5 5 -2zM256.5 196l8.5 -1 6.5 0 4 1 2.5 1.5 1.5 1.5 0.5 1 -1 1.5 -2 1 -8 1 -28 -3.5 15.5 -4zM130.5 199l5.5 -0.5 4 0.5 10.5 5.5 13.5 3 5 0.5 10.5 -1.5 8 0 12 1.5 16 0.5 10 2.5 4 1 -2.5 1.5 -10 1 -8 0.5 -14.5 -1.5 -27 -4 -15.5 1 -19 -1 -12 1.5 -6 0 0 -1.5 9 -2.5 2 -1.5 0 -1.5 -1 -2.5 1.5 -1.5 4 -1zM312.5 232l5.5 -0.5 5.5 0.5 -6.5 1 -4.5 -1zM172.5 241.5l6 0 1.5 1.5 -2.5 1 -3 0.5 -12.5 -0.5 2.5 -1 8 -1.5zM36 257.5l1.5 0 -1.5 0z"/><path fill="#ff7800" d="M131.5 13.5l52 -0.5 21.5 2 53.5 0.5 15.5 1 16 0.5 5.5 1.5 3 3 0.5 2.5 -0.5 4 1 5.5 -1 2.5 -3 3.5 -5.5 4 -4 1 -5 1 -13.5 0.5 -4 1.5 -1.5 2 0 1 1 1.5 4 2.5 0.5 1.5 -0.5 2.5 1 1.5 15.5 3 2 1 1 1.5 -1 1 -4.5 1.5 -4 0.5 -16 -0.5 -6.5 0.5 -9.5 2 -1 1.5 10 4 -2.5 0.5 -6.5 0 -14.5 -1.5 -23 2 -9 0 -7 -2 -1.5 -1.5 1.5 -1.5 9 -2.5 2 -1.5 -1 -1.5 -3 -1.5 -12 -3.5 -4.5 -3 -3.5 -1 -7 -2 -9 -1 -6.5 0 -9.5 2 -5 -0.5 -0.5 -1.5 8.5 -5 12 -5.5 6 -1.5 20 -2 8 -2 2.5 -1 1 -1.5 0.5 -2.5 1 -3 0 -1 -1.5 -1.5 -4.5 -3.5 -3 -1 -38.5 -2 -25 1.5 -12 -0.5 -6.5 -1 -2 -1.5 -0.5 -1.5 0.5 -1 2.5 -1.5 21.5 -2.5zM269 20l-2.5 1.5 -1 1 0 3 0.5 1 1.5 1.5 3 1 2.5 0 1.5 -1 2 -2.5 0 -1.5 -1 -2.5 -2.5 -1.5 -4 0zM28.5 30.5l1 -0.5 2.5 -0.5 2.5 1 1.5 1 2 3 1 3 0 1 -1.5 1.5 -3 2 -4 1.5 -2.5 0 -2.5 -1 -1 -1 -0.5 -1.5 0.5 -2.5 2 -4.5 2 -2.5zM45 41.5l0.5 -1 1 0 2 1 -0.5 1 -1.5 1 -1 -1 -0.5 -1zM48 81.5l2.5 -1 2 1 0 1 -0.5 1.5 -1.5 1 -1 0 -1.5 -1 -0.5 -1.5 0.5 -1zM203.5 86.5l7 0 21 1.5 17.5 2.5 4 -0.5 7 -2 6.5 -1 11 -0.5 5.5 1.5 1.5 1.5 1.5 2.5 1.5 1.5 2.5 0.5 8 1.5 22.5 2 3.5 1 -1.5 1.5 -6 2.5 -2 1.5 -1 1.5 -0.5 6.5 4 5.5 -0.5 1 -11 9.5 -8.5 4 -7 2 -21 4.5 -24 4 -13.5 4 -15.5 3 -11 2.5 -26.5 1 -17.5 2 -14.5 1.5 -13 2.5 -17.5 5 -24 2 -13.5 3 -5.5 0 -9 0.5 -3 -1 -2.5 -3 0 -2.5 0 -1.5 1.5 -1.5 3.5 -1 4.5 -3 9 -4 13.5 -10 9.5 -4.5 1.5 -1.5 -1 -1 -10 -4.5 -3 -1 -1 -1.5 1.5 -1.5 4.5 -1 8.5 -2 7 -0.5 25 0 5.5 0.5 2.5 2 0 1 -1 1.5 -8 4 -1 3 0.5 1 1.5 0.5 7 1 10.5 -1 10.5 -2.5 14.5 -2.5 25.5 -6.5 4 0 5.5 1.5 5 1 4 0 4.5 -1 -1.5 -1.5 -14.5 -2.5 -2.5 -5 -3.5 -1.5 -7.5 -0.5 -23 1 -5.5 -0.5 -3 -1.5 0 -1 7.5 -4 1 -1.5 1 -4 1 -1.5 3.5 -1.5 9.5 -1.5 20 -1 6 -1 3.5 -1.5 1.5 -1.5 -1.5 -1 -3 -1 -14 -2 -4.5 -1 1 -1.5 8 -1.5zM41 102.5l1.5 -0.5 1 0.5 1 1.5 -0.5 2 -1.5 0.5 -1 -0.5 -1 -2 0.5 -1.5zM23.5 122.5l2 0.5 1 0.5 0.5 2 -0.5 1.5 -2.5 1 -1.5 0 -1 -1 -0.5 -1.5 0.5 -1.5 2 -1.5zM48 173.5l2.5 0.5 1.5 1 2.5 2.5 0.5 2.5 -2 3 -6.5 2.5 -1.5 4 2 4 0 2.5 -4 7 -3 2.5 -1.5 0 -0.5 -2.5 2 -5.5 0 -6.5 -3 -8 0 -1.5 1.5 -1 4 -1.5 3 -4.5 2.5 -1zM147 180l7.5 0.5 4 1 2 1.5 -1 1 -3.5 1 -8 -0.5 -3.5 -1.5 -0.5 -1.5 3 -1.5zM260.5 181.5l10 -0.5 2 0.5 2 1.5 -3.5 1 -8.5 0 -4 -1 2 -1.5zM339.5 189.5l6.5 -1 12 2.5 6 2.5 1.5 1.5 0.5 1 -2 1.5 -3 0 -16.5 -2.5 -3.5 -1.5 -2 -1.5 -0.5 -1 1 -1.5zM85.5 196l14.5 -0.5 3.5 0.5 0 1.5 -2.5 1.5 -6.5 1 -14.5 2 -12 0 -2.5 -0.5 -1 -1.5 3 -1 7 -2 11 -1zM38 207l0.5 -1 0.5 1 7.5 3.5 1.5 1.5 0 1.5 -0.5 2.5 -5.5 5.5 -1 1.5 -0.5 2.5 -2 1.5 -1 -0.5 -1 -1 0 -4 -1 -4 0.5 -8.5 1.5 -2 0.5 0zM49 221.5l1.5 -1 1.5 0 1.5 1 1 1.5 0 1 -1 1 -3 0 -1.5 -1 0 -2.5z"/><path fill="#ff3800" d="M145 13.5l38 0 22 1.5 57.5 1 5 1.5 -4 2.5 -0.5 1.5 0.5 4 3 3 4 1.5 2.5 0 2.5 -1 2.5 -2.5 1.5 -5.5 1.5 -1 2.5 0 4 1.5 2.5 2 1 2 -0.5 4 3.5 3.5 1 1.5 -2.5 4 -5 3.5 -6.5 1.5 -10.5 -1.5 -5.5 1 -9 3.5 -2 1.5 -4 4 -3.5 1.5 -5.5 1 -18.5 0.5 -17.5 1.5 -9.5 -0.5 -8 -1 -7 -1.5 -4 -1.5 -2 -1.5 -0.5 -1 1 -3 1.5 -1 4.5 -1.5 17.5 -3 5 -2.5 0.5 -1 -0.5 -4 0.5 -3 -1 -2.5 -2.5 -2.5 -0.5 -1.5 1 -2.5 -5.5 -1.5 -8 2 -2.5 0.5 -33 -2 -24 1 -12 0 -4 -0.5 -2 -1 -0.5 -1.5 0 -1 3.5 -1.5 20 -2 12 -0.5zM28 32l1.5 -1 2.5 0 2.5 1 3 4 -0.5 2.5 -2.5 2.5 -4 1 -2.5 0.5 -2 -1 -1 -1.5 0 -2.5 1.5 -4 1.5 -1.5zM227 100l6 0 6 1.5 2.5 1 1.5 1.5 0 1.5 -2 1 -4 0.5 -22.5 -1.5 -10.5 2.5 -7 0.5 -6.5 -0.5 -2.5 -1.5 0.5 -1 6 -1.5 17 0.5 4 -1 5.5 -2 6 -1.5zM257 109.5l12 1 1 0 2 1.5 -3 1.5 -6.5 0.5 -7 -1 -2.5 -1 -1.5 -1.5 1.5 -0.5 4 -0.5zM287 112l6 -1 5 0.5 3 2 3.5 4 0.5 1 -0.5 1.5 -1.5 1.5 -6 3 -17.5 2 -0.5 1.5 0.5 1.5 -1.5 1 -6 1.5 -4 0 -1.5 -1 -0.5 -0.5 2 -2.5 -2 -1.5 -10.5 -2 -2 -2 1.5 -1 5 -1.5 20.5 -4 3 -1.5 3.5 -2.5zM23.5 124l2 0.5 0.5 1 -1.5 1 -1 0 -1 -0.5 0 -0.5 1 -1.5zM234.5 130.5l8 -0.5 8 0.5 5.5 1.5 1 1.5 -1 1.5 -2 1 -6.5 3 -18.5 4.5 -17.5 3 -14.5 2 -28 1.5 -17 2.5 -21.5 1 -15 5.5 -10.5 1.5 -20 0.5 -4 -1 -1 -1 2.5 -3 9.5 -3 4 -2 1.5 -1.5 0.5 -1.5 0.5 -2.5 0.5 -1.5 2.5 -1 3.5 -1 7 -0.5 14.5 1.5 18.5 -1.5 17.5 -1 12 -1.5 13 -4.5 5.5 -1.5 8 -0.5 14.5 0.5 19 -2.5zM122.5 148l-4.5 1.5 3 1.5 3 0.5 2.5 0 0.5 -0.5 -0.5 -2 -4 -1zM46.5 176l1.5 -1 1.5 0.5 2.5 1.5 1 2 0 1 -1 1.5 -2.5 1 -2.5 -1 -1 -2.5 0.5 -3zM40 184l1.5 -1 1 0 1 1 0 1.5 -1 2.5 -1 -0.5 -1.5 -3.5zM78 199l6 -0.5 3.5 0.5 -7.5 0.5 -2 -0.5zM39.5 209.5l2 0 3 1.5 1.5 1 0 1.5 -3 5.5 -3 1.5 -1.5 0 -1 -1 -1 -2 1 -6.5 1 -1.5 1 0z"/><path fill="#ff0800" d="M130 14.5l15 -0.5 37.5 0 21 1 54.5 1 4 1.5 -3.5 1.5 -8 1 -3 1.5 11.5 2.5 5.5 5.5 3 2 5.5 1 5.5 -0.5 2.5 2 6.5 1 1.5 1 0 1.5 -1 1 -2 1.5 -4 0.5 -2.5 -0.5 -1 -1.5 0 -2.5 -0.5 -1 -5 0.5 -6.5 2.5 -27 11 -5 1 -7 0.5 -13 -0.5 -11.5 0.5 -3 -1 0.5 -3 3 -1 7 -1 1 -1 1.5 -2 -1.5 -3 -4 -5 -0.5 -4 -2 -4 0 -1.5 1.5 -2.5 -5 -1.5 -6 -0.5 -12 2 -30.5 -2 -37 1 -3 -0.5 -1.5 -1.5 0.5 -1 4 -1.5 14 -1.5zM29.5 32l2.5 -0.5 2.5 1.5 1 1.5 0.5 3 -0.5 1 -1.5 1.5 -2 1 -2.5 0.5 -3.5 -1.5 -0.5 -2.5 1 -3 3 -2.5zM236 133.5l5 0 2.5 1.5 -0.5 1 -2.5 1.5 -8.5 2.5 -20.5 4 -13 2 -29.5 1.5 -18.5 1.5 -8 -0.5 -1.5 -0.5 -1.5 -1 1 -1.5 6 -1.5 21 -1 32 -5 12 -1 24.5 -3.5zM38.5 212l1.5 -1 1.5 0 2 1 0.5 1.5 -2 4 -2 1 -1.5 0 -0.5 -1 0 -2.5 0.5 -3z"/><path fill="#d70000" d="M136.5 14.5l47 0 20 1 41.5 0 9 0.5 3 1.5 -6.5 1.5 -9.5 1 -4 1.5 10.5 4 3.5 2.5 0.5 1.5 -0.5 1 -2.5 4 0 4 -1.5 1.5 -4.5 1.5 -5.5 0.5 -4 -0.5 -12 -3.5 -8 -3.5 -1.5 -1.5 -2 -7.5 0.5 -1.5 2.5 -2.5 -5 -1.5 -13 -1 -11 1.5 -14 -2 -7 0 -37.5 0.5 -10 -0.5 0 -1 6 -1.5 15.5 -1.5zM28.5 33.5l2 -1 3 1 1.5 2.5 -0.5 2.5 -4 2 -2.5 -0.5 -1.5 -1 0 -3 2 -2.5z"/><path fill="#a70000" d="M126 16l19 -1 40 0 64 1 1.5 0 2.5 1.5 -8 1.5 -21.5 2 -28 -2.5 -12 1 -16 -2 -37 0 -2.5 0 -2 -1.5zM219 22.5l3.5 -0.5 4 0 9 2 3 1.5 1.5 1 0.5 1.5 0 1.5 -3 4 -2 1 -2.5 1 -5.5 0.5 -7 -1.5 -3 -1 -1.5 -1.5 -2 -5.5 0.5 -1 1 -1.5 3.5 -1.5zM28.5 34.5l2 -1 1.5 0 1.5 1 0.5 3 -2 2 -2.5 0 -1.5 -1 -1 -1 1.5 -3z"/><path fill="#870000" d="M131.5 16l15 -0.5 84 0 17 0.5 2 1.5 -12.5 1.5 -16 1 -26.5 -2 -11 0.5 -12 -2 -29 0.5 -11 -1zM223 25.5l6 0 2.5 1 0.5 1.5 -1 1.5 -2.5 1 -2 0.5 -3 -0.5 -2 -1 -1 -1.5 0 -1.5 2.5 -1zM30 34.5l2 0 1 1.5 0 1.5 -2.5 1 -1 -0.5 -1 -0.5 0 -1.5 1.5 -1.5z"/><path fill="#ffffff" d="M142 16l4.5 0 5.5 0 -5.5 0 -4.5 0zM178.5 16l58.5 0 7.5 0 2 1.5 -12 1.5 -15 0.5 -25 -2 -9.5 0 -6.5 -1.5z"/><path fill="#ffffff" d="M194.5 16l46.5 0 2 1.5 -11.5 1 -13 0.5 -20.5 -1.5 -3.5 -1.5z"/><path fill="#ffffff" d="M200.5 16l37 0 2 1.5 -12 1 -12 0 -13.5 -1 -1.5 -1.5z"/><path fill="#ffffff" d="M206.5 16l27 0 2 1.5 -10.5 0.5 -12 0 -6.5 -0.5 0 -1.5z"/><path fill="#ffffff" d="M217.5 16l8.5 0 3.5 1.5 -16 0 4 -1.5z"/></g>
<text x="941" y="1165.7" text-anchor="middle">0</text>
<text x="1014.33" y="1165.7" text-anchor="middle">10</text>
<text x="1087.67" y="1165.7" text-anchor="middle">20</text>
<text x="1161" y="1165.7" text-anchor="middle">30</text>
<text x="1234.33" y="1165.7" text-anchor="middle">40</text>
<text x="1307.67" y="1165.7" text-anchor="middle">50</text>
<text x="1381" y="1165.7" text-anchor="middle">60</text>
<text x="934.7" y="1110.86" text-anchor="end">20</text>
<text x="934.7" y="1043.99" text-anchor="end">30</text>
<text x="934.7" y="977.112" text-anchor="end">40</text>
<text x="934.7" y="910.237" text-anchor="end">50</text>
<text x="1160.3" y="1198" text-anchor="middle">LONGITUDE (E)</text>
<text transform="translate(895.7,1001.75) rotate(-90)" text-anchor="middle">LATITUDE (N)</text>
<text x="1159.5" y="846.6" text-anchor="middle">expt_02.6 - Thickness anomaly layer 6 - ANNUAL MEAN - REF y51-y100</text>
<g shape-rendering="crispEdges">
<rect x="1414.1" y="1132.30" width="42.4" height="4.80" fill="#000087"/>
<rect x="1414.1" y="1128.09" width="42.4" height="4.80" fill="#000097"/>
<rect x="1414.1" y="1123.89" width="42.4" height="4.80" fill="#0000a7"/>
<rect x="1414.1" y="1119.69" width="42.4" height="4.80" fill="#0000b7"/>
<rect x="1414.1" y="1115.48" width="42.4" height="4.80" fill="#0000c7"/>
<rect x="1414.1" y="1111.28" width="42.4" height="4.80" fill="#0000d7"/>
<rect x="1414.1" y="1107.08" width="42.4" height="4.80" fill="#0000e7"/>
<rect x="1414.1" y="1102.88" width="42.4" height="4.80" fill="#0000f7"/>
<rect x="1414.1" y="1098.67" width="42.4" height="4.80" fill="#0008ff"/>
<rect x="1414.1" y="1094.47" width="42.4" height="4.80" fill="#0018ff"/>
<rect x="1414.1" y="1090.27" width="42.4" height="4.80" fill="#0028ff"/>
<rect x="1414.1" y="1086.06" width="42.4" height="4.80" fill="#0038ff"/>
<rect x="1414.1" y="1081.86" width="42.4" height="4.80" fill="#0048ff"/>
<rect x="1414.1" y="1077.66" width="42.4" height="4.80" fill="#0058ff"/>
<rect x="1414.1" y="1073.45" width="42.4" height="4.80" fill="#0068ff"/>
<rect x="1414.1" y="1069.25" width="42.4" height="4.80" fill="#0078ff"/>
<rect x="1414.1" y="1065.05" width="42.4" height="4.80" fill="#0087ff"/>
<rect x="1414.1" y="1060.84" width="42.4" height="4.80" fill="#0097ff"/>
<rect x="1414.1" y="1056.64" width="42.4" height="4.80" fill="#00a7ff"/>
<rect x="1414.1" y="1052.44" width="42.4" height="4.80" fill="#00b7ff"/>
<rect x="1414.1" y="1048.23" width="42.4" height="4.80" fill="#00c7ff"/>
<rect x="1414.1" y="1044.03" width="42.4" height="4.80" fill="#00d7ff"/>
<rect x="1414.1" y="1039.83" width="42.4" height="4.80" fill="#00e7ff"/>
<rect x="1414.1" y="1035.62" width="42.4" height="4.80" fill="#00f7ff"/>
<rect x="1414.1" y="1031.42" width="42.4" height="4.80" fill="#08fff7"/>
<rect x="1414.1" y="1027.22" width="42.4" height="4.80" fill="#18ffe7"/>
<rect x="1414.1" y="1023.02" width="42.4" height="4.80" fill="#28ffd7"/>
<rect x="1414.1" y="1018.81" width="42.4" height="4.80" fill="#38ffc7"/>
<rect x="1414.1" y="1014.61" width="42.4" height="4.80" fill="#48ffb7"/>
<rect x="1414.1" y="1010.41" width="42.4" height="4.80" fill="#58ffa7"/>
<rect x="1414.1" y="1006.20" width="42.4" height="4.80" fill="#68ff97"/>
<rect x="1414.1" y="1002.00" width="42.4" height="4.80" fill="#78ff87"/>
<rect x="1414.1" y="997.80" width="42.4" height="4.80" fill="#87ff78"/>
<rect x="1414.1" y="993.59" width="42.4" height="4.80" fill="#97ff68"/>
<rect x="1414.1" y="989.39" width="42.4" height="4.80" fill="#a7ff58"/>
<rect x="1414.1" y="985.19" width="42.4" height="4.80" fill="#b7ff48"/>
<rect x="1414.1" y="980.98" width="42.4" height="4.80" fill="#c7ff38"/>
<rect x="1414.1" y="976.78" width="42.4" height="4.80" fill="#d7ff28"/>
<rect x="1414.1" y="972.58" width="42.4" height="4.80" fill="#e7ff18"/>
<rect x="1414.1" y="968.38" width="42.4" height="4.80" fill="#f7ff08"/>
<rect x="1414.1" y="964.17" width="42.4" height="4.80" fill="#fff700"/>
<rect x="1414.1" y="959.97" width="42.4" height="4.80" fill="#ffe700"/>
<rect x="1414.1" y="955.77" width="42.4" height="4.80" fill="#ffd700"/>
<rect x="1414.1" y="951.56" width="42.4" height="4.80" fill="#ffc700"/>
<rect x="1414.1" y="947.36" width="42.4" height="4.80" fill="#ffb700"/>
<rect x="1414.1" y="943.16" width="42.4" height="4.80" fill="#ffa700"/>
<rect x="1414.1" y="938.95" width="42.4" height="4.80" fill="#ff9700"/>
<rect x="1414.1" y="934.75" width="42.4" height="4.80" fill="#ff8700"/>
<rect x="1414.1" y="930.55" width="42.4" height="4.80" fill="#ff7800"/>
<rect x="1414.1" y="926.34" width="42.4" height="4.80" fill="#ff6800"/>
<rect x="1414.1" y="922.14" width="42.4" height="4.80" fill="#ff5800"/>
<rect x="1414.1" y="917.94" width="42.4" height="4.80" fill="#ff4800"/>
<rect x="1414.1" y="913.73" width="42.4" height="4.80" fill="#ff3800"/>
<rect x="1414.1" y="909.53" width="42.4" height="4.80" fill="#ff2800"/>
<rect x="1414.1" y="905.33" width="42.4" height="4.80" fill="#ff1800"/>
<rect x="1414.1" y="901.12" width="42.4" height="4.80" fill="#ff0800"/>
<rect x="1414.1" y="896.92" width="42.4" height="4.80" fill="#f70000"/>
<rect x="1414.1" y="892.72" width="42.4" height="4.80" fill="#e70000"/>
<rect x="1414.1" y="888.52" width="42.4" height="4.80" fill="#d70000"/>
<rect x="1414.1" y="884.31" width="42.4" height="4.80" fill="#c70000"/>
<rect x="1414.1" y="880.11" width="42.4" height="4.80" fill="#b70000"/>
<rect x="1414.1" y="875.91" width="42.4" height="4.80" fill="#a70000"/>
<rect x="1414.1" y="871.70" width="42.4" height="4.80" fill="#970000"/>
<rect x="1414.1" y="867.50" width="42.4" height="4.80" fill="#870000"/>
<rect x="1414.1" y="867.5" width="42.4" height="269" fill="none" stroke="#000" stroke-width="1"/>
<line x1="1414.1" y1="880.5" x2="1418.1" y2="880.5" stroke="#000"/>
<line x1="1452.5" y1="880.5" x2="1456.5" y2="880.5" stroke="#000"/>
<line x1="1414.1" y1="954.5" x2="1418.1" y2="954.5" stroke="#000"/>
<line x1="1452.5" y1="954.5" x2="1456.5" y2="954.5" stroke="#000"/>
<line x1="1414.1" y1="1028.5" x2="1418.1" y2="1028.5" stroke="#000"/>
<line x1="1452.5" y1="1028.5" x2="1456.5" y2="1028.5" stroke="#000"/>
<line x1="1414.1" y1="1102.5" x2="1418.1" y2="1102.5" stroke="#000"/>
<line x1="1452.5" y1="1102.5" x2="1456.5" y2="1102.5" stroke="#000"/>
</g>
<text x="1461.7" y="890.832">100</text>
<text x="1461.7" y="964.875">0</text>
<text x="1461.7" y="1038.92">-100</text>
<text x="1461.7" y="1112.96">-200</text>
</svg></body></html>
